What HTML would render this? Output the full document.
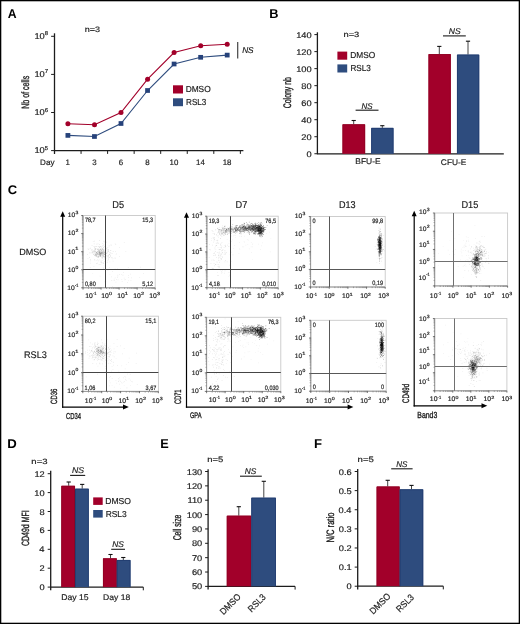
<!DOCTYPE html>
<html><head><meta charset="utf-8"><style>
html,body{margin:0;padding:0;background:#fff;}
body{width:520px;height:624px;overflow:hidden;}
svg{display:block;font-family:"Liberation Sans", sans-serif;will-change:transform;text-rendering:geometricPrecision;}
</style></head><body>
<svg width="520" height="624" viewBox="0 0 520 624">
<defs><filter id="bl" x="-5%" y="-5%" width="110%" height="110%"><feGaussianBlur stdDeviation="0.5"/></filter></defs>
<rect x="0" y="0" width="520" height="624" fill="#fff"/>
<text x="7.79" y="17.90" font-size="12.90" font-weight="bold" textLength="8.84" lengthAdjust="spacingAndGlyphs" fill="#000">A</text>
<text x="269.27" y="17.90" font-size="12.90" font-weight="bold" textLength="9.23" lengthAdjust="spacingAndGlyphs" fill="#000">B</text>
<text x="7.78" y="194.00" font-size="12.57" font-weight="bold" textLength="9.37" lengthAdjust="spacingAndGlyphs" fill="#000">C</text>
<text x="7.24" y="447.70" font-size="12.75" font-weight="bold" textLength="9.51" lengthAdjust="spacingAndGlyphs" fill="#000">D</text>
<text x="160.37" y="447.70" font-size="12.90" font-weight="bold" textLength="8.50" lengthAdjust="spacingAndGlyphs" fill="#000">E</text>
<text x="314.05" y="447.70" font-size="12.90" font-weight="bold" textLength="8.03" lengthAdjust="spacingAndGlyphs" fill="#000">F</text>
<line x1="54.50" y1="33.30" x2="54.50" y2="153.90" stroke="#1c1c1c" stroke-width="1.3"/>
<line x1="54.50" y1="150.60" x2="243.40" y2="150.60" stroke="#1c1c1c" stroke-width="1.4"/>
<line x1="51.10" y1="36.30" x2="54.50" y2="36.30" stroke="#1c1c1c" stroke-width="1"/>
<text x="34.40" y="38.90" font-size="8.43" textLength="10.40" lengthAdjust="spacingAndGlyphs" fill="#1c1c1c" stroke="#1c1c1c" stroke-width="0.18">10</text>
<text x="44.83" y="35.30" font-size="5.71" textLength="3.31" lengthAdjust="spacingAndGlyphs" fill="#1c1c1c" stroke="#1c1c1c" stroke-width="0.18">8</text>
<line x1="51.10" y1="74.40" x2="54.50" y2="74.40" stroke="#1c1c1c" stroke-width="1"/>
<text x="34.40" y="77.00" font-size="8.43" textLength="10.40" lengthAdjust="spacingAndGlyphs" fill="#1c1c1c" stroke="#1c1c1c" stroke-width="0.18">10</text>
<text x="44.79" y="73.40" font-size="5.80" textLength="3.42" lengthAdjust="spacingAndGlyphs" fill="#1c1c1c" stroke="#1c1c1c" stroke-width="0.18">7</text>
<line x1="51.10" y1="112.50" x2="54.50" y2="112.50" stroke="#1c1c1c" stroke-width="1"/>
<text x="34.40" y="115.10" font-size="8.43" textLength="10.40" lengthAdjust="spacingAndGlyphs" fill="#1c1c1c" stroke="#1c1c1c" stroke-width="0.18">10</text>
<text x="44.80" y="111.50" font-size="5.71" textLength="3.39" lengthAdjust="spacingAndGlyphs" fill="#1c1c1c" stroke="#1c1c1c" stroke-width="0.18">6</text>
<line x1="51.10" y1="150.60" x2="54.50" y2="150.60" stroke="#1c1c1c" stroke-width="1"/>
<text x="34.40" y="153.20" font-size="8.43" textLength="10.40" lengthAdjust="spacingAndGlyphs" fill="#1c1c1c" stroke="#1c1c1c" stroke-width="0.18">10</text>
<text x="44.86" y="149.60" font-size="5.80" textLength="3.28" lengthAdjust="spacingAndGlyphs" fill="#1c1c1c" stroke="#1c1c1c" stroke-width="0.18">5</text>
<line x1="54.50" y1="150.60" x2="54.50" y2="153.90" stroke="#1c1c1c" stroke-width="1"/>
<line x1="81.05" y1="150.60" x2="81.05" y2="153.90" stroke="#1c1c1c" stroke-width="1"/>
<line x1="107.60" y1="150.60" x2="107.60" y2="153.90" stroke="#1c1c1c" stroke-width="1"/>
<line x1="134.15" y1="150.60" x2="134.15" y2="153.90" stroke="#1c1c1c" stroke-width="1"/>
<line x1="160.70" y1="150.60" x2="160.70" y2="153.90" stroke="#1c1c1c" stroke-width="1"/>
<line x1="187.25" y1="150.60" x2="187.25" y2="153.90" stroke="#1c1c1c" stroke-width="1"/>
<line x1="213.80" y1="150.60" x2="213.80" y2="153.90" stroke="#1c1c1c" stroke-width="1"/>
<line x1="240.35" y1="150.60" x2="240.35" y2="153.90" stroke="#1c1c1c" stroke-width="1"/>
<text x="65.61" y="164.70" font-size="7.97" textLength="4.39" lengthAdjust="spacingAndGlyphs" fill="#1c1c1c" stroke="#1c1c1c" stroke-width="0.18">1</text>
<text x="92.28" y="164.70" font-size="7.86" textLength="4.39" lengthAdjust="spacingAndGlyphs" fill="#1c1c1c" stroke="#1c1c1c" stroke-width="0.18">3</text>
<text x="118.79" y="164.70" font-size="7.86" textLength="4.39" lengthAdjust="spacingAndGlyphs" fill="#1c1c1c" stroke="#1c1c1c" stroke-width="0.18">6</text>
<text x="145.34" y="164.70" font-size="7.86" textLength="4.39" lengthAdjust="spacingAndGlyphs" fill="#1c1c1c" stroke="#1c1c1c" stroke-width="0.18">8</text>
<text x="169.58" y="164.70" font-size="7.86" textLength="8.79" lengthAdjust="spacingAndGlyphs" fill="#1c1c1c" stroke="#1c1c1c" stroke-width="0.18">10</text>
<text x="196.09" y="164.70" font-size="7.97" textLength="8.79" lengthAdjust="spacingAndGlyphs" fill="#1c1c1c" stroke="#1c1c1c" stroke-width="0.18">14</text>
<text x="222.68" y="164.70" font-size="7.86" textLength="8.79" lengthAdjust="spacingAndGlyphs" fill="#1c1c1c" stroke="#1c1c1c" stroke-width="0.18">18</text>
<text x="40.05" y="164.70" font-size="7.97" textLength="14.37" lengthAdjust="spacingAndGlyphs" fill="#1c1c1c" stroke="#1c1c1c" stroke-width="0.18">Day</text>
<text x="84.71" y="32.00" font-size="7.86" textLength="15.30" lengthAdjust="spacingAndGlyphs" fill="#1c1c1c" stroke="#1c1c1c" stroke-width="0.18">n=3</text>
<text transform="translate(28.80,108.77) rotate(-90)" font-size="10.62" textLength="33.00" lengthAdjust="spacingAndGlyphs" fill="#1c1c1c" stroke="#1c1c1c" stroke-width="0.35">Nb of cells</text>
<polyline points="67.9,123.8 94.5,124.8 121.0,112.6 147.6,79.2 174.1,52.5 200.7,45.7 227.2,44.3" fill="none" stroke="#A2002A" stroke-width="1.1"/>
<polyline points="67.9,135.4 94.5,136.5 121.0,123.5 147.6,90.5 174.1,64.0 200.7,57.3 227.2,55.1" fill="none" stroke="#2E4C7E" stroke-width="1.1"/>
<circle cx="67.9" cy="123.8" r="2.5" fill="#A2002A"/>
<circle cx="94.5" cy="124.8" r="2.5" fill="#A2002A"/>
<circle cx="121.0" cy="112.6" r="2.5" fill="#A2002A"/>
<circle cx="147.6" cy="79.2" r="2.5" fill="#A2002A"/>
<circle cx="174.1" cy="52.5" r="2.5" fill="#A2002A"/>
<circle cx="200.7" cy="45.7" r="2.5" fill="#A2002A"/>
<circle cx="227.2" cy="44.3" r="2.5" fill="#A2002A"/>
<rect x="65.50" y="133.05" width="4.80" height="4.70" fill="#26427A"/>
<rect x="92.05" y="134.15" width="4.80" height="4.70" fill="#26427A"/>
<rect x="118.60" y="121.15" width="4.80" height="4.70" fill="#26427A"/>
<rect x="145.15" y="88.15" width="4.80" height="4.70" fill="#26427A"/>
<rect x="171.70" y="61.65" width="4.80" height="4.70" fill="#26427A"/>
<rect x="198.25" y="54.95" width="4.80" height="4.70" fill="#26427A"/>
<rect x="224.80" y="52.75" width="4.80" height="4.70" fill="#26427A"/>
<line x1="237.70" y1="41.90" x2="237.70" y2="58.60" stroke="#444" stroke-width="1.2"/>
<text x="242.15" y="52.90" font-size="8.43" font-style="italic" textLength="11.46" lengthAdjust="spacingAndGlyphs" fill="#1c1c1c" stroke="#1c1c1c" stroke-width="0.18">NS</text>
<rect x="173.00" y="85.30" width="10.00" height="8.20" fill="#A2002A"/>
<text x="185.63" y="92.10" font-size="8.71" textLength="25.09" lengthAdjust="spacingAndGlyphs" fill="#1c1c1c" stroke="#1c1c1c" stroke-width="0.18">DMSO</text>
<rect x="173.00" y="98.30" width="10.00" height="7.90" fill="#2E4C7E"/>
<text x="186.05" y="105.30" font-size="8.71" textLength="20.33" lengthAdjust="spacingAndGlyphs" fill="#1c1c1c" stroke="#1c1c1c" stroke-width="0.18">RSL3</text>
<line x1="317.40" y1="32.30" x2="317.40" y2="154.30" stroke="#1c1c1c" stroke-width="1.3"/>
<line x1="317.40" y1="153.80" x2="503.80" y2="153.80" stroke="#1c1c1c" stroke-width="1.3"/>
<line x1="314.40" y1="34.60" x2="317.40" y2="34.60" stroke="#1c1c1c" stroke-width="1"/>
<text x="296.22" y="37.60" font-size="8.29" textLength="15.48" lengthAdjust="spacingAndGlyphs" fill="#1c1c1c" stroke="#1c1c1c" stroke-width="0.18">140</text>
<line x1="314.40" y1="51.62" x2="317.40" y2="51.62" stroke="#1c1c1c" stroke-width="1"/>
<text x="296.22" y="54.62" font-size="8.29" textLength="15.48" lengthAdjust="spacingAndGlyphs" fill="#1c1c1c" stroke="#1c1c1c" stroke-width="0.18">120</text>
<line x1="314.40" y1="68.64" x2="317.40" y2="68.64" stroke="#1c1c1c" stroke-width="1"/>
<text x="296.22" y="71.64" font-size="8.29" textLength="15.48" lengthAdjust="spacingAndGlyphs" fill="#1c1c1c" stroke="#1c1c1c" stroke-width="0.18">100</text>
<line x1="314.40" y1="85.66" x2="317.40" y2="85.66" stroke="#1c1c1c" stroke-width="1"/>
<text x="301.37" y="88.66" font-size="8.29" textLength="10.32" lengthAdjust="spacingAndGlyphs" fill="#1c1c1c" stroke="#1c1c1c" stroke-width="0.18">80</text>
<line x1="314.40" y1="102.68" x2="317.40" y2="102.68" stroke="#1c1c1c" stroke-width="1"/>
<text x="301.37" y="105.68" font-size="8.29" textLength="10.32" lengthAdjust="spacingAndGlyphs" fill="#1c1c1c" stroke="#1c1c1c" stroke-width="0.18">60</text>
<line x1="314.40" y1="119.70" x2="317.40" y2="119.70" stroke="#1c1c1c" stroke-width="1"/>
<text x="301.37" y="122.70" font-size="8.29" textLength="10.32" lengthAdjust="spacingAndGlyphs" fill="#1c1c1c" stroke="#1c1c1c" stroke-width="0.18">40</text>
<line x1="314.40" y1="136.72" x2="317.40" y2="136.72" stroke="#1c1c1c" stroke-width="1"/>
<text x="301.37" y="139.72" font-size="8.29" textLength="10.32" lengthAdjust="spacingAndGlyphs" fill="#1c1c1c" stroke="#1c1c1c" stroke-width="0.18">20</text>
<line x1="314.40" y1="153.74" x2="317.40" y2="153.74" stroke="#1c1c1c" stroke-width="1"/>
<text x="306.52" y="156.74" font-size="8.29" textLength="5.16" lengthAdjust="spacingAndGlyphs" fill="#1c1c1c" stroke="#1c1c1c" stroke-width="0.18">0</text>
<text x="343.49" y="36.90" font-size="7.71" textLength="15.84" lengthAdjust="spacingAndGlyphs" fill="#1c1c1c" stroke="#1c1c1c" stroke-width="0.18">n=3</text>
<text transform="translate(290.70,108.25) rotate(-90)" font-size="10.90" textLength="31.14" lengthAdjust="spacingAndGlyphs" fill="#1c1c1c" stroke="#1c1c1c" stroke-width="0.35">Colony nb</text>
<line x1="353.70" y1="124.30" x2="353.70" y2="120.50" stroke="#444" stroke-width="1"/>
<line x1="351.60" y1="120.50" x2="355.80" y2="120.50" stroke="#111" stroke-width="1.1"/>
<rect x="342.50" y="124.30" width="22.60" height="29.50" fill="#A2002A"/>
<path d="M342.90 153.80V124.70H364.70V153.80" fill="none" stroke="#8E0022" stroke-width="0.8"/>
<line x1="382.30" y1="127.90" x2="382.30" y2="125.70" stroke="#444" stroke-width="1"/>
<line x1="380.20" y1="125.70" x2="384.40" y2="125.70" stroke="#111" stroke-width="1.1"/>
<rect x="371.20" y="127.90" width="22.30" height="25.90" fill="#2E4C7E"/>
<path d="M371.60 153.80V128.30H393.10V153.80" fill="none" stroke="#1F3A6E" stroke-width="0.8"/>
<line x1="439.30" y1="54.10" x2="439.30" y2="46.40" stroke="#444" stroke-width="1"/>
<line x1="437.20" y1="46.40" x2="441.40" y2="46.40" stroke="#111" stroke-width="1.1"/>
<rect x="428.50" y="54.10" width="22.30" height="99.70" fill="#A2002A"/>
<path d="M428.90 153.80V54.50H450.40V153.80" fill="none" stroke="#8E0022" stroke-width="0.8"/>
<line x1="468.00" y1="54.60" x2="468.00" y2="41.20" stroke="#444" stroke-width="1"/>
<line x1="465.90" y1="41.20" x2="470.10" y2="41.20" stroke="#111" stroke-width="1.1"/>
<rect x="457.00" y="54.60" width="22.20" height="99.20" fill="#2E4C7E"/>
<path d="M457.40 153.80V55.00H478.80V153.80" fill="none" stroke="#1F3A6E" stroke-width="0.8"/>
<line x1="355.60" y1="110.20" x2="378.50" y2="110.20" stroke="#1a1a1a" stroke-width="1.1"/>
<text x="361.46" y="108.50" font-size="8.29" font-style="italic" textLength="11.05" lengthAdjust="spacingAndGlyphs" fill="#1c1c1c" stroke="#1c1c1c" stroke-width="0.18">NS</text>
<line x1="443.00" y1="35.90" x2="465.80" y2="35.90" stroke="#1a1a1a" stroke-width="1.1"/>
<text x="448.74" y="33.70" font-size="8.29" font-style="italic" textLength="11.88" lengthAdjust="spacingAndGlyphs" fill="#1c1c1c" stroke="#1c1c1c" stroke-width="0.18">NS</text>
<text x="355.33" y="164.40" font-size="8.26" textLength="25.21" lengthAdjust="spacingAndGlyphs" fill="#1c1c1c" stroke="#1c1c1c" stroke-width="0.18">BFU-E</text>
<text x="440.88" y="164.70" font-size="8.14" textLength="25.45" lengthAdjust="spacingAndGlyphs" fill="#1c1c1c" stroke="#1c1c1c" stroke-width="0.18">CFU-E</text>
<rect x="337.40" y="51.60" width="9.80" height="8.10" fill="#A2002A"/>
<text x="350.23" y="58.40" font-size="8.71" textLength="24.98" lengthAdjust="spacingAndGlyphs" fill="#1c1c1c" stroke="#1c1c1c" stroke-width="0.18">DMSO</text>
<rect x="337.40" y="64.40" width="9.80" height="8.10" fill="#2E4C7E"/>
<text x="350.45" y="71.20" font-size="8.71" textLength="20.43" lengthAdjust="spacingAndGlyphs" fill="#1c1c1c" stroke="#1c1c1c" stroke-width="0.18">RSL3</text>
<text x="112.35" y="207.80" font-size="10.00" textLength="11.76" lengthAdjust="spacingAndGlyphs" fill="#1c1c1c" stroke="#1c1c1c" stroke-width="0.18">D5</text>
<text x="235.60" y="207.80" font-size="10.00" textLength="11.76" lengthAdjust="spacingAndGlyphs" fill="#1c1c1c" stroke="#1c1c1c" stroke-width="0.18">D7</text>
<text x="339.02" y="207.80" font-size="9.86" textLength="16.64" lengthAdjust="spacingAndGlyphs" fill="#1c1c1c" stroke="#1c1c1c" stroke-width="0.18">D13</text>
<text x="461.38" y="207.80" font-size="10.00" textLength="16.88" lengthAdjust="spacingAndGlyphs" fill="#1c1c1c" stroke="#1c1c1c" stroke-width="0.18">D15</text>
<text x="19.18" y="254.90" font-size="9.14" textLength="27.18" lengthAdjust="spacingAndGlyphs" fill="#1c1c1c" stroke="#1c1c1c" stroke-width="0.18">DMSO</text>
<text x="23.97" y="358.00" font-size="9.57" textLength="22.86" lengthAdjust="spacingAndGlyphs" fill="#1c1c1c" stroke="#1c1c1c" stroke-width="0.18">RSL3</text>
<rect x="83.0" y="215.5" width="72.2" height="72.3" fill="none" stroke="#c8c8c8" stroke-width="0.9"/>
<g filter="url(#bl)">
<path d="M99.0 253.3h0.7v0.7h-0.7zM99.1 251.4h0.7v0.7h-0.7zM97.3 251.6h0.7v0.7h-0.7zM102.6 253.1h0.7v0.7h-0.7zM102.4 252.7h0.7v0.7h-0.7zM100.7 252.5h0.7v0.7h-0.7zM95.4 254.1h0.7v0.7h-0.7zM101.0 253.2h0.7v0.7h-0.7zM95.3 248.1h0.7v0.7h-0.7zM97.4 251.0h0.7v0.7h-0.7zM100.5 252.0h0.7v0.7h-0.7zM101.1 250.6h0.7v0.7h-0.7zM100.5 253.0h0.7v0.7h-0.7zM98.0 256.1h0.7v0.7h-0.7zM101.1 254.9h0.7v0.7h-0.7zM98.1 250.4h0.7v0.7h-0.7zM98.8 251.9h0.7v0.7h-0.7zM101.3 252.7h0.7v0.7h-0.7zM98.5 249.9h0.7v0.7h-0.7zM98.3 254.9h0.7v0.7h-0.7z" fill="#000" fill-opacity="0.18"/>
<path d="M97.6 252.7h0.7v0.7h-0.7zM100.8 248.7h0.7v0.7h-0.7zM99.8 255.1h0.7v0.7h-0.7zM94.5 251.4h0.7v0.7h-0.7zM99.4 250.2h0.7v0.7h-0.7zM101.0 252.0h0.7v0.7h-0.7zM95.9 254.0h0.7v0.7h-0.7zM101.4 254.3h0.7v0.7h-0.7zM103.4 252.9h0.7v0.7h-0.7zM100.0 249.1h0.7v0.7h-0.7zM101.3 250.7h0.7v0.7h-0.7zM98.5 249.2h0.7v0.7h-0.7zM97.2 250.9h0.7v0.7h-0.7zM103.1 247.4h0.7v0.7h-0.7zM95.9 252.7h0.7v0.7h-0.7zM103.5 253.4h0.7v0.7h-0.7zM94.8 246.3h0.7v0.7h-0.7zM100.6 250.4h0.7v0.7h-0.7zM96.8 254.3h0.7v0.7h-0.7zM102.6 252.5h0.7v0.7h-0.7z" fill="#000" fill-opacity="0.18"/>
<path d="M100.3 253.1h0.7v0.7h-0.7zM103.8 253.5h0.7v0.7h-0.7zM101.0 253.4h0.7v0.7h-0.7zM95.6 255.0h0.7v0.7h-0.7zM102.2 253.3h0.7v0.7h-0.7zM94.6 250.6h0.7v0.7h-0.7zM101.9 247.9h0.7v0.7h-0.7zM99.2 254.4h0.7v0.7h-0.7zM96.3 255.8h0.7v0.7h-0.7zM101.1 251.8h0.7v0.7h-0.7zM100.5 253.6h0.7v0.7h-0.7zM100.0 254.7h0.7v0.7h-0.7zM98.0 251.1h0.7v0.7h-0.7zM102.4 252.2h0.7v0.7h-0.7zM97.4 254.3h0.7v0.7h-0.7zM103.5 251.1h0.7v0.7h-0.7zM96.1 251.8h0.7v0.7h-0.7zM99.3 251.4h0.7v0.7h-0.7zM103.4 249.7h0.7v0.7h-0.7zM103.0 249.2h0.7v0.7h-0.7z" fill="#000" fill-opacity="0.18"/>
<path d="M97.7 253.6h0.7v0.7h-0.7zM102.6 254.1h0.7v0.7h-0.7zM100.6 252.4h0.7v0.7h-0.7zM100.1 253.4h0.7v0.7h-0.7zM99.2 252.7h0.7v0.7h-0.7zM101.2 252.1h0.7v0.7h-0.7zM101.7 253.4h0.7v0.7h-0.7zM104.9 252.8h0.7v0.7h-0.7zM98.6 251.2h0.7v0.7h-0.7zM99.7 254.2h0.7v0.7h-0.7zM98.8 253.0h0.7v0.7h-0.7zM104.5 246.2h0.7v0.7h-0.7zM96.8 252.7h0.7v0.7h-0.7zM100.7 252.6h0.7v0.7h-0.7zM98.6 253.6h0.7v0.7h-0.7zM100.4 250.9h0.7v0.7h-0.7zM106.0 252.9h0.7v0.7h-0.7zM98.3 251.9h0.7v0.7h-0.7zM99.1 252.0h0.7v0.7h-0.7zM92.6 251.0h0.7v0.7h-0.7z" fill="#000" fill-opacity="0.18"/>
<path d="M102.3 249.4h0.7v0.7h-0.7zM99.5 254.3h0.7v0.7h-0.7zM101.9 255.5h0.7v0.7h-0.7zM95.3 251.3h0.7v0.7h-0.7zM98.8 253.5h0.7v0.7h-0.7zM102.5 245.9h0.7v0.7h-0.7zM102.5 248.8h0.7v0.7h-0.7zM101.5 248.7h0.7v0.7h-0.7zM100.2 254.8h0.7v0.7h-0.7zM99.3 252.5h0.7v0.7h-0.7zM101.8 252.4h0.7v0.7h-0.7zM99.5 255.6h0.7v0.7h-0.7zM102.4 251.4h0.7v0.7h-0.7zM106.8 249.5h0.7v0.7h-0.7zM102.1 251.5h0.7v0.7h-0.7zM100.0 253.7h0.7v0.7h-0.7zM100.3 253.6h0.7v0.7h-0.7zM95.7 248.6h0.7v0.7h-0.7zM101.3 249.9h0.7v0.7h-0.7zM97.0 248.7h0.7v0.7h-0.7z" fill="#000" fill-opacity="0.18"/>
<path d="M103.0 253.8h0.7v0.7h-0.7zM103.5 249.9h0.7v0.7h-0.7zM99.7 249.5h0.7v0.7h-0.7zM101.7 255.8h0.7v0.7h-0.7zM97.4 255.7h0.7v0.7h-0.7zM102.3 251.7h0.7v0.7h-0.7zM94.6 255.3h0.7v0.7h-0.7zM99.4 250.7h0.7v0.7h-0.7zM100.7 253.0h0.7v0.7h-0.7zM103.6 249.8h0.7v0.7h-0.7zM102.7 255.5h0.7v0.7h-0.7zM103.5 251.7h0.7v0.7h-0.7zM97.8 254.4h0.7v0.7h-0.7zM100.0 252.4h0.7v0.7h-0.7zM103.4 251.5h0.7v0.7h-0.7zM93.7 251.2h0.7v0.7h-0.7zM94.9 254.0h0.7v0.7h-0.7zM100.5 250.7h0.7v0.7h-0.7zM99.7 254.0h0.7v0.7h-0.7zM99.9 255.2h0.7v0.7h-0.7z" fill="#000" fill-opacity="0.18"/>
<path d="M99.5 254.5h0.7v0.7h-0.7zM103.6 255.8h0.7v0.7h-0.7zM98.0 254.1h0.7v0.7h-0.7zM94.8 249.6h0.7v0.7h-0.7zM94.6 254.6h0.7v0.7h-0.7zM96.5 252.1h0.7v0.7h-0.7zM99.2 252.0h0.7v0.7h-0.7zM98.2 252.6h0.7v0.7h-0.7zM104.4 252.2h0.7v0.7h-0.7zM101.1 254.4h0.7v0.7h-0.7z" fill="#000" fill-opacity="0.18"/>
<path d="M98.9 246.8h0.7v0.7h-0.7zM96.9 257.3h0.7v0.7h-0.7zM90.9 249.8h0.7v0.7h-0.7zM105.5 256.1h0.7v0.7h-0.7zM100.0 256.1h0.7v0.7h-0.7zM100.9 247.2h0.7v0.7h-0.7zM91.4 249.6h0.7v0.7h-0.7zM105.1 250.0h0.7v0.7h-0.7zM95.0 249.0h0.7v0.7h-0.7zM91.6 252.0h0.7v0.7h-0.7zM93.5 254.1h0.7v0.7h-0.7zM87.0 254.0h0.7v0.7h-0.7zM96.5 243.8h0.7v0.7h-0.7zM104.0 251.3h0.7v0.7h-0.7zM87.7 248.6h0.7v0.7h-0.7zM101.6 250.4h0.7v0.7h-0.7zM104.3 255.9h0.7v0.7h-0.7zM103.7 254.0h0.7v0.7h-0.7zM107.3 255.5h0.7v0.7h-0.7zM102.5 243.1h0.7v0.7h-0.7z" fill="#000" fill-opacity="0.13"/>
<path d="M104.9 258.4h0.7v0.7h-0.7zM98.4 250.4h0.7v0.7h-0.7zM110.7 244.6h0.7v0.7h-0.7zM102.6 263.4h0.7v0.7h-0.7zM94.9 255.6h0.7v0.7h-0.7zM110.4 252.0h0.7v0.7h-0.7zM103.1 256.6h0.7v0.7h-0.7zM95.0 252.1h0.7v0.7h-0.7zM101.6 256.2h0.7v0.7h-0.7zM99.8 251.6h0.7v0.7h-0.7zM94.4 250.9h0.7v0.7h-0.7zM104.9 253.0h0.7v0.7h-0.7zM95.3 248.7h0.7v0.7h-0.7zM114.7 257.6h0.7v0.7h-0.7zM103.5 240.8h0.7v0.7h-0.7zM103.4 254.7h0.7v0.7h-0.7zM109.3 254.4h0.7v0.7h-0.7zM99.6 254.9h0.7v0.7h-0.7zM89.3 257.1h0.7v0.7h-0.7zM101.8 249.3h0.7v0.7h-0.7z" fill="#000" fill-opacity="0.13"/>
<path d="M107.3 260.6h0.7v0.7h-0.7zM92.3 249.5h0.7v0.7h-0.7zM101.6 253.3h0.7v0.7h-0.7zM97.8 248.1h0.7v0.7h-0.7zM111.7 257.2h0.7v0.7h-0.7zM93.4 246.4h0.7v0.7h-0.7zM109.4 257.0h0.7v0.7h-0.7zM110.0 256.1h0.7v0.7h-0.7zM95.2 253.7h0.7v0.7h-0.7zM88.1 249.1h0.7v0.7h-0.7zM99.7 254.9h0.7v0.7h-0.7zM96.0 251.9h0.7v0.7h-0.7zM102.5 254.2h0.7v0.7h-0.7zM103.5 253.4h0.7v0.7h-0.7zM98.2 256.1h0.7v0.7h-0.7zM100.3 248.8h0.7v0.7h-0.7zM96.6 252.5h0.7v0.7h-0.7zM99.4 253.2h0.7v0.7h-0.7zM100.0 253.3h0.7v0.7h-0.7zM99.3 246.8h0.7v0.7h-0.7z" fill="#000" fill-opacity="0.13"/>
<path d="M102.3 257.2h0.7v0.7h-0.7zM102.4 251.6h0.7v0.7h-0.7zM102.5 248.2h0.7v0.7h-0.7zM89.6 252.8h0.7v0.7h-0.7zM94.9 255.8h0.7v0.7h-0.7zM94.0 240.7h0.7v0.7h-0.7zM94.3 259.6h0.7v0.7h-0.7zM97.9 246.3h0.7v0.7h-0.7zM95.8 254.8h0.7v0.7h-0.7zM102.7 253.3h0.7v0.7h-0.7zM108.2 255.7h0.7v0.7h-0.7zM99.9 255.2h0.7v0.7h-0.7zM109.1 256.9h0.7v0.7h-0.7zM105.6 247.6h0.7v0.7h-0.7zM99.2 255.8h0.7v0.7h-0.7zM98.4 257.3h0.7v0.7h-0.7zM103.3 256.6h0.7v0.7h-0.7zM98.8 264.0h0.7v0.7h-0.7zM106.8 251.5h0.7v0.7h-0.7zM100.5 264.2h0.7v0.7h-0.7z" fill="#000" fill-opacity="0.13"/>
<path d="M98.1 256.4h0.7v0.7h-0.7zM105.4 252.5h0.7v0.7h-0.7zM93.6 253.3h0.7v0.7h-0.7zM102.0 257.6h0.7v0.7h-0.7zM104.3 252.6h0.7v0.7h-0.7zM104.7 254.9h0.7v0.7h-0.7zM101.1 252.7h0.7v0.7h-0.7zM98.7 255.6h0.7v0.7h-0.7zM94.2 249.7h0.7v0.7h-0.7zM100.0 245.9h0.7v0.7h-0.7zM97.6 243.5h0.7v0.7h-0.7zM96.2 255.1h0.7v0.7h-0.7zM103.1 252.3h0.7v0.7h-0.7zM98.7 246.1h0.7v0.7h-0.7zM110.1 254.8h0.7v0.7h-0.7zM106.0 248.5h0.7v0.7h-0.7zM99.0 244.3h0.7v0.7h-0.7zM104.3 256.7h0.7v0.7h-0.7zM89.6 252.3h0.7v0.7h-0.7zM103.5 244.6h0.7v0.7h-0.7z" fill="#000" fill-opacity="0.13"/>
<path d="M90.0 247.7h0.7v0.7h-0.7zM96.5 246.2h0.7v0.7h-0.7zM100.2 253.6h0.7v0.7h-0.7zM103.5 255.7h0.7v0.7h-0.7zM108.3 257.7h0.7v0.7h-0.7zM92.8 250.2h0.7v0.7h-0.7zM94.2 247.7h0.7v0.7h-0.7zM99.6 252.5h0.7v0.7h-0.7zM102.7 245.4h0.7v0.7h-0.7zM93.2 252.4h0.7v0.7h-0.7zM98.9 251.1h0.7v0.7h-0.7zM99.7 249.1h0.7v0.7h-0.7zM103.9 254.1h0.7v0.7h-0.7zM99.5 249.5h0.7v0.7h-0.7zM99.0 240.3h0.7v0.7h-0.7zM94.6 252.7h0.7v0.7h-0.7zM91.7 253.4h0.7v0.7h-0.7zM100.8 246.3h0.7v0.7h-0.7zM98.6 251.1h0.7v0.7h-0.7zM102.5 255.3h0.7v0.7h-0.7z" fill="#000" fill-opacity="0.13"/>
<path d="M99.8 248.7h0.7v0.7h-0.7zM99.2 252.2h0.7v0.7h-0.7zM104.0 253.8h0.7v0.7h-0.7zM96.0 246.4h0.7v0.7h-0.7zM97.9 249.2h0.7v0.7h-0.7zM93.9 252.0h0.7v0.7h-0.7zM97.3 253.0h0.7v0.7h-0.7zM102.9 250.6h0.7v0.7h-0.7zM112.8 251.1h0.7v0.7h-0.7zM106.1 253.0h0.7v0.7h-0.7zM106.1 241.8h0.7v0.7h-0.7zM95.9 253.6h0.7v0.7h-0.7zM103.3 263.0h0.7v0.7h-0.7zM101.8 258.3h0.7v0.7h-0.7zM104.2 256.8h0.7v0.7h-0.7zM102.8 251.8h0.7v0.7h-0.7zM102.8 247.6h0.7v0.7h-0.7zM106.5 247.9h0.7v0.7h-0.7zM101.4 262.0h0.7v0.7h-0.7zM98.8 252.6h0.7v0.7h-0.7z" fill="#000" fill-opacity="0.13"/>
<path d="M106.4 252.6h0.7v0.7h-0.7zM95.6 253.7h0.7v0.7h-0.7zM103.2 255.7h0.7v0.7h-0.7zM95.8 260.4h0.7v0.7h-0.7zM109.2 252.6h0.7v0.7h-0.7zM101.5 250.6h0.7v0.7h-0.7zM107.8 249.3h0.7v0.7h-0.7zM103.7 250.3h0.7v0.7h-0.7zM96.2 255.7h0.7v0.7h-0.7zM107.3 252.5h0.7v0.7h-0.7zM96.3 256.2h0.7v0.7h-0.7zM99.7 253.9h0.7v0.7h-0.7zM108.4 257.6h0.7v0.7h-0.7zM97.1 262.8h0.7v0.7h-0.7zM100.0 256.0h0.7v0.7h-0.7zM96.4 252.3h0.7v0.7h-0.7zM90.4 260.5h0.7v0.7h-0.7zM107.5 247.0h0.7v0.7h-0.7zM91.7 245.2h0.7v0.7h-0.7zM106.5 250.4h0.7v0.7h-0.7z" fill="#000" fill-opacity="0.13"/>
<path d="M99.7 251.1h0.7v0.7h-0.7zM99.3 247.6h0.7v0.7h-0.7zM100.1 246.0h0.7v0.7h-0.7zM99.6 253.9h0.7v0.7h-0.7zM102.6 251.5h0.7v0.7h-0.7zM95.0 253.2h0.7v0.7h-0.7zM97.3 259.5h0.7v0.7h-0.7zM104.2 252.0h0.7v0.7h-0.7zM97.4 249.3h0.7v0.7h-0.7zM94.8 250.9h0.7v0.7h-0.7zM101.6 254.8h0.7v0.7h-0.7zM103.1 261.9h0.7v0.7h-0.7zM96.1 252.6h0.7v0.7h-0.7zM115.4 244.1h0.7v0.7h-0.7zM97.1 253.3h0.7v0.7h-0.7zM100.8 254.3h0.7v0.7h-0.7zM98.7 254.1h0.7v0.7h-0.7zM100.3 256.0h0.7v0.7h-0.7zM89.6 248.5h0.7v0.7h-0.7zM100.0 247.9h0.7v0.7h-0.7z" fill="#000" fill-opacity="0.13"/>
<path d="M94.3 255.3h0.7v0.7h-0.7zM96.4 255.4h0.7v0.7h-0.7zM104.1 253.9h0.7v0.7h-0.7zM102.8 252.0h0.7v0.7h-0.7zM92.2 252.4h0.7v0.7h-0.7zM102.5 250.1h0.7v0.7h-0.7zM99.5 255.9h0.7v0.7h-0.7zM95.2 255.4h0.7v0.7h-0.7zM110.2 250.0h0.7v0.7h-0.7zM100.8 251.8h0.7v0.7h-0.7zM108.5 253.9h0.7v0.7h-0.7zM104.9 249.4h0.7v0.7h-0.7zM99.9 252.5h0.7v0.7h-0.7zM90.2 259.0h0.7v0.7h-0.7zM104.9 244.6h0.7v0.7h-0.7zM104.1 251.9h0.7v0.7h-0.7zM102.5 254.1h0.7v0.7h-0.7zM91.8 251.5h0.7v0.7h-0.7zM108.2 249.9h0.7v0.7h-0.7zM94.4 246.4h0.7v0.7h-0.7z" fill="#000" fill-opacity="0.13"/>
<path d="M93.3 254.0h0.7v0.7h-0.7zM109.3 254.4h0.7v0.7h-0.7zM101.4 262.6h0.7v0.7h-0.7zM97.1 249.5h0.7v0.7h-0.7zM102.9 255.0h0.7v0.7h-0.7zM94.4 247.2h0.7v0.7h-0.7zM101.6 253.6h0.7v0.7h-0.7zM92.8 251.6h0.7v0.7h-0.7zM97.0 254.6h0.7v0.7h-0.7zM99.4 252.1h0.7v0.7h-0.7zM98.1 257.2h0.7v0.7h-0.7zM107.6 250.8h0.7v0.7h-0.7zM104.7 249.1h0.7v0.7h-0.7zM100.4 255.9h0.7v0.7h-0.7zM108.3 250.8h0.7v0.7h-0.7zM99.6 253.4h0.7v0.7h-0.7zM91.8 252.6h0.7v0.7h-0.7zM96.3 254.2h0.7v0.7h-0.7zM93.8 243.6h0.7v0.7h-0.7zM100.2 253.7h0.7v0.7h-0.7z" fill="#000" fill-opacity="0.13"/>
<path d="M97.0 256.5h0.7v0.7h-0.7zM98.5 249.8h0.7v0.7h-0.7zM102.6 245.4h0.7v0.7h-0.7zM96.3 252.4h0.7v0.7h-0.7zM104.7 251.8h0.7v0.7h-0.7zM101.7 249.6h0.7v0.7h-0.7zM101.7 260.0h0.7v0.7h-0.7zM96.2 263.1h0.7v0.7h-0.7zM96.5 252.6h0.7v0.7h-0.7zM101.0 257.1h0.7v0.7h-0.7z" fill="#000" fill-opacity="0.13"/>
<path d="M92.9 241.3h0.7v0.7h-0.7zM109.5 261.6h0.7v0.7h-0.7zM109.6 274.4h0.7v0.7h-0.7zM105.8 257.8h0.7v0.7h-0.7zM112.4 258.6h0.7v0.7h-0.7zM119.0 247.3h0.7v0.7h-0.7zM100.6 231.9h0.7v0.7h-0.7zM111.3 253.4h0.7v0.7h-0.7zM112.3 271.1h0.7v0.7h-0.7zM103.9 254.2h0.7v0.7h-0.7zM99.5 250.1h0.7v0.7h-0.7zM98.3 260.5h0.7v0.7h-0.7zM104.3 256.5h0.7v0.7h-0.7zM102.4 262.4h0.7v0.7h-0.7zM108.4 255.0h0.7v0.7h-0.7zM110.0 254.9h0.7v0.7h-0.7zM93.6 266.2h0.7v0.7h-0.7zM108.2 249.3h0.7v0.7h-0.7zM113.7 258.4h0.7v0.7h-0.7zM89.9 267.3h0.7v0.7h-0.7z" fill="#000" fill-opacity="0.1"/>
<path d="M107.0 262.2h0.7v0.7h-0.7zM105.8 255.0h0.7v0.7h-0.7zM90.1 262.8h0.7v0.7h-0.7zM104.3 254.0h0.7v0.7h-0.7zM107.2 256.5h0.7v0.7h-0.7zM110.1 253.4h0.7v0.7h-0.7zM103.7 241.0h0.7v0.7h-0.7zM100.2 260.7h0.7v0.7h-0.7zM116.0 253.5h0.7v0.7h-0.7zM102.9 267.1h0.7v0.7h-0.7zM101.1 261.1h0.7v0.7h-0.7zM119.1 256.3h0.7v0.7h-0.7zM115.0 251.0h0.7v0.7h-0.7zM105.9 255.5h0.7v0.7h-0.7zM105.0 263.9h0.7v0.7h-0.7zM125.5 251.3h0.7v0.7h-0.7zM98.8 259.5h0.7v0.7h-0.7zM94.5 259.5h0.7v0.7h-0.7zM109.1 254.1h0.7v0.7h-0.7zM108.8 245.2h0.7v0.7h-0.7z" fill="#000" fill-opacity="0.1"/>
<path d="M110.8 245.2h0.7v0.7h-0.7zM97.7 252.1h0.7v0.7h-0.7zM100.4 262.0h0.7v0.7h-0.7zM104.7 253.2h0.7v0.7h-0.7zM108.9 267.1h0.7v0.7h-0.7zM104.1 258.6h0.7v0.7h-0.7zM115.2 257.9h0.7v0.7h-0.7zM92.4 273.4h0.7v0.7h-0.7zM123.9 242.1h0.7v0.7h-0.7zM103.6 258.9h0.7v0.7h-0.7zM112.7 260.7h0.7v0.7h-0.7zM101.6 248.6h0.7v0.7h-0.7zM104.9 263.2h0.7v0.7h-0.7zM94.2 248.8h0.7v0.7h-0.7zM103.8 242.4h0.7v0.7h-0.7zM101.7 252.9h0.7v0.7h-0.7zM108.1 251.1h0.7v0.7h-0.7zM96.1 253.2h0.7v0.7h-0.7zM103.6 251.3h0.7v0.7h-0.7zM104.1 261.3h0.7v0.7h-0.7z" fill="#000" fill-opacity="0.1"/>
<path d="M114.7 267.9h0.7v0.7h-0.7zM96.9 253.1h0.7v0.7h-0.7zM97.5 255.8h0.7v0.7h-0.7zM108.7 246.5h0.7v0.7h-0.7zM108.2 255.8h0.7v0.7h-0.7zM87.6 258.0h0.7v0.7h-0.7zM114.8 242.9h0.7v0.7h-0.7zM111.3 257.5h0.7v0.7h-0.7zM108.3 259.1h0.7v0.7h-0.7zM115.7 254.4h0.7v0.7h-0.7zM111.9 253.1h0.7v0.7h-0.7zM110.6 250.3h0.7v0.7h-0.7zM103.0 268.1h0.7v0.7h-0.7zM108.0 254.9h0.7v0.7h-0.7zM93.7 250.5h0.7v0.7h-0.7zM105.7 262.6h0.7v0.7h-0.7zM107.8 259.7h0.7v0.7h-0.7zM103.6 265.5h0.7v0.7h-0.7zM100.5 252.2h0.7v0.7h-0.7z" fill="#000" fill-opacity="0.1"/>
<path d="M128.0 277.3h0.7v0.7h-0.7zM117.5 274.7h0.7v0.7h-0.7zM117.7 279.5h0.7v0.7h-0.7zM123.2 272.2h0.7v0.7h-0.7zM123.8 277.7h0.7v0.7h-0.7zM111.0 280.1h0.7v0.7h-0.7zM117.5 275.7h0.7v0.7h-0.7zM127.2 282.3h0.7v0.7h-0.7zM113.8 278.8h0.7v0.7h-0.7zM112.1 286.3h0.7v0.7h-0.7zM115.6 281.8h0.7v0.7h-0.7zM114.2 280.2h0.7v0.7h-0.7zM140.0 266.8h0.7v0.7h-0.7zM116.1 279.0h0.7v0.7h-0.7zM119.2 274.3h0.7v0.7h-0.7zM139.4 277.3h0.7v0.7h-0.7zM105.2 280.4h0.7v0.7h-0.7zM104.5 281.6h0.7v0.7h-0.7zM114.8 277.6h0.7v0.7h-0.7zM131.3 277.5h0.7v0.7h-0.7z" fill="#000" fill-opacity="0.1"/>
<path d="M107.5 270.2h0.7v0.7h-0.7zM130.6 280.0h0.7v0.7h-0.7zM112.7 280.4h0.7v0.7h-0.7zM124.5 279.6h0.7v0.7h-0.7zM99.7 275.8h0.7v0.7h-0.7zM128.1 279.9h0.7v0.7h-0.7zM127.9 267.2h0.7v0.7h-0.7zM121.5 279.0h0.7v0.7h-0.7zM143.0 273.2h0.7v0.7h-0.7zM117.0 277.1h0.7v0.7h-0.7zM128.0 275.2h0.7v0.7h-0.7zM130.3 273.8h0.7v0.7h-0.7zM122.4 274.9h0.7v0.7h-0.7zM121.4 274.2h0.7v0.7h-0.7zM105.6 281.4h0.7v0.7h-0.7zM122.7 274.8h0.7v0.7h-0.7zM121.8 281.0h0.7v0.7h-0.7zM111.2 276.6h0.7v0.7h-0.7zM124.9 279.1h0.7v0.7h-0.7zM117.0 268.6h0.7v0.7h-0.7z" fill="#000" fill-opacity="0.1"/>
</g>
<line x1="83.00" y1="215.50" x2="83.00" y2="287.80" stroke="#999" stroke-width="1.0"/>
<line x1="83.00" y1="287.80" x2="155.20" y2="287.80" stroke="#999" stroke-width="1.0"/>
<line x1="81.20" y1="287.80" x2="83.30" y2="287.80" stroke="#555" stroke-width="0.8"/>
<line x1="83.00" y1="287.50" x2="83.00" y2="289.60" stroke="#555" stroke-width="0.8"/>
<line x1="81.90" y1="282.36" x2="83.30" y2="282.36" stroke="#888" stroke-width="0.8"/>
<line x1="88.43" y1="287.50" x2="88.43" y2="288.90" stroke="#888" stroke-width="0.8"/>
<line x1="81.90" y1="279.18" x2="83.30" y2="279.18" stroke="#888" stroke-width="0.8"/>
<line x1="91.61" y1="287.50" x2="91.61" y2="288.90" stroke="#888" stroke-width="0.8"/>
<line x1="81.90" y1="276.92" x2="83.30" y2="276.92" stroke="#888" stroke-width="0.8"/>
<line x1="93.87" y1="287.50" x2="93.87" y2="288.90" stroke="#888" stroke-width="0.8"/>
<line x1="81.90" y1="275.17" x2="83.30" y2="275.17" stroke="#888" stroke-width="0.8"/>
<line x1="95.62" y1="287.50" x2="95.62" y2="288.90" stroke="#888" stroke-width="0.8"/>
<line x1="81.90" y1="273.73" x2="83.30" y2="273.73" stroke="#888" stroke-width="0.8"/>
<line x1="97.05" y1="287.50" x2="97.05" y2="288.90" stroke="#888" stroke-width="0.8"/>
<line x1="81.90" y1="272.52" x2="83.30" y2="272.52" stroke="#888" stroke-width="0.8"/>
<line x1="98.25" y1="287.50" x2="98.25" y2="288.90" stroke="#888" stroke-width="0.8"/>
<line x1="81.90" y1="271.48" x2="83.30" y2="271.48" stroke="#888" stroke-width="0.8"/>
<line x1="99.30" y1="287.50" x2="99.30" y2="288.90" stroke="#888" stroke-width="0.8"/>
<line x1="81.90" y1="270.55" x2="83.30" y2="270.55" stroke="#888" stroke-width="0.8"/>
<line x1="100.22" y1="287.50" x2="100.22" y2="288.90" stroke="#888" stroke-width="0.8"/>
<line x1="81.20" y1="269.73" x2="83.30" y2="269.73" stroke="#555" stroke-width="0.8"/>
<line x1="101.05" y1="287.50" x2="101.05" y2="289.60" stroke="#555" stroke-width="0.8"/>
<line x1="81.90" y1="264.28" x2="83.30" y2="264.28" stroke="#888" stroke-width="0.8"/>
<line x1="106.48" y1="287.50" x2="106.48" y2="288.90" stroke="#888" stroke-width="0.8"/>
<line x1="81.90" y1="261.10" x2="83.30" y2="261.10" stroke="#888" stroke-width="0.8"/>
<line x1="109.66" y1="287.50" x2="109.66" y2="288.90" stroke="#888" stroke-width="0.8"/>
<line x1="81.90" y1="258.84" x2="83.30" y2="258.84" stroke="#888" stroke-width="0.8"/>
<line x1="111.92" y1="287.50" x2="111.92" y2="288.90" stroke="#888" stroke-width="0.8"/>
<line x1="81.90" y1="257.09" x2="83.30" y2="257.09" stroke="#888" stroke-width="0.8"/>
<line x1="113.67" y1="287.50" x2="113.67" y2="288.90" stroke="#888" stroke-width="0.8"/>
<line x1="81.90" y1="255.66" x2="83.30" y2="255.66" stroke="#888" stroke-width="0.8"/>
<line x1="115.10" y1="287.50" x2="115.10" y2="288.90" stroke="#888" stroke-width="0.8"/>
<line x1="81.90" y1="254.45" x2="83.30" y2="254.45" stroke="#888" stroke-width="0.8"/>
<line x1="116.30" y1="287.50" x2="116.30" y2="288.90" stroke="#888" stroke-width="0.8"/>
<line x1="81.90" y1="253.40" x2="83.30" y2="253.40" stroke="#888" stroke-width="0.8"/>
<line x1="117.35" y1="287.50" x2="117.35" y2="288.90" stroke="#888" stroke-width="0.8"/>
<line x1="81.90" y1="252.48" x2="83.30" y2="252.48" stroke="#888" stroke-width="0.8"/>
<line x1="118.27" y1="287.50" x2="118.27" y2="288.90" stroke="#888" stroke-width="0.8"/>
<line x1="81.20" y1="251.65" x2="83.30" y2="251.65" stroke="#555" stroke-width="0.8"/>
<line x1="119.10" y1="287.50" x2="119.10" y2="289.60" stroke="#555" stroke-width="0.8"/>
<line x1="81.90" y1="246.21" x2="83.30" y2="246.21" stroke="#888" stroke-width="0.8"/>
<line x1="124.53" y1="287.50" x2="124.53" y2="288.90" stroke="#888" stroke-width="0.8"/>
<line x1="81.90" y1="243.03" x2="83.30" y2="243.03" stroke="#888" stroke-width="0.8"/>
<line x1="127.71" y1="287.50" x2="127.71" y2="288.90" stroke="#888" stroke-width="0.8"/>
<line x1="81.90" y1="240.77" x2="83.30" y2="240.77" stroke="#888" stroke-width="0.8"/>
<line x1="129.97" y1="287.50" x2="129.97" y2="288.90" stroke="#888" stroke-width="0.8"/>
<line x1="81.90" y1="239.02" x2="83.30" y2="239.02" stroke="#888" stroke-width="0.8"/>
<line x1="131.72" y1="287.50" x2="131.72" y2="288.90" stroke="#888" stroke-width="0.8"/>
<line x1="81.90" y1="237.58" x2="83.30" y2="237.58" stroke="#888" stroke-width="0.8"/>
<line x1="133.15" y1="287.50" x2="133.15" y2="288.90" stroke="#888" stroke-width="0.8"/>
<line x1="81.90" y1="236.37" x2="83.30" y2="236.37" stroke="#888" stroke-width="0.8"/>
<line x1="134.35" y1="287.50" x2="134.35" y2="288.90" stroke="#888" stroke-width="0.8"/>
<line x1="81.90" y1="235.33" x2="83.30" y2="235.33" stroke="#888" stroke-width="0.8"/>
<line x1="135.40" y1="287.50" x2="135.40" y2="288.90" stroke="#888" stroke-width="0.8"/>
<line x1="81.90" y1="234.40" x2="83.30" y2="234.40" stroke="#888" stroke-width="0.8"/>
<line x1="136.32" y1="287.50" x2="136.32" y2="288.90" stroke="#888" stroke-width="0.8"/>
<line x1="81.20" y1="233.57" x2="83.30" y2="233.57" stroke="#555" stroke-width="0.8"/>
<line x1="137.15" y1="287.50" x2="137.15" y2="289.60" stroke="#555" stroke-width="0.8"/>
<line x1="81.90" y1="228.13" x2="83.30" y2="228.13" stroke="#888" stroke-width="0.8"/>
<line x1="142.58" y1="287.50" x2="142.58" y2="288.90" stroke="#888" stroke-width="0.8"/>
<line x1="81.90" y1="224.95" x2="83.30" y2="224.95" stroke="#888" stroke-width="0.8"/>
<line x1="145.76" y1="287.50" x2="145.76" y2="288.90" stroke="#888" stroke-width="0.8"/>
<line x1="81.90" y1="222.69" x2="83.30" y2="222.69" stroke="#888" stroke-width="0.8"/>
<line x1="148.02" y1="287.50" x2="148.02" y2="288.90" stroke="#888" stroke-width="0.8"/>
<line x1="81.90" y1="220.94" x2="83.30" y2="220.94" stroke="#888" stroke-width="0.8"/>
<line x1="149.77" y1="287.50" x2="149.77" y2="288.90" stroke="#888" stroke-width="0.8"/>
<line x1="81.90" y1="219.51" x2="83.30" y2="219.51" stroke="#888" stroke-width="0.8"/>
<line x1="151.20" y1="287.50" x2="151.20" y2="288.90" stroke="#888" stroke-width="0.8"/>
<line x1="81.90" y1="218.30" x2="83.30" y2="218.30" stroke="#888" stroke-width="0.8"/>
<line x1="152.40" y1="287.50" x2="152.40" y2="288.90" stroke="#888" stroke-width="0.8"/>
<line x1="81.90" y1="217.25" x2="83.30" y2="217.25" stroke="#888" stroke-width="0.8"/>
<line x1="153.45" y1="287.50" x2="153.45" y2="288.90" stroke="#888" stroke-width="0.8"/>
<line x1="81.90" y1="216.33" x2="83.30" y2="216.33" stroke="#888" stroke-width="0.8"/>
<line x1="154.37" y1="287.50" x2="154.37" y2="288.90" stroke="#888" stroke-width="0.8"/>
<line x1="81.20" y1="215.50" x2="83.00" y2="215.50" stroke="#555" stroke-width="0.8"/>
<line x1="155.20" y1="287.80" x2="155.20" y2="289.60" stroke="#555" stroke-width="0.8"/>
<line x1="105.50" y1="215.50" x2="105.50" y2="287.80" stroke="#454545" stroke-width="1.0"/>
<line x1="83.00" y1="269.50" x2="155.20" y2="269.50" stroke="#454545" stroke-width="1.0"/>
<text x="67.89" y="217.40" font-size="6.57" textLength="7.49" lengthAdjust="spacingAndGlyphs" fill="#1c1c1c" stroke="#1c1c1c" stroke-width="0.18">10</text>
<text x="75.60" y="214.30" font-size="4.57" textLength="2.84" lengthAdjust="spacingAndGlyphs" fill="#1c1c1c" stroke="#1c1c1c" stroke-width="0.18">3</text>
<text x="67.89" y="235.47" font-size="6.57" textLength="7.49" lengthAdjust="spacingAndGlyphs" fill="#1c1c1c" stroke="#1c1c1c" stroke-width="0.18">10</text>
<text x="75.54" y="232.38" font-size="4.57" textLength="2.93" lengthAdjust="spacingAndGlyphs" fill="#1c1c1c" stroke="#1c1c1c" stroke-width="0.18">2</text>
<text x="67.89" y="253.55" font-size="6.57" textLength="7.49" lengthAdjust="spacingAndGlyphs" fill="#1c1c1c" stroke="#1c1c1c" stroke-width="0.18">10</text>
<text x="75.38" y="250.45" font-size="4.64" textLength="3.10" lengthAdjust="spacingAndGlyphs" fill="#1c1c1c" stroke="#1c1c1c" stroke-width="0.18">1</text>
<text x="67.89" y="271.62" font-size="6.57" textLength="7.49" lengthAdjust="spacingAndGlyphs" fill="#1c1c1c" stroke="#1c1c1c" stroke-width="0.18">10</text>
<text x="75.60" y="268.53" font-size="4.57" textLength="2.81" lengthAdjust="spacingAndGlyphs" fill="#1c1c1c" stroke="#1c1c1c" stroke-width="0.18">0</text>
<text x="67.29" y="289.70" font-size="6.57" textLength="7.49" lengthAdjust="spacingAndGlyphs" fill="#1c1c1c" stroke="#1c1c1c" stroke-width="0.18">10</text>
<text x="75.03" y="286.60" font-size="4.64" textLength="3.36" lengthAdjust="spacingAndGlyphs" fill="#1c1c1c" stroke="#1c1c1c" stroke-width="0.18">-1</text>
<text x="85.29" y="298.00" font-size="6.71" textLength="7.60" lengthAdjust="spacingAndGlyphs" fill="#1c1c1c" stroke="#1c1c1c" stroke-width="0.18">10</text>
<text x="93.02" y="295.10" font-size="4.49" textLength="3.50" lengthAdjust="spacingAndGlyphs" fill="#1c1c1c" stroke="#1c1c1c" stroke-width="0.18">-1</text>
<text x="101.29" y="298.00" font-size="6.71" textLength="7.60" lengthAdjust="spacingAndGlyphs" fill="#1c1c1c" stroke="#1c1c1c" stroke-width="0.18">10</text>
<text x="108.99" y="295.10" font-size="4.43" textLength="2.93" lengthAdjust="spacingAndGlyphs" fill="#1c1c1c" stroke="#1c1c1c" stroke-width="0.18">0</text>
<text x="117.29" y="298.00" font-size="6.71" textLength="7.60" lengthAdjust="spacingAndGlyphs" fill="#1c1c1c" stroke="#1c1c1c" stroke-width="0.18">10</text>
<text x="124.76" y="295.10" font-size="4.49" textLength="3.23" lengthAdjust="spacingAndGlyphs" fill="#1c1c1c" stroke="#1c1c1c" stroke-width="0.18">1</text>
<text x="133.29" y="298.00" font-size="6.71" textLength="7.60" lengthAdjust="spacingAndGlyphs" fill="#1c1c1c" stroke="#1c1c1c" stroke-width="0.18">10</text>
<text x="140.93" y="295.10" font-size="4.43" textLength="3.06" lengthAdjust="spacingAndGlyphs" fill="#1c1c1c" stroke="#1c1c1c" stroke-width="0.18">2</text>
<text x="149.29" y="298.00" font-size="6.71" textLength="7.60" lengthAdjust="spacingAndGlyphs" fill="#1c1c1c" stroke="#1c1c1c" stroke-width="0.18">10</text>
<text x="156.99" y="295.10" font-size="4.43" textLength="2.96" lengthAdjust="spacingAndGlyphs" fill="#1c1c1c" stroke="#1c1c1c" stroke-width="0.18">3</text>
<text x="84.92" y="221.80" font-size="6.29" textLength="10.77" lengthAdjust="spacingAndGlyphs" fill="#1c1c1c" stroke="#1c1c1c" stroke-width="0.18">78,7</text>
<text x="142.29" y="221.80" font-size="6.29" textLength="10.77" lengthAdjust="spacingAndGlyphs" fill="#1c1c1c" stroke="#1c1c1c" stroke-width="0.18">15,3</text>
<text x="84.98" y="285.90" font-size="6.29" textLength="10.77" lengthAdjust="spacingAndGlyphs" fill="#1c1c1c" stroke="#1c1c1c" stroke-width="0.18">0,80</text>
<text x="142.32" y="285.90" font-size="6.29" textLength="10.77" lengthAdjust="spacingAndGlyphs" fill="#1c1c1c" stroke="#1c1c1c" stroke-width="0.18">5,12</text>
<rect x="82.8" y="316.2" width="75.6" height="75.2" fill="none" stroke="#c8c8c8" stroke-width="0.9"/>
<g filter="url(#bl)">
<path d="M103.1 352.2h0.7v0.7h-0.7zM99.9 350.8h0.7v0.7h-0.7zM100.6 350.4h0.7v0.7h-0.7zM97.2 349.7h0.7v0.7h-0.7zM98.3 350.0h0.7v0.7h-0.7zM96.9 352.9h0.7v0.7h-0.7zM96.5 352.9h0.7v0.7h-0.7zM97.3 352.2h0.7v0.7h-0.7zM103.5 351.9h0.7v0.7h-0.7zM98.0 351.5h0.7v0.7h-0.7zM100.3 347.4h0.7v0.7h-0.7zM98.3 351.8h0.7v0.7h-0.7zM98.7 351.6h0.7v0.7h-0.7zM101.8 353.2h0.7v0.7h-0.7zM102.3 352.8h0.7v0.7h-0.7zM99.2 351.4h0.7v0.7h-0.7zM99.2 350.7h0.7v0.7h-0.7zM99.4 347.4h0.7v0.7h-0.7zM99.0 351.3h0.7v0.7h-0.7zM97.4 351.3h0.7v0.7h-0.7z" fill="#000" fill-opacity="0.18"/>
<path d="M101.2 351.0h0.7v0.7h-0.7zM105.3 345.4h0.7v0.7h-0.7zM99.4 347.2h0.7v0.7h-0.7zM102.4 357.5h0.7v0.7h-0.7zM93.4 351.7h0.7v0.7h-0.7zM101.2 350.7h0.7v0.7h-0.7zM101.3 346.2h0.7v0.7h-0.7zM102.1 352.3h0.7v0.7h-0.7zM100.0 350.0h0.7v0.7h-0.7zM101.6 350.3h0.7v0.7h-0.7zM100.5 350.2h0.7v0.7h-0.7zM94.1 351.3h0.7v0.7h-0.7zM100.4 353.1h0.7v0.7h-0.7zM97.6 351.3h0.7v0.7h-0.7zM101.5 351.7h0.7v0.7h-0.7zM103.1 356.0h0.7v0.7h-0.7zM97.5 347.0h0.7v0.7h-0.7zM102.1 354.9h0.7v0.7h-0.7zM102.3 353.3h0.7v0.7h-0.7zM98.3 349.8h0.7v0.7h-0.7z" fill="#000" fill-opacity="0.18"/>
<path d="M102.2 349.3h0.7v0.7h-0.7zM95.2 349.1h0.7v0.7h-0.7zM106.4 355.8h0.7v0.7h-0.7zM98.1 349.7h0.7v0.7h-0.7zM100.5 349.7h0.7v0.7h-0.7zM103.3 351.2h0.7v0.7h-0.7zM97.1 354.4h0.7v0.7h-0.7zM98.4 351.9h0.7v0.7h-0.7zM99.9 350.7h0.7v0.7h-0.7zM100.7 349.8h0.7v0.7h-0.7zM95.1 346.3h0.7v0.7h-0.7zM96.6 349.7h0.7v0.7h-0.7zM99.8 351.5h0.7v0.7h-0.7zM101.3 351.7h0.7v0.7h-0.7zM97.8 349.8h0.7v0.7h-0.7zM94.4 351.0h0.7v0.7h-0.7zM101.2 352.6h0.7v0.7h-0.7zM99.6 351.0h0.7v0.7h-0.7zM102.3 351.4h0.7v0.7h-0.7zM101.8 352.7h0.7v0.7h-0.7z" fill="#000" fill-opacity="0.18"/>
<path d="M100.5 354.4h0.7v0.7h-0.7zM98.4 350.6h0.7v0.7h-0.7zM97.8 349.6h0.7v0.7h-0.7zM103.9 355.4h0.7v0.7h-0.7zM100.0 352.7h0.7v0.7h-0.7zM103.0 353.3h0.7v0.7h-0.7zM103.0 348.5h0.7v0.7h-0.7zM98.2 352.4h0.7v0.7h-0.7zM103.6 351.6h0.7v0.7h-0.7zM97.7 350.6h0.7v0.7h-0.7zM98.2 349.4h0.7v0.7h-0.7zM103.8 350.0h0.7v0.7h-0.7zM100.0 356.4h0.7v0.7h-0.7zM103.0 352.2h0.7v0.7h-0.7zM98.3 352.3h0.7v0.7h-0.7zM104.1 352.8h0.7v0.7h-0.7zM103.2 351.6h0.7v0.7h-0.7zM101.2 350.9h0.7v0.7h-0.7zM101.0 354.4h0.7v0.7h-0.7zM96.2 351.3h0.7v0.7h-0.7z" fill="#000" fill-opacity="0.18"/>
<path d="M100.5 350.1h0.7v0.7h-0.7zM99.1 353.2h0.7v0.7h-0.7zM105.1 352.8h0.7v0.7h-0.7zM100.7 347.8h0.7v0.7h-0.7zM104.9 351.6h0.7v0.7h-0.7zM99.8 348.8h0.7v0.7h-0.7zM99.8 348.9h0.7v0.7h-0.7zM100.1 352.5h0.7v0.7h-0.7zM100.0 352.0h0.7v0.7h-0.7zM97.7 354.7h0.7v0.7h-0.7zM98.2 347.2h0.7v0.7h-0.7zM99.4 349.6h0.7v0.7h-0.7zM97.3 350.6h0.7v0.7h-0.7zM100.7 348.7h0.7v0.7h-0.7zM99.5 354.7h0.7v0.7h-0.7zM101.7 351.1h0.7v0.7h-0.7zM100.2 351.1h0.7v0.7h-0.7zM99.8 353.1h0.7v0.7h-0.7zM99.7 345.9h0.7v0.7h-0.7zM99.8 349.4h0.7v0.7h-0.7z" fill="#000" fill-opacity="0.18"/>
<path d="M101.6 350.0h0.7v0.7h-0.7zM100.3 356.4h0.7v0.7h-0.7zM97.2 348.8h0.7v0.7h-0.7zM96.2 345.9h0.7v0.7h-0.7zM95.0 352.2h0.7v0.7h-0.7zM98.2 347.1h0.7v0.7h-0.7zM96.0 352.8h0.7v0.7h-0.7zM97.9 350.6h0.7v0.7h-0.7zM100.8 354.5h0.7v0.7h-0.7zM104.9 353.8h0.7v0.7h-0.7zM100.3 351.8h0.7v0.7h-0.7zM104.6 354.7h0.7v0.7h-0.7zM99.1 352.5h0.7v0.7h-0.7zM100.6 351.5h0.7v0.7h-0.7zM98.6 348.3h0.7v0.7h-0.7zM98.5 347.8h0.7v0.7h-0.7zM103.1 352.6h0.7v0.7h-0.7zM96.8 354.6h0.7v0.7h-0.7zM102.2 347.0h0.7v0.7h-0.7zM104.7 353.3h0.7v0.7h-0.7z" fill="#000" fill-opacity="0.18"/>
<path d="M105.3 348.6h0.7v0.7h-0.7zM101.3 352.4h0.7v0.7h-0.7zM100.4 351.8h0.7v0.7h-0.7zM102.6 348.0h0.7v0.7h-0.7zM96.7 348.2h0.7v0.7h-0.7zM98.5 350.0h0.7v0.7h-0.7zM100.9 352.0h0.7v0.7h-0.7zM100.0 349.8h0.7v0.7h-0.7zM98.8 353.6h0.7v0.7h-0.7zM101.9 351.6h0.7v0.7h-0.7z" fill="#000" fill-opacity="0.18"/>
<path d="M98.2 359.0h0.7v0.7h-0.7zM96.7 354.9h0.7v0.7h-0.7zM106.3 350.8h0.7v0.7h-0.7zM104.5 347.0h0.7v0.7h-0.7zM105.6 352.9h0.7v0.7h-0.7zM91.3 355.0h0.7v0.7h-0.7zM95.1 357.8h0.7v0.7h-0.7zM96.3 351.3h0.7v0.7h-0.7zM101.6 350.5h0.7v0.7h-0.7zM101.4 349.5h0.7v0.7h-0.7zM103.7 352.0h0.7v0.7h-0.7zM101.2 339.6h0.7v0.7h-0.7zM106.4 352.1h0.7v0.7h-0.7zM90.2 352.4h0.7v0.7h-0.7zM102.6 356.8h0.7v0.7h-0.7zM94.0 359.0h0.7v0.7h-0.7zM99.1 362.8h0.7v0.7h-0.7zM99.2 355.1h0.7v0.7h-0.7zM98.0 347.0h0.7v0.7h-0.7zM106.0 356.1h0.7v0.7h-0.7z" fill="#000" fill-opacity="0.13"/>
<path d="M108.5 355.9h0.7v0.7h-0.7zM96.8 344.5h0.7v0.7h-0.7zM96.4 349.0h0.7v0.7h-0.7zM95.5 354.6h0.7v0.7h-0.7zM101.8 350.8h0.7v0.7h-0.7zM100.9 351.3h0.7v0.7h-0.7zM101.2 355.4h0.7v0.7h-0.7zM105.3 348.9h0.7v0.7h-0.7zM91.7 358.4h0.7v0.7h-0.7zM100.6 357.0h0.7v0.7h-0.7zM91.0 350.5h0.7v0.7h-0.7zM100.1 345.5h0.7v0.7h-0.7zM97.2 355.3h0.7v0.7h-0.7zM105.9 359.2h0.7v0.7h-0.7zM95.3 345.7h0.7v0.7h-0.7zM102.9 356.2h0.7v0.7h-0.7zM101.1 346.1h0.7v0.7h-0.7zM104.3 355.6h0.7v0.7h-0.7zM103.0 349.8h0.7v0.7h-0.7zM101.7 355.6h0.7v0.7h-0.7z" fill="#000" fill-opacity="0.13"/>
<path d="M96.9 343.7h0.7v0.7h-0.7zM101.8 354.2h0.7v0.7h-0.7zM100.1 356.0h0.7v0.7h-0.7zM96.8 351.6h0.7v0.7h-0.7zM98.3 354.6h0.7v0.7h-0.7zM108.8 350.9h0.7v0.7h-0.7zM111.3 358.9h0.7v0.7h-0.7zM104.3 354.6h0.7v0.7h-0.7zM109.7 351.2h0.7v0.7h-0.7zM99.4 347.2h0.7v0.7h-0.7zM102.6 358.1h0.7v0.7h-0.7zM102.9 353.9h0.7v0.7h-0.7zM98.9 352.8h0.7v0.7h-0.7zM92.2 356.7h0.7v0.7h-0.7zM97.7 347.0h0.7v0.7h-0.7zM95.9 348.3h0.7v0.7h-0.7zM104.7 356.8h0.7v0.7h-0.7zM92.5 356.2h0.7v0.7h-0.7zM104.9 349.4h0.7v0.7h-0.7zM91.8 348.6h0.7v0.7h-0.7z" fill="#000" fill-opacity="0.13"/>
<path d="M96.5 353.5h0.7v0.7h-0.7zM98.0 342.9h0.7v0.7h-0.7zM101.3 345.1h0.7v0.7h-0.7zM105.0 346.6h0.7v0.7h-0.7zM96.2 348.2h0.7v0.7h-0.7zM97.0 357.8h0.7v0.7h-0.7zM104.7 354.7h0.7v0.7h-0.7zM101.8 345.0h0.7v0.7h-0.7zM97.1 349.5h0.7v0.7h-0.7zM94.6 354.3h0.7v0.7h-0.7zM95.9 348.8h0.7v0.7h-0.7zM94.3 342.7h0.7v0.7h-0.7zM103.3 358.0h0.7v0.7h-0.7zM101.0 347.6h0.7v0.7h-0.7zM85.1 352.8h0.7v0.7h-0.7zM106.7 353.3h0.7v0.7h-0.7zM105.1 358.7h0.7v0.7h-0.7zM106.2 350.0h0.7v0.7h-0.7zM105.8 355.5h0.7v0.7h-0.7zM91.5 350.2h0.7v0.7h-0.7z" fill="#000" fill-opacity="0.13"/>
<path d="M92.2 351.5h0.7v0.7h-0.7zM103.2 347.2h0.7v0.7h-0.7zM88.7 357.8h0.7v0.7h-0.7zM102.1 358.6h0.7v0.7h-0.7zM92.7 356.8h0.7v0.7h-0.7zM111.4 361.0h0.7v0.7h-0.7zM98.8 353.2h0.7v0.7h-0.7zM99.2 356.5h0.7v0.7h-0.7zM105.7 352.4h0.7v0.7h-0.7zM92.5 355.3h0.7v0.7h-0.7zM97.4 354.8h0.7v0.7h-0.7zM101.4 359.3h0.7v0.7h-0.7zM106.3 350.0h0.7v0.7h-0.7zM101.9 359.9h0.7v0.7h-0.7zM97.0 354.0h0.7v0.7h-0.7zM106.5 357.7h0.7v0.7h-0.7zM102.9 346.1h0.7v0.7h-0.7zM93.1 353.1h0.7v0.7h-0.7zM102.1 363.5h0.7v0.7h-0.7zM95.3 357.1h0.7v0.7h-0.7z" fill="#000" fill-opacity="0.13"/>
<path d="M104.2 344.5h0.7v0.7h-0.7zM95.5 352.7h0.7v0.7h-0.7zM97.3 351.3h0.7v0.7h-0.7zM102.6 348.4h0.7v0.7h-0.7zM102.6 349.1h0.7v0.7h-0.7zM97.0 354.4h0.7v0.7h-0.7zM96.8 353.3h0.7v0.7h-0.7zM108.8 352.1h0.7v0.7h-0.7zM99.2 355.3h0.7v0.7h-0.7zM98.0 356.9h0.7v0.7h-0.7zM92.9 354.8h0.7v0.7h-0.7zM97.2 348.4h0.7v0.7h-0.7zM109.7 348.2h0.7v0.7h-0.7zM109.7 355.0h0.7v0.7h-0.7zM108.0 347.6h0.7v0.7h-0.7zM106.6 358.6h0.7v0.7h-0.7zM99.4 351.4h0.7v0.7h-0.7zM113.5 352.8h0.7v0.7h-0.7zM97.7 349.2h0.7v0.7h-0.7zM102.5 353.5h0.7v0.7h-0.7z" fill="#000" fill-opacity="0.13"/>
<path d="M101.0 359.7h0.7v0.7h-0.7zM98.2 354.1h0.7v0.7h-0.7zM108.0 347.5h0.7v0.7h-0.7zM105.7 360.2h0.7v0.7h-0.7zM92.5 347.1h0.7v0.7h-0.7zM94.3 343.7h0.7v0.7h-0.7zM102.5 343.6h0.7v0.7h-0.7zM102.7 358.5h0.7v0.7h-0.7zM91.1 350.6h0.7v0.7h-0.7zM89.5 355.5h0.7v0.7h-0.7zM95.9 350.8h0.7v0.7h-0.7zM100.3 354.5h0.7v0.7h-0.7zM98.1 352.1h0.7v0.7h-0.7zM97.0 352.5h0.7v0.7h-0.7zM93.6 352.3h0.7v0.7h-0.7zM89.4 349.8h0.7v0.7h-0.7zM110.5 352.4h0.7v0.7h-0.7zM93.1 353.2h0.7v0.7h-0.7zM94.7 344.6h0.7v0.7h-0.7zM95.9 355.3h0.7v0.7h-0.7z" fill="#000" fill-opacity="0.13"/>
<path d="M102.1 351.6h0.7v0.7h-0.7zM94.9 347.1h0.7v0.7h-0.7zM107.4 353.1h0.7v0.7h-0.7zM94.8 342.5h0.7v0.7h-0.7zM92.5 363.1h0.7v0.7h-0.7zM93.7 351.7h0.7v0.7h-0.7zM101.2 351.3h0.7v0.7h-0.7zM98.5 345.8h0.7v0.7h-0.7zM94.2 359.6h0.7v0.7h-0.7zM95.8 355.8h0.7v0.7h-0.7zM90.7 350.8h0.7v0.7h-0.7zM101.4 356.7h0.7v0.7h-0.7zM93.8 354.7h0.7v0.7h-0.7zM102.1 348.7h0.7v0.7h-0.7zM102.6 348.0h0.7v0.7h-0.7zM95.6 351.9h0.7v0.7h-0.7zM85.1 351.5h0.7v0.7h-0.7zM94.5 345.4h0.7v0.7h-0.7zM97.7 355.4h0.7v0.7h-0.7zM97.8 357.7h0.7v0.7h-0.7z" fill="#000" fill-opacity="0.13"/>
<path d="M93.6 346.1h0.7v0.7h-0.7zM108.5 353.8h0.7v0.7h-0.7zM105.2 348.3h0.7v0.7h-0.7zM104.4 353.2h0.7v0.7h-0.7zM103.6 352.1h0.7v0.7h-0.7zM106.6 349.1h0.7v0.7h-0.7zM94.7 345.4h0.7v0.7h-0.7zM106.4 348.7h0.7v0.7h-0.7zM94.3 347.8h0.7v0.7h-0.7zM97.6 346.3h0.7v0.7h-0.7zM98.4 349.2h0.7v0.7h-0.7zM97.0 347.7h0.7v0.7h-0.7zM100.2 349.9h0.7v0.7h-0.7zM100.6 353.1h0.7v0.7h-0.7zM101.9 342.1h0.7v0.7h-0.7zM97.1 348.4h0.7v0.7h-0.7zM104.3 344.9h0.7v0.7h-0.7zM96.1 350.7h0.7v0.7h-0.7zM98.2 356.5h0.7v0.7h-0.7zM97.6 356.3h0.7v0.7h-0.7z" fill="#000" fill-opacity="0.13"/>
<path d="M91.9 343.8h0.7v0.7h-0.7zM106.7 354.0h0.7v0.7h-0.7zM102.7 352.6h0.7v0.7h-0.7zM102.7 346.5h0.7v0.7h-0.7zM105.2 349.6h0.7v0.7h-0.7zM105.4 352.4h0.7v0.7h-0.7zM89.1 346.2h0.7v0.7h-0.7zM106.2 351.4h0.7v0.7h-0.7zM97.8 353.1h0.7v0.7h-0.7zM97.7 349.5h0.7v0.7h-0.7zM100.6 352.6h0.7v0.7h-0.7zM108.3 352.2h0.7v0.7h-0.7zM110.3 360.1h0.7v0.7h-0.7zM109.4 356.8h0.7v0.7h-0.7zM100.7 352.6h0.7v0.7h-0.7zM99.2 348.7h0.7v0.7h-0.7zM99.6 349.1h0.7v0.7h-0.7zM109.0 354.4h0.7v0.7h-0.7zM97.5 343.4h0.7v0.7h-0.7zM99.7 350.1h0.7v0.7h-0.7z" fill="#000" fill-opacity="0.13"/>
<path d="M94.0 346.9h0.7v0.7h-0.7zM87.6 354.6h0.7v0.7h-0.7zM99.6 363.6h0.7v0.7h-0.7zM99.8 351.3h0.7v0.7h-0.7zM107.9 352.6h0.7v0.7h-0.7zM100.9 350.3h0.7v0.7h-0.7zM96.7 358.7h0.7v0.7h-0.7zM105.5 359.7h0.7v0.7h-0.7zM98.1 352.1h0.7v0.7h-0.7zM95.2 356.4h0.7v0.7h-0.7zM92.3 354.5h0.7v0.7h-0.7zM106.0 358.4h0.7v0.7h-0.7zM94.8 356.9h0.7v0.7h-0.7zM96.1 348.6h0.7v0.7h-0.7zM92.7 357.2h0.7v0.7h-0.7zM109.1 349.3h0.7v0.7h-0.7zM95.8 350.5h0.7v0.7h-0.7zM113.8 356.5h0.7v0.7h-0.7zM97.0 343.9h0.7v0.7h-0.7zM96.3 357.3h0.7v0.7h-0.7z" fill="#000" fill-opacity="0.13"/>
<path d="M110.3 350.8h0.7v0.7h-0.7zM96.2 349.7h0.7v0.7h-0.7zM89.6 356.1h0.7v0.7h-0.7zM94.0 356.8h0.7v0.7h-0.7zM90.6 346.3h0.7v0.7h-0.7zM101.6 348.6h0.7v0.7h-0.7zM104.3 352.0h0.7v0.7h-0.7zM93.5 354.8h0.7v0.7h-0.7zM104.6 343.4h0.7v0.7h-0.7zM110.0 354.2h0.7v0.7h-0.7z" fill="#000" fill-opacity="0.13"/>
<path d="M113.6 343.1h0.7v0.7h-0.7zM98.8 355.2h0.7v0.7h-0.7zM116.8 346.3h0.7v0.7h-0.7zM97.2 341.8h0.7v0.7h-0.7zM103.6 360.8h0.7v0.7h-0.7zM89.1 353.3h0.7v0.7h-0.7zM111.1 370.7h0.7v0.7h-0.7zM112.6 355.6h0.7v0.7h-0.7zM94.2 350.5h0.7v0.7h-0.7zM99.4 359.2h0.7v0.7h-0.7zM105.5 371.3h0.7v0.7h-0.7zM108.9 349.4h0.7v0.7h-0.7zM121.4 365.6h0.7v0.7h-0.7zM107.0 352.2h0.7v0.7h-0.7zM87.3 349.8h0.7v0.7h-0.7zM115.1 351.6h0.7v0.7h-0.7zM92.8 359.6h0.7v0.7h-0.7zM108.4 362.9h0.7v0.7h-0.7zM112.6 369.3h0.7v0.7h-0.7zM97.6 365.8h0.7v0.7h-0.7z" fill="#000" fill-opacity="0.1"/>
<path d="M96.1 363.6h0.7v0.7h-0.7zM107.8 359.9h0.7v0.7h-0.7zM115.7 357.9h0.7v0.7h-0.7zM117.1 365.0h0.7v0.7h-0.7zM107.4 353.5h0.7v0.7h-0.7zM98.5 353.8h0.7v0.7h-0.7zM104.0 357.8h0.7v0.7h-0.7zM135.8 363.1h0.7v0.7h-0.7zM113.7 351.1h0.7v0.7h-0.7zM98.9 355.4h0.7v0.7h-0.7zM107.9 349.7h0.7v0.7h-0.7zM122.1 353.5h0.7v0.7h-0.7zM116.8 339.3h0.7v0.7h-0.7zM105.9 360.2h0.7v0.7h-0.7zM107.9 362.8h0.7v0.7h-0.7zM108.8 359.3h0.7v0.7h-0.7zM87.1 352.3h0.7v0.7h-0.7zM109.1 356.4h0.7v0.7h-0.7zM97.8 353.3h0.7v0.7h-0.7zM124.5 371.8h0.7v0.7h-0.7z" fill="#000" fill-opacity="0.1"/>
<path d="M105.4 368.3h0.7v0.7h-0.7zM90.1 342.5h0.7v0.7h-0.7zM101.2 351.0h0.7v0.7h-0.7zM100.4 359.5h0.7v0.7h-0.7zM136.2 352.7h0.7v0.7h-0.7zM106.5 360.2h0.7v0.7h-0.7zM105.7 365.4h0.7v0.7h-0.7zM123.8 348.1h0.7v0.7h-0.7zM107.6 355.9h0.7v0.7h-0.7zM109.6 345.7h0.7v0.7h-0.7zM88.4 339.5h0.7v0.7h-0.7zM111.3 359.5h0.7v0.7h-0.7zM106.7 339.1h0.7v0.7h-0.7zM102.3 352.0h0.7v0.7h-0.7zM91.9 350.7h0.7v0.7h-0.7zM113.0 362.4h0.7v0.7h-0.7zM105.8 362.1h0.7v0.7h-0.7zM100.0 358.6h0.7v0.7h-0.7zM106.4 362.4h0.7v0.7h-0.7zM105.3 356.9h0.7v0.7h-0.7z" fill="#000" fill-opacity="0.1"/>
<path d="M104.7 352.8h0.7v0.7h-0.7zM128.3 362.1h0.7v0.7h-0.7zM110.3 376.3h0.7v0.7h-0.7zM120.0 345.5h0.7v0.7h-0.7zM113.0 364.7h0.7v0.7h-0.7zM124.8 368.5h0.7v0.7h-0.7zM113.7 348.6h0.7v0.7h-0.7zM97.3 360.2h0.7v0.7h-0.7zM111.0 349.8h0.7v0.7h-0.7zM102.2 354.8h0.7v0.7h-0.7zM106.6 360.7h0.7v0.7h-0.7zM103.1 348.1h0.7v0.7h-0.7zM118.4 370.8h0.7v0.7h-0.7zM104.9 366.2h0.7v0.7h-0.7zM110.4 363.3h0.7v0.7h-0.7zM110.8 351.9h0.7v0.7h-0.7zM111.7 366.1h0.7v0.7h-0.7zM97.0 373.7h0.7v0.7h-0.7zM126.9 372.6h0.7v0.7h-0.7zM125.9 363.9h0.7v0.7h-0.7z" fill="#000" fill-opacity="0.1"/>
<path d="M102.6 353.2h0.7v0.7h-0.7zM97.9 358.9h0.7v0.7h-0.7zM105.7 363.4h0.7v0.7h-0.7zM85.8 376.5h0.7v0.7h-0.7zM128.8 357.8h0.7v0.7h-0.7zM112.8 361.8h0.7v0.7h-0.7zM108.7 356.3h0.7v0.7h-0.7zM104.8 351.4h0.7v0.7h-0.7zM107.8 357.8h0.7v0.7h-0.7z" fill="#000" fill-opacity="0.1"/>
<path d="M122.9 377.6h0.7v0.7h-0.7zM120.4 381.2h0.7v0.7h-0.7zM125.4 376.7h0.7v0.7h-0.7zM123.8 384.9h0.7v0.7h-0.7zM125.4 379.5h0.7v0.7h-0.7zM115.6 380.1h0.7v0.7h-0.7zM126.6 387.2h0.7v0.7h-0.7zM118.6 378.4h0.7v0.7h-0.7zM123.4 381.8h0.7v0.7h-0.7zM111.8 378.1h0.7v0.7h-0.7zM119.1 383.7h0.7v0.7h-0.7zM109.3 376.9h0.7v0.7h-0.7zM124.5 376.1h0.7v0.7h-0.7zM121.0 382.4h0.7v0.7h-0.7zM119.0 376.9h0.7v0.7h-0.7zM119.5 379.7h0.7v0.7h-0.7zM123.0 377.6h0.7v0.7h-0.7zM129.8 374.3h0.7v0.7h-0.7zM118.4 381.0h0.7v0.7h-0.7zM128.7 378.6h0.7v0.7h-0.7z" fill="#000" fill-opacity="0.1"/>
<path d="M124.9 378.7h0.7v0.7h-0.7zM126.6 387.9h0.7v0.7h-0.7zM116.4 382.8h0.7v0.7h-0.7zM111.7 384.9h0.7v0.7h-0.7zM130.9 381.1h0.7v0.7h-0.7zM109.8 382.6h0.7v0.7h-0.7zM130.3 385.4h0.7v0.7h-0.7zM127.3 373.7h0.7v0.7h-0.7zM113.9 386.7h0.7v0.7h-0.7zM109.0 385.5h0.7v0.7h-0.7zM136.9 384.0h0.7v0.7h-0.7zM130.1 379.7h0.7v0.7h-0.7zM109.0 380.6h0.7v0.7h-0.7zM118.2 380.8h0.7v0.7h-0.7zM126.3 380.4h0.7v0.7h-0.7zM121.7 382.7h0.7v0.7h-0.7zM120.0 388.4h0.7v0.7h-0.7zM124.0 381.3h0.7v0.7h-0.7zM118.1 378.5h0.7v0.7h-0.7zM132.1 381.6h0.7v0.7h-0.7z" fill="#000" fill-opacity="0.1"/>
</g>
<line x1="82.80" y1="316.20" x2="82.80" y2="391.40" stroke="#999" stroke-width="1.0"/>
<line x1="82.80" y1="391.40" x2="158.40" y2="391.40" stroke="#999" stroke-width="1.0"/>
<line x1="81.00" y1="391.40" x2="83.10" y2="391.40" stroke="#555" stroke-width="0.8"/>
<line x1="82.80" y1="391.10" x2="82.80" y2="393.20" stroke="#555" stroke-width="0.8"/>
<line x1="81.70" y1="385.74" x2="83.10" y2="385.74" stroke="#888" stroke-width="0.8"/>
<line x1="88.49" y1="391.10" x2="88.49" y2="392.50" stroke="#888" stroke-width="0.8"/>
<line x1="81.70" y1="382.43" x2="83.10" y2="382.43" stroke="#888" stroke-width="0.8"/>
<line x1="91.82" y1="391.10" x2="91.82" y2="392.50" stroke="#888" stroke-width="0.8"/>
<line x1="81.70" y1="380.08" x2="83.10" y2="380.08" stroke="#888" stroke-width="0.8"/>
<line x1="94.18" y1="391.10" x2="94.18" y2="392.50" stroke="#888" stroke-width="0.8"/>
<line x1="81.70" y1="378.26" x2="83.10" y2="378.26" stroke="#888" stroke-width="0.8"/>
<line x1="96.01" y1="391.10" x2="96.01" y2="392.50" stroke="#888" stroke-width="0.8"/>
<line x1="81.70" y1="376.77" x2="83.10" y2="376.77" stroke="#888" stroke-width="0.8"/>
<line x1="97.51" y1="391.10" x2="97.51" y2="392.50" stroke="#888" stroke-width="0.8"/>
<line x1="81.70" y1="375.51" x2="83.10" y2="375.51" stroke="#888" stroke-width="0.8"/>
<line x1="98.77" y1="391.10" x2="98.77" y2="392.50" stroke="#888" stroke-width="0.8"/>
<line x1="81.70" y1="374.42" x2="83.10" y2="374.42" stroke="#888" stroke-width="0.8"/>
<line x1="99.87" y1="391.10" x2="99.87" y2="392.50" stroke="#888" stroke-width="0.8"/>
<line x1="81.70" y1="373.46" x2="83.10" y2="373.46" stroke="#888" stroke-width="0.8"/>
<line x1="100.84" y1="391.10" x2="100.84" y2="392.50" stroke="#888" stroke-width="0.8"/>
<line x1="81.00" y1="372.60" x2="83.10" y2="372.60" stroke="#555" stroke-width="0.8"/>
<line x1="101.70" y1="391.10" x2="101.70" y2="393.20" stroke="#555" stroke-width="0.8"/>
<line x1="81.70" y1="366.94" x2="83.10" y2="366.94" stroke="#888" stroke-width="0.8"/>
<line x1="107.39" y1="391.10" x2="107.39" y2="392.50" stroke="#888" stroke-width="0.8"/>
<line x1="81.70" y1="363.63" x2="83.10" y2="363.63" stroke="#888" stroke-width="0.8"/>
<line x1="110.72" y1="391.10" x2="110.72" y2="392.50" stroke="#888" stroke-width="0.8"/>
<line x1="81.70" y1="361.28" x2="83.10" y2="361.28" stroke="#888" stroke-width="0.8"/>
<line x1="113.08" y1="391.10" x2="113.08" y2="392.50" stroke="#888" stroke-width="0.8"/>
<line x1="81.70" y1="359.46" x2="83.10" y2="359.46" stroke="#888" stroke-width="0.8"/>
<line x1="114.91" y1="391.10" x2="114.91" y2="392.50" stroke="#888" stroke-width="0.8"/>
<line x1="81.70" y1="357.97" x2="83.10" y2="357.97" stroke="#888" stroke-width="0.8"/>
<line x1="116.41" y1="391.10" x2="116.41" y2="392.50" stroke="#888" stroke-width="0.8"/>
<line x1="81.70" y1="356.71" x2="83.10" y2="356.71" stroke="#888" stroke-width="0.8"/>
<line x1="117.67" y1="391.10" x2="117.67" y2="392.50" stroke="#888" stroke-width="0.8"/>
<line x1="81.70" y1="355.62" x2="83.10" y2="355.62" stroke="#888" stroke-width="0.8"/>
<line x1="118.77" y1="391.10" x2="118.77" y2="392.50" stroke="#888" stroke-width="0.8"/>
<line x1="81.70" y1="354.66" x2="83.10" y2="354.66" stroke="#888" stroke-width="0.8"/>
<line x1="119.74" y1="391.10" x2="119.74" y2="392.50" stroke="#888" stroke-width="0.8"/>
<line x1="81.00" y1="353.80" x2="83.10" y2="353.80" stroke="#555" stroke-width="0.8"/>
<line x1="120.60" y1="391.10" x2="120.60" y2="393.20" stroke="#555" stroke-width="0.8"/>
<line x1="81.70" y1="348.14" x2="83.10" y2="348.14" stroke="#888" stroke-width="0.8"/>
<line x1="126.29" y1="391.10" x2="126.29" y2="392.50" stroke="#888" stroke-width="0.8"/>
<line x1="81.70" y1="344.83" x2="83.10" y2="344.83" stroke="#888" stroke-width="0.8"/>
<line x1="129.62" y1="391.10" x2="129.62" y2="392.50" stroke="#888" stroke-width="0.8"/>
<line x1="81.70" y1="342.48" x2="83.10" y2="342.48" stroke="#888" stroke-width="0.8"/>
<line x1="131.98" y1="391.10" x2="131.98" y2="392.50" stroke="#888" stroke-width="0.8"/>
<line x1="81.70" y1="340.66" x2="83.10" y2="340.66" stroke="#888" stroke-width="0.8"/>
<line x1="133.81" y1="391.10" x2="133.81" y2="392.50" stroke="#888" stroke-width="0.8"/>
<line x1="81.70" y1="339.17" x2="83.10" y2="339.17" stroke="#888" stroke-width="0.8"/>
<line x1="135.31" y1="391.10" x2="135.31" y2="392.50" stroke="#888" stroke-width="0.8"/>
<line x1="81.70" y1="337.91" x2="83.10" y2="337.91" stroke="#888" stroke-width="0.8"/>
<line x1="136.57" y1="391.10" x2="136.57" y2="392.50" stroke="#888" stroke-width="0.8"/>
<line x1="81.70" y1="336.82" x2="83.10" y2="336.82" stroke="#888" stroke-width="0.8"/>
<line x1="137.67" y1="391.10" x2="137.67" y2="392.50" stroke="#888" stroke-width="0.8"/>
<line x1="81.70" y1="335.86" x2="83.10" y2="335.86" stroke="#888" stroke-width="0.8"/>
<line x1="138.64" y1="391.10" x2="138.64" y2="392.50" stroke="#888" stroke-width="0.8"/>
<line x1="81.00" y1="335.00" x2="83.10" y2="335.00" stroke="#555" stroke-width="0.8"/>
<line x1="139.50" y1="391.10" x2="139.50" y2="393.20" stroke="#555" stroke-width="0.8"/>
<line x1="81.70" y1="329.34" x2="83.10" y2="329.34" stroke="#888" stroke-width="0.8"/>
<line x1="145.19" y1="391.10" x2="145.19" y2="392.50" stroke="#888" stroke-width="0.8"/>
<line x1="81.70" y1="326.03" x2="83.10" y2="326.03" stroke="#888" stroke-width="0.8"/>
<line x1="148.52" y1="391.10" x2="148.52" y2="392.50" stroke="#888" stroke-width="0.8"/>
<line x1="81.70" y1="323.68" x2="83.10" y2="323.68" stroke="#888" stroke-width="0.8"/>
<line x1="150.88" y1="391.10" x2="150.88" y2="392.50" stroke="#888" stroke-width="0.8"/>
<line x1="81.70" y1="321.86" x2="83.10" y2="321.86" stroke="#888" stroke-width="0.8"/>
<line x1="152.71" y1="391.10" x2="152.71" y2="392.50" stroke="#888" stroke-width="0.8"/>
<line x1="81.70" y1="320.37" x2="83.10" y2="320.37" stroke="#888" stroke-width="0.8"/>
<line x1="154.21" y1="391.10" x2="154.21" y2="392.50" stroke="#888" stroke-width="0.8"/>
<line x1="81.70" y1="319.11" x2="83.10" y2="319.11" stroke="#888" stroke-width="0.8"/>
<line x1="155.47" y1="391.10" x2="155.47" y2="392.50" stroke="#888" stroke-width="0.8"/>
<line x1="81.70" y1="318.02" x2="83.10" y2="318.02" stroke="#888" stroke-width="0.8"/>
<line x1="156.57" y1="391.10" x2="156.57" y2="392.50" stroke="#888" stroke-width="0.8"/>
<line x1="81.70" y1="317.06" x2="83.10" y2="317.06" stroke="#888" stroke-width="0.8"/>
<line x1="157.54" y1="391.10" x2="157.54" y2="392.50" stroke="#888" stroke-width="0.8"/>
<line x1="81.00" y1="316.20" x2="82.80" y2="316.20" stroke="#555" stroke-width="0.8"/>
<line x1="158.40" y1="391.40" x2="158.40" y2="393.20" stroke="#555" stroke-width="0.8"/>
<line x1="106.50" y1="316.20" x2="106.50" y2="391.40" stroke="#454545" stroke-width="1.0"/>
<line x1="82.80" y1="372.50" x2="158.40" y2="372.50" stroke="#454545" stroke-width="1.0"/>
<text x="67.89" y="318.10" font-size="6.57" textLength="7.49" lengthAdjust="spacingAndGlyphs" fill="#1c1c1c" stroke="#1c1c1c" stroke-width="0.18">10</text>
<text x="75.60" y="315.00" font-size="4.57" textLength="2.84" lengthAdjust="spacingAndGlyphs" fill="#1c1c1c" stroke="#1c1c1c" stroke-width="0.18">3</text>
<text x="67.89" y="336.90" font-size="6.57" textLength="7.49" lengthAdjust="spacingAndGlyphs" fill="#1c1c1c" stroke="#1c1c1c" stroke-width="0.18">10</text>
<text x="75.54" y="333.80" font-size="4.57" textLength="2.93" lengthAdjust="spacingAndGlyphs" fill="#1c1c1c" stroke="#1c1c1c" stroke-width="0.18">2</text>
<text x="67.89" y="355.70" font-size="6.57" textLength="7.49" lengthAdjust="spacingAndGlyphs" fill="#1c1c1c" stroke="#1c1c1c" stroke-width="0.18">10</text>
<text x="75.38" y="352.60" font-size="4.64" textLength="3.10" lengthAdjust="spacingAndGlyphs" fill="#1c1c1c" stroke="#1c1c1c" stroke-width="0.18">1</text>
<text x="67.89" y="374.50" font-size="6.57" textLength="7.49" lengthAdjust="spacingAndGlyphs" fill="#1c1c1c" stroke="#1c1c1c" stroke-width="0.18">10</text>
<text x="75.60" y="371.40" font-size="4.57" textLength="2.81" lengthAdjust="spacingAndGlyphs" fill="#1c1c1c" stroke="#1c1c1c" stroke-width="0.18">0</text>
<text x="67.29" y="393.30" font-size="6.57" textLength="7.49" lengthAdjust="spacingAndGlyphs" fill="#1c1c1c" stroke="#1c1c1c" stroke-width="0.18">10</text>
<text x="75.03" y="390.20" font-size="4.64" textLength="3.36" lengthAdjust="spacingAndGlyphs" fill="#1c1c1c" stroke="#1c1c1c" stroke-width="0.18">-1</text>
<text x="84.89" y="402.60" font-size="6.71" textLength="7.60" lengthAdjust="spacingAndGlyphs" fill="#1c1c1c" stroke="#1c1c1c" stroke-width="0.18">10</text>
<text x="92.62" y="399.70" font-size="4.49" textLength="3.50" lengthAdjust="spacingAndGlyphs" fill="#1c1c1c" stroke="#1c1c1c" stroke-width="0.18">-1</text>
<text x="101.69" y="402.60" font-size="6.71" textLength="7.60" lengthAdjust="spacingAndGlyphs" fill="#1c1c1c" stroke="#1c1c1c" stroke-width="0.18">10</text>
<text x="109.39" y="399.70" font-size="4.43" textLength="2.93" lengthAdjust="spacingAndGlyphs" fill="#1c1c1c" stroke="#1c1c1c" stroke-width="0.18">0</text>
<text x="118.49" y="402.60" font-size="6.71" textLength="7.60" lengthAdjust="spacingAndGlyphs" fill="#1c1c1c" stroke="#1c1c1c" stroke-width="0.18">10</text>
<text x="125.96" y="399.70" font-size="4.49" textLength="3.23" lengthAdjust="spacingAndGlyphs" fill="#1c1c1c" stroke="#1c1c1c" stroke-width="0.18">1</text>
<text x="135.29" y="402.60" font-size="6.71" textLength="7.60" lengthAdjust="spacingAndGlyphs" fill="#1c1c1c" stroke="#1c1c1c" stroke-width="0.18">10</text>
<text x="142.93" y="399.70" font-size="4.43" textLength="3.06" lengthAdjust="spacingAndGlyphs" fill="#1c1c1c" stroke="#1c1c1c" stroke-width="0.18">2</text>
<text x="152.09" y="402.60" font-size="6.71" textLength="7.60" lengthAdjust="spacingAndGlyphs" fill="#1c1c1c" stroke="#1c1c1c" stroke-width="0.18">10</text>
<text x="159.79" y="399.70" font-size="4.43" textLength="2.96" lengthAdjust="spacingAndGlyphs" fill="#1c1c1c" stroke="#1c1c1c" stroke-width="0.18">3</text>
<text x="84.75" y="322.50" font-size="6.29" textLength="10.77" lengthAdjust="spacingAndGlyphs" fill="#1c1c1c" stroke="#1c1c1c" stroke-width="0.18">80,2</text>
<text x="145.37" y="322.50" font-size="6.38" textLength="10.92" lengthAdjust="spacingAndGlyphs" fill="#1c1c1c" stroke="#1c1c1c" stroke-width="0.18">15,1</text>
<text x="84.59" y="389.50" font-size="6.29" textLength="10.77" lengthAdjust="spacingAndGlyphs" fill="#1c1c1c" stroke="#1c1c1c" stroke-width="0.18">1,06</text>
<text x="145.52" y="389.50" font-size="6.29" textLength="10.77" lengthAdjust="spacingAndGlyphs" fill="#1c1c1c" stroke="#1c1c1c" stroke-width="0.18">3,67</text>
<rect x="206.9" y="216.2" width="71.3" height="71.5" fill="none" stroke="#c8c8c8" stroke-width="0.9"/>
<g filter="url(#bl)">
<path d="M218.8 229.6h0.7v0.7h-0.7zM221.6 229.9h0.7v0.7h-0.7zM225.3 228.1h0.7v0.7h-0.7zM223.5 231.4h0.7v0.7h-0.7zM218.5 231.1h0.7v0.7h-0.7zM221.7 232.3h0.7v0.7h-0.7zM220.6 231.8h0.7v0.7h-0.7zM217.0 228.3h0.7v0.7h-0.7zM224.4 233.6h0.7v0.7h-0.7zM222.0 229.5h0.7v0.7h-0.7zM225.2 225.8h0.7v0.7h-0.7zM219.6 232.7h0.7v0.7h-0.7zM224.0 228.4h0.7v0.7h-0.7zM216.3 234.6h0.7v0.7h-0.7zM222.5 228.8h0.7v0.7h-0.7zM222.2 233.3h0.7v0.7h-0.7zM214.2 233.8h0.7v0.7h-0.7zM224.2 225.8h0.7v0.7h-0.7zM224.3 226.5h0.7v0.7h-0.7zM225.4 232.0h0.7v0.7h-0.7z" fill="#000" fill-opacity="0.2"/>
<path d="M228.8 229.5h0.7v0.7h-0.7zM222.0 233.6h0.7v0.7h-0.7zM220.1 229.2h0.7v0.7h-0.7zM220.9 230.8h0.7v0.7h-0.7zM218.8 232.2h0.7v0.7h-0.7zM223.6 231.2h0.7v0.7h-0.7zM227.1 230.2h0.7v0.7h-0.7zM225.9 229.6h0.7v0.7h-0.7zM224.3 226.2h0.7v0.7h-0.7zM222.6 230.6h0.7v0.7h-0.7zM220.5 229.5h0.7v0.7h-0.7zM221.0 229.2h0.7v0.7h-0.7zM215.4 229.5h0.7v0.7h-0.7zM220.4 229.7h0.7v0.7h-0.7zM218.8 230.7h0.7v0.7h-0.7zM224.4 230.4h0.7v0.7h-0.7zM220.5 234.4h0.7v0.7h-0.7zM224.9 233.3h0.7v0.7h-0.7zM225.5 230.2h0.7v0.7h-0.7zM221.6 233.8h0.7v0.7h-0.7z" fill="#000" fill-opacity="0.2"/>
<path d="M220.3 230.7h0.7v0.7h-0.7zM223.1 231.9h0.7v0.7h-0.7zM221.2 233.5h0.7v0.7h-0.7zM221.5 232.8h0.7v0.7h-0.7zM225.2 232.6h0.7v0.7h-0.7zM224.2 228.1h0.7v0.7h-0.7zM218.1 229.5h0.7v0.7h-0.7zM223.4 234.8h0.7v0.7h-0.7zM218.3 231.8h0.7v0.7h-0.7zM219.4 229.2h0.7v0.7h-0.7zM221.2 232.7h0.7v0.7h-0.7zM222.6 233.9h0.7v0.7h-0.7zM219.0 233.2h0.7v0.7h-0.7zM224.8 231.2h0.7v0.7h-0.7zM223.4 229.6h0.7v0.7h-0.7zM218.7 230.0h0.7v0.7h-0.7zM220.1 238.2h0.7v0.7h-0.7zM220.5 235.1h0.7v0.7h-0.7zM222.6 231.8h0.7v0.7h-0.7zM224.2 229.1h0.7v0.7h-0.7z" fill="#000" fill-opacity="0.2"/>
<path d="M224.7 231.9h0.7v0.7h-0.7zM217.5 232.5h0.7v0.7h-0.7zM223.7 232.1h0.7v0.7h-0.7zM226.8 230.0h0.7v0.7h-0.7zM223.5 232.9h0.7v0.7h-0.7zM219.3 234.0h0.7v0.7h-0.7zM217.6 227.7h0.7v0.7h-0.7zM223.6 228.3h0.7v0.7h-0.7zM221.7 226.9h0.7v0.7h-0.7zM222.2 228.2h0.7v0.7h-0.7z" fill="#000" fill-opacity="0.2"/>
<path d="M229.8 226.7h0.7v0.7h-0.7zM230.3 229.2h0.7v0.7h-0.7zM229.2 229.6h0.7v0.7h-0.7zM229.2 227.1h0.7v0.7h-0.7zM221.3 230.5h0.7v0.7h-0.7zM226.1 229.1h0.7v0.7h-0.7zM229.9 225.7h0.7v0.7h-0.7zM226.6 228.8h0.7v0.7h-0.7zM225.9 230.7h0.7v0.7h-0.7zM228.4 228.2h0.7v0.7h-0.7zM226.2 231.7h0.7v0.7h-0.7zM227.1 231.1h0.7v0.7h-0.7zM230.0 225.9h0.7v0.7h-0.7zM225.8 230.1h0.7v0.7h-0.7zM230.2 231.3h0.7v0.7h-0.7zM231.6 231.7h0.7v0.7h-0.7zM227.8 229.5h0.7v0.7h-0.7zM231.2 228.7h0.7v0.7h-0.7zM231.9 226.4h0.7v0.7h-0.7zM230.9 229.3h0.7v0.7h-0.7z" fill="#000" fill-opacity="0.28"/>
<path d="M223.3 232.3h0.7v0.7h-0.7zM229.9 229.8h0.7v0.7h-0.7zM225.7 229.2h0.7v0.7h-0.7zM233.4 227.8h0.7v0.7h-0.7zM218.5 229.0h0.7v0.7h-0.7zM225.4 229.9h0.7v0.7h-0.7zM227.7 228.1h0.7v0.7h-0.7zM226.7 232.1h0.7v0.7h-0.7zM225.0 234.1h0.7v0.7h-0.7zM227.2 227.8h0.7v0.7h-0.7zM231.5 230.7h0.7v0.7h-0.7zM226.0 231.6h0.7v0.7h-0.7zM223.3 228.4h0.7v0.7h-0.7zM232.3 229.0h0.7v0.7h-0.7zM225.2 231.2h0.7v0.7h-0.7zM231.7 229.5h0.7v0.7h-0.7zM223.5 229.6h0.7v0.7h-0.7zM230.4 231.2h0.7v0.7h-0.7zM234.5 228.8h0.7v0.7h-0.7zM227.6 229.8h0.7v0.7h-0.7z" fill="#000" fill-opacity="0.28"/>
<path d="M232.4 227.6h0.7v0.7h-0.7zM232.4 224.0h0.7v0.7h-0.7zM231.3 228.2h0.7v0.7h-0.7zM230.5 231.1h0.7v0.7h-0.7zM225.5 229.9h0.7v0.7h-0.7zM229.8 230.9h0.7v0.7h-0.7zM226.0 228.1h0.7v0.7h-0.7zM223.7 235.4h0.7v0.7h-0.7zM228.4 229.4h0.7v0.7h-0.7zM224.7 232.0h0.7v0.7h-0.7zM227.7 232.8h0.7v0.7h-0.7zM231.5 229.6h0.7v0.7h-0.7zM231.0 227.4h0.7v0.7h-0.7zM227.9 228.7h0.7v0.7h-0.7zM225.2 230.2h0.7v0.7h-0.7zM228.8 232.7h0.7v0.7h-0.7zM218.9 229.3h0.7v0.7h-0.7zM226.2 229.1h0.7v0.7h-0.7zM230.3 230.5h0.7v0.7h-0.7zM229.0 228.8h0.7v0.7h-0.7z" fill="#000" fill-opacity="0.28"/>
<path d="M230.5 230.4h0.7v0.7h-0.7zM223.4 229.8h0.7v0.7h-0.7zM224.7 227.8h0.7v0.7h-0.7zM229.4 229.9h0.7v0.7h-0.7zM229.2 228.0h0.7v0.7h-0.7zM228.2 228.0h0.7v0.7h-0.7zM230.3 231.1h0.7v0.7h-0.7zM234.5 231.9h0.7v0.7h-0.7zM226.5 229.1h0.7v0.7h-0.7zM226.2 230.7h0.7v0.7h-0.7zM235.0 230.7h0.7v0.7h-0.7zM222.2 227.9h0.7v0.7h-0.7zM225.2 231.2h0.7v0.7h-0.7zM229.1 230.4h0.7v0.7h-0.7zM234.2 227.7h0.7v0.7h-0.7zM226.8 233.9h0.7v0.7h-0.7zM229.9 228.2h0.7v0.7h-0.7zM222.7 227.3h0.7v0.7h-0.7zM221.7 230.6h0.7v0.7h-0.7zM229.3 231.8h0.7v0.7h-0.7z" fill="#000" fill-opacity="0.28"/>
<path d="M228.5 228.5h0.7v0.7h-0.7zM227.1 233.8h0.7v0.7h-0.7zM223.8 230.6h0.7v0.7h-0.7zM229.2 231.0h0.7v0.7h-0.7zM227.9 230.9h0.7v0.7h-0.7zM231.4 229.3h0.7v0.7h-0.7zM227.6 229.5h0.7v0.7h-0.7zM226.1 229.6h0.7v0.7h-0.7zM228.1 230.3h0.7v0.7h-0.7zM233.2 232.1h0.7v0.7h-0.7z" fill="#000" fill-opacity="0.28"/>
<path d="M235.6 230.1h0.7v0.7h-0.7zM238.2 230.2h0.7v0.7h-0.7zM237.1 229.3h0.7v0.7h-0.7zM235.2 227.4h0.7v0.7h-0.7zM240.3 231.1h0.7v0.7h-0.7zM239.4 229.5h0.7v0.7h-0.7zM237.8 227.8h0.7v0.7h-0.7zM230.9 230.7h0.7v0.7h-0.7zM237.6 227.6h0.7v0.7h-0.7zM233.9 231.6h0.7v0.7h-0.7zM231.0 232.9h0.7v0.7h-0.7zM239.6 233.3h0.7v0.7h-0.7zM234.5 229.0h0.7v0.7h-0.7zM235.3 229.3h0.7v0.7h-0.7zM236.1 227.4h0.7v0.7h-0.7zM240.6 226.9h0.7v0.7h-0.7zM235.3 230.1h0.7v0.7h-0.7zM235.0 228.1h0.7v0.7h-0.7zM238.2 228.0h0.7v0.7h-0.7zM232.6 229.0h0.7v0.7h-0.7z" fill="#000" fill-opacity="0.33"/>
<path d="M236.5 232.3h0.7v0.7h-0.7zM233.3 231.1h0.7v0.7h-0.7zM234.2 228.3h0.7v0.7h-0.7zM235.9 229.4h0.7v0.7h-0.7zM240.3 232.0h0.7v0.7h-0.7zM235.0 231.6h0.7v0.7h-0.7zM240.6 230.1h0.7v0.7h-0.7zM234.5 230.8h0.7v0.7h-0.7zM236.7 229.5h0.7v0.7h-0.7zM236.2 230.2h0.7v0.7h-0.7zM241.1 230.7h0.7v0.7h-0.7zM236.5 230.8h0.7v0.7h-0.7zM241.9 226.5h0.7v0.7h-0.7zM241.9 225.7h0.7v0.7h-0.7zM239.0 229.8h0.7v0.7h-0.7zM242.2 228.9h0.7v0.7h-0.7zM235.2 227.4h0.7v0.7h-0.7zM232.8 230.7h0.7v0.7h-0.7zM236.0 227.4h0.7v0.7h-0.7zM238.7 227.1h0.7v0.7h-0.7z" fill="#000" fill-opacity="0.33"/>
<path d="M235.4 228.0h0.7v0.7h-0.7zM243.0 231.2h0.7v0.7h-0.7zM236.2 225.7h0.7v0.7h-0.7zM238.0 228.9h0.7v0.7h-0.7zM238.3 229.8h0.7v0.7h-0.7zM236.0 230.7h0.7v0.7h-0.7zM240.0 229.0h0.7v0.7h-0.7zM235.5 228.0h0.7v0.7h-0.7zM239.2 226.4h0.7v0.7h-0.7zM236.3 227.4h0.7v0.7h-0.7zM232.2 230.4h0.7v0.7h-0.7zM236.9 228.9h0.7v0.7h-0.7zM239.8 225.6h0.7v0.7h-0.7zM236.8 229.4h0.7v0.7h-0.7zM239.7 226.4h0.7v0.7h-0.7zM239.5 229.0h0.7v0.7h-0.7zM241.9 230.7h0.7v0.7h-0.7zM239.3 232.9h0.7v0.7h-0.7zM236.9 228.0h0.7v0.7h-0.7zM235.6 227.0h0.7v0.7h-0.7z" fill="#000" fill-opacity="0.33"/>
<path d="M236.6 225.1h0.7v0.7h-0.7zM236.8 229.7h0.7v0.7h-0.7zM240.4 227.8h0.7v0.7h-0.7zM241.7 227.1h0.7v0.7h-0.7zM236.2 225.1h0.7v0.7h-0.7zM234.2 227.5h0.7v0.7h-0.7zM242.2 229.4h0.7v0.7h-0.7zM233.3 230.2h0.7v0.7h-0.7zM238.6 228.2h0.7v0.7h-0.7zM237.0 228.2h0.7v0.7h-0.7zM234.9 225.5h0.7v0.7h-0.7zM236.9 231.3h0.7v0.7h-0.7zM241.8 227.8h0.7v0.7h-0.7zM234.4 228.6h0.7v0.7h-0.7zM240.1 229.2h0.7v0.7h-0.7zM235.1 229.7h0.7v0.7h-0.7zM236.4 229.9h0.7v0.7h-0.7zM235.4 226.1h0.7v0.7h-0.7zM237.3 230.3h0.7v0.7h-0.7zM233.2 228.9h0.7v0.7h-0.7z" fill="#000" fill-opacity="0.33"/>
<path d="M239.9 227.8h0.7v0.7h-0.7zM235.1 232.9h0.7v0.7h-0.7zM240.0 230.5h0.7v0.7h-0.7zM234.1 232.3h0.7v0.7h-0.7zM231.3 228.3h0.7v0.7h-0.7zM239.7 231.2h0.7v0.7h-0.7zM233.7 227.8h0.7v0.7h-0.7zM237.3 225.0h0.7v0.7h-0.7zM239.3 229.7h0.7v0.7h-0.7zM235.6 230.0h0.7v0.7h-0.7zM239.7 229.2h0.7v0.7h-0.7zM239.0 231.6h0.7v0.7h-0.7zM235.4 229.3h0.7v0.7h-0.7zM235.4 231.0h0.7v0.7h-0.7zM235.7 229.8h0.7v0.7h-0.7zM237.5 228.9h0.7v0.7h-0.7zM242.8 228.1h0.7v0.7h-0.7zM241.9 230.0h0.7v0.7h-0.7zM241.4 228.1h0.7v0.7h-0.7zM240.3 230.0h0.7v0.7h-0.7z" fill="#000" fill-opacity="0.33"/>
<path d="M235.0 229.5h0.7v0.7h-0.7zM236.6 228.8h0.7v0.7h-0.7zM241.3 227.0h0.7v0.7h-0.7zM231.0 225.9h0.7v0.7h-0.7zM235.4 227.7h0.7v0.7h-0.7zM237.1 229.9h0.7v0.7h-0.7zM243.0 228.9h0.7v0.7h-0.7zM238.4 227.3h0.7v0.7h-0.7zM239.2 231.2h0.7v0.7h-0.7zM241.2 224.6h0.7v0.7h-0.7zM240.3 231.6h0.7v0.7h-0.7zM239.5 225.7h0.7v0.7h-0.7zM236.1 230.0h0.7v0.7h-0.7zM238.3 227.1h0.7v0.7h-0.7zM234.2 230.9h0.7v0.7h-0.7zM232.8 231.9h0.7v0.7h-0.7zM237.1 229.4h0.7v0.7h-0.7zM232.4 228.0h0.7v0.7h-0.7zM239.1 225.8h0.7v0.7h-0.7zM243.7 225.5h0.7v0.7h-0.7z" fill="#000" fill-opacity="0.33"/>
<path d="M232.9 229.2h0.7v0.7h-0.7zM238.7 230.1h0.7v0.7h-0.7zM235.7 228.5h0.7v0.7h-0.7zM236.1 227.8h0.7v0.7h-0.7zM228.5 231.4h0.7v0.7h-0.7zM237.9 229.0h0.7v0.7h-0.7zM234.9 229.5h0.7v0.7h-0.7zM236.9 228.7h0.7v0.7h-0.7zM240.4 225.2h0.7v0.7h-0.7zM237.7 226.7h0.7v0.7h-0.7z" fill="#000" fill-opacity="0.33"/>
<path d="M244.1 230.7h0.7v0.7h-0.7zM241.4 227.9h0.7v0.7h-0.7zM243.1 229.8h0.7v0.7h-0.7zM241.5 224.8h0.7v0.7h-0.7zM246.7 227.0h0.7v0.7h-0.7zM244.1 229.9h0.7v0.7h-0.7zM242.0 227.3h0.7v0.7h-0.7zM245.6 228.6h0.7v0.7h-0.7zM243.4 229.9h0.7v0.7h-0.7zM252.5 226.5h0.7v0.7h-0.7zM251.0 223.3h0.7v0.7h-0.7zM249.7 226.8h0.7v0.7h-0.7zM245.4 227.1h0.7v0.7h-0.7zM242.7 225.5h0.7v0.7h-0.7zM243.9 230.4h0.7v0.7h-0.7zM248.8 226.9h0.7v0.7h-0.7zM243.1 226.6h0.7v0.7h-0.7zM241.2 231.5h0.7v0.7h-0.7zM247.2 227.9h0.7v0.7h-0.7zM243.2 226.0h0.7v0.7h-0.7z" fill="#000" fill-opacity="0.38"/>
<path d="M249.5 229.0h0.7v0.7h-0.7zM241.9 229.9h0.7v0.7h-0.7zM241.4 229.3h0.7v0.7h-0.7zM241.7 227.2h0.7v0.7h-0.7zM246.7 228.5h0.7v0.7h-0.7zM248.3 226.0h0.7v0.7h-0.7zM250.5 230.0h0.7v0.7h-0.7zM245.0 228.7h0.7v0.7h-0.7zM242.4 227.7h0.7v0.7h-0.7zM240.6 228.3h0.7v0.7h-0.7zM245.8 230.3h0.7v0.7h-0.7zM248.3 229.1h0.7v0.7h-0.7zM243.8 227.5h0.7v0.7h-0.7zM243.9 228.3h0.7v0.7h-0.7zM238.6 229.7h0.7v0.7h-0.7zM239.7 227.2h0.7v0.7h-0.7zM245.0 226.8h0.7v0.7h-0.7zM250.6 227.2h0.7v0.7h-0.7zM250.4 229.7h0.7v0.7h-0.7zM243.4 228.7h0.7v0.7h-0.7z" fill="#000" fill-opacity="0.38"/>
<path d="M249.3 226.9h0.7v0.7h-0.7zM245.2 226.7h0.7v0.7h-0.7zM245.1 227.1h0.7v0.7h-0.7zM245.4 229.7h0.7v0.7h-0.7zM249.7 227.7h0.7v0.7h-0.7zM245.8 229.4h0.7v0.7h-0.7zM243.9 225.8h0.7v0.7h-0.7zM248.6 225.7h0.7v0.7h-0.7zM248.0 225.7h0.7v0.7h-0.7zM251.0 225.4h0.7v0.7h-0.7zM248.0 230.5h0.7v0.7h-0.7zM242.0 230.9h0.7v0.7h-0.7zM242.0 224.6h0.7v0.7h-0.7zM247.5 229.0h0.7v0.7h-0.7zM244.0 223.0h0.7v0.7h-0.7zM244.8 227.2h0.7v0.7h-0.7zM243.7 227.3h0.7v0.7h-0.7zM238.9 227.1h0.7v0.7h-0.7zM251.2 230.3h0.7v0.7h-0.7zM243.7 226.5h0.7v0.7h-0.7z" fill="#000" fill-opacity="0.38"/>
<path d="M246.5 229.7h0.7v0.7h-0.7zM247.3 225.4h0.7v0.7h-0.7zM245.6 228.0h0.7v0.7h-0.7zM250.0 229.8h0.7v0.7h-0.7zM246.9 230.0h0.7v0.7h-0.7zM243.9 230.8h0.7v0.7h-0.7zM243.6 228.7h0.7v0.7h-0.7zM248.0 225.8h0.7v0.7h-0.7zM242.4 224.6h0.7v0.7h-0.7zM245.5 227.7h0.7v0.7h-0.7zM244.0 228.8h0.7v0.7h-0.7zM237.9 228.3h0.7v0.7h-0.7zM245.3 227.3h0.7v0.7h-0.7zM247.9 231.0h0.7v0.7h-0.7zM243.4 226.1h0.7v0.7h-0.7zM243.0 228.1h0.7v0.7h-0.7zM246.8 226.0h0.7v0.7h-0.7zM248.2 225.6h0.7v0.7h-0.7zM247.8 228.4h0.7v0.7h-0.7zM246.8 231.8h0.7v0.7h-0.7z" fill="#000" fill-opacity="0.38"/>
<path d="M244.1 227.5h0.7v0.7h-0.7zM246.7 229.3h0.7v0.7h-0.7zM240.6 228.6h0.7v0.7h-0.7zM242.6 229.2h0.7v0.7h-0.7zM249.6 227.6h0.7v0.7h-0.7zM244.7 228.2h0.7v0.7h-0.7zM235.2 230.0h0.7v0.7h-0.7zM246.9 228.0h0.7v0.7h-0.7zM243.6 226.5h0.7v0.7h-0.7zM244.6 230.2h0.7v0.7h-0.7zM244.8 230.4h0.7v0.7h-0.7zM236.3 227.5h0.7v0.7h-0.7zM245.9 227.7h0.7v0.7h-0.7zM239.3 226.9h0.7v0.7h-0.7zM249.0 225.0h0.7v0.7h-0.7zM241.5 225.9h0.7v0.7h-0.7zM243.2 229.2h0.7v0.7h-0.7zM246.7 223.8h0.7v0.7h-0.7zM249.8 226.3h0.7v0.7h-0.7zM243.3 231.1h0.7v0.7h-0.7z" fill="#000" fill-opacity="0.38"/>
<path d="M244.6 225.4h0.7v0.7h-0.7zM242.8 226.6h0.7v0.7h-0.7zM241.6 227.4h0.7v0.7h-0.7zM248.0 228.3h0.7v0.7h-0.7zM240.7 233.5h0.7v0.7h-0.7zM241.7 228.3h0.7v0.7h-0.7zM245.2 229.3h0.7v0.7h-0.7zM244.0 228.8h0.7v0.7h-0.7zM252.1 227.5h0.7v0.7h-0.7zM241.4 228.7h0.7v0.7h-0.7zM242.3 227.3h0.7v0.7h-0.7zM245.7 228.4h0.7v0.7h-0.7zM244.2 229.5h0.7v0.7h-0.7zM244.2 225.3h0.7v0.7h-0.7zM247.9 226.9h0.7v0.7h-0.7zM249.0 226.3h0.7v0.7h-0.7zM247.0 228.3h0.7v0.7h-0.7zM235.8 225.6h0.7v0.7h-0.7zM241.4 230.8h0.7v0.7h-0.7zM238.8 230.0h0.7v0.7h-0.7z" fill="#000" fill-opacity="0.38"/>
<path d="M248.7 228.5h0.7v0.7h-0.7zM247.2 226.7h0.7v0.7h-0.7zM245.0 228.2h0.7v0.7h-0.7zM246.5 229.1h0.7v0.7h-0.7zM244.2 226.5h0.7v0.7h-0.7zM243.2 228.7h0.7v0.7h-0.7zM239.3 225.8h0.7v0.7h-0.7zM243.5 226.8h0.7v0.7h-0.7zM243.7 222.8h0.7v0.7h-0.7zM243.8 227.4h0.7v0.7h-0.7zM247.3 223.8h0.7v0.7h-0.7zM244.0 228.8h0.7v0.7h-0.7zM246.8 230.0h0.7v0.7h-0.7zM248.4 225.5h0.7v0.7h-0.7zM247.1 227.0h0.7v0.7h-0.7zM242.5 230.9h0.7v0.7h-0.7zM242.8 226.3h0.7v0.7h-0.7zM243.5 226.3h0.7v0.7h-0.7zM248.4 228.3h0.7v0.7h-0.7zM249.8 228.3h0.7v0.7h-0.7z" fill="#000" fill-opacity="0.38"/>
<path d="M243.1 230.0h0.7v0.7h-0.7zM242.7 227.1h0.7v0.7h-0.7zM244.4 227.9h0.7v0.7h-0.7zM248.9 226.4h0.7v0.7h-0.7zM246.2 227.7h0.7v0.7h-0.7zM240.6 226.0h0.7v0.7h-0.7zM244.3 228.6h0.7v0.7h-0.7zM246.1 228.6h0.7v0.7h-0.7zM245.1 226.9h0.7v0.7h-0.7zM246.3 225.8h0.7v0.7h-0.7zM240.4 227.5h0.7v0.7h-0.7zM240.1 227.1h0.7v0.7h-0.7zM242.4 226.9h0.7v0.7h-0.7zM244.7 226.3h0.7v0.7h-0.7zM243.3 224.6h0.7v0.7h-0.7zM245.4 226.1h0.7v0.7h-0.7zM246.0 222.3h0.7v0.7h-0.7zM242.3 228.5h0.7v0.7h-0.7zM236.7 227.7h0.7v0.7h-0.7zM245.3 228.0h0.7v0.7h-0.7z" fill="#000" fill-opacity="0.38"/>
<path d="M240.0 228.6h0.7v0.7h-0.7zM245.4 225.9h0.7v0.7h-0.7zM247.5 227.5h0.7v0.7h-0.7zM245.0 226.9h0.7v0.7h-0.7zM246.9 227.9h0.7v0.7h-0.7zM248.9 228.4h0.7v0.7h-0.7zM242.9 227.5h0.7v0.7h-0.7zM248.0 226.9h0.7v0.7h-0.7zM246.4 228.7h0.7v0.7h-0.7zM244.1 223.4h0.7v0.7h-0.7z" fill="#000" fill-opacity="0.38"/>
<path d="M252.4 228.1h0.7v0.7h-0.7zM252.4 226.0h0.7v0.7h-0.7zM255.5 227.3h0.7v0.7h-0.7zM250.2 226.1h0.7v0.7h-0.7zM253.0 225.3h0.7v0.7h-0.7zM249.1 231.9h0.7v0.7h-0.7zM255.8 229.8h0.7v0.7h-0.7zM256.0 228.9h0.7v0.7h-0.7zM247.1 230.1h0.7v0.7h-0.7zM255.6 228.6h0.7v0.7h-0.7zM246.3 230.2h0.7v0.7h-0.7zM256.0 226.6h0.7v0.7h-0.7zM252.4 229.3h0.7v0.7h-0.7zM251.8 229.9h0.7v0.7h-0.7zM252.2 229.1h0.7v0.7h-0.7zM252.2 224.4h0.7v0.7h-0.7zM249.1 234.3h0.7v0.7h-0.7zM252.8 230.4h0.7v0.7h-0.7zM255.3 231.3h0.7v0.7h-0.7zM253.6 226.3h0.7v0.7h-0.7z" fill="#000" fill-opacity="0.42"/>
<path d="M252.1 223.5h0.7v0.7h-0.7zM251.5 229.5h0.7v0.7h-0.7zM245.7 228.0h0.7v0.7h-0.7zM254.4 230.4h0.7v0.7h-0.7zM249.3 226.2h0.7v0.7h-0.7zM246.5 225.4h0.7v0.7h-0.7zM253.6 232.0h0.7v0.7h-0.7zM248.7 230.5h0.7v0.7h-0.7zM253.2 226.5h0.7v0.7h-0.7zM258.4 222.2h0.7v0.7h-0.7zM251.8 228.1h0.7v0.7h-0.7zM258.2 231.4h0.7v0.7h-0.7zM258.6 227.9h0.7v0.7h-0.7zM254.9 230.5h0.7v0.7h-0.7zM253.5 228.4h0.7v0.7h-0.7zM251.5 226.7h0.7v0.7h-0.7zM248.4 231.8h0.7v0.7h-0.7zM250.7 223.2h0.7v0.7h-0.7zM252.8 227.5h0.7v0.7h-0.7zM252.5 231.5h0.7v0.7h-0.7z" fill="#000" fill-opacity="0.42"/>
<path d="M251.7 227.0h0.7v0.7h-0.7zM249.8 227.6h0.7v0.7h-0.7zM250.7 228.0h0.7v0.7h-0.7zM261.1 228.4h0.7v0.7h-0.7zM249.5 231.7h0.7v0.7h-0.7zM254.5 229.3h0.7v0.7h-0.7zM254.1 229.4h0.7v0.7h-0.7zM254.0 230.6h0.7v0.7h-0.7zM254.9 230.5h0.7v0.7h-0.7zM250.5 227.6h0.7v0.7h-0.7zM249.9 229.6h0.7v0.7h-0.7zM254.4 226.6h0.7v0.7h-0.7zM253.7 233.2h0.7v0.7h-0.7zM255.6 225.2h0.7v0.7h-0.7zM251.7 229.0h0.7v0.7h-0.7zM251.9 228.4h0.7v0.7h-0.7zM255.4 228.3h0.7v0.7h-0.7zM248.8 229.1h0.7v0.7h-0.7zM251.7 227.8h0.7v0.7h-0.7zM250.3 224.6h0.7v0.7h-0.7z" fill="#000" fill-opacity="0.42"/>
<path d="M248.4 226.8h0.7v0.7h-0.7zM248.9 221.8h0.7v0.7h-0.7zM255.4 225.1h0.7v0.7h-0.7zM249.9 228.7h0.7v0.7h-0.7zM245.0 230.5h0.7v0.7h-0.7zM249.8 229.0h0.7v0.7h-0.7zM250.6 228.3h0.7v0.7h-0.7zM252.3 227.6h0.7v0.7h-0.7zM246.7 224.5h0.7v0.7h-0.7zM251.9 230.6h0.7v0.7h-0.7zM250.4 228.7h0.7v0.7h-0.7zM252.5 228.6h0.7v0.7h-0.7zM254.9 224.4h0.7v0.7h-0.7zM252.8 227.2h0.7v0.7h-0.7zM251.1 225.8h0.7v0.7h-0.7zM249.7 225.4h0.7v0.7h-0.7zM248.8 233.0h0.7v0.7h-0.7zM257.0 227.6h0.7v0.7h-0.7zM254.2 225.5h0.7v0.7h-0.7zM243.9 223.7h0.7v0.7h-0.7z" fill="#000" fill-opacity="0.42"/>
<path d="M252.4 230.7h0.7v0.7h-0.7zM251.9 225.5h0.7v0.7h-0.7zM251.3 225.5h0.7v0.7h-0.7zM247.9 227.1h0.7v0.7h-0.7zM250.8 225.9h0.7v0.7h-0.7zM249.4 225.6h0.7v0.7h-0.7zM252.7 230.6h0.7v0.7h-0.7zM251.4 232.4h0.7v0.7h-0.7zM247.3 228.2h0.7v0.7h-0.7zM248.6 227.3h0.7v0.7h-0.7zM252.3 228.8h0.7v0.7h-0.7zM255.3 226.4h0.7v0.7h-0.7zM248.4 227.2h0.7v0.7h-0.7zM252.9 226.1h0.7v0.7h-0.7zM254.6 231.2h0.7v0.7h-0.7zM247.8 228.4h0.7v0.7h-0.7zM255.0 223.5h0.7v0.7h-0.7zM252.6 227.1h0.7v0.7h-0.7zM247.8 230.4h0.7v0.7h-0.7zM252.6 226.6h0.7v0.7h-0.7z" fill="#000" fill-opacity="0.42"/>
<path d="M253.3 229.0h0.7v0.7h-0.7zM254.2 228.8h0.7v0.7h-0.7zM253.2 225.1h0.7v0.7h-0.7zM250.8 227.9h0.7v0.7h-0.7zM243.9 232.2h0.7v0.7h-0.7zM250.9 225.3h0.7v0.7h-0.7zM246.7 228.1h0.7v0.7h-0.7zM252.1 226.3h0.7v0.7h-0.7zM250.8 225.7h0.7v0.7h-0.7zM249.8 227.4h0.7v0.7h-0.7zM250.1 229.1h0.7v0.7h-0.7zM251.6 227.9h0.7v0.7h-0.7zM253.2 230.3h0.7v0.7h-0.7zM253.8 228.1h0.7v0.7h-0.7zM251.5 225.9h0.7v0.7h-0.7zM251.0 229.1h0.7v0.7h-0.7zM252.7 226.8h0.7v0.7h-0.7zM248.1 224.3h0.7v0.7h-0.7zM252.9 229.8h0.7v0.7h-0.7zM253.1 224.7h0.7v0.7h-0.7z" fill="#000" fill-opacity="0.42"/>
<path d="M251.4 228.1h0.7v0.7h-0.7zM249.3 228.3h0.7v0.7h-0.7zM251.4 225.8h0.7v0.7h-0.7zM248.4 229.3h0.7v0.7h-0.7zM253.0 225.7h0.7v0.7h-0.7zM249.0 229.5h0.7v0.7h-0.7zM253.7 226.9h0.7v0.7h-0.7zM256.7 227.0h0.7v0.7h-0.7zM248.9 229.9h0.7v0.7h-0.7zM251.4 228.3h0.7v0.7h-0.7zM252.1 225.5h0.7v0.7h-0.7zM248.5 227.2h0.7v0.7h-0.7zM256.1 225.4h0.7v0.7h-0.7zM256.0 228.1h0.7v0.7h-0.7zM248.8 228.2h0.7v0.7h-0.7zM253.7 225.7h0.7v0.7h-0.7zM245.8 228.4h0.7v0.7h-0.7zM248.8 228.5h0.7v0.7h-0.7zM246.4 227.3h0.7v0.7h-0.7zM249.6 224.4h0.7v0.7h-0.7z" fill="#000" fill-opacity="0.42"/>
<path d="M251.3 228.0h0.7v0.7h-0.7zM250.4 225.1h0.7v0.7h-0.7zM252.6 223.9h0.7v0.7h-0.7zM253.6 228.7h0.7v0.7h-0.7zM256.9 229.5h0.7v0.7h-0.7zM253.0 228.2h0.7v0.7h-0.7zM252.1 224.8h0.7v0.7h-0.7zM256.3 228.7h0.7v0.7h-0.7zM251.2 225.1h0.7v0.7h-0.7zM256.3 228.7h0.7v0.7h-0.7zM248.5 229.0h0.7v0.7h-0.7zM257.5 227.6h0.7v0.7h-0.7zM253.2 226.7h0.7v0.7h-0.7zM250.2 229.9h0.7v0.7h-0.7zM261.0 227.8h0.7v0.7h-0.7zM251.6 229.3h0.7v0.7h-0.7zM251.1 229.2h0.7v0.7h-0.7zM254.4 225.4h0.7v0.7h-0.7zM248.9 227.4h0.7v0.7h-0.7zM254.4 228.2h0.7v0.7h-0.7z" fill="#000" fill-opacity="0.42"/>
<path d="M255.6 224.7h0.7v0.7h-0.7zM253.4 226.3h0.7v0.7h-0.7zM252.3 228.3h0.7v0.7h-0.7zM249.2 227.1h0.7v0.7h-0.7zM248.6 228.2h0.7v0.7h-0.7zM249.5 226.5h0.7v0.7h-0.7zM252.6 226.2h0.7v0.7h-0.7zM255.3 226.2h0.7v0.7h-0.7zM254.5 228.2h0.7v0.7h-0.7zM249.0 227.1h0.7v0.7h-0.7zM249.6 226.8h0.7v0.7h-0.7zM251.2 231.5h0.7v0.7h-0.7zM250.8 230.9h0.7v0.7h-0.7zM253.3 224.8h0.7v0.7h-0.7zM245.3 229.0h0.7v0.7h-0.7zM246.2 229.1h0.7v0.7h-0.7zM255.0 228.4h0.7v0.7h-0.7zM251.4 227.1h0.7v0.7h-0.7zM252.8 227.0h0.7v0.7h-0.7zM250.4 226.8h0.7v0.7h-0.7z" fill="#000" fill-opacity="0.42"/>
<path d="M261.7 227.2h0.7v0.7h-0.7zM259.5 225.9h0.7v0.7h-0.7zM256.6 225.4h0.7v0.7h-0.7zM258.0 230.2h0.7v0.7h-0.7zM259.3 227.5h0.7v0.7h-0.7zM260.2 227.8h0.7v0.7h-0.7zM259.5 229.2h0.7v0.7h-0.7zM260.0 222.8h0.7v0.7h-0.7zM255.0 230.4h0.7v0.7h-0.7zM258.2 233.8h0.7v0.7h-0.7zM257.9 227.3h0.7v0.7h-0.7zM262.5 229.9h0.7v0.7h-0.7zM263.6 229.8h0.7v0.7h-0.7zM257.9 230.3h0.7v0.7h-0.7zM256.4 227.6h0.7v0.7h-0.7zM257.0 228.1h0.7v0.7h-0.7zM260.6 227.5h0.7v0.7h-0.7zM259.4 227.4h0.7v0.7h-0.7zM260.9 222.2h0.7v0.7h-0.7zM257.9 229.0h0.7v0.7h-0.7z" fill="#000" fill-opacity="0.5"/>
<path d="M255.6 231.0h0.7v0.7h-0.7zM259.1 231.6h0.7v0.7h-0.7zM261.1 230.1h0.7v0.7h-0.7zM258.1 226.1h0.7v0.7h-0.7zM257.9 227.5h0.7v0.7h-0.7zM259.2 227.5h0.7v0.7h-0.7zM266.8 224.9h0.7v0.7h-0.7zM261.7 227.5h0.7v0.7h-0.7zM257.8 230.7h0.7v0.7h-0.7zM258.5 225.8h0.7v0.7h-0.7zM259.6 228.1h0.7v0.7h-0.7zM252.9 229.1h0.7v0.7h-0.7zM255.6 226.9h0.7v0.7h-0.7zM259.8 229.3h0.7v0.7h-0.7zM257.7 233.6h0.7v0.7h-0.7zM259.6 227.2h0.7v0.7h-0.7zM259.1 228.3h0.7v0.7h-0.7zM252.5 224.9h0.7v0.7h-0.7zM254.7 233.4h0.7v0.7h-0.7zM258.0 228.0h0.7v0.7h-0.7z" fill="#000" fill-opacity="0.5"/>
<path d="M257.0 230.9h0.7v0.7h-0.7zM258.6 232.6h0.7v0.7h-0.7zM260.6 232.4h0.7v0.7h-0.7zM258.2 229.5h0.7v0.7h-0.7zM257.3 228.2h0.7v0.7h-0.7zM253.8 227.3h0.7v0.7h-0.7zM255.9 227.1h0.7v0.7h-0.7zM261.8 229.2h0.7v0.7h-0.7zM261.8 230.6h0.7v0.7h-0.7zM261.0 230.9h0.7v0.7h-0.7zM256.9 230.5h0.7v0.7h-0.7zM257.6 227.4h0.7v0.7h-0.7zM261.7 233.6h0.7v0.7h-0.7zM255.9 232.6h0.7v0.7h-0.7zM260.7 226.6h0.7v0.7h-0.7zM259.2 229.5h0.7v0.7h-0.7zM259.5 227.8h0.7v0.7h-0.7zM255.0 228.7h0.7v0.7h-0.7zM260.8 230.4h0.7v0.7h-0.7zM260.3 231.1h0.7v0.7h-0.7z" fill="#000" fill-opacity="0.5"/>
<path d="M255.8 228.5h0.7v0.7h-0.7zM259.4 230.9h0.7v0.7h-0.7zM258.9 229.8h0.7v0.7h-0.7zM258.9 233.5h0.7v0.7h-0.7zM252.6 228.5h0.7v0.7h-0.7zM265.2 229.1h0.7v0.7h-0.7zM253.6 228.9h0.7v0.7h-0.7zM254.6 227.0h0.7v0.7h-0.7zM259.1 232.6h0.7v0.7h-0.7zM259.7 230.1h0.7v0.7h-0.7zM261.2 229.1h0.7v0.7h-0.7zM256.2 228.4h0.7v0.7h-0.7zM259.4 228.0h0.7v0.7h-0.7zM256.7 227.8h0.7v0.7h-0.7zM254.5 226.2h0.7v0.7h-0.7zM258.3 227.8h0.7v0.7h-0.7zM258.6 231.8h0.7v0.7h-0.7zM259.3 228.5h0.7v0.7h-0.7zM255.3 226.1h0.7v0.7h-0.7zM259.5 226.6h0.7v0.7h-0.7z" fill="#000" fill-opacity="0.5"/>
<path d="M259.7 226.1h0.7v0.7h-0.7zM258.9 228.4h0.7v0.7h-0.7zM261.2 227.7h0.7v0.7h-0.7zM257.5 229.2h0.7v0.7h-0.7zM258.6 232.5h0.7v0.7h-0.7zM257.8 227.4h0.7v0.7h-0.7zM257.6 229.7h0.7v0.7h-0.7zM259.1 230.2h0.7v0.7h-0.7zM254.8 234.3h0.7v0.7h-0.7zM263.5 228.5h0.7v0.7h-0.7zM255.2 229.0h0.7v0.7h-0.7zM259.6 223.4h0.7v0.7h-0.7zM258.5 225.2h0.7v0.7h-0.7zM259.7 231.8h0.7v0.7h-0.7zM261.3 225.1h0.7v0.7h-0.7zM262.2 230.7h0.7v0.7h-0.7zM257.5 229.8h0.7v0.7h-0.7zM262.6 227.8h0.7v0.7h-0.7zM258.5 227.3h0.7v0.7h-0.7zM261.6 223.6h0.7v0.7h-0.7z" fill="#000" fill-opacity="0.5"/>
<path d="M262.3 226.4h0.7v0.7h-0.7zM261.0 224.8h0.7v0.7h-0.7zM256.0 227.2h0.7v0.7h-0.7zM260.7 224.9h0.7v0.7h-0.7zM260.1 227.1h0.7v0.7h-0.7zM261.8 227.9h0.7v0.7h-0.7zM259.8 228.2h0.7v0.7h-0.7zM263.3 227.8h0.7v0.7h-0.7zM258.4 233.2h0.7v0.7h-0.7zM258.7 230.2h0.7v0.7h-0.7zM256.5 229.1h0.7v0.7h-0.7zM252.4 228.8h0.7v0.7h-0.7zM256.8 225.1h0.7v0.7h-0.7zM254.7 231.2h0.7v0.7h-0.7zM259.6 225.1h0.7v0.7h-0.7zM263.4 227.0h0.7v0.7h-0.7zM257.5 229.2h0.7v0.7h-0.7zM255.4 224.9h0.7v0.7h-0.7zM256.5 231.3h0.7v0.7h-0.7zM261.1 225.0h0.7v0.7h-0.7z" fill="#000" fill-opacity="0.5"/>
<path d="M261.7 228.7h0.7v0.7h-0.7zM259.8 228.7h0.7v0.7h-0.7zM259.6 226.3h0.7v0.7h-0.7zM256.1 227.0h0.7v0.7h-0.7zM257.5 230.0h0.7v0.7h-0.7zM255.2 232.3h0.7v0.7h-0.7zM256.8 227.2h0.7v0.7h-0.7zM260.4 229.6h0.7v0.7h-0.7zM257.6 226.1h0.7v0.7h-0.7zM255.8 224.9h0.7v0.7h-0.7zM261.6 231.1h0.7v0.7h-0.7zM263.5 229.8h0.7v0.7h-0.7zM259.4 230.3h0.7v0.7h-0.7zM261.1 228.0h0.7v0.7h-0.7zM259.4 233.6h0.7v0.7h-0.7zM253.9 225.4h0.7v0.7h-0.7zM255.9 230.3h0.7v0.7h-0.7zM261.7 227.8h0.7v0.7h-0.7zM260.3 228.5h0.7v0.7h-0.7zM259.3 227.4h0.7v0.7h-0.7z" fill="#000" fill-opacity="0.5"/>
<path d="M258.4 228.6h0.7v0.7h-0.7zM261.5 233.8h0.7v0.7h-0.7zM253.6 229.8h0.7v0.7h-0.7zM258.5 230.8h0.7v0.7h-0.7zM261.4 230.4h0.7v0.7h-0.7zM260.7 226.4h0.7v0.7h-0.7zM253.9 232.5h0.7v0.7h-0.7zM261.8 226.4h0.7v0.7h-0.7zM262.0 230.1h0.7v0.7h-0.7zM251.9 230.7h0.7v0.7h-0.7zM255.8 231.3h0.7v0.7h-0.7zM256.7 226.9h0.7v0.7h-0.7zM254.3 228.1h0.7v0.7h-0.7zM261.2 227.0h0.7v0.7h-0.7zM253.5 233.6h0.7v0.7h-0.7zM263.5 230.2h0.7v0.7h-0.7zM257.1 225.8h0.7v0.7h-0.7zM254.1 229.9h0.7v0.7h-0.7zM262.0 226.1h0.7v0.7h-0.7zM258.5 228.0h0.7v0.7h-0.7z" fill="#000" fill-opacity="0.5"/>
<path d="M257.8 229.8h0.7v0.7h-0.7zM264.1 227.1h0.7v0.7h-0.7zM260.8 231.1h0.7v0.7h-0.7zM257.7 228.3h0.7v0.7h-0.7zM254.9 231.1h0.7v0.7h-0.7zM257.1 227.1h0.7v0.7h-0.7zM258.7 226.6h0.7v0.7h-0.7zM255.7 227.9h0.7v0.7h-0.7zM262.5 228.1h0.7v0.7h-0.7zM259.9 225.2h0.7v0.7h-0.7zM253.2 232.8h0.7v0.7h-0.7zM257.4 225.0h0.7v0.7h-0.7zM258.2 230.0h0.7v0.7h-0.7zM253.8 226.6h0.7v0.7h-0.7zM259.2 226.5h0.7v0.7h-0.7zM260.7 230.8h0.7v0.7h-0.7zM259.7 227.6h0.7v0.7h-0.7zM258.4 227.1h0.7v0.7h-0.7zM258.1 229.3h0.7v0.7h-0.7zM257.7 230.9h0.7v0.7h-0.7z" fill="#000" fill-opacity="0.5"/>
<path d="M265.5 227.3h0.7v0.7h-0.7zM259.4 230.5h0.7v0.7h-0.7zM260.2 228.0h0.7v0.7h-0.7zM257.2 230.9h0.7v0.7h-0.7zM260.2 229.8h0.7v0.7h-0.7zM256.3 230.1h0.7v0.7h-0.7zM260.6 228.2h0.7v0.7h-0.7zM260.2 233.6h0.7v0.7h-0.7zM253.4 230.0h0.7v0.7h-0.7zM255.3 225.4h0.7v0.7h-0.7zM257.9 229.9h0.7v0.7h-0.7zM258.6 225.9h0.7v0.7h-0.7zM254.6 227.3h0.7v0.7h-0.7zM258.5 226.7h0.7v0.7h-0.7zM254.4 232.7h0.7v0.7h-0.7zM256.2 228.2h0.7v0.7h-0.7zM257.0 227.2h0.7v0.7h-0.7zM258.6 227.9h0.7v0.7h-0.7zM260.2 225.8h0.7v0.7h-0.7zM254.5 233.1h0.7v0.7h-0.7z" fill="#000" fill-opacity="0.5"/>
<path d="M258.3 230.4h0.7v0.7h-0.7zM261.7 229.9h0.7v0.7h-0.7zM258.6 225.0h0.7v0.7h-0.7zM254.2 230.9h0.7v0.7h-0.7zM260.3 229.9h0.7v0.7h-0.7zM254.0 223.6h0.7v0.7h-0.7zM255.6 225.9h0.7v0.7h-0.7zM258.9 226.2h0.7v0.7h-0.7zM262.8 227.2h0.7v0.7h-0.7zM257.0 230.6h0.7v0.7h-0.7zM259.4 226.5h0.7v0.7h-0.7zM260.7 233.1h0.7v0.7h-0.7zM255.2 228.0h0.7v0.7h-0.7zM255.6 224.1h0.7v0.7h-0.7zM260.2 230.2h0.7v0.7h-0.7zM261.1 229.6h0.7v0.7h-0.7zM253.0 228.5h0.7v0.7h-0.7zM256.7 225.9h0.7v0.7h-0.7zM255.5 230.4h0.7v0.7h-0.7zM257.7 233.2h0.7v0.7h-0.7z" fill="#000" fill-opacity="0.5"/>
<path d="M259.8 224.2h0.7v0.7h-0.7zM260.9 231.5h0.7v0.7h-0.7zM258.6 225.8h0.7v0.7h-0.7zM263.3 225.5h0.7v0.7h-0.7zM258.3 224.2h0.7v0.7h-0.7zM255.1 224.6h0.7v0.7h-0.7zM261.5 231.4h0.7v0.7h-0.7zM257.4 225.4h0.7v0.7h-0.7zM258.3 229.5h0.7v0.7h-0.7zM254.3 225.9h0.7v0.7h-0.7zM258.2 230.2h0.7v0.7h-0.7zM258.7 229.7h0.7v0.7h-0.7zM255.1 222.8h0.7v0.7h-0.7zM259.4 226.5h0.7v0.7h-0.7zM258.2 227.7h0.7v0.7h-0.7zM259.8 226.8h0.7v0.7h-0.7zM262.4 228.7h0.7v0.7h-0.7zM259.9 230.1h0.7v0.7h-0.7zM261.3 229.5h0.7v0.7h-0.7zM253.7 227.1h0.7v0.7h-0.7z" fill="#000" fill-opacity="0.5"/>
<path d="M263.6 229.7h0.7v0.7h-0.7zM260.0 229.7h0.7v0.7h-0.7zM256.7 227.0h0.7v0.7h-0.7zM256.7 231.3h0.7v0.7h-0.7zM259.5 232.8h0.7v0.7h-0.7zM259.9 233.0h0.7v0.7h-0.7zM259.8 225.8h0.7v0.7h-0.7zM263.3 229.4h0.7v0.7h-0.7zM261.8 229.1h0.7v0.7h-0.7zM257.6 229.0h0.7v0.7h-0.7zM255.4 225.8h0.7v0.7h-0.7zM256.1 227.4h0.7v0.7h-0.7zM254.8 228.4h0.7v0.7h-0.7zM259.3 233.4h0.7v0.7h-0.7zM263.6 228.5h0.7v0.7h-0.7zM260.9 228.1h0.7v0.7h-0.7zM259.6 228.5h0.7v0.7h-0.7zM257.0 228.8h0.7v0.7h-0.7zM254.4 229.6h0.7v0.7h-0.7zM257.7 226.0h0.7v0.7h-0.7z" fill="#000" fill-opacity="0.5"/>
<path d="M257.5 229.9h0.7v0.7h-0.7zM256.6 229.7h0.7v0.7h-0.7zM260.1 232.3h0.7v0.7h-0.7zM255.5 228.3h0.7v0.7h-0.7zM259.9 232.1h0.7v0.7h-0.7zM259.2 230.4h0.7v0.7h-0.7zM254.5 227.2h0.7v0.7h-0.7zM263.1 227.9h0.7v0.7h-0.7zM264.5 226.9h0.7v0.7h-0.7zM257.7 224.8h0.7v0.7h-0.7zM260.3 229.2h0.7v0.7h-0.7zM264.1 229.0h0.7v0.7h-0.7zM257.8 225.3h0.7v0.7h-0.7zM258.3 230.8h0.7v0.7h-0.7zM260.5 231.5h0.7v0.7h-0.7zM260.9 228.5h0.7v0.7h-0.7zM260.2 229.0h0.7v0.7h-0.7zM254.8 232.7h0.7v0.7h-0.7zM259.5 226.1h0.7v0.7h-0.7zM259.6 229.3h0.7v0.7h-0.7z" fill="#000" fill-opacity="0.5"/>
<path d="M261.3 232.0h0.7v0.7h-0.7zM250.1 229.9h0.7v0.7h-0.7zM262.7 226.4h0.7v0.7h-0.7zM253.4 229.3h0.7v0.7h-0.7zM259.4 229.4h0.7v0.7h-0.7zM255.4 227.5h0.7v0.7h-0.7zM259.0 230.4h0.7v0.7h-0.7zM264.6 229.3h0.7v0.7h-0.7zM256.8 223.0h0.7v0.7h-0.7zM261.5 228.3h0.7v0.7h-0.7zM258.2 226.3h0.7v0.7h-0.7zM260.5 224.3h0.7v0.7h-0.7zM258.8 228.9h0.7v0.7h-0.7zM259.3 231.7h0.7v0.7h-0.7zM258.2 228.8h0.7v0.7h-0.7zM260.9 224.9h0.7v0.7h-0.7zM257.7 228.8h0.7v0.7h-0.7zM261.2 226.7h0.7v0.7h-0.7zM260.7 229.5h0.7v0.7h-0.7zM254.4 225.1h0.7v0.7h-0.7z" fill="#000" fill-opacity="0.5"/>
<path d="M254.5 228.9h0.7v0.7h-0.7zM259.1 230.3h0.7v0.7h-0.7zM260.8 227.3h0.7v0.7h-0.7zM261.5 230.6h0.7v0.7h-0.7zM259.8 229.7h0.7v0.7h-0.7zM254.9 229.5h0.7v0.7h-0.7zM255.6 225.8h0.7v0.7h-0.7zM257.5 228.9h0.7v0.7h-0.7zM258.4 227.8h0.7v0.7h-0.7zM255.7 229.0h0.7v0.7h-0.7zM256.4 225.2h0.7v0.7h-0.7zM258.8 232.1h0.7v0.7h-0.7zM257.4 226.1h0.7v0.7h-0.7zM262.4 232.7h0.7v0.7h-0.7zM257.7 228.1h0.7v0.7h-0.7zM259.1 235.6h0.7v0.7h-0.7zM258.9 231.0h0.7v0.7h-0.7zM259.7 224.3h0.7v0.7h-0.7zM255.4 225.7h0.7v0.7h-0.7zM259.7 228.9h0.7v0.7h-0.7z" fill="#000" fill-opacity="0.5"/>
<path d="M263.4 230.9h0.7v0.7h-0.7zM261.0 231.7h0.7v0.7h-0.7zM260.7 236.6h0.7v0.7h-0.7zM261.0 234.7h0.7v0.7h-0.7zM262.6 230.2h0.7v0.7h-0.7zM261.6 230.7h0.7v0.7h-0.7zM260.7 231.8h0.7v0.7h-0.7zM260.5 230.5h0.7v0.7h-0.7zM263.0 230.9h0.7v0.7h-0.7zM261.6 235.2h0.7v0.7h-0.7zM261.5 233.8h0.7v0.7h-0.7zM262.7 233.9h0.7v0.7h-0.7zM263.2 228.4h0.7v0.7h-0.7zM263.6 231.6h0.7v0.7h-0.7zM257.7 230.1h0.7v0.7h-0.7zM258.3 231.5h0.7v0.7h-0.7zM258.1 229.3h0.7v0.7h-0.7zM261.0 231.8h0.7v0.7h-0.7zM259.2 231.0h0.7v0.7h-0.7zM260.3 231.7h0.7v0.7h-0.7z" fill="#000" fill-opacity="0.45"/>
<path d="M260.5 231.0h0.7v0.7h-0.7zM261.9 228.0h0.7v0.7h-0.7zM259.7 231.8h0.7v0.7h-0.7zM259.9 230.3h0.7v0.7h-0.7zM259.8 232.0h0.7v0.7h-0.7zM262.5 231.1h0.7v0.7h-0.7zM260.1 232.3h0.7v0.7h-0.7zM260.1 227.2h0.7v0.7h-0.7zM260.9 230.7h0.7v0.7h-0.7zM259.6 232.9h0.7v0.7h-0.7zM260.6 230.3h0.7v0.7h-0.7zM257.0 227.7h0.7v0.7h-0.7zM260.5 231.2h0.7v0.7h-0.7zM261.2 232.0h0.7v0.7h-0.7zM259.7 228.7h0.7v0.7h-0.7zM258.7 231.2h0.7v0.7h-0.7zM258.7 233.2h0.7v0.7h-0.7zM258.4 227.6h0.7v0.7h-0.7zM260.2 227.6h0.7v0.7h-0.7zM263.1 229.3h0.7v0.7h-0.7z" fill="#000" fill-opacity="0.45"/>
<path d="M260.4 231.0h0.7v0.7h-0.7zM259.2 227.6h0.7v0.7h-0.7zM257.5 233.4h0.7v0.7h-0.7zM262.1 236.3h0.7v0.7h-0.7zM258.2 232.7h0.7v0.7h-0.7zM260.5 233.4h0.7v0.7h-0.7zM259.7 233.1h0.7v0.7h-0.7zM261.9 232.8h0.7v0.7h-0.7zM262.8 231.1h0.7v0.7h-0.7zM263.0 230.0h0.7v0.7h-0.7zM263.2 225.5h0.7v0.7h-0.7zM260.5 229.7h0.7v0.7h-0.7zM260.5 233.8h0.7v0.7h-0.7zM261.6 231.7h0.7v0.7h-0.7zM263.2 228.3h0.7v0.7h-0.7zM259.2 234.8h0.7v0.7h-0.7zM261.0 226.9h0.7v0.7h-0.7zM261.0 228.9h0.7v0.7h-0.7zM262.9 234.0h0.7v0.7h-0.7zM259.6 234.3h0.7v0.7h-0.7z" fill="#000" fill-opacity="0.45"/>
<path d="M259.2 233.5h0.7v0.7h-0.7zM261.4 231.2h0.7v0.7h-0.7zM258.2 230.9h0.7v0.7h-0.7zM256.8 230.3h0.7v0.7h-0.7zM257.5 234.2h0.7v0.7h-0.7zM259.0 226.1h0.7v0.7h-0.7zM261.4 232.3h0.7v0.7h-0.7zM259.7 236.2h0.7v0.7h-0.7zM261.7 231.6h0.7v0.7h-0.7zM259.5 225.0h0.7v0.7h-0.7zM261.3 233.6h0.7v0.7h-0.7zM259.6 228.4h0.7v0.7h-0.7zM260.4 227.8h0.7v0.7h-0.7zM260.5 233.2h0.7v0.7h-0.7zM262.9 232.1h0.7v0.7h-0.7zM260.8 233.1h0.7v0.7h-0.7zM262.7 230.8h0.7v0.7h-0.7zM258.5 229.8h0.7v0.7h-0.7zM258.5 229.5h0.7v0.7h-0.7zM260.3 232.3h0.7v0.7h-0.7z" fill="#000" fill-opacity="0.45"/>
<path d="M260.7 231.7h0.7v0.7h-0.7zM259.9 232.4h0.7v0.7h-0.7zM261.9 233.2h0.7v0.7h-0.7zM262.9 230.9h0.7v0.7h-0.7zM260.1 235.2h0.7v0.7h-0.7zM260.8 232.4h0.7v0.7h-0.7zM260.0 233.6h0.7v0.7h-0.7zM259.9 229.3h0.7v0.7h-0.7zM260.4 230.5h0.7v0.7h-0.7zM261.8 230.7h0.7v0.7h-0.7z" fill="#000" fill-opacity="0.45"/>
<path d="M218.7 249.2h0.7v0.7h-0.7zM220.0 243.8h0.7v0.7h-0.7zM224.6 233.5h0.7v0.7h-0.7zM215.7 242.8h0.7v0.7h-0.7zM221.9 252.5h0.7v0.7h-0.7zM220.9 247.7h0.7v0.7h-0.7zM213.7 237.4h0.7v0.7h-0.7zM216.0 245.0h0.7v0.7h-0.7zM219.7 256.6h0.7v0.7h-0.7zM223.9 250.6h0.7v0.7h-0.7zM213.5 238.2h0.7v0.7h-0.7zM218.4 256.7h0.7v0.7h-0.7zM229.7 254.4h0.7v0.7h-0.7zM228.5 276.4h0.7v0.7h-0.7zM211.7 267.7h0.7v0.7h-0.7zM224.8 269.5h0.7v0.7h-0.7zM217.9 264.4h0.7v0.7h-0.7zM215.1 251.1h0.7v0.7h-0.7zM218.1 275.2h0.7v0.7h-0.7zM216.7 264.4h0.7v0.7h-0.7z" fill="#000" fill-opacity="0.12"/>
<path d="M218.4 242.8h0.7v0.7h-0.7zM219.5 260.6h0.7v0.7h-0.7zM213.7 260.2h0.7v0.7h-0.7zM213.7 240.6h0.7v0.7h-0.7zM219.3 248.9h0.7v0.7h-0.7zM212.1 230.8h0.7v0.7h-0.7zM218.1 255.2h0.7v0.7h-0.7zM215.2 254.4h0.7v0.7h-0.7zM208.8 257.1h0.7v0.7h-0.7zM220.5 255.6h0.7v0.7h-0.7zM214.3 253.0h0.7v0.7h-0.7zM218.8 265.9h0.7v0.7h-0.7zM219.7 255.3h0.7v0.7h-0.7zM213.7 263.2h0.7v0.7h-0.7zM225.0 245.6h0.7v0.7h-0.7zM221.8 256.0h0.7v0.7h-0.7zM217.7 235.3h0.7v0.7h-0.7zM228.5 227.8h0.7v0.7h-0.7zM219.8 247.1h0.7v0.7h-0.7zM224.9 246.5h0.7v0.7h-0.7z" fill="#000" fill-opacity="0.12"/>
<path d="M218.2 259.9h0.7v0.7h-0.7zM220.7 245.2h0.7v0.7h-0.7zM222.1 257.1h0.7v0.7h-0.7zM223.9 245.4h0.7v0.7h-0.7zM217.7 246.9h0.7v0.7h-0.7zM213.0 255.3h0.7v0.7h-0.7zM220.5 270.4h0.7v0.7h-0.7zM216.1 257.0h0.7v0.7h-0.7zM224.8 250.5h0.7v0.7h-0.7zM218.4 253.7h0.7v0.7h-0.7zM213.9 239.2h0.7v0.7h-0.7zM224.7 254.2h0.7v0.7h-0.7zM217.6 235.9h0.7v0.7h-0.7zM218.7 267.2h0.7v0.7h-0.7zM211.1 240.4h0.7v0.7h-0.7zM224.6 270.5h0.7v0.7h-0.7zM227.3 244.8h0.7v0.7h-0.7zM221.6 242.3h0.7v0.7h-0.7zM221.1 247.3h0.7v0.7h-0.7zM219.2 269.4h0.7v0.7h-0.7z" fill="#000" fill-opacity="0.12"/>
<path d="M220.0 248.9h0.7v0.7h-0.7zM218.3 255.4h0.7v0.7h-0.7zM214.9 254.7h0.7v0.7h-0.7zM221.6 272.2h0.7v0.7h-0.7zM210.6 263.3h0.7v0.7h-0.7zM232.6 254.5h0.7v0.7h-0.7zM218.7 266.7h0.7v0.7h-0.7zM215.0 245.7h0.7v0.7h-0.7zM220.0 244.5h0.7v0.7h-0.7zM224.6 252.0h0.7v0.7h-0.7zM220.3 284.8h0.7v0.7h-0.7zM215.3 264.0h0.7v0.7h-0.7zM213.1 268.1h0.7v0.7h-0.7zM223.7 253.8h0.7v0.7h-0.7zM223.9 272.8h0.7v0.7h-0.7zM226.2 252.0h0.7v0.7h-0.7zM217.7 266.3h0.7v0.7h-0.7zM209.2 244.2h0.7v0.7h-0.7zM220.9 259.3h0.7v0.7h-0.7zM229.1 274.7h0.7v0.7h-0.7z" fill="#000" fill-opacity="0.12"/>
<path d="M219.9 257.7h0.7v0.7h-0.7zM210.2 249.6h0.7v0.7h-0.7zM219.6 249.1h0.7v0.7h-0.7zM218.4 259.8h0.7v0.7h-0.7zM212.3 244.7h0.7v0.7h-0.7zM207.4 266.7h0.7v0.7h-0.7zM211.7 230.1h0.7v0.7h-0.7zM222.6 249.2h0.7v0.7h-0.7zM223.7 247.3h0.7v0.7h-0.7zM230.6 261.2h0.7v0.7h-0.7zM218.9 253.5h0.7v0.7h-0.7zM216.8 262.4h0.7v0.7h-0.7zM229.9 246.6h0.7v0.7h-0.7zM211.5 259.7h0.7v0.7h-0.7zM224.3 232.8h0.7v0.7h-0.7zM213.9 239.2h0.7v0.7h-0.7zM221.3 258.5h0.7v0.7h-0.7zM213.6 237.5h0.7v0.7h-0.7zM222.0 225.6h0.7v0.7h-0.7zM221.8 250.0h0.7v0.7h-0.7z" fill="#000" fill-opacity="0.12"/>
<path d="M229.4 264.8h0.7v0.7h-0.7zM214.6 248.5h0.7v0.7h-0.7zM216.4 242.7h0.7v0.7h-0.7zM218.5 264.4h0.7v0.7h-0.7zM209.1 249.1h0.7v0.7h-0.7zM226.8 261.5h0.7v0.7h-0.7zM213.2 241.7h0.7v0.7h-0.7zM212.9 231.4h0.7v0.7h-0.7zM224.8 252.9h0.7v0.7h-0.7zM213.9 233.6h0.7v0.7h-0.7zM215.7 245.4h0.7v0.7h-0.7zM228.2 246.1h0.7v0.7h-0.7zM218.7 265.7h0.7v0.7h-0.7zM221.9 249.7h0.7v0.7h-0.7zM221.5 246.4h0.7v0.7h-0.7zM217.5 239.8h0.7v0.7h-0.7zM212.7 233.0h0.7v0.7h-0.7zM221.0 258.6h0.7v0.7h-0.7zM219.0 262.0h0.7v0.7h-0.7zM221.2 253.6h0.7v0.7h-0.7z" fill="#000" fill-opacity="0.12"/>
<path d="M212.8 259.6h0.7v0.7h-0.7zM225.0 260.1h0.7v0.7h-0.7zM225.4 246.0h0.7v0.7h-0.7zM212.2 268.0h0.7v0.7h-0.7zM214.6 255.1h0.7v0.7h-0.7zM216.9 252.3h0.7v0.7h-0.7zM216.4 245.1h0.7v0.7h-0.7zM207.5 276.3h0.7v0.7h-0.7zM219.2 227.4h0.7v0.7h-0.7zM212.7 237.6h0.7v0.7h-0.7zM213.6 219.5h0.7v0.7h-0.7zM221.4 272.9h0.7v0.7h-0.7zM216.6 261.5h0.7v0.7h-0.7zM221.5 236.1h0.7v0.7h-0.7zM225.2 230.5h0.7v0.7h-0.7zM214.6 247.4h0.7v0.7h-0.7zM225.4 253.5h0.7v0.7h-0.7zM217.3 241.8h0.7v0.7h-0.7zM218.5 252.5h0.7v0.7h-0.7zM222.3 269.8h0.7v0.7h-0.7z" fill="#000" fill-opacity="0.12"/>
<path d="M222.3 252.2h0.7v0.7h-0.7zM217.1 272.4h0.7v0.7h-0.7zM219.2 251.8h0.7v0.7h-0.7zM228.6 272.0h0.7v0.7h-0.7zM221.3 250.6h0.7v0.7h-0.7zM214.3 265.6h0.7v0.7h-0.7zM215.3 264.2h0.7v0.7h-0.7zM213.4 253.3h0.7v0.7h-0.7zM220.4 253.8h0.7v0.7h-0.7zM219.4 256.9h0.7v0.7h-0.7zM211.4 237.9h0.7v0.7h-0.7zM217.1 275.0h0.7v0.7h-0.7zM217.3 240.2h0.7v0.7h-0.7zM214.1 252.4h0.7v0.7h-0.7zM224.9 244.8h0.7v0.7h-0.7zM221.3 254.4h0.7v0.7h-0.7zM215.9 240.0h0.7v0.7h-0.7zM217.1 242.8h0.7v0.7h-0.7zM221.2 229.6h0.7v0.7h-0.7zM224.6 261.6h0.7v0.7h-0.7z" fill="#000" fill-opacity="0.12"/>
<path d="M221.4 271.0h0.7v0.7h-0.7zM221.5 230.3h0.7v0.7h-0.7zM218.3 257.7h0.7v0.7h-0.7zM214.0 237.6h0.7v0.7h-0.7zM220.5 258.5h0.7v0.7h-0.7zM215.5 248.9h0.7v0.7h-0.7z" fill="#000" fill-opacity="0.12"/>
<path d="M233.1 235.6h0.7v0.7h-0.7zM239.2 248.4h0.7v0.7h-0.7zM218.0 237.3h0.7v0.7h-0.7zM262.1 242.5h0.7v0.7h-0.7zM242.1 246.5h0.7v0.7h-0.7zM226.3 230.6h0.7v0.7h-0.7zM217.3 228.6h0.7v0.7h-0.7zM243.4 246.6h0.7v0.7h-0.7zM234.3 234.7h0.7v0.7h-0.7zM245.5 244.8h0.7v0.7h-0.7zM243.5 225.1h0.7v0.7h-0.7zM232.6 220.3h0.7v0.7h-0.7zM243.3 233.4h0.7v0.7h-0.7zM231.1 251.7h0.7v0.7h-0.7zM258.0 243.8h0.7v0.7h-0.7zM243.8 241.3h0.7v0.7h-0.7zM232.0 239.6h0.7v0.7h-0.7zM266.1 233.2h0.7v0.7h-0.7zM231.0 241.3h0.7v0.7h-0.7zM252.2 246.5h0.7v0.7h-0.7z" fill="#000" fill-opacity="0.08"/>
<path d="M226.8 239.0h0.7v0.7h-0.7zM236.4 230.4h0.7v0.7h-0.7zM241.1 236.3h0.7v0.7h-0.7zM252.5 243.4h0.7v0.7h-0.7zM229.4 240.6h0.7v0.7h-0.7zM235.1 235.1h0.7v0.7h-0.7zM233.4 248.3h0.7v0.7h-0.7zM234.4 226.7h0.7v0.7h-0.7zM229.5 246.3h0.7v0.7h-0.7zM269.3 231.8h0.7v0.7h-0.7zM235.2 237.4h0.7v0.7h-0.7zM220.8 243.1h0.7v0.7h-0.7zM239.3 242.2h0.7v0.7h-0.7zM270.5 237.9h0.7v0.7h-0.7zM250.8 246.5h0.7v0.7h-0.7zM231.3 235.4h0.7v0.7h-0.7zM261.2 245.6h0.7v0.7h-0.7zM242.0 231.5h0.7v0.7h-0.7zM252.0 244.1h0.7v0.7h-0.7zM269.9 251.5h0.7v0.7h-0.7z" fill="#000" fill-opacity="0.08"/>
<path d="M250.9 242.1h0.7v0.7h-0.7zM240.8 235.7h0.7v0.7h-0.7zM244.2 241.9h0.7v0.7h-0.7zM248.9 248.5h0.7v0.7h-0.7zM244.2 235.8h0.7v0.7h-0.7zM251.0 252.1h0.7v0.7h-0.7zM228.6 243.3h0.7v0.7h-0.7zM247.5 244.2h0.7v0.7h-0.7zM246.9 239.3h0.7v0.7h-0.7zM238.6 253.1h0.7v0.7h-0.7zM263.6 229.1h0.7v0.7h-0.7zM230.8 236.0h0.7v0.7h-0.7zM218.3 242.8h0.7v0.7h-0.7zM239.3 235.8h0.7v0.7h-0.7zM252.2 258.9h0.7v0.7h-0.7zM260.1 249.1h0.7v0.7h-0.7zM234.4 245.1h0.7v0.7h-0.7zM239.5 249.0h0.7v0.7h-0.7zM247.9 239.7h0.7v0.7h-0.7z" fill="#000" fill-opacity="0.08"/>
</g>
<line x1="206.90" y1="216.20" x2="206.90" y2="287.70" stroke="#999" stroke-width="1.0"/>
<line x1="206.90" y1="287.70" x2="278.20" y2="287.70" stroke="#999" stroke-width="1.0"/>
<line x1="205.10" y1="287.70" x2="207.20" y2="287.70" stroke="#555" stroke-width="0.8"/>
<line x1="206.90" y1="287.40" x2="206.90" y2="289.50" stroke="#555" stroke-width="0.8"/>
<line x1="205.80" y1="282.32" x2="207.20" y2="282.32" stroke="#888" stroke-width="0.8"/>
<line x1="212.27" y1="287.40" x2="212.27" y2="288.80" stroke="#888" stroke-width="0.8"/>
<line x1="205.80" y1="279.17" x2="207.20" y2="279.17" stroke="#888" stroke-width="0.8"/>
<line x1="215.40" y1="287.40" x2="215.40" y2="288.80" stroke="#888" stroke-width="0.8"/>
<line x1="205.80" y1="276.94" x2="207.20" y2="276.94" stroke="#888" stroke-width="0.8"/>
<line x1="217.63" y1="287.40" x2="217.63" y2="288.80" stroke="#888" stroke-width="0.8"/>
<line x1="205.80" y1="275.21" x2="207.20" y2="275.21" stroke="#888" stroke-width="0.8"/>
<line x1="219.36" y1="287.40" x2="219.36" y2="288.80" stroke="#888" stroke-width="0.8"/>
<line x1="205.80" y1="273.79" x2="207.20" y2="273.79" stroke="#888" stroke-width="0.8"/>
<line x1="220.77" y1="287.40" x2="220.77" y2="288.80" stroke="#888" stroke-width="0.8"/>
<line x1="205.80" y1="272.59" x2="207.20" y2="272.59" stroke="#888" stroke-width="0.8"/>
<line x1="221.96" y1="287.40" x2="221.96" y2="288.80" stroke="#888" stroke-width="0.8"/>
<line x1="205.80" y1="271.56" x2="207.20" y2="271.56" stroke="#888" stroke-width="0.8"/>
<line x1="223.00" y1="287.40" x2="223.00" y2="288.80" stroke="#888" stroke-width="0.8"/>
<line x1="205.80" y1="270.64" x2="207.20" y2="270.64" stroke="#888" stroke-width="0.8"/>
<line x1="223.91" y1="287.40" x2="223.91" y2="288.80" stroke="#888" stroke-width="0.8"/>
<line x1="205.10" y1="269.82" x2="207.20" y2="269.82" stroke="#555" stroke-width="0.8"/>
<line x1="224.72" y1="287.40" x2="224.72" y2="289.50" stroke="#555" stroke-width="0.8"/>
<line x1="205.80" y1="264.44" x2="207.20" y2="264.44" stroke="#888" stroke-width="0.8"/>
<line x1="230.09" y1="287.40" x2="230.09" y2="288.80" stroke="#888" stroke-width="0.8"/>
<line x1="205.80" y1="261.30" x2="207.20" y2="261.30" stroke="#888" stroke-width="0.8"/>
<line x1="233.23" y1="287.40" x2="233.23" y2="288.80" stroke="#888" stroke-width="0.8"/>
<line x1="205.80" y1="259.06" x2="207.20" y2="259.06" stroke="#888" stroke-width="0.8"/>
<line x1="235.46" y1="287.40" x2="235.46" y2="288.80" stroke="#888" stroke-width="0.8"/>
<line x1="205.80" y1="257.33" x2="207.20" y2="257.33" stroke="#888" stroke-width="0.8"/>
<line x1="237.18" y1="287.40" x2="237.18" y2="288.80" stroke="#888" stroke-width="0.8"/>
<line x1="205.80" y1="255.92" x2="207.20" y2="255.92" stroke="#888" stroke-width="0.8"/>
<line x1="238.60" y1="287.40" x2="238.60" y2="288.80" stroke="#888" stroke-width="0.8"/>
<line x1="205.80" y1="254.72" x2="207.20" y2="254.72" stroke="#888" stroke-width="0.8"/>
<line x1="239.79" y1="287.40" x2="239.79" y2="288.80" stroke="#888" stroke-width="0.8"/>
<line x1="205.80" y1="253.68" x2="207.20" y2="253.68" stroke="#888" stroke-width="0.8"/>
<line x1="240.82" y1="287.40" x2="240.82" y2="288.80" stroke="#888" stroke-width="0.8"/>
<line x1="205.80" y1="252.77" x2="207.20" y2="252.77" stroke="#888" stroke-width="0.8"/>
<line x1="241.73" y1="287.40" x2="241.73" y2="288.80" stroke="#888" stroke-width="0.8"/>
<line x1="205.10" y1="251.95" x2="207.20" y2="251.95" stroke="#555" stroke-width="0.8"/>
<line x1="242.55" y1="287.40" x2="242.55" y2="289.50" stroke="#555" stroke-width="0.8"/>
<line x1="205.80" y1="246.57" x2="207.20" y2="246.57" stroke="#888" stroke-width="0.8"/>
<line x1="247.92" y1="287.40" x2="247.92" y2="288.80" stroke="#888" stroke-width="0.8"/>
<line x1="205.80" y1="243.42" x2="207.20" y2="243.42" stroke="#888" stroke-width="0.8"/>
<line x1="251.05" y1="287.40" x2="251.05" y2="288.80" stroke="#888" stroke-width="0.8"/>
<line x1="205.80" y1="241.19" x2="207.20" y2="241.19" stroke="#888" stroke-width="0.8"/>
<line x1="253.28" y1="287.40" x2="253.28" y2="288.80" stroke="#888" stroke-width="0.8"/>
<line x1="205.80" y1="239.46" x2="207.20" y2="239.46" stroke="#888" stroke-width="0.8"/>
<line x1="255.01" y1="287.40" x2="255.01" y2="288.80" stroke="#888" stroke-width="0.8"/>
<line x1="205.80" y1="238.04" x2="207.20" y2="238.04" stroke="#888" stroke-width="0.8"/>
<line x1="256.42" y1="287.40" x2="256.42" y2="288.80" stroke="#888" stroke-width="0.8"/>
<line x1="205.80" y1="236.84" x2="207.20" y2="236.84" stroke="#888" stroke-width="0.8"/>
<line x1="257.61" y1="287.40" x2="257.61" y2="288.80" stroke="#888" stroke-width="0.8"/>
<line x1="205.80" y1="235.81" x2="207.20" y2="235.81" stroke="#888" stroke-width="0.8"/>
<line x1="258.65" y1="287.40" x2="258.65" y2="288.80" stroke="#888" stroke-width="0.8"/>
<line x1="205.80" y1="234.89" x2="207.20" y2="234.89" stroke="#888" stroke-width="0.8"/>
<line x1="259.56" y1="287.40" x2="259.56" y2="288.80" stroke="#888" stroke-width="0.8"/>
<line x1="205.10" y1="234.07" x2="207.20" y2="234.07" stroke="#555" stroke-width="0.8"/>
<line x1="260.38" y1="287.40" x2="260.38" y2="289.50" stroke="#555" stroke-width="0.8"/>
<line x1="205.80" y1="228.69" x2="207.20" y2="228.69" stroke="#888" stroke-width="0.8"/>
<line x1="265.74" y1="287.40" x2="265.74" y2="288.80" stroke="#888" stroke-width="0.8"/>
<line x1="205.80" y1="225.55" x2="207.20" y2="225.55" stroke="#888" stroke-width="0.8"/>
<line x1="268.88" y1="287.40" x2="268.88" y2="288.80" stroke="#888" stroke-width="0.8"/>
<line x1="205.80" y1="223.31" x2="207.20" y2="223.31" stroke="#888" stroke-width="0.8"/>
<line x1="271.11" y1="287.40" x2="271.11" y2="288.80" stroke="#888" stroke-width="0.8"/>
<line x1="205.80" y1="221.58" x2="207.20" y2="221.58" stroke="#888" stroke-width="0.8"/>
<line x1="272.83" y1="287.40" x2="272.83" y2="288.80" stroke="#888" stroke-width="0.8"/>
<line x1="205.80" y1="220.17" x2="207.20" y2="220.17" stroke="#888" stroke-width="0.8"/>
<line x1="274.25" y1="287.40" x2="274.25" y2="288.80" stroke="#888" stroke-width="0.8"/>
<line x1="205.80" y1="218.97" x2="207.20" y2="218.97" stroke="#888" stroke-width="0.8"/>
<line x1="275.44" y1="287.40" x2="275.44" y2="288.80" stroke="#888" stroke-width="0.8"/>
<line x1="205.80" y1="217.93" x2="207.20" y2="217.93" stroke="#888" stroke-width="0.8"/>
<line x1="276.47" y1="287.40" x2="276.47" y2="288.80" stroke="#888" stroke-width="0.8"/>
<line x1="205.80" y1="217.02" x2="207.20" y2="217.02" stroke="#888" stroke-width="0.8"/>
<line x1="277.38" y1="287.40" x2="277.38" y2="288.80" stroke="#888" stroke-width="0.8"/>
<line x1="205.10" y1="216.20" x2="206.90" y2="216.20" stroke="#555" stroke-width="0.8"/>
<line x1="278.20" y1="287.70" x2="278.20" y2="289.50" stroke="#555" stroke-width="0.8"/>
<line x1="230.50" y1="216.20" x2="230.50" y2="287.70" stroke="#454545" stroke-width="1.0"/>
<line x1="206.90" y1="269.50" x2="278.20" y2="269.50" stroke="#454545" stroke-width="1.0"/>
<text x="191.79" y="218.10" font-size="6.57" textLength="7.49" lengthAdjust="spacingAndGlyphs" fill="#1c1c1c" stroke="#1c1c1c" stroke-width="0.18">10</text>
<text x="199.50" y="215.00" font-size="4.57" textLength="2.84" lengthAdjust="spacingAndGlyphs" fill="#1c1c1c" stroke="#1c1c1c" stroke-width="0.18">3</text>
<text x="191.79" y="235.97" font-size="6.57" textLength="7.49" lengthAdjust="spacingAndGlyphs" fill="#1c1c1c" stroke="#1c1c1c" stroke-width="0.18">10</text>
<text x="199.44" y="232.88" font-size="4.57" textLength="2.93" lengthAdjust="spacingAndGlyphs" fill="#1c1c1c" stroke="#1c1c1c" stroke-width="0.18">2</text>
<text x="191.79" y="253.85" font-size="6.57" textLength="7.49" lengthAdjust="spacingAndGlyphs" fill="#1c1c1c" stroke="#1c1c1c" stroke-width="0.18">10</text>
<text x="199.28" y="250.75" font-size="4.64" textLength="3.10" lengthAdjust="spacingAndGlyphs" fill="#1c1c1c" stroke="#1c1c1c" stroke-width="0.18">1</text>
<text x="191.79" y="271.72" font-size="6.57" textLength="7.49" lengthAdjust="spacingAndGlyphs" fill="#1c1c1c" stroke="#1c1c1c" stroke-width="0.18">10</text>
<text x="199.50" y="268.62" font-size="4.57" textLength="2.81" lengthAdjust="spacingAndGlyphs" fill="#1c1c1c" stroke="#1c1c1c" stroke-width="0.18">0</text>
<text x="191.19" y="289.60" font-size="6.57" textLength="7.49" lengthAdjust="spacingAndGlyphs" fill="#1c1c1c" stroke="#1c1c1c" stroke-width="0.18">10</text>
<text x="198.93" y="286.50" font-size="4.64" textLength="3.36" lengthAdjust="spacingAndGlyphs" fill="#1c1c1c" stroke="#1c1c1c" stroke-width="0.18">-1</text>
<text x="208.79" y="298.00" font-size="6.71" textLength="7.60" lengthAdjust="spacingAndGlyphs" fill="#1c1c1c" stroke="#1c1c1c" stroke-width="0.18">10</text>
<text x="216.52" y="295.10" font-size="4.49" textLength="3.50" lengthAdjust="spacingAndGlyphs" fill="#1c1c1c" stroke="#1c1c1c" stroke-width="0.18">-1</text>
<text x="224.84" y="298.00" font-size="6.71" textLength="7.60" lengthAdjust="spacingAndGlyphs" fill="#1c1c1c" stroke="#1c1c1c" stroke-width="0.18">10</text>
<text x="232.54" y="295.10" font-size="4.43" textLength="2.93" lengthAdjust="spacingAndGlyphs" fill="#1c1c1c" stroke="#1c1c1c" stroke-width="0.18">0</text>
<text x="240.89" y="298.00" font-size="6.71" textLength="7.60" lengthAdjust="spacingAndGlyphs" fill="#1c1c1c" stroke="#1c1c1c" stroke-width="0.18">10</text>
<text x="248.36" y="295.10" font-size="4.49" textLength="3.23" lengthAdjust="spacingAndGlyphs" fill="#1c1c1c" stroke="#1c1c1c" stroke-width="0.18">1</text>
<text x="256.94" y="298.00" font-size="6.71" textLength="7.60" lengthAdjust="spacingAndGlyphs" fill="#1c1c1c" stroke="#1c1c1c" stroke-width="0.18">10</text>
<text x="264.58" y="295.10" font-size="4.43" textLength="3.06" lengthAdjust="spacingAndGlyphs" fill="#1c1c1c" stroke="#1c1c1c" stroke-width="0.18">2</text>
<text x="272.99" y="298.00" font-size="6.71" textLength="7.60" lengthAdjust="spacingAndGlyphs" fill="#1c1c1c" stroke="#1c1c1c" stroke-width="0.18">10</text>
<text x="280.69" y="295.10" font-size="4.43" textLength="2.96" lengthAdjust="spacingAndGlyphs" fill="#1c1c1c" stroke="#1c1c1c" stroke-width="0.18">3</text>
<text x="208.69" y="222.50" font-size="6.29" textLength="10.77" lengthAdjust="spacingAndGlyphs" fill="#1c1c1c" stroke="#1c1c1c" stroke-width="0.18">19,3</text>
<text x="265.26" y="222.50" font-size="6.29" textLength="10.77" lengthAdjust="spacingAndGlyphs" fill="#1c1c1c" stroke="#1c1c1c" stroke-width="0.18">76,5</text>
<text x="208.96" y="285.80" font-size="6.29" textLength="10.77" lengthAdjust="spacingAndGlyphs" fill="#1c1c1c" stroke="#1c1c1c" stroke-width="0.18">4,18</text>
<text x="262.19" y="285.80" font-size="6.29" textLength="13.84" lengthAdjust="spacingAndGlyphs" fill="#1c1c1c" stroke="#1c1c1c" stroke-width="0.18">0,010</text>
<rect x="206.6" y="317.3" width="74.2" height="74.1" fill="none" stroke="#c8c8c8" stroke-width="0.9"/>
<g filter="url(#bl)">
<path d="M224.6 332.1h0.7v0.7h-0.7zM225.3 337.5h0.7v0.7h-0.7zM221.9 335.2h0.7v0.7h-0.7zM218.1 336.1h0.7v0.7h-0.7zM225.6 331.3h0.7v0.7h-0.7zM228.1 334.1h0.7v0.7h-0.7zM218.0 330.5h0.7v0.7h-0.7zM225.5 333.1h0.7v0.7h-0.7zM226.2 330.0h0.7v0.7h-0.7zM222.7 336.2h0.7v0.7h-0.7zM221.0 335.5h0.7v0.7h-0.7zM222.0 334.6h0.7v0.7h-0.7zM223.9 339.2h0.7v0.7h-0.7zM219.4 335.7h0.7v0.7h-0.7zM226.8 331.1h0.7v0.7h-0.7zM223.2 339.4h0.7v0.7h-0.7zM226.1 326.6h0.7v0.7h-0.7zM222.3 329.6h0.7v0.7h-0.7zM223.9 332.0h0.7v0.7h-0.7zM221.4 331.8h0.7v0.7h-0.7z" fill="#000" fill-opacity="0.2"/>
<path d="M223.9 332.7h0.7v0.7h-0.7zM220.4 333.2h0.7v0.7h-0.7zM224.2 331.7h0.7v0.7h-0.7zM226.2 329.8h0.7v0.7h-0.7zM224.2 332.9h0.7v0.7h-0.7zM227.6 332.2h0.7v0.7h-0.7zM221.1 330.5h0.7v0.7h-0.7zM228.8 335.3h0.7v0.7h-0.7zM219.8 333.0h0.7v0.7h-0.7zM220.2 337.5h0.7v0.7h-0.7zM224.2 328.9h0.7v0.7h-0.7zM223.6 336.0h0.7v0.7h-0.7zM223.0 335.0h0.7v0.7h-0.7zM222.7 334.3h0.7v0.7h-0.7zM223.6 332.1h0.7v0.7h-0.7zM224.0 334.2h0.7v0.7h-0.7zM222.9 332.1h0.7v0.7h-0.7zM220.0 334.4h0.7v0.7h-0.7zM225.4 327.9h0.7v0.7h-0.7zM221.4 337.1h0.7v0.7h-0.7z" fill="#000" fill-opacity="0.2"/>
<path d="M225.7 332.1h0.7v0.7h-0.7zM226.9 331.4h0.7v0.7h-0.7zM220.7 338.5h0.7v0.7h-0.7zM221.7 333.3h0.7v0.7h-0.7zM218.2 331.3h0.7v0.7h-0.7zM219.6 333.5h0.7v0.7h-0.7zM217.6 336.4h0.7v0.7h-0.7zM222.0 332.3h0.7v0.7h-0.7zM221.2 335.6h0.7v0.7h-0.7zM227.5 332.8h0.7v0.7h-0.7zM227.7 337.7h0.7v0.7h-0.7zM226.9 334.5h0.7v0.7h-0.7zM218.7 335.4h0.7v0.7h-0.7zM221.8 334.3h0.7v0.7h-0.7zM217.5 333.1h0.7v0.7h-0.7zM223.7 331.5h0.7v0.7h-0.7zM223.9 337.9h0.7v0.7h-0.7zM223.7 332.1h0.7v0.7h-0.7zM230.0 328.6h0.7v0.7h-0.7zM220.3 334.8h0.7v0.7h-0.7z" fill="#000" fill-opacity="0.2"/>
<path d="M221.3 328.2h0.7v0.7h-0.7zM223.8 335.8h0.7v0.7h-0.7zM220.7 337.4h0.7v0.7h-0.7zM224.5 336.7h0.7v0.7h-0.7zM218.5 333.8h0.7v0.7h-0.7zM227.7 338.7h0.7v0.7h-0.7zM226.9 333.8h0.7v0.7h-0.7zM223.5 332.3h0.7v0.7h-0.7zM226.2 332.1h0.7v0.7h-0.7zM223.4 328.8h0.7v0.7h-0.7z" fill="#000" fill-opacity="0.2"/>
<path d="M226.9 335.6h0.7v0.7h-0.7zM231.2 332.2h0.7v0.7h-0.7zM224.6 332.3h0.7v0.7h-0.7zM236.8 328.4h0.7v0.7h-0.7zM224.0 332.1h0.7v0.7h-0.7zM229.4 331.5h0.7v0.7h-0.7zM227.1 329.5h0.7v0.7h-0.7zM227.5 333.4h0.7v0.7h-0.7zM231.0 333.4h0.7v0.7h-0.7zM228.0 333.2h0.7v0.7h-0.7zM229.7 332.1h0.7v0.7h-0.7zM233.7 331.6h0.7v0.7h-0.7zM229.7 328.7h0.7v0.7h-0.7zM231.3 333.3h0.7v0.7h-0.7zM229.1 331.8h0.7v0.7h-0.7zM225.6 329.7h0.7v0.7h-0.7zM232.4 334.2h0.7v0.7h-0.7zM229.8 328.6h0.7v0.7h-0.7zM229.6 328.8h0.7v0.7h-0.7zM230.5 335.6h0.7v0.7h-0.7z" fill="#000" fill-opacity="0.28"/>
<path d="M231.8 331.4h0.7v0.7h-0.7zM234.0 330.8h0.7v0.7h-0.7zM232.0 332.1h0.7v0.7h-0.7zM232.1 328.8h0.7v0.7h-0.7zM233.2 333.3h0.7v0.7h-0.7zM223.9 327.1h0.7v0.7h-0.7zM228.6 334.9h0.7v0.7h-0.7zM231.2 333.1h0.7v0.7h-0.7zM232.8 333.4h0.7v0.7h-0.7zM229.0 330.8h0.7v0.7h-0.7zM232.2 332.9h0.7v0.7h-0.7zM232.7 332.3h0.7v0.7h-0.7zM229.8 334.1h0.7v0.7h-0.7zM232.6 333.8h0.7v0.7h-0.7zM223.7 334.4h0.7v0.7h-0.7zM223.9 332.8h0.7v0.7h-0.7zM229.1 332.2h0.7v0.7h-0.7zM229.5 331.3h0.7v0.7h-0.7zM231.6 332.4h0.7v0.7h-0.7zM228.2 327.0h0.7v0.7h-0.7z" fill="#000" fill-opacity="0.28"/>
<path d="M228.8 333.1h0.7v0.7h-0.7zM228.6 332.9h0.7v0.7h-0.7zM229.8 330.0h0.7v0.7h-0.7zM234.7 334.8h0.7v0.7h-0.7zM230.7 331.7h0.7v0.7h-0.7zM233.6 328.9h0.7v0.7h-0.7zM228.6 334.3h0.7v0.7h-0.7zM233.6 330.6h0.7v0.7h-0.7zM228.8 332.7h0.7v0.7h-0.7zM226.8 331.2h0.7v0.7h-0.7zM229.9 327.0h0.7v0.7h-0.7zM232.9 333.2h0.7v0.7h-0.7zM233.9 328.7h0.7v0.7h-0.7zM227.1 330.5h0.7v0.7h-0.7zM227.5 336.2h0.7v0.7h-0.7zM228.1 331.4h0.7v0.7h-0.7zM231.7 332.6h0.7v0.7h-0.7zM235.1 329.3h0.7v0.7h-0.7zM233.6 331.9h0.7v0.7h-0.7zM227.6 332.4h0.7v0.7h-0.7z" fill="#000" fill-opacity="0.28"/>
<path d="M227.1 335.4h0.7v0.7h-0.7zM229.0 334.0h0.7v0.7h-0.7zM234.7 330.2h0.7v0.7h-0.7zM228.4 332.3h0.7v0.7h-0.7zM228.0 333.9h0.7v0.7h-0.7zM231.4 330.2h0.7v0.7h-0.7zM229.1 333.4h0.7v0.7h-0.7zM227.0 335.5h0.7v0.7h-0.7zM228.6 331.6h0.7v0.7h-0.7zM228.5 335.3h0.7v0.7h-0.7zM233.7 334.2h0.7v0.7h-0.7zM233.0 331.8h0.7v0.7h-0.7zM236.2 332.7h0.7v0.7h-0.7zM232.4 332.8h0.7v0.7h-0.7zM233.2 332.2h0.7v0.7h-0.7zM230.2 328.7h0.7v0.7h-0.7zM236.9 328.7h0.7v0.7h-0.7zM224.5 330.9h0.7v0.7h-0.7zM237.0 333.7h0.7v0.7h-0.7zM229.3 332.5h0.7v0.7h-0.7z" fill="#000" fill-opacity="0.28"/>
<path d="M230.6 327.9h0.7v0.7h-0.7zM230.1 332.5h0.7v0.7h-0.7zM234.3 329.1h0.7v0.7h-0.7zM224.0 329.3h0.7v0.7h-0.7zM232.0 331.9h0.7v0.7h-0.7zM231.5 332.1h0.7v0.7h-0.7zM229.7 329.2h0.7v0.7h-0.7zM232.4 332.5h0.7v0.7h-0.7zM232.9 334.1h0.7v0.7h-0.7zM226.9 327.5h0.7v0.7h-0.7z" fill="#000" fill-opacity="0.28"/>
<path d="M233.2 335.4h0.7v0.7h-0.7zM235.9 331.7h0.7v0.7h-0.7zM239.1 332.1h0.7v0.7h-0.7zM250.1 328.6h0.7v0.7h-0.7zM238.3 329.5h0.7v0.7h-0.7zM239.9 331.6h0.7v0.7h-0.7zM235.8 333.5h0.7v0.7h-0.7zM243.1 331.1h0.7v0.7h-0.7zM238.6 330.2h0.7v0.7h-0.7zM233.4 332.4h0.7v0.7h-0.7zM235.5 329.9h0.7v0.7h-0.7zM242.3 328.5h0.7v0.7h-0.7zM237.3 332.5h0.7v0.7h-0.7zM245.4 328.7h0.7v0.7h-0.7zM242.7 329.0h0.7v0.7h-0.7zM240.4 331.4h0.7v0.7h-0.7zM235.2 333.0h0.7v0.7h-0.7zM245.3 330.2h0.7v0.7h-0.7zM239.7 328.2h0.7v0.7h-0.7zM245.2 330.2h0.7v0.7h-0.7z" fill="#000" fill-opacity="0.33"/>
<path d="M234.7 332.5h0.7v0.7h-0.7zM233.8 329.7h0.7v0.7h-0.7zM231.8 334.0h0.7v0.7h-0.7zM246.6 328.7h0.7v0.7h-0.7zM236.6 329.6h0.7v0.7h-0.7zM237.1 331.9h0.7v0.7h-0.7zM243.9 328.1h0.7v0.7h-0.7zM240.2 326.9h0.7v0.7h-0.7zM244.3 330.0h0.7v0.7h-0.7zM236.8 333.9h0.7v0.7h-0.7zM238.9 333.4h0.7v0.7h-0.7zM243.0 333.6h0.7v0.7h-0.7zM236.2 331.0h0.7v0.7h-0.7zM240.3 330.1h0.7v0.7h-0.7zM244.2 328.7h0.7v0.7h-0.7zM242.7 333.0h0.7v0.7h-0.7zM232.0 329.3h0.7v0.7h-0.7zM235.8 329.8h0.7v0.7h-0.7zM240.3 330.1h0.7v0.7h-0.7zM239.2 329.7h0.7v0.7h-0.7z" fill="#000" fill-opacity="0.33"/>
<path d="M238.8 331.6h0.7v0.7h-0.7zM241.5 328.8h0.7v0.7h-0.7zM238.5 329.1h0.7v0.7h-0.7zM238.1 327.8h0.7v0.7h-0.7zM242.4 331.6h0.7v0.7h-0.7zM238.5 329.3h0.7v0.7h-0.7zM237.3 329.4h0.7v0.7h-0.7zM233.9 334.3h0.7v0.7h-0.7zM250.3 327.1h0.7v0.7h-0.7zM235.0 332.1h0.7v0.7h-0.7zM240.8 327.3h0.7v0.7h-0.7zM232.4 332.3h0.7v0.7h-0.7zM232.3 334.0h0.7v0.7h-0.7zM237.3 330.9h0.7v0.7h-0.7zM238.9 329.5h0.7v0.7h-0.7zM238.5 330.0h0.7v0.7h-0.7zM243.3 330.0h0.7v0.7h-0.7zM238.8 329.6h0.7v0.7h-0.7zM236.7 329.3h0.7v0.7h-0.7zM239.4 334.3h0.7v0.7h-0.7z" fill="#000" fill-opacity="0.33"/>
<path d="M242.9 330.7h0.7v0.7h-0.7zM245.0 332.1h0.7v0.7h-0.7zM239.7 330.2h0.7v0.7h-0.7zM235.2 331.4h0.7v0.7h-0.7zM237.6 327.5h0.7v0.7h-0.7zM234.9 334.8h0.7v0.7h-0.7zM239.8 331.5h0.7v0.7h-0.7zM239.6 329.6h0.7v0.7h-0.7zM240.8 332.6h0.7v0.7h-0.7zM238.0 331.7h0.7v0.7h-0.7zM242.5 329.3h0.7v0.7h-0.7zM239.5 329.1h0.7v0.7h-0.7zM241.0 329.7h0.7v0.7h-0.7zM242.9 328.7h0.7v0.7h-0.7zM244.8 329.5h0.7v0.7h-0.7zM235.9 329.1h0.7v0.7h-0.7zM241.2 328.7h0.7v0.7h-0.7zM245.5 332.6h0.7v0.7h-0.7zM240.6 327.6h0.7v0.7h-0.7zM238.8 329.2h0.7v0.7h-0.7z" fill="#000" fill-opacity="0.33"/>
<path d="M232.8 332.0h0.7v0.7h-0.7zM246.6 328.9h0.7v0.7h-0.7zM242.0 332.9h0.7v0.7h-0.7zM235.6 330.2h0.7v0.7h-0.7zM240.0 331.5h0.7v0.7h-0.7zM235.0 331.4h0.7v0.7h-0.7zM238.8 332.5h0.7v0.7h-0.7zM233.3 330.0h0.7v0.7h-0.7zM237.2 330.1h0.7v0.7h-0.7zM241.4 329.1h0.7v0.7h-0.7zM248.4 328.4h0.7v0.7h-0.7zM242.1 332.4h0.7v0.7h-0.7zM242.3 329.9h0.7v0.7h-0.7zM236.1 330.3h0.7v0.7h-0.7zM241.3 330.6h0.7v0.7h-0.7zM241.1 331.6h0.7v0.7h-0.7zM235.8 329.0h0.7v0.7h-0.7zM243.9 329.2h0.7v0.7h-0.7zM233.8 334.8h0.7v0.7h-0.7zM235.9 329.0h0.7v0.7h-0.7z" fill="#000" fill-opacity="0.33"/>
<path d="M242.2 328.1h0.7v0.7h-0.7zM236.1 333.0h0.7v0.7h-0.7zM236.6 335.8h0.7v0.7h-0.7zM239.8 335.9h0.7v0.7h-0.7zM239.5 330.7h0.7v0.7h-0.7zM236.7 330.4h0.7v0.7h-0.7zM237.2 330.7h0.7v0.7h-0.7zM241.5 327.8h0.7v0.7h-0.7zM235.4 326.7h0.7v0.7h-0.7zM244.2 330.0h0.7v0.7h-0.7zM238.9 330.5h0.7v0.7h-0.7zM242.6 330.9h0.7v0.7h-0.7zM241.9 330.0h0.7v0.7h-0.7zM238.6 330.5h0.7v0.7h-0.7zM232.7 333.3h0.7v0.7h-0.7zM233.3 329.1h0.7v0.7h-0.7zM241.3 330.5h0.7v0.7h-0.7zM242.1 333.8h0.7v0.7h-0.7zM245.7 332.8h0.7v0.7h-0.7zM238.6 334.8h0.7v0.7h-0.7z" fill="#000" fill-opacity="0.33"/>
<path d="M235.9 330.7h0.7v0.7h-0.7zM242.4 329.9h0.7v0.7h-0.7zM238.5 329.9h0.7v0.7h-0.7zM243.3 325.3h0.7v0.7h-0.7zM243.6 332.3h0.7v0.7h-0.7zM238.8 331.7h0.7v0.7h-0.7zM235.8 333.1h0.7v0.7h-0.7zM249.5 327.8h0.7v0.7h-0.7zM243.9 330.1h0.7v0.7h-0.7zM237.7 329.7h0.7v0.7h-0.7z" fill="#000" fill-opacity="0.33"/>
<path d="M246.1 326.9h0.7v0.7h-0.7zM242.5 333.6h0.7v0.7h-0.7zM247.0 330.8h0.7v0.7h-0.7zM248.2 330.6h0.7v0.7h-0.7zM241.5 327.9h0.7v0.7h-0.7zM249.4 331.6h0.7v0.7h-0.7zM242.9 328.6h0.7v0.7h-0.7zM243.4 331.3h0.7v0.7h-0.7zM248.2 329.6h0.7v0.7h-0.7zM244.8 330.5h0.7v0.7h-0.7zM247.0 328.0h0.7v0.7h-0.7zM248.1 328.1h0.7v0.7h-0.7zM250.4 330.7h0.7v0.7h-0.7zM244.7 331.1h0.7v0.7h-0.7zM247.1 328.0h0.7v0.7h-0.7zM243.6 326.2h0.7v0.7h-0.7zM243.1 330.6h0.7v0.7h-0.7zM251.1 327.9h0.7v0.7h-0.7zM247.6 330.3h0.7v0.7h-0.7zM249.8 330.4h0.7v0.7h-0.7z" fill="#000" fill-opacity="0.38"/>
<path d="M251.4 331.0h0.7v0.7h-0.7zM244.4 330.7h0.7v0.7h-0.7zM238.8 329.8h0.7v0.7h-0.7zM247.2 330.9h0.7v0.7h-0.7zM246.1 331.5h0.7v0.7h-0.7zM251.5 327.4h0.7v0.7h-0.7zM245.1 330.3h0.7v0.7h-0.7zM248.7 329.8h0.7v0.7h-0.7zM249.7 326.8h0.7v0.7h-0.7zM249.9 332.0h0.7v0.7h-0.7zM250.9 330.3h0.7v0.7h-0.7zM246.2 330.5h0.7v0.7h-0.7zM246.5 326.1h0.7v0.7h-0.7zM244.9 329.7h0.7v0.7h-0.7zM245.1 327.7h0.7v0.7h-0.7zM246.1 328.8h0.7v0.7h-0.7zM247.2 329.5h0.7v0.7h-0.7zM247.8 331.7h0.7v0.7h-0.7zM247.5 330.5h0.7v0.7h-0.7zM242.3 323.4h0.7v0.7h-0.7z" fill="#000" fill-opacity="0.38"/>
<path d="M245.7 331.2h0.7v0.7h-0.7zM245.7 328.3h0.7v0.7h-0.7zM242.8 331.9h0.7v0.7h-0.7zM245.2 330.3h0.7v0.7h-0.7zM251.0 330.5h0.7v0.7h-0.7zM254.8 328.8h0.7v0.7h-0.7zM250.4 330.9h0.7v0.7h-0.7zM244.7 329.9h0.7v0.7h-0.7zM244.9 327.5h0.7v0.7h-0.7zM247.9 327.8h0.7v0.7h-0.7zM252.8 327.6h0.7v0.7h-0.7zM245.1 329.9h0.7v0.7h-0.7zM245.2 329.8h0.7v0.7h-0.7zM244.7 326.6h0.7v0.7h-0.7zM238.4 327.4h0.7v0.7h-0.7zM252.4 330.2h0.7v0.7h-0.7zM247.5 328.5h0.7v0.7h-0.7zM246.5 330.3h0.7v0.7h-0.7zM242.0 328.2h0.7v0.7h-0.7zM244.1 332.6h0.7v0.7h-0.7z" fill="#000" fill-opacity="0.38"/>
<path d="M243.5 332.4h0.7v0.7h-0.7zM245.8 335.7h0.7v0.7h-0.7zM246.7 329.7h0.7v0.7h-0.7zM251.9 331.2h0.7v0.7h-0.7zM250.1 327.0h0.7v0.7h-0.7zM251.2 333.0h0.7v0.7h-0.7zM246.6 328.6h0.7v0.7h-0.7zM243.3 332.1h0.7v0.7h-0.7zM248.0 329.5h0.7v0.7h-0.7zM242.9 333.5h0.7v0.7h-0.7zM250.1 329.3h0.7v0.7h-0.7zM252.0 327.2h0.7v0.7h-0.7zM249.9 327.2h0.7v0.7h-0.7zM251.9 328.7h0.7v0.7h-0.7zM251.2 328.4h0.7v0.7h-0.7zM248.6 332.0h0.7v0.7h-0.7zM243.9 330.0h0.7v0.7h-0.7zM244.2 331.7h0.7v0.7h-0.7zM244.8 328.9h0.7v0.7h-0.7zM246.5 332.2h0.7v0.7h-0.7z" fill="#000" fill-opacity="0.38"/>
<path d="M243.4 329.8h0.7v0.7h-0.7zM245.8 328.5h0.7v0.7h-0.7zM244.2 329.4h0.7v0.7h-0.7zM247.4 326.2h0.7v0.7h-0.7zM247.6 326.9h0.7v0.7h-0.7zM247.4 334.6h0.7v0.7h-0.7zM243.6 329.7h0.7v0.7h-0.7zM246.3 331.8h0.7v0.7h-0.7zM245.1 325.8h0.7v0.7h-0.7zM241.4 330.4h0.7v0.7h-0.7zM248.0 331.9h0.7v0.7h-0.7zM245.2 331.2h0.7v0.7h-0.7zM243.5 332.7h0.7v0.7h-0.7zM246.6 328.1h0.7v0.7h-0.7zM247.9 333.4h0.7v0.7h-0.7zM243.9 327.1h0.7v0.7h-0.7zM243.3 327.3h0.7v0.7h-0.7zM246.9 330.4h0.7v0.7h-0.7zM246.5 330.1h0.7v0.7h-0.7zM251.1 328.7h0.7v0.7h-0.7z" fill="#000" fill-opacity="0.38"/>
<path d="M242.3 324.9h0.7v0.7h-0.7zM247.7 328.0h0.7v0.7h-0.7zM246.2 330.6h0.7v0.7h-0.7zM248.4 326.0h0.7v0.7h-0.7zM243.7 330.0h0.7v0.7h-0.7zM246.7 332.2h0.7v0.7h-0.7zM244.9 325.2h0.7v0.7h-0.7zM250.8 325.7h0.7v0.7h-0.7zM243.7 330.7h0.7v0.7h-0.7zM243.7 335.3h0.7v0.7h-0.7zM247.9 330.7h0.7v0.7h-0.7zM245.8 334.6h0.7v0.7h-0.7zM248.8 327.9h0.7v0.7h-0.7zM251.1 325.6h0.7v0.7h-0.7zM245.0 330.4h0.7v0.7h-0.7zM247.3 327.5h0.7v0.7h-0.7zM252.7 332.4h0.7v0.7h-0.7zM243.8 330.6h0.7v0.7h-0.7zM244.7 328.8h0.7v0.7h-0.7zM250.5 329.6h0.7v0.7h-0.7z" fill="#000" fill-opacity="0.38"/>
<path d="M246.6 329.9h0.7v0.7h-0.7zM243.1 332.6h0.7v0.7h-0.7zM244.6 332.7h0.7v0.7h-0.7zM245.3 328.7h0.7v0.7h-0.7zM252.2 329.7h0.7v0.7h-0.7zM244.7 328.6h0.7v0.7h-0.7zM249.4 333.6h0.7v0.7h-0.7zM249.1 328.6h0.7v0.7h-0.7zM243.0 328.4h0.7v0.7h-0.7zM246.6 330.2h0.7v0.7h-0.7zM244.9 332.6h0.7v0.7h-0.7zM243.5 328.3h0.7v0.7h-0.7zM248.8 330.5h0.7v0.7h-0.7zM245.8 331.8h0.7v0.7h-0.7zM242.3 333.5h0.7v0.7h-0.7zM254.9 333.4h0.7v0.7h-0.7zM247.7 333.9h0.7v0.7h-0.7zM247.4 332.5h0.7v0.7h-0.7zM246.3 330.1h0.7v0.7h-0.7zM248.6 325.6h0.7v0.7h-0.7z" fill="#000" fill-opacity="0.38"/>
<path d="M246.5 333.4h0.7v0.7h-0.7zM236.9 331.2h0.7v0.7h-0.7zM250.3 330.1h0.7v0.7h-0.7zM247.9 332.6h0.7v0.7h-0.7zM247.9 325.4h0.7v0.7h-0.7zM243.7 329.2h0.7v0.7h-0.7zM247.4 328.6h0.7v0.7h-0.7zM246.9 333.3h0.7v0.7h-0.7zM236.9 332.8h0.7v0.7h-0.7zM250.4 330.7h0.7v0.7h-0.7zM247.1 329.7h0.7v0.7h-0.7zM248.3 330.0h0.7v0.7h-0.7zM244.6 331.5h0.7v0.7h-0.7zM244.1 329.7h0.7v0.7h-0.7zM245.6 327.2h0.7v0.7h-0.7zM249.1 329.3h0.7v0.7h-0.7zM242.9 329.7h0.7v0.7h-0.7zM242.4 333.1h0.7v0.7h-0.7zM249.1 333.8h0.7v0.7h-0.7zM245.1 331.3h0.7v0.7h-0.7z" fill="#000" fill-opacity="0.38"/>
<path d="M243.5 328.0h0.7v0.7h-0.7zM246.8 330.5h0.7v0.7h-0.7zM250.2 328.8h0.7v0.7h-0.7zM251.0 331.4h0.7v0.7h-0.7zM243.9 329.4h0.7v0.7h-0.7zM244.1 333.6h0.7v0.7h-0.7zM245.2 331.7h0.7v0.7h-0.7zM250.1 328.8h0.7v0.7h-0.7zM245.4 330.5h0.7v0.7h-0.7zM244.1 327.0h0.7v0.7h-0.7z" fill="#000" fill-opacity="0.38"/>
<path d="M251.1 330.6h0.7v0.7h-0.7zM254.6 334.0h0.7v0.7h-0.7zM248.5 331.0h0.7v0.7h-0.7zM250.6 332.6h0.7v0.7h-0.7zM256.1 330.1h0.7v0.7h-0.7zM258.4 328.9h0.7v0.7h-0.7zM252.4 327.3h0.7v0.7h-0.7zM252.0 330.1h0.7v0.7h-0.7zM256.0 332.9h0.7v0.7h-0.7zM253.2 328.1h0.7v0.7h-0.7zM253.0 328.8h0.7v0.7h-0.7zM252.6 328.8h0.7v0.7h-0.7zM251.4 329.7h0.7v0.7h-0.7zM252.5 329.4h0.7v0.7h-0.7zM249.9 330.1h0.7v0.7h-0.7zM255.7 331.3h0.7v0.7h-0.7zM252.4 327.1h0.7v0.7h-0.7zM250.1 327.0h0.7v0.7h-0.7zM252.1 329.1h0.7v0.7h-0.7zM248.7 331.4h0.7v0.7h-0.7z" fill="#000" fill-opacity="0.42"/>
<path d="M249.4 328.2h0.7v0.7h-0.7zM251.9 331.8h0.7v0.7h-0.7zM259.5 329.0h0.7v0.7h-0.7zM253.2 328.9h0.7v0.7h-0.7zM253.4 329.4h0.7v0.7h-0.7zM261.3 327.2h0.7v0.7h-0.7zM253.7 327.9h0.7v0.7h-0.7zM255.1 328.6h0.7v0.7h-0.7zM255.7 327.2h0.7v0.7h-0.7zM260.3 330.3h0.7v0.7h-0.7zM248.7 331.5h0.7v0.7h-0.7zM252.6 327.1h0.7v0.7h-0.7zM255.3 328.6h0.7v0.7h-0.7zM256.2 328.5h0.7v0.7h-0.7zM256.7 330.2h0.7v0.7h-0.7zM255.1 330.2h0.7v0.7h-0.7zM252.9 328.9h0.7v0.7h-0.7zM255.3 331.5h0.7v0.7h-0.7zM252.8 335.1h0.7v0.7h-0.7zM259.0 327.1h0.7v0.7h-0.7z" fill="#000" fill-opacity="0.42"/>
<path d="M257.2 329.6h0.7v0.7h-0.7zM254.7 327.9h0.7v0.7h-0.7zM258.9 327.8h0.7v0.7h-0.7zM253.8 328.1h0.7v0.7h-0.7zM259.7 332.8h0.7v0.7h-0.7zM250.1 328.7h0.7v0.7h-0.7zM255.1 328.8h0.7v0.7h-0.7zM253.0 327.3h0.7v0.7h-0.7zM254.7 327.2h0.7v0.7h-0.7zM256.5 335.5h0.7v0.7h-0.7zM253.0 333.7h0.7v0.7h-0.7zM255.1 328.2h0.7v0.7h-0.7zM253.0 327.5h0.7v0.7h-0.7zM254.3 331.5h0.7v0.7h-0.7zM256.8 329.1h0.7v0.7h-0.7zM250.5 329.6h0.7v0.7h-0.7zM259.0 330.5h0.7v0.7h-0.7zM253.8 324.9h0.7v0.7h-0.7zM252.7 331.1h0.7v0.7h-0.7zM251.2 333.0h0.7v0.7h-0.7z" fill="#000" fill-opacity="0.42"/>
<path d="M252.3 327.7h0.7v0.7h-0.7zM252.3 329.6h0.7v0.7h-0.7zM257.0 328.5h0.7v0.7h-0.7zM248.7 329.6h0.7v0.7h-0.7zM255.5 333.4h0.7v0.7h-0.7zM250.7 333.3h0.7v0.7h-0.7zM256.0 330.9h0.7v0.7h-0.7zM251.7 327.7h0.7v0.7h-0.7zM251.2 332.0h0.7v0.7h-0.7zM254.6 332.3h0.7v0.7h-0.7zM259.4 329.9h0.7v0.7h-0.7zM253.9 334.3h0.7v0.7h-0.7zM250.1 328.8h0.7v0.7h-0.7zM252.9 328.9h0.7v0.7h-0.7zM254.4 327.8h0.7v0.7h-0.7zM257.4 326.6h0.7v0.7h-0.7zM251.6 325.8h0.7v0.7h-0.7zM249.9 331.2h0.7v0.7h-0.7zM255.9 329.3h0.7v0.7h-0.7zM256.5 331.3h0.7v0.7h-0.7z" fill="#000" fill-opacity="0.42"/>
<path d="M252.3 329.7h0.7v0.7h-0.7zM255.1 334.5h0.7v0.7h-0.7zM252.7 330.7h0.7v0.7h-0.7zM255.6 332.7h0.7v0.7h-0.7zM255.3 332.3h0.7v0.7h-0.7zM250.9 329.2h0.7v0.7h-0.7zM248.3 329.7h0.7v0.7h-0.7zM260.9 330.4h0.7v0.7h-0.7zM254.3 330.4h0.7v0.7h-0.7zM254.4 326.7h0.7v0.7h-0.7zM252.0 329.4h0.7v0.7h-0.7zM254.5 327.8h0.7v0.7h-0.7zM253.7 328.1h0.7v0.7h-0.7zM250.1 328.3h0.7v0.7h-0.7zM251.6 331.8h0.7v0.7h-0.7zM258.0 331.2h0.7v0.7h-0.7zM253.4 328.5h0.7v0.7h-0.7zM249.4 328.6h0.7v0.7h-0.7zM258.6 332.5h0.7v0.7h-0.7zM254.7 329.2h0.7v0.7h-0.7z" fill="#000" fill-opacity="0.42"/>
<path d="M254.0 330.8h0.7v0.7h-0.7zM254.0 330.8h0.7v0.7h-0.7zM251.7 329.9h0.7v0.7h-0.7zM253.0 332.3h0.7v0.7h-0.7zM250.3 332.9h0.7v0.7h-0.7zM253.7 328.6h0.7v0.7h-0.7zM254.1 330.1h0.7v0.7h-0.7zM253.3 330.8h0.7v0.7h-0.7zM252.3 325.8h0.7v0.7h-0.7zM256.1 329.8h0.7v0.7h-0.7zM258.9 330.7h0.7v0.7h-0.7zM248.1 332.7h0.7v0.7h-0.7zM252.0 331.1h0.7v0.7h-0.7zM260.5 332.4h0.7v0.7h-0.7zM250.8 329.6h0.7v0.7h-0.7zM249.3 331.4h0.7v0.7h-0.7zM255.7 327.4h0.7v0.7h-0.7zM255.3 332.0h0.7v0.7h-0.7zM256.4 328.2h0.7v0.7h-0.7zM252.0 327.2h0.7v0.7h-0.7z" fill="#000" fill-opacity="0.42"/>
<path d="M250.2 330.6h0.7v0.7h-0.7zM254.1 332.9h0.7v0.7h-0.7zM254.8 329.1h0.7v0.7h-0.7zM249.8 333.4h0.7v0.7h-0.7zM254.5 329.7h0.7v0.7h-0.7zM251.0 327.4h0.7v0.7h-0.7zM255.9 327.5h0.7v0.7h-0.7zM255.7 331.3h0.7v0.7h-0.7zM252.9 326.0h0.7v0.7h-0.7zM255.2 333.1h0.7v0.7h-0.7zM251.6 326.9h0.7v0.7h-0.7zM257.2 330.2h0.7v0.7h-0.7zM252.2 332.7h0.7v0.7h-0.7zM253.2 330.9h0.7v0.7h-0.7zM252.8 328.1h0.7v0.7h-0.7zM254.6 327.8h0.7v0.7h-0.7zM248.8 328.6h0.7v0.7h-0.7zM257.6 332.4h0.7v0.7h-0.7zM260.4 332.1h0.7v0.7h-0.7zM258.8 330.4h0.7v0.7h-0.7z" fill="#000" fill-opacity="0.42"/>
<path d="M252.7 330.9h0.7v0.7h-0.7zM251.2 331.5h0.7v0.7h-0.7zM252.7 330.4h0.7v0.7h-0.7zM251.5 329.5h0.7v0.7h-0.7zM256.9 329.3h0.7v0.7h-0.7zM252.0 330.5h0.7v0.7h-0.7zM256.6 329.4h0.7v0.7h-0.7zM250.6 326.2h0.7v0.7h-0.7zM250.1 332.3h0.7v0.7h-0.7zM253.7 330.9h0.7v0.7h-0.7zM257.2 330.5h0.7v0.7h-0.7zM255.4 328.6h0.7v0.7h-0.7zM249.3 331.3h0.7v0.7h-0.7zM253.7 331.2h0.7v0.7h-0.7zM250.9 329.5h0.7v0.7h-0.7zM259.9 327.9h0.7v0.7h-0.7zM254.3 332.9h0.7v0.7h-0.7zM253.3 330.1h0.7v0.7h-0.7zM247.7 331.6h0.7v0.7h-0.7zM252.7 332.8h0.7v0.7h-0.7z" fill="#000" fill-opacity="0.42"/>
<path d="M253.7 329.0h0.7v0.7h-0.7zM255.3 329.3h0.7v0.7h-0.7zM252.5 333.4h0.7v0.7h-0.7zM256.9 330.1h0.7v0.7h-0.7zM256.4 331.7h0.7v0.7h-0.7zM255.7 329.9h0.7v0.7h-0.7zM254.2 330.8h0.7v0.7h-0.7zM255.7 330.7h0.7v0.7h-0.7zM252.4 329.7h0.7v0.7h-0.7zM255.3 327.6h0.7v0.7h-0.7zM254.0 331.6h0.7v0.7h-0.7zM254.5 329.2h0.7v0.7h-0.7zM253.9 328.7h0.7v0.7h-0.7zM256.9 329.0h0.7v0.7h-0.7zM249.1 327.0h0.7v0.7h-0.7zM254.9 330.3h0.7v0.7h-0.7zM252.6 326.8h0.7v0.7h-0.7zM253.6 327.9h0.7v0.7h-0.7zM252.1 329.8h0.7v0.7h-0.7zM251.7 330.6h0.7v0.7h-0.7z" fill="#000" fill-opacity="0.42"/>
<path d="M257.8 329.9h0.7v0.7h-0.7zM259.2 334.7h0.7v0.7h-0.7zM264.1 333.4h0.7v0.7h-0.7zM257.8 331.0h0.7v0.7h-0.7zM262.3 333.0h0.7v0.7h-0.7zM255.3 330.9h0.7v0.7h-0.7zM257.8 332.9h0.7v0.7h-0.7zM261.5 329.7h0.7v0.7h-0.7zM265.7 330.3h0.7v0.7h-0.7zM266.5 330.6h0.7v0.7h-0.7zM259.6 335.8h0.7v0.7h-0.7zM258.4 329.9h0.7v0.7h-0.7zM263.8 330.9h0.7v0.7h-0.7zM261.1 327.9h0.7v0.7h-0.7zM264.7 333.5h0.7v0.7h-0.7zM260.8 332.8h0.7v0.7h-0.7zM258.4 329.9h0.7v0.7h-0.7zM255.5 332.0h0.7v0.7h-0.7zM263.2 333.2h0.7v0.7h-0.7zM262.3 332.8h0.7v0.7h-0.7z" fill="#000" fill-opacity="0.5"/>
<path d="M257.3 327.8h0.7v0.7h-0.7zM261.6 331.5h0.7v0.7h-0.7zM262.5 330.4h0.7v0.7h-0.7zM257.4 332.1h0.7v0.7h-0.7zM258.3 327.0h0.7v0.7h-0.7zM258.1 328.9h0.7v0.7h-0.7zM256.7 329.7h0.7v0.7h-0.7zM262.4 336.9h0.7v0.7h-0.7zM264.5 330.0h0.7v0.7h-0.7zM262.9 330.9h0.7v0.7h-0.7zM260.9 329.4h0.7v0.7h-0.7zM259.6 326.9h0.7v0.7h-0.7zM264.7 329.1h0.7v0.7h-0.7zM261.4 329.6h0.7v0.7h-0.7zM260.5 328.1h0.7v0.7h-0.7zM258.8 333.3h0.7v0.7h-0.7zM261.4 326.2h0.7v0.7h-0.7zM262.1 327.8h0.7v0.7h-0.7zM260.6 332.3h0.7v0.7h-0.7zM258.0 330.3h0.7v0.7h-0.7z" fill="#000" fill-opacity="0.5"/>
<path d="M259.1 332.0h0.7v0.7h-0.7zM262.3 334.4h0.7v0.7h-0.7zM260.7 336.0h0.7v0.7h-0.7zM257.2 335.4h0.7v0.7h-0.7zM259.1 332.9h0.7v0.7h-0.7zM259.5 331.2h0.7v0.7h-0.7zM257.3 332.0h0.7v0.7h-0.7zM265.4 331.4h0.7v0.7h-0.7zM259.7 331.1h0.7v0.7h-0.7zM261.8 330.5h0.7v0.7h-0.7zM259.8 331.6h0.7v0.7h-0.7zM263.4 333.4h0.7v0.7h-0.7zM256.9 329.5h0.7v0.7h-0.7zM259.9 333.1h0.7v0.7h-0.7zM262.5 330.5h0.7v0.7h-0.7zM265.6 330.6h0.7v0.7h-0.7zM263.7 334.6h0.7v0.7h-0.7zM264.2 331.5h0.7v0.7h-0.7zM261.4 327.3h0.7v0.7h-0.7zM254.9 329.5h0.7v0.7h-0.7z" fill="#000" fill-opacity="0.5"/>
<path d="M261.8 333.7h0.7v0.7h-0.7zM259.5 333.6h0.7v0.7h-0.7zM261.4 334.8h0.7v0.7h-0.7zM255.4 329.0h0.7v0.7h-0.7zM257.2 328.5h0.7v0.7h-0.7zM264.3 328.8h0.7v0.7h-0.7zM257.5 330.1h0.7v0.7h-0.7zM262.2 329.9h0.7v0.7h-0.7zM261.8 332.4h0.7v0.7h-0.7zM258.0 325.2h0.7v0.7h-0.7zM257.3 328.0h0.7v0.7h-0.7zM264.3 329.3h0.7v0.7h-0.7zM256.9 332.0h0.7v0.7h-0.7zM259.9 328.7h0.7v0.7h-0.7zM262.8 333.3h0.7v0.7h-0.7zM260.6 329.2h0.7v0.7h-0.7zM257.4 326.0h0.7v0.7h-0.7zM260.9 332.0h0.7v0.7h-0.7zM257.3 331.1h0.7v0.7h-0.7zM268.8 328.3h0.7v0.7h-0.7z" fill="#000" fill-opacity="0.5"/>
<path d="M255.1 332.5h0.7v0.7h-0.7zM258.6 329.8h0.7v0.7h-0.7zM261.5 330.7h0.7v0.7h-0.7zM262.5 332.3h0.7v0.7h-0.7zM263.0 331.3h0.7v0.7h-0.7zM253.9 334.4h0.7v0.7h-0.7zM255.1 333.6h0.7v0.7h-0.7zM260.5 327.6h0.7v0.7h-0.7zM260.0 333.2h0.7v0.7h-0.7zM257.0 331.1h0.7v0.7h-0.7zM257.8 328.6h0.7v0.7h-0.7zM258.1 334.2h0.7v0.7h-0.7zM261.7 331.0h0.7v0.7h-0.7zM259.6 331.3h0.7v0.7h-0.7zM260.6 331.5h0.7v0.7h-0.7zM255.1 333.3h0.7v0.7h-0.7zM257.4 324.6h0.7v0.7h-0.7zM261.7 328.1h0.7v0.7h-0.7zM259.4 330.8h0.7v0.7h-0.7zM258.2 332.4h0.7v0.7h-0.7z" fill="#000" fill-opacity="0.5"/>
<path d="M259.1 330.3h0.7v0.7h-0.7zM257.2 330.3h0.7v0.7h-0.7zM257.0 331.1h0.7v0.7h-0.7zM263.4 333.5h0.7v0.7h-0.7zM261.0 327.7h0.7v0.7h-0.7zM262.6 333.3h0.7v0.7h-0.7zM265.5 325.5h0.7v0.7h-0.7zM259.8 330.2h0.7v0.7h-0.7zM262.8 328.3h0.7v0.7h-0.7zM258.8 336.8h0.7v0.7h-0.7zM262.5 326.1h0.7v0.7h-0.7zM259.9 334.4h0.7v0.7h-0.7zM258.1 332.5h0.7v0.7h-0.7zM260.1 327.4h0.7v0.7h-0.7zM258.1 333.8h0.7v0.7h-0.7zM263.1 329.5h0.7v0.7h-0.7zM262.9 329.3h0.7v0.7h-0.7zM260.5 331.0h0.7v0.7h-0.7zM256.4 331.8h0.7v0.7h-0.7zM258.7 324.2h0.7v0.7h-0.7z" fill="#000" fill-opacity="0.5"/>
<path d="M257.5 328.9h0.7v0.7h-0.7zM257.5 328.6h0.7v0.7h-0.7zM257.9 324.9h0.7v0.7h-0.7zM262.3 331.2h0.7v0.7h-0.7zM260.5 330.4h0.7v0.7h-0.7zM260.0 330.4h0.7v0.7h-0.7zM256.8 327.3h0.7v0.7h-0.7zM260.0 333.5h0.7v0.7h-0.7zM260.4 335.0h0.7v0.7h-0.7zM256.0 330.4h0.7v0.7h-0.7zM258.1 334.1h0.7v0.7h-0.7zM264.5 329.7h0.7v0.7h-0.7zM261.8 330.4h0.7v0.7h-0.7zM257.0 330.7h0.7v0.7h-0.7zM256.9 334.9h0.7v0.7h-0.7zM261.4 334.0h0.7v0.7h-0.7zM260.8 325.0h0.7v0.7h-0.7zM262.0 331.2h0.7v0.7h-0.7zM253.2 331.3h0.7v0.7h-0.7zM262.6 335.3h0.7v0.7h-0.7z" fill="#000" fill-opacity="0.5"/>
<path d="M257.0 333.0h0.7v0.7h-0.7zM260.7 330.6h0.7v0.7h-0.7zM259.0 332.3h0.7v0.7h-0.7zM261.4 332.6h0.7v0.7h-0.7zM258.7 327.7h0.7v0.7h-0.7zM263.4 334.2h0.7v0.7h-0.7zM258.2 330.9h0.7v0.7h-0.7zM262.0 326.6h0.7v0.7h-0.7zM261.2 337.0h0.7v0.7h-0.7zM260.5 329.3h0.7v0.7h-0.7zM265.4 331.0h0.7v0.7h-0.7zM260.4 330.0h0.7v0.7h-0.7zM260.3 326.5h0.7v0.7h-0.7zM256.3 327.3h0.7v0.7h-0.7zM262.3 330.8h0.7v0.7h-0.7zM263.0 325.9h0.7v0.7h-0.7zM258.1 334.6h0.7v0.7h-0.7zM257.6 326.4h0.7v0.7h-0.7zM257.7 330.1h0.7v0.7h-0.7zM259.8 334.3h0.7v0.7h-0.7z" fill="#000" fill-opacity="0.5"/>
<path d="M263.5 334.9h0.7v0.7h-0.7zM261.4 329.8h0.7v0.7h-0.7zM258.4 327.3h0.7v0.7h-0.7zM263.3 334.1h0.7v0.7h-0.7zM260.0 328.8h0.7v0.7h-0.7zM261.7 332.2h0.7v0.7h-0.7zM260.2 328.1h0.7v0.7h-0.7zM260.5 329.6h0.7v0.7h-0.7zM261.8 332.5h0.7v0.7h-0.7zM261.0 329.9h0.7v0.7h-0.7zM264.0 332.9h0.7v0.7h-0.7zM263.3 333.1h0.7v0.7h-0.7zM261.6 332.0h0.7v0.7h-0.7zM256.9 326.5h0.7v0.7h-0.7zM257.2 332.5h0.7v0.7h-0.7zM262.3 331.5h0.7v0.7h-0.7zM260.0 335.6h0.7v0.7h-0.7zM258.7 326.6h0.7v0.7h-0.7zM255.5 330.2h0.7v0.7h-0.7zM261.7 332.8h0.7v0.7h-0.7z" fill="#000" fill-opacity="0.5"/>
<path d="M259.2 333.0h0.7v0.7h-0.7zM259.7 329.2h0.7v0.7h-0.7zM258.8 332.9h0.7v0.7h-0.7zM262.4 328.2h0.7v0.7h-0.7zM257.1 331.3h0.7v0.7h-0.7zM265.6 328.1h0.7v0.7h-0.7zM256.4 332.0h0.7v0.7h-0.7zM261.2 329.5h0.7v0.7h-0.7zM259.7 332.2h0.7v0.7h-0.7zM255.0 330.9h0.7v0.7h-0.7zM261.5 333.3h0.7v0.7h-0.7zM263.0 330.8h0.7v0.7h-0.7zM255.8 334.3h0.7v0.7h-0.7zM261.9 329.4h0.7v0.7h-0.7zM262.6 333.6h0.7v0.7h-0.7zM259.4 325.1h0.7v0.7h-0.7zM258.5 329.1h0.7v0.7h-0.7zM257.5 330.8h0.7v0.7h-0.7zM256.8 332.0h0.7v0.7h-0.7zM265.0 328.0h0.7v0.7h-0.7z" fill="#000" fill-opacity="0.5"/>
<path d="M262.7 329.7h0.7v0.7h-0.7zM261.3 330.7h0.7v0.7h-0.7zM263.3 329.2h0.7v0.7h-0.7zM261.8 329.1h0.7v0.7h-0.7zM260.4 331.0h0.7v0.7h-0.7zM262.8 327.1h0.7v0.7h-0.7zM256.1 334.5h0.7v0.7h-0.7zM260.9 335.2h0.7v0.7h-0.7zM257.0 331.5h0.7v0.7h-0.7zM261.5 335.4h0.7v0.7h-0.7zM259.7 329.9h0.7v0.7h-0.7zM261.8 330.7h0.7v0.7h-0.7zM257.7 332.9h0.7v0.7h-0.7zM254.6 328.5h0.7v0.7h-0.7zM263.5 329.8h0.7v0.7h-0.7zM258.9 331.9h0.7v0.7h-0.7zM262.9 332.3h0.7v0.7h-0.7zM257.2 329.6h0.7v0.7h-0.7zM262.7 330.7h0.7v0.7h-0.7zM258.1 333.2h0.7v0.7h-0.7z" fill="#000" fill-opacity="0.5"/>
<path d="M262.9 336.4h0.7v0.7h-0.7zM256.9 329.2h0.7v0.7h-0.7zM257.9 331.9h0.7v0.7h-0.7zM258.5 333.8h0.7v0.7h-0.7zM252.4 333.4h0.7v0.7h-0.7zM258.0 330.3h0.7v0.7h-0.7zM261.4 331.5h0.7v0.7h-0.7zM257.0 334.7h0.7v0.7h-0.7zM261.4 329.8h0.7v0.7h-0.7zM260.4 328.2h0.7v0.7h-0.7zM256.4 330.3h0.7v0.7h-0.7zM260.8 331.3h0.7v0.7h-0.7zM257.7 327.5h0.7v0.7h-0.7zM255.2 335.0h0.7v0.7h-0.7zM260.8 329.0h0.7v0.7h-0.7zM263.0 332.3h0.7v0.7h-0.7zM258.7 329.5h0.7v0.7h-0.7zM262.9 331.8h0.7v0.7h-0.7zM264.3 331.9h0.7v0.7h-0.7zM258.2 329.5h0.7v0.7h-0.7z" fill="#000" fill-opacity="0.5"/>
<path d="M257.9 331.6h0.7v0.7h-0.7zM260.5 332.5h0.7v0.7h-0.7zM261.0 328.4h0.7v0.7h-0.7zM259.2 328.7h0.7v0.7h-0.7zM261.1 327.7h0.7v0.7h-0.7zM258.2 328.9h0.7v0.7h-0.7zM258.1 330.4h0.7v0.7h-0.7zM263.9 330.4h0.7v0.7h-0.7zM255.9 330.2h0.7v0.7h-0.7zM261.8 332.4h0.7v0.7h-0.7zM260.5 336.0h0.7v0.7h-0.7zM262.8 331.2h0.7v0.7h-0.7zM263.1 327.7h0.7v0.7h-0.7zM259.3 328.8h0.7v0.7h-0.7zM260.3 335.0h0.7v0.7h-0.7zM258.4 335.0h0.7v0.7h-0.7zM257.0 334.6h0.7v0.7h-0.7zM255.2 328.9h0.7v0.7h-0.7zM262.5 330.8h0.7v0.7h-0.7zM260.2 331.0h0.7v0.7h-0.7z" fill="#000" fill-opacity="0.5"/>
<path d="M260.3 330.6h0.7v0.7h-0.7zM257.1 330.3h0.7v0.7h-0.7zM260.1 328.8h0.7v0.7h-0.7zM261.1 335.4h0.7v0.7h-0.7zM255.3 329.6h0.7v0.7h-0.7zM259.0 331.0h0.7v0.7h-0.7zM260.1 329.2h0.7v0.7h-0.7zM259.7 331.0h0.7v0.7h-0.7zM259.6 334.8h0.7v0.7h-0.7zM260.2 327.3h0.7v0.7h-0.7zM255.5 332.5h0.7v0.7h-0.7zM258.9 329.5h0.7v0.7h-0.7zM256.1 330.2h0.7v0.7h-0.7zM259.6 329.3h0.7v0.7h-0.7zM258.8 333.2h0.7v0.7h-0.7zM261.9 332.4h0.7v0.7h-0.7zM259.3 327.6h0.7v0.7h-0.7zM261.9 334.7h0.7v0.7h-0.7zM263.3 333.9h0.7v0.7h-0.7zM260.6 331.9h0.7v0.7h-0.7z" fill="#000" fill-opacity="0.5"/>
<path d="M259.8 334.1h0.7v0.7h-0.7zM259.1 336.4h0.7v0.7h-0.7zM261.9 330.2h0.7v0.7h-0.7zM259.8 327.0h0.7v0.7h-0.7zM257.8 330.3h0.7v0.7h-0.7zM266.5 329.0h0.7v0.7h-0.7zM262.3 331.2h0.7v0.7h-0.7zM259.0 332.6h0.7v0.7h-0.7zM254.4 333.4h0.7v0.7h-0.7zM265.1 331.7h0.7v0.7h-0.7zM259.6 331.4h0.7v0.7h-0.7zM261.6 329.8h0.7v0.7h-0.7zM260.1 332.3h0.7v0.7h-0.7zM258.9 332.0h0.7v0.7h-0.7zM260.7 332.8h0.7v0.7h-0.7zM257.1 329.7h0.7v0.7h-0.7zM258.6 334.0h0.7v0.7h-0.7zM260.5 326.9h0.7v0.7h-0.7zM256.3 335.8h0.7v0.7h-0.7zM260.7 327.8h0.7v0.7h-0.7z" fill="#000" fill-opacity="0.5"/>
<path d="M257.3 331.4h0.7v0.7h-0.7zM263.7 335.0h0.7v0.7h-0.7zM258.8 330.3h0.7v0.7h-0.7zM265.0 328.6h0.7v0.7h-0.7zM264.1 331.8h0.7v0.7h-0.7zM260.1 334.2h0.7v0.7h-0.7zM261.1 328.9h0.7v0.7h-0.7zM255.7 331.0h0.7v0.7h-0.7zM261.2 334.4h0.7v0.7h-0.7zM252.7 334.3h0.7v0.7h-0.7zM261.5 334.8h0.7v0.7h-0.7zM262.0 331.5h0.7v0.7h-0.7zM261.0 332.0h0.7v0.7h-0.7zM258.1 330.7h0.7v0.7h-0.7zM260.1 329.9h0.7v0.7h-0.7zM255.8 327.4h0.7v0.7h-0.7zM261.2 332.3h0.7v0.7h-0.7zM260.1 328.1h0.7v0.7h-0.7zM262.1 330.0h0.7v0.7h-0.7zM254.2 334.9h0.7v0.7h-0.7z" fill="#000" fill-opacity="0.5"/>
<path d="M259.2 339.3h0.7v0.7h-0.7zM262.3 333.6h0.7v0.7h-0.7zM257.8 333.0h0.7v0.7h-0.7zM263.8 337.4h0.7v0.7h-0.7zM261.9 330.9h0.7v0.7h-0.7zM260.9 333.9h0.7v0.7h-0.7zM262.2 334.2h0.7v0.7h-0.7zM262.0 331.1h0.7v0.7h-0.7zM260.5 337.5h0.7v0.7h-0.7zM259.2 336.5h0.7v0.7h-0.7zM265.1 335.9h0.7v0.7h-0.7zM259.3 337.1h0.7v0.7h-0.7zM258.6 335.2h0.7v0.7h-0.7zM260.9 337.1h0.7v0.7h-0.7zM263.3 334.9h0.7v0.7h-0.7zM264.3 336.6h0.7v0.7h-0.7zM260.8 332.4h0.7v0.7h-0.7zM265.3 333.6h0.7v0.7h-0.7zM262.1 334.3h0.7v0.7h-0.7zM260.8 331.1h0.7v0.7h-0.7z" fill="#000" fill-opacity="0.45"/>
<path d="M261.3 334.3h0.7v0.7h-0.7zM263.0 333.4h0.7v0.7h-0.7zM259.1 332.2h0.7v0.7h-0.7zM261.4 335.0h0.7v0.7h-0.7zM262.6 333.7h0.7v0.7h-0.7zM262.3 334.8h0.7v0.7h-0.7zM264.1 334.4h0.7v0.7h-0.7zM261.7 335.7h0.7v0.7h-0.7zM263.4 332.6h0.7v0.7h-0.7zM260.8 333.9h0.7v0.7h-0.7zM258.2 337.3h0.7v0.7h-0.7zM263.2 334.5h0.7v0.7h-0.7zM266.7 337.2h0.7v0.7h-0.7zM264.6 337.8h0.7v0.7h-0.7zM262.9 331.5h0.7v0.7h-0.7zM263.9 335.4h0.7v0.7h-0.7zM259.6 334.6h0.7v0.7h-0.7zM262.7 336.6h0.7v0.7h-0.7zM261.8 333.4h0.7v0.7h-0.7zM262.7 332.9h0.7v0.7h-0.7z" fill="#000" fill-opacity="0.45"/>
<path d="M261.4 336.1h0.7v0.7h-0.7zM259.3 335.3h0.7v0.7h-0.7zM258.5 332.5h0.7v0.7h-0.7zM259.6 334.3h0.7v0.7h-0.7zM262.6 334.4h0.7v0.7h-0.7zM262.9 334.7h0.7v0.7h-0.7zM261.2 335.5h0.7v0.7h-0.7zM261.1 334.8h0.7v0.7h-0.7zM263.1 333.3h0.7v0.7h-0.7zM263.3 332.2h0.7v0.7h-0.7zM261.2 330.8h0.7v0.7h-0.7zM260.7 337.9h0.7v0.7h-0.7zM262.1 337.2h0.7v0.7h-0.7zM259.2 332.4h0.7v0.7h-0.7zM262.2 336.3h0.7v0.7h-0.7zM262.8 330.9h0.7v0.7h-0.7zM262.3 334.3h0.7v0.7h-0.7zM261.7 335.5h0.7v0.7h-0.7zM261.1 330.9h0.7v0.7h-0.7zM259.8 331.4h0.7v0.7h-0.7z" fill="#000" fill-opacity="0.45"/>
<path d="M259.5 334.2h0.7v0.7h-0.7zM263.5 333.0h0.7v0.7h-0.7zM260.3 332.1h0.7v0.7h-0.7zM258.8 334.6h0.7v0.7h-0.7zM260.7 334.0h0.7v0.7h-0.7zM260.0 335.5h0.7v0.7h-0.7zM259.6 335.7h0.7v0.7h-0.7zM260.5 336.2h0.7v0.7h-0.7zM260.1 335.4h0.7v0.7h-0.7zM262.2 334.3h0.7v0.7h-0.7zM264.0 334.9h0.7v0.7h-0.7zM260.1 336.0h0.7v0.7h-0.7zM260.2 333.4h0.7v0.7h-0.7zM261.5 334.9h0.7v0.7h-0.7zM264.2 330.8h0.7v0.7h-0.7zM261.1 336.9h0.7v0.7h-0.7zM261.3 335.2h0.7v0.7h-0.7zM263.9 331.9h0.7v0.7h-0.7zM261.6 336.2h0.7v0.7h-0.7zM260.6 330.8h0.7v0.7h-0.7z" fill="#000" fill-opacity="0.45"/>
<path d="M259.9 334.9h0.7v0.7h-0.7zM261.8 338.4h0.7v0.7h-0.7zM263.6 331.2h0.7v0.7h-0.7zM263.1 336.4h0.7v0.7h-0.7zM264.0 334.2h0.7v0.7h-0.7zM260.6 334.8h0.7v0.7h-0.7zM263.9 335.8h0.7v0.7h-0.7zM264.1 336.2h0.7v0.7h-0.7zM260.6 332.3h0.7v0.7h-0.7zM264.4 331.3h0.7v0.7h-0.7z" fill="#000" fill-opacity="0.45"/>
<path d="M217.0 350.7h0.7v0.7h-0.7zM213.7 347.3h0.7v0.7h-0.7zM219.0 387.2h0.7v0.7h-0.7zM218.6 347.9h0.7v0.7h-0.7zM219.7 367.7h0.7v0.7h-0.7zM214.2 349.5h0.7v0.7h-0.7zM208.8 364.5h0.7v0.7h-0.7zM223.0 375.3h0.7v0.7h-0.7zM212.0 384.4h0.7v0.7h-0.7zM224.1 351.3h0.7v0.7h-0.7zM216.7 350.8h0.7v0.7h-0.7zM211.9 365.4h0.7v0.7h-0.7zM215.4 345.2h0.7v0.7h-0.7zM222.0 356.5h0.7v0.7h-0.7zM215.6 351.8h0.7v0.7h-0.7zM216.1 373.2h0.7v0.7h-0.7zM224.9 345.2h0.7v0.7h-0.7zM218.8 373.6h0.7v0.7h-0.7zM217.3 379.1h0.7v0.7h-0.7zM221.6 364.1h0.7v0.7h-0.7z" fill="#000" fill-opacity="0.12"/>
<path d="M221.0 362.9h0.7v0.7h-0.7zM221.8 362.1h0.7v0.7h-0.7zM216.0 367.2h0.7v0.7h-0.7zM219.4 340.8h0.7v0.7h-0.7zM213.0 357.2h0.7v0.7h-0.7zM221.0 325.1h0.7v0.7h-0.7zM210.0 351.6h0.7v0.7h-0.7zM215.5 362.6h0.7v0.7h-0.7zM227.2 376.9h0.7v0.7h-0.7zM213.1 371.7h0.7v0.7h-0.7zM211.9 359.2h0.7v0.7h-0.7zM220.0 363.4h0.7v0.7h-0.7zM214.3 373.1h0.7v0.7h-0.7zM218.6 354.7h0.7v0.7h-0.7zM217.4 340.5h0.7v0.7h-0.7zM223.2 359.6h0.7v0.7h-0.7zM221.7 380.3h0.7v0.7h-0.7zM213.9 351.1h0.7v0.7h-0.7zM219.0 366.6h0.7v0.7h-0.7zM218.0 367.7h0.7v0.7h-0.7z" fill="#000" fill-opacity="0.12"/>
<path d="M221.7 331.1h0.7v0.7h-0.7zM215.0 327.4h0.7v0.7h-0.7zM217.3 349.3h0.7v0.7h-0.7zM222.5 357.3h0.7v0.7h-0.7zM218.6 372.1h0.7v0.7h-0.7zM222.5 338.3h0.7v0.7h-0.7zM215.0 359.5h0.7v0.7h-0.7zM229.0 352.3h0.7v0.7h-0.7zM218.0 358.6h0.7v0.7h-0.7zM223.6 353.8h0.7v0.7h-0.7zM220.7 349.3h0.7v0.7h-0.7zM215.8 344.2h0.7v0.7h-0.7zM222.9 347.4h0.7v0.7h-0.7zM222.2 360.5h0.7v0.7h-0.7zM224.7 318.5h0.7v0.7h-0.7zM213.3 338.4h0.7v0.7h-0.7zM218.0 365.9h0.7v0.7h-0.7zM233.8 376.0h0.7v0.7h-0.7zM227.0 360.2h0.7v0.7h-0.7zM216.7 362.3h0.7v0.7h-0.7z" fill="#000" fill-opacity="0.12"/>
<path d="M219.1 363.4h0.7v0.7h-0.7zM213.0 340.1h0.7v0.7h-0.7zM215.2 354.4h0.7v0.7h-0.7zM221.0 350.2h0.7v0.7h-0.7zM221.0 364.3h0.7v0.7h-0.7zM212.2 353.6h0.7v0.7h-0.7zM209.9 347.5h0.7v0.7h-0.7zM224.3 345.3h0.7v0.7h-0.7zM229.9 361.9h0.7v0.7h-0.7zM224.2 356.4h0.7v0.7h-0.7zM224.1 369.9h0.7v0.7h-0.7zM219.6 347.8h0.7v0.7h-0.7zM215.8 381.3h0.7v0.7h-0.7zM217.9 348.8h0.7v0.7h-0.7zM214.9 332.1h0.7v0.7h-0.7zM216.1 359.4h0.7v0.7h-0.7zM216.2 344.7h0.7v0.7h-0.7zM221.4 361.3h0.7v0.7h-0.7zM216.4 359.2h0.7v0.7h-0.7zM213.3 366.7h0.7v0.7h-0.7z" fill="#000" fill-opacity="0.12"/>
<path d="M213.2 350.4h0.7v0.7h-0.7zM219.8 349.3h0.7v0.7h-0.7zM212.3 383.6h0.7v0.7h-0.7zM227.9 331.3h0.7v0.7h-0.7zM219.7 337.7h0.7v0.7h-0.7zM220.8 337.3h0.7v0.7h-0.7zM222.4 362.2h0.7v0.7h-0.7zM229.0 371.4h0.7v0.7h-0.7zM216.3 367.9h0.7v0.7h-0.7zM216.3 353.5h0.7v0.7h-0.7zM216.1 331.0h0.7v0.7h-0.7zM222.5 327.3h0.7v0.7h-0.7zM217.6 362.2h0.7v0.7h-0.7zM219.7 333.5h0.7v0.7h-0.7zM215.2 364.3h0.7v0.7h-0.7zM225.4 376.7h0.7v0.7h-0.7zM208.4 361.3h0.7v0.7h-0.7zM216.2 365.4h0.7v0.7h-0.7zM209.1 353.1h0.7v0.7h-0.7zM223.1 346.2h0.7v0.7h-0.7z" fill="#000" fill-opacity="0.12"/>
<path d="M216.9 341.7h0.7v0.7h-0.7zM225.5 336.9h0.7v0.7h-0.7zM213.6 350.5h0.7v0.7h-0.7zM217.1 383.8h0.7v0.7h-0.7zM220.6 343.7h0.7v0.7h-0.7zM222.4 359.7h0.7v0.7h-0.7zM220.7 354.1h0.7v0.7h-0.7zM221.7 339.0h0.7v0.7h-0.7zM212.0 349.2h0.7v0.7h-0.7zM212.5 364.6h0.7v0.7h-0.7zM230.4 371.9h0.7v0.7h-0.7zM221.6 359.6h0.7v0.7h-0.7zM215.0 337.3h0.7v0.7h-0.7zM222.2 334.8h0.7v0.7h-0.7zM220.8 353.1h0.7v0.7h-0.7zM223.4 355.7h0.7v0.7h-0.7zM219.6 347.1h0.7v0.7h-0.7zM208.9 350.3h0.7v0.7h-0.7zM223.1 369.3h0.7v0.7h-0.7zM227.1 341.4h0.7v0.7h-0.7z" fill="#000" fill-opacity="0.12"/>
<path d="M213.5 364.6h0.7v0.7h-0.7zM216.3 390.1h0.7v0.7h-0.7zM220.8 334.3h0.7v0.7h-0.7zM215.7 376.4h0.7v0.7h-0.7zM208.3 357.1h0.7v0.7h-0.7zM210.9 376.8h0.7v0.7h-0.7zM216.4 341.0h0.7v0.7h-0.7zM209.0 345.3h0.7v0.7h-0.7zM231.8 356.4h0.7v0.7h-0.7zM217.4 339.2h0.7v0.7h-0.7zM221.0 348.6h0.7v0.7h-0.7zM214.0 373.9h0.7v0.7h-0.7zM221.6 342.9h0.7v0.7h-0.7zM227.7 354.3h0.7v0.7h-0.7zM222.0 357.0h0.7v0.7h-0.7zM225.9 363.4h0.7v0.7h-0.7zM217.0 364.8h0.7v0.7h-0.7zM216.7 356.8h0.7v0.7h-0.7zM228.6 340.5h0.7v0.7h-0.7zM212.9 349.5h0.7v0.7h-0.7z" fill="#000" fill-opacity="0.12"/>
<path d="M216.1 372.8h0.7v0.7h-0.7zM209.7 386.3h0.7v0.7h-0.7zM228.3 348.9h0.7v0.7h-0.7zM220.1 350.1h0.7v0.7h-0.7zM222.9 364.0h0.7v0.7h-0.7zM223.4 365.4h0.7v0.7h-0.7zM230.3 352.7h0.7v0.7h-0.7zM223.1 352.5h0.7v0.7h-0.7zM219.2 358.0h0.7v0.7h-0.7zM218.7 359.7h0.7v0.7h-0.7zM214.0 352.9h0.7v0.7h-0.7zM215.5 339.1h0.7v0.7h-0.7zM214.9 348.2h0.7v0.7h-0.7zM218.1 333.7h0.7v0.7h-0.7zM217.5 339.6h0.7v0.7h-0.7zM214.2 357.6h0.7v0.7h-0.7zM225.5 358.9h0.7v0.7h-0.7zM216.1 349.0h0.7v0.7h-0.7zM226.9 332.8h0.7v0.7h-0.7zM225.7 334.5h0.7v0.7h-0.7z" fill="#000" fill-opacity="0.12"/>
<path d="M215.3 355.6h0.7v0.7h-0.7zM217.7 377.7h0.7v0.7h-0.7zM221.9 354.3h0.7v0.7h-0.7zM224.6 355.5h0.7v0.7h-0.7zM214.3 370.3h0.7v0.7h-0.7z" fill="#000" fill-opacity="0.12"/>
<path d="M262.5 354.0h0.7v0.7h-0.7zM225.9 358.9h0.7v0.7h-0.7zM236.3 350.0h0.7v0.7h-0.7zM258.3 362.6h0.7v0.7h-0.7zM219.9 336.0h0.7v0.7h-0.7zM258.2 347.9h0.7v0.7h-0.7zM237.7 321.2h0.7v0.7h-0.7zM248.0 342.5h0.7v0.7h-0.7zM207.7 339.6h0.7v0.7h-0.7zM241.9 345.8h0.7v0.7h-0.7zM252.3 341.9h0.7v0.7h-0.7zM229.7 341.2h0.7v0.7h-0.7zM213.2 335.3h0.7v0.7h-0.7zM269.1 338.6h0.7v0.7h-0.7zM240.9 358.8h0.7v0.7h-0.7zM256.4 345.0h0.7v0.7h-0.7zM252.1 341.9h0.7v0.7h-0.7zM229.6 351.8h0.7v0.7h-0.7zM243.8 356.5h0.7v0.7h-0.7zM238.4 341.1h0.7v0.7h-0.7z" fill="#000" fill-opacity="0.08"/>
<path d="M246.7 342.5h0.7v0.7h-0.7zM237.7 337.0h0.7v0.7h-0.7zM245.5 346.5h0.7v0.7h-0.7zM267.1 343.8h0.7v0.7h-0.7zM217.9 347.6h0.7v0.7h-0.7zM273.4 340.6h0.7v0.7h-0.7zM231.0 342.7h0.7v0.7h-0.7zM239.4 332.2h0.7v0.7h-0.7zM249.9 337.2h0.7v0.7h-0.7zM216.6 338.4h0.7v0.7h-0.7zM250.7 359.0h0.7v0.7h-0.7zM259.2 345.5h0.7v0.7h-0.7zM235.0 342.0h0.7v0.7h-0.7zM255.3 339.9h0.7v0.7h-0.7zM247.7 351.6h0.7v0.7h-0.7zM229.6 339.4h0.7v0.7h-0.7zM248.2 344.1h0.7v0.7h-0.7zM240.3 339.9h0.7v0.7h-0.7zM241.1 358.5h0.7v0.7h-0.7zM260.7 331.4h0.7v0.7h-0.7z" fill="#000" fill-opacity="0.08"/>
<path d="M242.7 344.7h0.7v0.7h-0.7zM242.5 333.2h0.7v0.7h-0.7zM240.2 345.2h0.7v0.7h-0.7zM232.6 346.5h0.7v0.7h-0.7zM208.5 332.2h0.7v0.7h-0.7zM243.4 347.1h0.7v0.7h-0.7zM239.7 340.4h0.7v0.7h-0.7zM244.5 352.5h0.7v0.7h-0.7zM254.3 343.4h0.7v0.7h-0.7zM235.6 352.3h0.7v0.7h-0.7zM249.4 350.9h0.7v0.7h-0.7zM238.2 337.3h0.7v0.7h-0.7zM244.6 339.1h0.7v0.7h-0.7zM257.8 350.7h0.7v0.7h-0.7zM212.0 349.2h0.7v0.7h-0.7zM260.3 352.1h0.7v0.7h-0.7zM235.5 337.3h0.7v0.7h-0.7zM255.3 351.9h0.7v0.7h-0.7z" fill="#000" fill-opacity="0.08"/>
</g>
<line x1="206.60" y1="317.30" x2="206.60" y2="391.40" stroke="#999" stroke-width="1.0"/>
<line x1="206.60" y1="391.40" x2="280.80" y2="391.40" stroke="#999" stroke-width="1.0"/>
<line x1="204.80" y1="391.40" x2="206.90" y2="391.40" stroke="#555" stroke-width="0.8"/>
<line x1="206.60" y1="391.10" x2="206.60" y2="393.20" stroke="#555" stroke-width="0.8"/>
<line x1="205.50" y1="385.82" x2="206.90" y2="385.82" stroke="#888" stroke-width="0.8"/>
<line x1="212.18" y1="391.10" x2="212.18" y2="392.50" stroke="#888" stroke-width="0.8"/>
<line x1="205.50" y1="382.56" x2="206.90" y2="382.56" stroke="#888" stroke-width="0.8"/>
<line x1="215.45" y1="391.10" x2="215.45" y2="392.50" stroke="#888" stroke-width="0.8"/>
<line x1="205.50" y1="380.25" x2="206.90" y2="380.25" stroke="#888" stroke-width="0.8"/>
<line x1="217.77" y1="391.10" x2="217.77" y2="392.50" stroke="#888" stroke-width="0.8"/>
<line x1="205.50" y1="378.45" x2="206.90" y2="378.45" stroke="#888" stroke-width="0.8"/>
<line x1="219.57" y1="391.10" x2="219.57" y2="392.50" stroke="#888" stroke-width="0.8"/>
<line x1="205.50" y1="376.98" x2="206.90" y2="376.98" stroke="#888" stroke-width="0.8"/>
<line x1="221.03" y1="391.10" x2="221.03" y2="392.50" stroke="#888" stroke-width="0.8"/>
<line x1="205.50" y1="375.74" x2="206.90" y2="375.74" stroke="#888" stroke-width="0.8"/>
<line x1="222.28" y1="391.10" x2="222.28" y2="392.50" stroke="#888" stroke-width="0.8"/>
<line x1="205.50" y1="374.67" x2="206.90" y2="374.67" stroke="#888" stroke-width="0.8"/>
<line x1="223.35" y1="391.10" x2="223.35" y2="392.50" stroke="#888" stroke-width="0.8"/>
<line x1="205.50" y1="373.72" x2="206.90" y2="373.72" stroke="#888" stroke-width="0.8"/>
<line x1="224.30" y1="391.10" x2="224.30" y2="392.50" stroke="#888" stroke-width="0.8"/>
<line x1="204.80" y1="372.88" x2="206.90" y2="372.88" stroke="#555" stroke-width="0.8"/>
<line x1="225.15" y1="391.10" x2="225.15" y2="393.20" stroke="#555" stroke-width="0.8"/>
<line x1="205.50" y1="367.30" x2="206.90" y2="367.30" stroke="#888" stroke-width="0.8"/>
<line x1="230.73" y1="391.10" x2="230.73" y2="392.50" stroke="#888" stroke-width="0.8"/>
<line x1="205.50" y1="364.04" x2="206.90" y2="364.04" stroke="#888" stroke-width="0.8"/>
<line x1="234.00" y1="391.10" x2="234.00" y2="392.50" stroke="#888" stroke-width="0.8"/>
<line x1="205.50" y1="361.72" x2="206.90" y2="361.72" stroke="#888" stroke-width="0.8"/>
<line x1="236.32" y1="391.10" x2="236.32" y2="392.50" stroke="#888" stroke-width="0.8"/>
<line x1="205.50" y1="359.93" x2="206.90" y2="359.93" stroke="#888" stroke-width="0.8"/>
<line x1="238.12" y1="391.10" x2="238.12" y2="392.50" stroke="#888" stroke-width="0.8"/>
<line x1="205.50" y1="358.46" x2="206.90" y2="358.46" stroke="#888" stroke-width="0.8"/>
<line x1="239.58" y1="391.10" x2="239.58" y2="392.50" stroke="#888" stroke-width="0.8"/>
<line x1="205.50" y1="357.22" x2="206.90" y2="357.22" stroke="#888" stroke-width="0.8"/>
<line x1="240.83" y1="391.10" x2="240.83" y2="392.50" stroke="#888" stroke-width="0.8"/>
<line x1="205.50" y1="356.15" x2="206.90" y2="356.15" stroke="#888" stroke-width="0.8"/>
<line x1="241.90" y1="391.10" x2="241.90" y2="392.50" stroke="#888" stroke-width="0.8"/>
<line x1="205.50" y1="355.20" x2="206.90" y2="355.20" stroke="#888" stroke-width="0.8"/>
<line x1="242.85" y1="391.10" x2="242.85" y2="392.50" stroke="#888" stroke-width="0.8"/>
<line x1="204.80" y1="354.35" x2="206.90" y2="354.35" stroke="#555" stroke-width="0.8"/>
<line x1="243.70" y1="391.10" x2="243.70" y2="393.20" stroke="#555" stroke-width="0.8"/>
<line x1="205.50" y1="348.77" x2="206.90" y2="348.77" stroke="#888" stroke-width="0.8"/>
<line x1="249.28" y1="391.10" x2="249.28" y2="392.50" stroke="#888" stroke-width="0.8"/>
<line x1="205.50" y1="345.51" x2="206.90" y2="345.51" stroke="#888" stroke-width="0.8"/>
<line x1="252.55" y1="391.10" x2="252.55" y2="392.50" stroke="#888" stroke-width="0.8"/>
<line x1="205.50" y1="343.20" x2="206.90" y2="343.20" stroke="#888" stroke-width="0.8"/>
<line x1="254.87" y1="391.10" x2="254.87" y2="392.50" stroke="#888" stroke-width="0.8"/>
<line x1="205.50" y1="341.40" x2="206.90" y2="341.40" stroke="#888" stroke-width="0.8"/>
<line x1="256.67" y1="391.10" x2="256.67" y2="392.50" stroke="#888" stroke-width="0.8"/>
<line x1="205.50" y1="339.93" x2="206.90" y2="339.93" stroke="#888" stroke-width="0.8"/>
<line x1="258.13" y1="391.10" x2="258.13" y2="392.50" stroke="#888" stroke-width="0.8"/>
<line x1="205.50" y1="338.69" x2="206.90" y2="338.69" stroke="#888" stroke-width="0.8"/>
<line x1="259.38" y1="391.10" x2="259.38" y2="392.50" stroke="#888" stroke-width="0.8"/>
<line x1="205.50" y1="337.62" x2="206.90" y2="337.62" stroke="#888" stroke-width="0.8"/>
<line x1="260.45" y1="391.10" x2="260.45" y2="392.50" stroke="#888" stroke-width="0.8"/>
<line x1="205.50" y1="336.67" x2="206.90" y2="336.67" stroke="#888" stroke-width="0.8"/>
<line x1="261.40" y1="391.10" x2="261.40" y2="392.50" stroke="#888" stroke-width="0.8"/>
<line x1="204.80" y1="335.82" x2="206.90" y2="335.82" stroke="#555" stroke-width="0.8"/>
<line x1="262.25" y1="391.10" x2="262.25" y2="393.20" stroke="#555" stroke-width="0.8"/>
<line x1="205.50" y1="330.25" x2="206.90" y2="330.25" stroke="#888" stroke-width="0.8"/>
<line x1="267.83" y1="391.10" x2="267.83" y2="392.50" stroke="#888" stroke-width="0.8"/>
<line x1="205.50" y1="326.99" x2="206.90" y2="326.99" stroke="#888" stroke-width="0.8"/>
<line x1="271.10" y1="391.10" x2="271.10" y2="392.50" stroke="#888" stroke-width="0.8"/>
<line x1="205.50" y1="324.67" x2="206.90" y2="324.67" stroke="#888" stroke-width="0.8"/>
<line x1="273.42" y1="391.10" x2="273.42" y2="392.50" stroke="#888" stroke-width="0.8"/>
<line x1="205.50" y1="322.88" x2="206.90" y2="322.88" stroke="#888" stroke-width="0.8"/>
<line x1="275.22" y1="391.10" x2="275.22" y2="392.50" stroke="#888" stroke-width="0.8"/>
<line x1="205.50" y1="321.41" x2="206.90" y2="321.41" stroke="#888" stroke-width="0.8"/>
<line x1="276.68" y1="391.10" x2="276.68" y2="392.50" stroke="#888" stroke-width="0.8"/>
<line x1="205.50" y1="320.17" x2="206.90" y2="320.17" stroke="#888" stroke-width="0.8"/>
<line x1="277.93" y1="391.10" x2="277.93" y2="392.50" stroke="#888" stroke-width="0.8"/>
<line x1="205.50" y1="319.10" x2="206.90" y2="319.10" stroke="#888" stroke-width="0.8"/>
<line x1="279.00" y1="391.10" x2="279.00" y2="392.50" stroke="#888" stroke-width="0.8"/>
<line x1="205.50" y1="318.15" x2="206.90" y2="318.15" stroke="#888" stroke-width="0.8"/>
<line x1="279.95" y1="391.10" x2="279.95" y2="392.50" stroke="#888" stroke-width="0.8"/>
<line x1="204.80" y1="317.30" x2="206.60" y2="317.30" stroke="#555" stroke-width="0.8"/>
<line x1="280.80" y1="391.40" x2="280.80" y2="393.20" stroke="#555" stroke-width="0.8"/>
<line x1="231.50" y1="317.30" x2="231.50" y2="391.40" stroke="#454545" stroke-width="1.0"/>
<line x1="206.60" y1="372.50" x2="280.80" y2="372.50" stroke="#454545" stroke-width="1.0"/>
<text x="191.79" y="319.20" font-size="6.57" textLength="7.49" lengthAdjust="spacingAndGlyphs" fill="#1c1c1c" stroke="#1c1c1c" stroke-width="0.18">10</text>
<text x="199.50" y="316.10" font-size="4.57" textLength="2.84" lengthAdjust="spacingAndGlyphs" fill="#1c1c1c" stroke="#1c1c1c" stroke-width="0.18">3</text>
<text x="191.79" y="337.72" font-size="6.57" textLength="7.49" lengthAdjust="spacingAndGlyphs" fill="#1c1c1c" stroke="#1c1c1c" stroke-width="0.18">10</text>
<text x="199.44" y="334.62" font-size="4.57" textLength="2.93" lengthAdjust="spacingAndGlyphs" fill="#1c1c1c" stroke="#1c1c1c" stroke-width="0.18">2</text>
<text x="191.79" y="356.25" font-size="6.57" textLength="7.49" lengthAdjust="spacingAndGlyphs" fill="#1c1c1c" stroke="#1c1c1c" stroke-width="0.18">10</text>
<text x="199.28" y="353.15" font-size="4.64" textLength="3.10" lengthAdjust="spacingAndGlyphs" fill="#1c1c1c" stroke="#1c1c1c" stroke-width="0.18">1</text>
<text x="191.79" y="374.77" font-size="6.57" textLength="7.49" lengthAdjust="spacingAndGlyphs" fill="#1c1c1c" stroke="#1c1c1c" stroke-width="0.18">10</text>
<text x="199.50" y="371.68" font-size="4.57" textLength="2.81" lengthAdjust="spacingAndGlyphs" fill="#1c1c1c" stroke="#1c1c1c" stroke-width="0.18">0</text>
<text x="191.19" y="393.30" font-size="6.57" textLength="7.49" lengthAdjust="spacingAndGlyphs" fill="#1c1c1c" stroke="#1c1c1c" stroke-width="0.18">10</text>
<text x="198.93" y="390.20" font-size="4.64" textLength="3.36" lengthAdjust="spacingAndGlyphs" fill="#1c1c1c" stroke="#1c1c1c" stroke-width="0.18">-1</text>
<text x="208.79" y="401.60" font-size="6.71" textLength="7.60" lengthAdjust="spacingAndGlyphs" fill="#1c1c1c" stroke="#1c1c1c" stroke-width="0.18">10</text>
<text x="216.52" y="398.70" font-size="4.49" textLength="3.50" lengthAdjust="spacingAndGlyphs" fill="#1c1c1c" stroke="#1c1c1c" stroke-width="0.18">-1</text>
<text x="225.09" y="401.60" font-size="6.71" textLength="7.60" lengthAdjust="spacingAndGlyphs" fill="#1c1c1c" stroke="#1c1c1c" stroke-width="0.18">10</text>
<text x="232.79" y="398.70" font-size="4.43" textLength="2.93" lengthAdjust="spacingAndGlyphs" fill="#1c1c1c" stroke="#1c1c1c" stroke-width="0.18">0</text>
<text x="241.39" y="401.60" font-size="6.71" textLength="7.60" lengthAdjust="spacingAndGlyphs" fill="#1c1c1c" stroke="#1c1c1c" stroke-width="0.18">10</text>
<text x="248.86" y="398.70" font-size="4.49" textLength="3.23" lengthAdjust="spacingAndGlyphs" fill="#1c1c1c" stroke="#1c1c1c" stroke-width="0.18">1</text>
<text x="257.69" y="401.60" font-size="6.71" textLength="7.60" lengthAdjust="spacingAndGlyphs" fill="#1c1c1c" stroke="#1c1c1c" stroke-width="0.18">10</text>
<text x="265.33" y="398.70" font-size="4.43" textLength="3.06" lengthAdjust="spacingAndGlyphs" fill="#1c1c1c" stroke="#1c1c1c" stroke-width="0.18">2</text>
<text x="273.99" y="401.60" font-size="6.71" textLength="7.60" lengthAdjust="spacingAndGlyphs" fill="#1c1c1c" stroke="#1c1c1c" stroke-width="0.18">10</text>
<text x="281.69" y="398.70" font-size="4.43" textLength="2.96" lengthAdjust="spacingAndGlyphs" fill="#1c1c1c" stroke="#1c1c1c" stroke-width="0.18">3</text>
<text x="208.39" y="323.60" font-size="6.29" textLength="10.77" lengthAdjust="spacingAndGlyphs" fill="#1c1c1c" stroke="#1c1c1c" stroke-width="0.18">19,1</text>
<text x="267.89" y="323.60" font-size="6.29" textLength="10.77" lengthAdjust="spacingAndGlyphs" fill="#1c1c1c" stroke="#1c1c1c" stroke-width="0.18">76,3</text>
<text x="208.66" y="389.50" font-size="6.29" textLength="10.77" lengthAdjust="spacingAndGlyphs" fill="#1c1c1c" stroke="#1c1c1c" stroke-width="0.18">4,22</text>
<text x="264.79" y="389.50" font-size="6.29" textLength="13.84" lengthAdjust="spacingAndGlyphs" fill="#1c1c1c" stroke="#1c1c1c" stroke-width="0.18">0,030</text>
<rect x="310.6" y="216.5" width="74.6" height="70.5" fill="none" stroke="#c8c8c8" stroke-width="0.9"/>
<g filter="url(#bl)">
<path d="M379.5 240.2h0.7v0.7h-0.7zM378.3 245.7h0.7v0.7h-0.7zM378.9 242.0h0.7v0.7h-0.7zM379.8 248.8h0.7v0.7h-0.7zM377.9 242.1h0.7v0.7h-0.7zM380.5 244.5h0.7v0.7h-0.7zM379.2 247.2h0.7v0.7h-0.7zM378.6 239.9h0.7v0.7h-0.7zM379.5 250.8h0.7v0.7h-0.7zM380.3 244.7h0.7v0.7h-0.7zM380.3 243.1h0.7v0.7h-0.7zM378.6 238.1h0.7v0.7h-0.7zM379.7 248.2h0.7v0.7h-0.7zM379.8 244.6h0.7v0.7h-0.7zM379.2 249.0h0.7v0.7h-0.7zM379.5 239.1h0.7v0.7h-0.7zM380.6 242.2h0.7v0.7h-0.7zM379.8 244.7h0.7v0.7h-0.7zM380.3 245.7h0.7v0.7h-0.7zM380.5 245.5h0.7v0.7h-0.7z" fill="#000" fill-opacity="0.42"/>
<path d="M379.1 242.7h0.7v0.7h-0.7zM380.0 241.5h0.7v0.7h-0.7zM380.2 243.8h0.7v0.7h-0.7zM378.8 241.3h0.7v0.7h-0.7zM379.4 251.6h0.7v0.7h-0.7zM380.1 244.8h0.7v0.7h-0.7zM378.8 252.2h0.7v0.7h-0.7zM379.3 244.7h0.7v0.7h-0.7zM379.2 249.9h0.7v0.7h-0.7zM379.6 242.9h0.7v0.7h-0.7zM379.6 240.8h0.7v0.7h-0.7zM378.7 244.1h0.7v0.7h-0.7zM377.2 249.3h0.7v0.7h-0.7zM381.1 240.3h0.7v0.7h-0.7zM379.4 238.5h0.7v0.7h-0.7zM379.6 245.5h0.7v0.7h-0.7zM380.1 239.5h0.7v0.7h-0.7zM379.0 242.2h0.7v0.7h-0.7zM379.3 253.7h0.7v0.7h-0.7zM379.3 244.5h0.7v0.7h-0.7z" fill="#000" fill-opacity="0.42"/>
<path d="M379.1 247.8h0.7v0.7h-0.7zM381.5 249.3h0.7v0.7h-0.7zM380.7 240.5h0.7v0.7h-0.7zM380.3 244.8h0.7v0.7h-0.7zM380.5 248.9h0.7v0.7h-0.7zM380.0 238.1h0.7v0.7h-0.7zM379.6 242.7h0.7v0.7h-0.7zM379.9 244.8h0.7v0.7h-0.7zM380.3 238.4h0.7v0.7h-0.7zM378.9 244.4h0.7v0.7h-0.7zM379.8 243.1h0.7v0.7h-0.7zM379.5 244.9h0.7v0.7h-0.7zM380.3 244.3h0.7v0.7h-0.7zM379.7 237.6h0.7v0.7h-0.7zM377.4 239.0h0.7v0.7h-0.7zM379.8 235.7h0.7v0.7h-0.7zM379.8 244.3h0.7v0.7h-0.7zM379.5 241.8h0.7v0.7h-0.7zM379.2 248.0h0.7v0.7h-0.7zM379.8 244.6h0.7v0.7h-0.7z" fill="#000" fill-opacity="0.42"/>
<path d="M379.1 245.5h0.7v0.7h-0.7zM380.4 244.6h0.7v0.7h-0.7zM379.2 240.1h0.7v0.7h-0.7zM379.6 241.1h0.7v0.7h-0.7zM378.4 248.1h0.7v0.7h-0.7zM379.0 236.7h0.7v0.7h-0.7zM378.9 251.9h0.7v0.7h-0.7zM379.4 239.5h0.7v0.7h-0.7zM378.6 247.5h0.7v0.7h-0.7zM379.8 245.5h0.7v0.7h-0.7zM379.3 246.6h0.7v0.7h-0.7zM380.7 246.6h0.7v0.7h-0.7zM379.4 239.2h0.7v0.7h-0.7zM379.9 250.9h0.7v0.7h-0.7zM380.0 239.8h0.7v0.7h-0.7zM379.6 249.8h0.7v0.7h-0.7zM379.0 246.6h0.7v0.7h-0.7zM380.5 251.1h0.7v0.7h-0.7zM378.2 237.8h0.7v0.7h-0.7zM379.8 247.5h0.7v0.7h-0.7z" fill="#000" fill-opacity="0.42"/>
<path d="M379.2 244.6h0.7v0.7h-0.7zM379.2 249.4h0.7v0.7h-0.7zM377.8 245.7h0.7v0.7h-0.7zM378.5 242.0h0.7v0.7h-0.7zM378.3 241.1h0.7v0.7h-0.7zM379.5 244.8h0.7v0.7h-0.7zM380.9 243.8h0.7v0.7h-0.7zM379.8 246.1h0.7v0.7h-0.7zM379.7 250.5h0.7v0.7h-0.7zM379.6 245.3h0.7v0.7h-0.7zM379.4 244.7h0.7v0.7h-0.7zM379.5 248.6h0.7v0.7h-0.7zM379.5 245.0h0.7v0.7h-0.7zM379.5 247.7h0.7v0.7h-0.7zM379.1 248.4h0.7v0.7h-0.7zM379.0 247.4h0.7v0.7h-0.7zM381.0 245.6h0.7v0.7h-0.7zM379.4 240.1h0.7v0.7h-0.7zM380.1 244.8h0.7v0.7h-0.7zM380.2 242.1h0.7v0.7h-0.7z" fill="#000" fill-opacity="0.42"/>
<path d="M379.9 251.8h0.7v0.7h-0.7zM379.8 243.4h0.7v0.7h-0.7zM378.5 244.7h0.7v0.7h-0.7zM380.0 247.1h0.7v0.7h-0.7zM378.6 240.7h0.7v0.7h-0.7zM378.7 240.7h0.7v0.7h-0.7zM379.3 245.7h0.7v0.7h-0.7zM381.0 245.5h0.7v0.7h-0.7zM380.6 238.2h0.7v0.7h-0.7zM380.7 247.8h0.7v0.7h-0.7zM379.8 248.0h0.7v0.7h-0.7zM380.0 252.2h0.7v0.7h-0.7zM380.1 237.8h0.7v0.7h-0.7zM378.1 251.1h0.7v0.7h-0.7zM379.4 249.9h0.7v0.7h-0.7zM379.2 242.1h0.7v0.7h-0.7zM379.2 245.9h0.7v0.7h-0.7zM379.6 242.3h0.7v0.7h-0.7zM379.9 247.1h0.7v0.7h-0.7zM378.8 240.3h0.7v0.7h-0.7z" fill="#000" fill-opacity="0.42"/>
<path d="M378.0 243.5h0.7v0.7h-0.7zM379.5 242.0h0.7v0.7h-0.7zM379.0 244.2h0.7v0.7h-0.7zM379.5 247.0h0.7v0.7h-0.7zM380.2 246.4h0.7v0.7h-0.7zM380.4 240.9h0.7v0.7h-0.7zM380.0 246.2h0.7v0.7h-0.7zM378.7 242.0h0.7v0.7h-0.7zM379.9 245.0h0.7v0.7h-0.7zM378.5 242.5h0.7v0.7h-0.7zM380.7 248.0h0.7v0.7h-0.7zM379.6 250.0h0.7v0.7h-0.7zM378.8 244.0h0.7v0.7h-0.7zM380.3 243.4h0.7v0.7h-0.7zM378.6 247.0h0.7v0.7h-0.7zM380.8 234.7h0.7v0.7h-0.7zM379.6 239.8h0.7v0.7h-0.7zM379.3 239.1h0.7v0.7h-0.7zM381.6 242.0h0.7v0.7h-0.7zM379.5 241.9h0.7v0.7h-0.7z" fill="#000" fill-opacity="0.42"/>
<path d="M378.7 242.9h0.7v0.7h-0.7zM379.7 251.6h0.7v0.7h-0.7zM379.7 250.9h0.7v0.7h-0.7zM378.7 245.0h0.7v0.7h-0.7zM379.2 238.5h0.7v0.7h-0.7zM382.4 243.7h0.7v0.7h-0.7zM379.7 241.7h0.7v0.7h-0.7zM379.0 240.6h0.7v0.7h-0.7zM380.3 243.1h0.7v0.7h-0.7zM379.4 245.4h0.7v0.7h-0.7zM378.5 245.6h0.7v0.7h-0.7zM379.4 246.5h0.7v0.7h-0.7zM379.2 244.9h0.7v0.7h-0.7zM379.9 248.5h0.7v0.7h-0.7zM379.0 248.5h0.7v0.7h-0.7zM378.7 244.0h0.7v0.7h-0.7zM379.6 245.3h0.7v0.7h-0.7zM377.5 240.8h0.7v0.7h-0.7zM379.4 248.4h0.7v0.7h-0.7zM378.9 250.7h0.7v0.7h-0.7z" fill="#000" fill-opacity="0.42"/>
<path d="M378.1 245.0h0.7v0.7h-0.7zM379.9 244.8h0.7v0.7h-0.7zM379.7 248.4h0.7v0.7h-0.7zM378.9 247.0h0.7v0.7h-0.7zM380.3 243.8h0.7v0.7h-0.7zM377.7 240.0h0.7v0.7h-0.7zM378.8 240.5h0.7v0.7h-0.7zM379.8 241.5h0.7v0.7h-0.7zM381.5 247.0h0.7v0.7h-0.7zM378.5 243.6h0.7v0.7h-0.7zM380.7 247.4h0.7v0.7h-0.7zM378.7 248.8h0.7v0.7h-0.7zM379.1 253.5h0.7v0.7h-0.7zM379.1 247.1h0.7v0.7h-0.7zM379.9 242.9h0.7v0.7h-0.7zM379.4 249.3h0.7v0.7h-0.7zM379.9 244.5h0.7v0.7h-0.7zM379.9 251.6h0.7v0.7h-0.7zM380.2 246.6h0.7v0.7h-0.7zM379.8 238.5h0.7v0.7h-0.7z" fill="#000" fill-opacity="0.42"/>
<path d="M379.6 242.8h0.7v0.7h-0.7zM380.1 242.3h0.7v0.7h-0.7zM379.9 240.5h0.7v0.7h-0.7zM380.2 241.8h0.7v0.7h-0.7zM379.5 247.0h0.7v0.7h-0.7zM379.2 244.7h0.7v0.7h-0.7zM380.3 251.7h0.7v0.7h-0.7zM378.1 241.1h0.7v0.7h-0.7zM380.0 248.4h0.7v0.7h-0.7zM379.1 245.1h0.7v0.7h-0.7zM379.3 253.7h0.7v0.7h-0.7zM379.3 240.0h0.7v0.7h-0.7zM378.3 239.7h0.7v0.7h-0.7zM380.5 243.2h0.7v0.7h-0.7zM381.0 247.2h0.7v0.7h-0.7zM379.8 247.2h0.7v0.7h-0.7zM380.1 248.3h0.7v0.7h-0.7zM378.7 242.5h0.7v0.7h-0.7zM379.1 245.1h0.7v0.7h-0.7zM379.3 239.8h0.7v0.7h-0.7z" fill="#000" fill-opacity="0.42"/>
<path d="M379.0 251.8h0.7v0.7h-0.7zM381.2 241.3h0.7v0.7h-0.7zM379.8 244.6h0.7v0.7h-0.7zM378.8 247.5h0.7v0.7h-0.7zM379.4 251.3h0.7v0.7h-0.7zM379.9 243.5h0.7v0.7h-0.7zM377.4 244.3h0.7v0.7h-0.7zM380.2 241.9h0.7v0.7h-0.7zM380.2 247.4h0.7v0.7h-0.7zM378.1 243.9h0.7v0.7h-0.7zM379.8 247.7h0.7v0.7h-0.7zM379.6 244.6h0.7v0.7h-0.7zM379.2 243.6h0.7v0.7h-0.7zM379.5 240.5h0.7v0.7h-0.7zM380.0 243.4h0.7v0.7h-0.7zM379.9 242.7h0.7v0.7h-0.7zM379.8 245.2h0.7v0.7h-0.7zM380.2 246.5h0.7v0.7h-0.7zM380.2 244.0h0.7v0.7h-0.7zM379.5 243.7h0.7v0.7h-0.7z" fill="#000" fill-opacity="0.42"/>
<path d="M378.5 244.2h0.7v0.7h-0.7zM380.4 247.7h0.7v0.7h-0.7zM378.8 245.9h0.7v0.7h-0.7zM380.1 239.3h0.7v0.7h-0.7zM379.8 246.0h0.7v0.7h-0.7zM380.1 245.7h0.7v0.7h-0.7zM378.1 236.7h0.7v0.7h-0.7zM381.1 243.1h0.7v0.7h-0.7zM380.5 249.7h0.7v0.7h-0.7zM379.6 240.2h0.7v0.7h-0.7zM380.6 244.6h0.7v0.7h-0.7zM379.9 246.6h0.7v0.7h-0.7zM380.3 248.7h0.7v0.7h-0.7zM378.4 239.1h0.7v0.7h-0.7zM379.6 244.7h0.7v0.7h-0.7zM380.1 244.2h0.7v0.7h-0.7zM379.4 252.7h0.7v0.7h-0.7zM380.6 249.3h0.7v0.7h-0.7zM380.3 241.6h0.7v0.7h-0.7zM379.4 244.4h0.7v0.7h-0.7z" fill="#000" fill-opacity="0.42"/>
<path d="M378.6 241.3h0.7v0.7h-0.7zM379.6 239.9h0.7v0.7h-0.7zM379.9 246.6h0.7v0.7h-0.7zM379.3 243.4h0.7v0.7h-0.7zM380.0 246.6h0.7v0.7h-0.7zM379.8 239.9h0.7v0.7h-0.7zM378.2 252.8h0.7v0.7h-0.7zM379.0 243.3h0.7v0.7h-0.7zM378.1 241.6h0.7v0.7h-0.7zM378.9 247.8h0.7v0.7h-0.7zM377.4 239.2h0.7v0.7h-0.7zM379.2 242.8h0.7v0.7h-0.7zM378.9 243.0h0.7v0.7h-0.7zM378.3 245.8h0.7v0.7h-0.7zM380.4 245.3h0.7v0.7h-0.7zM379.1 249.7h0.7v0.7h-0.7zM379.9 240.6h0.7v0.7h-0.7zM379.0 242.3h0.7v0.7h-0.7zM379.5 249.5h0.7v0.7h-0.7zM378.9 244.1h0.7v0.7h-0.7z" fill="#000" fill-opacity="0.42"/>
<path d="M379.6 240.0h0.7v0.7h-0.7zM379.1 247.1h0.7v0.7h-0.7zM380.4 237.3h0.7v0.7h-0.7zM380.1 243.6h0.7v0.7h-0.7zM380.5 247.1h0.7v0.7h-0.7zM381.1 245.9h0.7v0.7h-0.7zM379.2 241.4h0.7v0.7h-0.7zM378.4 246.9h0.7v0.7h-0.7zM379.9 247.9h0.7v0.7h-0.7zM379.8 238.8h0.7v0.7h-0.7zM379.2 243.7h0.7v0.7h-0.7zM379.6 247.7h0.7v0.7h-0.7zM380.6 245.8h0.7v0.7h-0.7zM377.9 240.7h0.7v0.7h-0.7zM377.8 241.7h0.7v0.7h-0.7zM378.6 245.6h0.7v0.7h-0.7zM379.3 249.1h0.7v0.7h-0.7zM380.4 242.9h0.7v0.7h-0.7zM380.2 244.8h0.7v0.7h-0.7zM379.9 250.0h0.7v0.7h-0.7z" fill="#000" fill-opacity="0.42"/>
<path d="M378.6 244.4h0.7v0.7h-0.7zM380.7 241.7h0.7v0.7h-0.7zM379.7 245.2h0.7v0.7h-0.7zM379.2 239.6h0.7v0.7h-0.7zM379.0 240.8h0.7v0.7h-0.7zM380.4 245.7h0.7v0.7h-0.7zM380.1 240.0h0.7v0.7h-0.7zM379.9 245.3h0.7v0.7h-0.7zM380.3 241.9h0.7v0.7h-0.7zM380.1 250.1h0.7v0.7h-0.7zM380.9 241.1h0.7v0.7h-0.7zM378.6 239.0h0.7v0.7h-0.7zM380.3 247.0h0.7v0.7h-0.7zM379.8 241.3h0.7v0.7h-0.7zM380.5 251.0h0.7v0.7h-0.7zM379.5 244.2h0.7v0.7h-0.7zM380.4 246.7h0.7v0.7h-0.7zM380.6 243.1h0.7v0.7h-0.7zM379.8 243.4h0.7v0.7h-0.7zM379.1 243.5h0.7v0.7h-0.7z" fill="#000" fill-opacity="0.42"/>
<path d="M379.2 247.2h0.7v0.7h-0.7zM379.2 244.5h0.7v0.7h-0.7zM378.6 236.2h0.7v0.7h-0.7zM381.1 237.7h0.7v0.7h-0.7zM381.5 250.0h0.7v0.7h-0.7zM377.0 239.9h0.7v0.7h-0.7zM379.0 244.1h0.7v0.7h-0.7zM379.3 240.2h0.7v0.7h-0.7zM380.9 243.2h0.7v0.7h-0.7zM380.5 239.6h0.7v0.7h-0.7zM378.8 252.5h0.7v0.7h-0.7zM379.2 237.0h0.7v0.7h-0.7zM379.3 250.7h0.7v0.7h-0.7zM379.3 239.4h0.7v0.7h-0.7zM380.2 250.3h0.7v0.7h-0.7zM379.3 242.0h0.7v0.7h-0.7zM379.1 261.2h0.7v0.7h-0.7zM379.3 255.1h0.7v0.7h-0.7zM379.3 246.6h0.7v0.7h-0.7zM377.3 245.1h0.7v0.7h-0.7z" fill="#000" fill-opacity="0.3"/>
<path d="M379.6 242.0h0.7v0.7h-0.7zM379.1 235.3h0.7v0.7h-0.7zM377.9 245.1h0.7v0.7h-0.7zM378.8 243.4h0.7v0.7h-0.7zM379.3 240.8h0.7v0.7h-0.7zM378.7 255.8h0.7v0.7h-0.7zM378.3 240.8h0.7v0.7h-0.7zM379.2 236.7h0.7v0.7h-0.7zM378.5 249.5h0.7v0.7h-0.7zM380.5 244.8h0.7v0.7h-0.7zM383.0 249.3h0.7v0.7h-0.7zM380.8 238.8h0.7v0.7h-0.7zM380.7 254.7h0.7v0.7h-0.7zM379.1 255.5h0.7v0.7h-0.7zM378.6 236.8h0.7v0.7h-0.7zM379.5 238.9h0.7v0.7h-0.7zM380.2 237.0h0.7v0.7h-0.7zM379.6 231.6h0.7v0.7h-0.7zM379.5 250.7h0.7v0.7h-0.7zM379.2 246.0h0.7v0.7h-0.7z" fill="#000" fill-opacity="0.3"/>
<path d="M380.7 237.0h0.7v0.7h-0.7zM378.1 244.5h0.7v0.7h-0.7zM379.8 242.3h0.7v0.7h-0.7zM378.4 251.7h0.7v0.7h-0.7zM378.2 242.4h0.7v0.7h-0.7zM379.5 248.6h0.7v0.7h-0.7zM379.0 238.8h0.7v0.7h-0.7zM381.7 238.6h0.7v0.7h-0.7zM380.4 243.0h0.7v0.7h-0.7zM379.0 243.7h0.7v0.7h-0.7zM379.2 246.0h0.7v0.7h-0.7zM376.7 243.8h0.7v0.7h-0.7zM379.6 237.8h0.7v0.7h-0.7zM379.1 258.8h0.7v0.7h-0.7zM381.5 248.1h0.7v0.7h-0.7zM379.8 242.1h0.7v0.7h-0.7zM381.0 241.2h0.7v0.7h-0.7zM378.6 248.4h0.7v0.7h-0.7zM378.5 239.0h0.7v0.7h-0.7zM381.1 233.8h0.7v0.7h-0.7z" fill="#000" fill-opacity="0.3"/>
<path d="M379.4 244.8h0.7v0.7h-0.7zM379.8 234.8h0.7v0.7h-0.7zM379.3 241.9h0.7v0.7h-0.7zM381.6 250.4h0.7v0.7h-0.7zM378.7 249.6h0.7v0.7h-0.7zM380.2 243.3h0.7v0.7h-0.7zM379.2 242.3h0.7v0.7h-0.7zM377.8 240.0h0.7v0.7h-0.7zM380.5 253.2h0.7v0.7h-0.7zM381.5 241.6h0.7v0.7h-0.7zM380.2 228.7h0.7v0.7h-0.7zM379.2 236.0h0.7v0.7h-0.7zM380.4 233.5h0.7v0.7h-0.7zM378.4 237.0h0.7v0.7h-0.7zM379.9 249.3h0.7v0.7h-0.7zM378.5 255.4h0.7v0.7h-0.7zM379.7 238.7h0.7v0.7h-0.7zM379.9 243.9h0.7v0.7h-0.7zM380.4 246.2h0.7v0.7h-0.7zM381.9 251.4h0.7v0.7h-0.7z" fill="#000" fill-opacity="0.3"/>
<path d="M378.8 249.0h0.7v0.7h-0.7zM380.3 237.7h0.7v0.7h-0.7zM378.7 238.9h0.7v0.7h-0.7zM376.8 248.0h0.7v0.7h-0.7zM379.3 251.8h0.7v0.7h-0.7zM378.9 244.5h0.7v0.7h-0.7zM380.3 250.1h0.7v0.7h-0.7zM379.9 237.4h0.7v0.7h-0.7zM381.9 249.5h0.7v0.7h-0.7zM381.0 254.3h0.7v0.7h-0.7zM381.0 246.6h0.7v0.7h-0.7zM380.0 248.0h0.7v0.7h-0.7zM377.9 249.2h0.7v0.7h-0.7zM378.4 246.7h0.7v0.7h-0.7zM378.4 248.5h0.7v0.7h-0.7zM379.0 259.8h0.7v0.7h-0.7zM379.7 247.2h0.7v0.7h-0.7zM378.5 242.2h0.7v0.7h-0.7zM379.4 242.2h0.7v0.7h-0.7zM379.0 238.5h0.7v0.7h-0.7z" fill="#000" fill-opacity="0.3"/>
<path d="M380.3 241.6h0.7v0.7h-0.7zM378.6 246.3h0.7v0.7h-0.7zM378.6 242.9h0.7v0.7h-0.7zM379.0 238.1h0.7v0.7h-0.7zM379.3 238.8h0.7v0.7h-0.7zM378.1 246.2h0.7v0.7h-0.7zM379.2 234.7h0.7v0.7h-0.7zM379.1 245.2h0.7v0.7h-0.7zM380.0 246.4h0.7v0.7h-0.7zM379.8 247.8h0.7v0.7h-0.7zM379.0 238.9h0.7v0.7h-0.7zM380.2 241.4h0.7v0.7h-0.7zM379.5 248.1h0.7v0.7h-0.7zM380.5 251.8h0.7v0.7h-0.7zM378.8 241.7h0.7v0.7h-0.7zM380.1 234.9h0.7v0.7h-0.7zM378.1 247.9h0.7v0.7h-0.7zM378.8 238.2h0.7v0.7h-0.7zM380.4 247.4h0.7v0.7h-0.7zM380.5 241.9h0.7v0.7h-0.7z" fill="#000" fill-opacity="0.3"/>
<path d="M379.2 241.9h0.7v0.7h-0.7zM379.8 231.2h0.7v0.7h-0.7zM378.8 248.5h0.7v0.7h-0.7zM378.7 243.6h0.7v0.7h-0.7zM379.6 247.3h0.7v0.7h-0.7zM379.0 236.8h0.7v0.7h-0.7zM382.2 239.5h0.7v0.7h-0.7zM381.4 232.9h0.7v0.7h-0.7zM379.6 242.8h0.7v0.7h-0.7zM381.6 256.9h0.7v0.7h-0.7zM380.6 237.6h0.7v0.7h-0.7zM378.6 239.2h0.7v0.7h-0.7zM379.0 245.7h0.7v0.7h-0.7zM378.7 242.4h0.7v0.7h-0.7zM381.1 253.1h0.7v0.7h-0.7zM377.5 238.0h0.7v0.7h-0.7zM379.1 252.2h0.7v0.7h-0.7zM379.2 256.1h0.7v0.7h-0.7zM379.9 253.1h0.7v0.7h-0.7zM378.6 242.0h0.7v0.7h-0.7z" fill="#000" fill-opacity="0.3"/>
<path d="M380.6 247.6h0.7v0.7h-0.7zM377.5 242.3h0.7v0.7h-0.7zM379.7 248.0h0.7v0.7h-0.7zM378.8 255.0h0.7v0.7h-0.7zM379.7 253.2h0.7v0.7h-0.7zM379.9 244.5h0.7v0.7h-0.7zM379.2 236.6h0.7v0.7h-0.7zM380.4 248.8h0.7v0.7h-0.7zM380.5 241.6h0.7v0.7h-0.7zM378.4 241.6h0.7v0.7h-0.7zM379.2 243.9h0.7v0.7h-0.7zM380.6 238.3h0.7v0.7h-0.7zM379.0 248.4h0.7v0.7h-0.7zM380.5 258.0h0.7v0.7h-0.7zM380.1 238.7h0.7v0.7h-0.7zM378.4 239.0h0.7v0.7h-0.7zM379.6 245.6h0.7v0.7h-0.7zM379.4 240.1h0.7v0.7h-0.7zM379.3 243.5h0.7v0.7h-0.7zM380.2 244.5h0.7v0.7h-0.7z" fill="#000" fill-opacity="0.3"/>
<path d="M378.6 236.6h0.7v0.7h-0.7zM381.1 243.5h0.7v0.7h-0.7zM379.3 243.9h0.7v0.7h-0.7zM380.7 242.0h0.7v0.7h-0.7zM379.7 242.5h0.7v0.7h-0.7zM380.1 237.6h0.7v0.7h-0.7zM379.7 250.5h0.7v0.7h-0.7zM380.8 247.9h0.7v0.7h-0.7zM379.8 253.9h0.7v0.7h-0.7zM380.3 252.8h0.7v0.7h-0.7zM378.2 237.1h0.7v0.7h-0.7zM380.4 242.3h0.7v0.7h-0.7zM379.0 238.0h0.7v0.7h-0.7zM381.1 236.5h0.7v0.7h-0.7zM379.6 235.2h0.7v0.7h-0.7zM379.3 258.2h0.7v0.7h-0.7zM382.1 240.9h0.7v0.7h-0.7zM378.4 254.3h0.7v0.7h-0.7zM378.6 232.8h0.7v0.7h-0.7zM379.9 237.2h0.7v0.7h-0.7z" fill="#000" fill-opacity="0.3"/>
<path d="M377.9 251.1h0.7v0.7h-0.7zM378.7 237.3h0.7v0.7h-0.7zM379.7 242.8h0.7v0.7h-0.7zM380.7 244.6h0.7v0.7h-0.7zM381.2 251.2h0.7v0.7h-0.7zM381.4 251.1h0.7v0.7h-0.7zM379.6 247.4h0.7v0.7h-0.7zM379.5 234.2h0.7v0.7h-0.7zM378.2 248.7h0.7v0.7h-0.7zM377.0 238.8h0.7v0.7h-0.7zM378.1 243.6h0.7v0.7h-0.7zM378.4 245.6h0.7v0.7h-0.7zM379.3 241.1h0.7v0.7h-0.7zM378.6 230.0h0.7v0.7h-0.7zM379.6 235.9h0.7v0.7h-0.7zM379.2 246.3h0.7v0.7h-0.7zM380.6 248.4h0.7v0.7h-0.7zM381.1 235.1h0.7v0.7h-0.7zM380.2 253.9h0.7v0.7h-0.7zM379.9 237.0h0.7v0.7h-0.7z" fill="#000" fill-opacity="0.3"/>
<path d="M379.9 240.8h0.7v0.7h-0.7zM378.8 250.7h0.7v0.7h-0.7zM379.3 237.0h0.7v0.7h-0.7zM378.8 256.4h0.7v0.7h-0.7zM378.6 248.3h0.7v0.7h-0.7zM379.7 251.4h0.7v0.7h-0.7zM379.2 238.1h0.7v0.7h-0.7zM378.8 237.5h0.7v0.7h-0.7zM382.3 245.2h0.7v0.7h-0.7zM379.2 251.9h0.7v0.7h-0.7zM380.2 242.9h0.7v0.7h-0.7zM380.2 245.7h0.7v0.7h-0.7zM380.7 254.4h0.7v0.7h-0.7zM379.2 243.8h0.7v0.7h-0.7zM379.3 251.7h0.7v0.7h-0.7zM379.9 248.9h0.7v0.7h-0.7zM380.5 240.0h0.7v0.7h-0.7zM379.7 252.7h0.7v0.7h-0.7zM380.5 249.1h0.7v0.7h-0.7zM379.2 241.8h0.7v0.7h-0.7z" fill="#000" fill-opacity="0.3"/>
<path d="M378.0 242.5h0.7v0.7h-0.7zM379.4 231.9h0.7v0.7h-0.7zM381.6 238.0h0.7v0.7h-0.7zM380.0 250.6h0.7v0.7h-0.7zM378.6 228.4h0.7v0.7h-0.7zM381.2 248.8h0.7v0.7h-0.7zM379.1 255.4h0.7v0.7h-0.7zM381.1 236.3h0.7v0.7h-0.7zM379.4 228.8h0.7v0.7h-0.7zM379.1 258.0h0.7v0.7h-0.7zM378.1 252.6h0.7v0.7h-0.7zM376.9 242.3h0.7v0.7h-0.7zM381.2 260.8h0.7v0.7h-0.7zM380.3 252.0h0.7v0.7h-0.7zM382.6 222.6h0.7v0.7h-0.7zM376.5 262.4h0.7v0.7h-0.7zM383.9 250.5h0.7v0.7h-0.7zM379.6 247.4h0.7v0.7h-0.7zM379.6 239.4h0.7v0.7h-0.7zM379.5 243.9h0.7v0.7h-0.7z" fill="#000" fill-opacity="0.15"/>
<path d="M380.7 251.3h0.7v0.7h-0.7zM381.3 250.4h0.7v0.7h-0.7zM377.8 257.8h0.7v0.7h-0.7zM374.8 246.1h0.7v0.7h-0.7zM380.1 240.2h0.7v0.7h-0.7zM382.8 235.0h0.7v0.7h-0.7zM377.5 240.4h0.7v0.7h-0.7zM380.3 252.3h0.7v0.7h-0.7zM379.7 251.2h0.7v0.7h-0.7zM378.3 239.5h0.7v0.7h-0.7zM379.8 232.7h0.7v0.7h-0.7zM379.9 241.4h0.7v0.7h-0.7zM380.7 235.7h0.7v0.7h-0.7zM378.6 239.8h0.7v0.7h-0.7zM378.9 235.9h0.7v0.7h-0.7zM379.1 232.6h0.7v0.7h-0.7zM380.5 251.2h0.7v0.7h-0.7zM379.5 243.3h0.7v0.7h-0.7zM378.0 236.2h0.7v0.7h-0.7zM379.1 236.7h0.7v0.7h-0.7z" fill="#000" fill-opacity="0.15"/>
<path d="M377.5 246.6h0.7v0.7h-0.7zM379.5 241.3h0.7v0.7h-0.7zM378.1 244.5h0.7v0.7h-0.7zM378.3 241.1h0.7v0.7h-0.7zM379.9 251.6h0.7v0.7h-0.7zM380.9 239.5h0.7v0.7h-0.7zM381.6 234.4h0.7v0.7h-0.7zM379.2 257.0h0.7v0.7h-0.7zM383.7 246.2h0.7v0.7h-0.7zM378.9 241.6h0.7v0.7h-0.7zM377.4 243.7h0.7v0.7h-0.7zM378.8 238.1h0.7v0.7h-0.7zM381.6 237.9h0.7v0.7h-0.7zM382.5 252.7h0.7v0.7h-0.7zM380.6 239.6h0.7v0.7h-0.7zM378.6 226.7h0.7v0.7h-0.7zM380.0 242.5h0.7v0.7h-0.7zM380.2 238.9h0.7v0.7h-0.7zM380.4 231.3h0.7v0.7h-0.7zM375.7 249.4h0.7v0.7h-0.7z" fill="#000" fill-opacity="0.15"/>
<path d="M381.8 241.8h0.7v0.7h-0.7zM379.2 230.9h0.7v0.7h-0.7zM377.8 251.6h0.7v0.7h-0.7zM378.2 244.7h0.7v0.7h-0.7zM379.3 263.3h0.7v0.7h-0.7zM381.1 232.9h0.7v0.7h-0.7zM378.7 234.5h0.7v0.7h-0.7zM377.1 238.8h0.7v0.7h-0.7zM381.4 245.5h0.7v0.7h-0.7z" fill="#000" fill-opacity="0.15"/>
</g>
<line x1="310.60" y1="216.50" x2="310.60" y2="287.00" stroke="#999" stroke-width="1.0"/>
<line x1="310.60" y1="287.00" x2="385.20" y2="287.00" stroke="#999" stroke-width="1.0"/>
<line x1="308.80" y1="287.00" x2="310.90" y2="287.00" stroke="#555" stroke-width="0.8"/>
<line x1="310.60" y1="286.70" x2="310.60" y2="288.80" stroke="#555" stroke-width="0.8"/>
<line x1="309.50" y1="281.69" x2="310.90" y2="281.69" stroke="#888" stroke-width="0.8"/>
<line x1="316.21" y1="286.70" x2="316.21" y2="288.10" stroke="#888" stroke-width="0.8"/>
<line x1="309.50" y1="278.59" x2="310.90" y2="278.59" stroke="#888" stroke-width="0.8"/>
<line x1="319.50" y1="286.70" x2="319.50" y2="288.10" stroke="#888" stroke-width="0.8"/>
<line x1="309.50" y1="276.39" x2="310.90" y2="276.39" stroke="#888" stroke-width="0.8"/>
<line x1="321.83" y1="286.70" x2="321.83" y2="288.10" stroke="#888" stroke-width="0.8"/>
<line x1="309.50" y1="274.68" x2="310.90" y2="274.68" stroke="#888" stroke-width="0.8"/>
<line x1="323.64" y1="286.70" x2="323.64" y2="288.10" stroke="#888" stroke-width="0.8"/>
<line x1="309.50" y1="273.29" x2="310.90" y2="273.29" stroke="#888" stroke-width="0.8"/>
<line x1="325.11" y1="286.70" x2="325.11" y2="288.10" stroke="#888" stroke-width="0.8"/>
<line x1="309.50" y1="272.11" x2="310.90" y2="272.11" stroke="#888" stroke-width="0.8"/>
<line x1="326.36" y1="286.70" x2="326.36" y2="288.10" stroke="#888" stroke-width="0.8"/>
<line x1="309.50" y1="271.08" x2="310.90" y2="271.08" stroke="#888" stroke-width="0.8"/>
<line x1="327.44" y1="286.70" x2="327.44" y2="288.10" stroke="#888" stroke-width="0.8"/>
<line x1="309.50" y1="270.18" x2="310.90" y2="270.18" stroke="#888" stroke-width="0.8"/>
<line x1="328.40" y1="286.70" x2="328.40" y2="288.10" stroke="#888" stroke-width="0.8"/>
<line x1="308.80" y1="269.38" x2="310.90" y2="269.38" stroke="#555" stroke-width="0.8"/>
<line x1="329.25" y1="286.70" x2="329.25" y2="288.80" stroke="#555" stroke-width="0.8"/>
<line x1="309.50" y1="264.07" x2="310.90" y2="264.07" stroke="#888" stroke-width="0.8"/>
<line x1="334.86" y1="286.70" x2="334.86" y2="288.10" stroke="#888" stroke-width="0.8"/>
<line x1="309.50" y1="260.97" x2="310.90" y2="260.97" stroke="#888" stroke-width="0.8"/>
<line x1="338.15" y1="286.70" x2="338.15" y2="288.10" stroke="#888" stroke-width="0.8"/>
<line x1="309.50" y1="258.76" x2="310.90" y2="258.76" stroke="#888" stroke-width="0.8"/>
<line x1="340.48" y1="286.70" x2="340.48" y2="288.10" stroke="#888" stroke-width="0.8"/>
<line x1="309.50" y1="257.06" x2="310.90" y2="257.06" stroke="#888" stroke-width="0.8"/>
<line x1="342.29" y1="286.70" x2="342.29" y2="288.10" stroke="#888" stroke-width="0.8"/>
<line x1="309.50" y1="255.66" x2="310.90" y2="255.66" stroke="#888" stroke-width="0.8"/>
<line x1="343.76" y1="286.70" x2="343.76" y2="288.10" stroke="#888" stroke-width="0.8"/>
<line x1="309.50" y1="254.48" x2="310.90" y2="254.48" stroke="#888" stroke-width="0.8"/>
<line x1="345.01" y1="286.70" x2="345.01" y2="288.10" stroke="#888" stroke-width="0.8"/>
<line x1="309.50" y1="253.46" x2="310.90" y2="253.46" stroke="#888" stroke-width="0.8"/>
<line x1="346.09" y1="286.70" x2="346.09" y2="288.10" stroke="#888" stroke-width="0.8"/>
<line x1="309.50" y1="252.56" x2="310.90" y2="252.56" stroke="#888" stroke-width="0.8"/>
<line x1="347.05" y1="286.70" x2="347.05" y2="288.10" stroke="#888" stroke-width="0.8"/>
<line x1="308.80" y1="251.75" x2="310.90" y2="251.75" stroke="#555" stroke-width="0.8"/>
<line x1="347.90" y1="286.70" x2="347.90" y2="288.80" stroke="#555" stroke-width="0.8"/>
<line x1="309.50" y1="246.44" x2="310.90" y2="246.44" stroke="#888" stroke-width="0.8"/>
<line x1="353.51" y1="286.70" x2="353.51" y2="288.10" stroke="#888" stroke-width="0.8"/>
<line x1="309.50" y1="243.34" x2="310.90" y2="243.34" stroke="#888" stroke-width="0.8"/>
<line x1="356.80" y1="286.70" x2="356.80" y2="288.10" stroke="#888" stroke-width="0.8"/>
<line x1="309.50" y1="241.14" x2="310.90" y2="241.14" stroke="#888" stroke-width="0.8"/>
<line x1="359.13" y1="286.70" x2="359.13" y2="288.10" stroke="#888" stroke-width="0.8"/>
<line x1="309.50" y1="239.43" x2="310.90" y2="239.43" stroke="#888" stroke-width="0.8"/>
<line x1="360.94" y1="286.70" x2="360.94" y2="288.10" stroke="#888" stroke-width="0.8"/>
<line x1="309.50" y1="238.04" x2="310.90" y2="238.04" stroke="#888" stroke-width="0.8"/>
<line x1="362.41" y1="286.70" x2="362.41" y2="288.10" stroke="#888" stroke-width="0.8"/>
<line x1="309.50" y1="236.86" x2="310.90" y2="236.86" stroke="#888" stroke-width="0.8"/>
<line x1="363.66" y1="286.70" x2="363.66" y2="288.10" stroke="#888" stroke-width="0.8"/>
<line x1="309.50" y1="235.83" x2="310.90" y2="235.83" stroke="#888" stroke-width="0.8"/>
<line x1="364.74" y1="286.70" x2="364.74" y2="288.10" stroke="#888" stroke-width="0.8"/>
<line x1="309.50" y1="234.93" x2="310.90" y2="234.93" stroke="#888" stroke-width="0.8"/>
<line x1="365.70" y1="286.70" x2="365.70" y2="288.10" stroke="#888" stroke-width="0.8"/>
<line x1="308.80" y1="234.12" x2="310.90" y2="234.12" stroke="#555" stroke-width="0.8"/>
<line x1="366.55" y1="286.70" x2="366.55" y2="288.80" stroke="#555" stroke-width="0.8"/>
<line x1="309.50" y1="228.82" x2="310.90" y2="228.82" stroke="#888" stroke-width="0.8"/>
<line x1="372.16" y1="286.70" x2="372.16" y2="288.10" stroke="#888" stroke-width="0.8"/>
<line x1="309.50" y1="225.72" x2="310.90" y2="225.72" stroke="#888" stroke-width="0.8"/>
<line x1="375.45" y1="286.70" x2="375.45" y2="288.10" stroke="#888" stroke-width="0.8"/>
<line x1="309.50" y1="223.51" x2="310.90" y2="223.51" stroke="#888" stroke-width="0.8"/>
<line x1="377.78" y1="286.70" x2="377.78" y2="288.10" stroke="#888" stroke-width="0.8"/>
<line x1="309.50" y1="221.81" x2="310.90" y2="221.81" stroke="#888" stroke-width="0.8"/>
<line x1="379.59" y1="286.70" x2="379.59" y2="288.10" stroke="#888" stroke-width="0.8"/>
<line x1="309.50" y1="220.41" x2="310.90" y2="220.41" stroke="#888" stroke-width="0.8"/>
<line x1="381.06" y1="286.70" x2="381.06" y2="288.10" stroke="#888" stroke-width="0.8"/>
<line x1="309.50" y1="219.23" x2="310.90" y2="219.23" stroke="#888" stroke-width="0.8"/>
<line x1="382.31" y1="286.70" x2="382.31" y2="288.10" stroke="#888" stroke-width="0.8"/>
<line x1="309.50" y1="218.21" x2="310.90" y2="218.21" stroke="#888" stroke-width="0.8"/>
<line x1="383.39" y1="286.70" x2="383.39" y2="288.10" stroke="#888" stroke-width="0.8"/>
<line x1="309.50" y1="217.31" x2="310.90" y2="217.31" stroke="#888" stroke-width="0.8"/>
<line x1="384.35" y1="286.70" x2="384.35" y2="288.10" stroke="#888" stroke-width="0.8"/>
<line x1="308.80" y1="216.50" x2="310.60" y2="216.50" stroke="#555" stroke-width="0.8"/>
<line x1="385.20" y1="287.00" x2="385.20" y2="288.80" stroke="#555" stroke-width="0.8"/>
<line x1="329.50" y1="216.50" x2="329.50" y2="287.00" stroke="#585858" stroke-width="1.0"/>
<line x1="310.60" y1="269.50" x2="385.20" y2="269.50" stroke="#585858" stroke-width="1.0"/>
<text x="294.79" y="218.40" font-size="6.57" textLength="7.49" lengthAdjust="spacingAndGlyphs" fill="#1c1c1c" stroke="#1c1c1c" stroke-width="0.18">10</text>
<text x="302.50" y="215.30" font-size="4.57" textLength="2.84" lengthAdjust="spacingAndGlyphs" fill="#1c1c1c" stroke="#1c1c1c" stroke-width="0.18">3</text>
<text x="294.79" y="236.03" font-size="6.57" textLength="7.49" lengthAdjust="spacingAndGlyphs" fill="#1c1c1c" stroke="#1c1c1c" stroke-width="0.18">10</text>
<text x="302.44" y="232.93" font-size="4.57" textLength="2.93" lengthAdjust="spacingAndGlyphs" fill="#1c1c1c" stroke="#1c1c1c" stroke-width="0.18">2</text>
<text x="294.79" y="253.65" font-size="6.57" textLength="7.49" lengthAdjust="spacingAndGlyphs" fill="#1c1c1c" stroke="#1c1c1c" stroke-width="0.18">10</text>
<text x="302.28" y="250.55" font-size="4.64" textLength="3.10" lengthAdjust="spacingAndGlyphs" fill="#1c1c1c" stroke="#1c1c1c" stroke-width="0.18">1</text>
<text x="294.79" y="271.27" font-size="6.57" textLength="7.49" lengthAdjust="spacingAndGlyphs" fill="#1c1c1c" stroke="#1c1c1c" stroke-width="0.18">10</text>
<text x="302.50" y="268.18" font-size="4.57" textLength="2.81" lengthAdjust="spacingAndGlyphs" fill="#1c1c1c" stroke="#1c1c1c" stroke-width="0.18">0</text>
<text x="294.19" y="288.90" font-size="6.57" textLength="7.49" lengthAdjust="spacingAndGlyphs" fill="#1c1c1c" stroke="#1c1c1c" stroke-width="0.18">10</text>
<text x="301.93" y="285.80" font-size="4.64" textLength="3.36" lengthAdjust="spacingAndGlyphs" fill="#1c1c1c" stroke="#1c1c1c" stroke-width="0.18">-1</text>
<text x="305.79" y="298.40" font-size="6.71" textLength="7.60" lengthAdjust="spacingAndGlyphs" fill="#1c1c1c" stroke="#1c1c1c" stroke-width="0.18">10</text>
<text x="313.52" y="295.50" font-size="4.49" textLength="3.50" lengthAdjust="spacingAndGlyphs" fill="#1c1c1c" stroke="#1c1c1c" stroke-width="0.18">-1</text>
<text x="323.91" y="298.40" font-size="6.71" textLength="7.60" lengthAdjust="spacingAndGlyphs" fill="#1c1c1c" stroke="#1c1c1c" stroke-width="0.18">10</text>
<text x="331.61" y="295.50" font-size="4.43" textLength="2.93" lengthAdjust="spacingAndGlyphs" fill="#1c1c1c" stroke="#1c1c1c" stroke-width="0.18">0</text>
<text x="342.04" y="298.40" font-size="6.71" textLength="7.60" lengthAdjust="spacingAndGlyphs" fill="#1c1c1c" stroke="#1c1c1c" stroke-width="0.18">10</text>
<text x="349.51" y="295.50" font-size="4.49" textLength="3.23" lengthAdjust="spacingAndGlyphs" fill="#1c1c1c" stroke="#1c1c1c" stroke-width="0.18">1</text>
<text x="360.16" y="298.40" font-size="6.71" textLength="7.60" lengthAdjust="spacingAndGlyphs" fill="#1c1c1c" stroke="#1c1c1c" stroke-width="0.18">10</text>
<text x="367.80" y="295.50" font-size="4.43" textLength="3.06" lengthAdjust="spacingAndGlyphs" fill="#1c1c1c" stroke="#1c1c1c" stroke-width="0.18">2</text>
<text x="378.29" y="298.40" font-size="6.71" textLength="7.60" lengthAdjust="spacingAndGlyphs" fill="#1c1c1c" stroke="#1c1c1c" stroke-width="0.18">10</text>
<text x="385.99" y="295.50" font-size="4.43" textLength="2.96" lengthAdjust="spacingAndGlyphs" fill="#1c1c1c" stroke="#1c1c1c" stroke-width="0.18">3</text>
<text x="312.58" y="222.80" font-size="6.29" textLength="3.08" lengthAdjust="spacingAndGlyphs" fill="#1c1c1c" stroke="#1c1c1c" stroke-width="0.18">0</text>
<text x="372.26" y="222.80" font-size="6.29" textLength="10.77" lengthAdjust="spacingAndGlyphs" fill="#1c1c1c" stroke="#1c1c1c" stroke-width="0.18">99,8</text>
<text x="312.58" y="285.10" font-size="6.29" textLength="3.08" lengthAdjust="spacingAndGlyphs" fill="#1c1c1c" stroke="#1c1c1c" stroke-width="0.18">0</text>
<text x="372.29" y="285.10" font-size="6.29" textLength="10.77" lengthAdjust="spacingAndGlyphs" fill="#1c1c1c" stroke="#1c1c1c" stroke-width="0.18">0,19</text>
<rect x="310.8" y="320.3" width="75.4" height="70.9" fill="none" stroke="#c8c8c8" stroke-width="0.9"/>
<g filter="url(#bl)">
<path d="M381.9 344.5h0.7v0.7h-0.7zM381.1 345.3h0.7v0.7h-0.7zM381.4 352.5h0.7v0.7h-0.7zM382.8 346.5h0.7v0.7h-0.7zM381.9 337.3h0.7v0.7h-0.7zM381.3 354.3h0.7v0.7h-0.7zM380.8 348.2h0.7v0.7h-0.7zM382.4 343.5h0.7v0.7h-0.7zM381.2 343.2h0.7v0.7h-0.7zM382.0 345.1h0.7v0.7h-0.7zM382.6 349.6h0.7v0.7h-0.7zM381.4 355.1h0.7v0.7h-0.7zM381.2 342.6h0.7v0.7h-0.7zM381.2 341.6h0.7v0.7h-0.7zM381.1 344.7h0.7v0.7h-0.7zM382.1 338.9h0.7v0.7h-0.7zM380.3 342.0h0.7v0.7h-0.7zM381.2 346.8h0.7v0.7h-0.7zM380.8 350.8h0.7v0.7h-0.7zM381.0 344.2h0.7v0.7h-0.7z" fill="#000" fill-opacity="0.42"/>
<path d="M381.5 349.5h0.7v0.7h-0.7zM381.6 345.1h0.7v0.7h-0.7zM381.0 345.7h0.7v0.7h-0.7zM381.7 343.7h0.7v0.7h-0.7zM381.4 337.9h0.7v0.7h-0.7zM381.0 349.6h0.7v0.7h-0.7zM382.5 344.7h0.7v0.7h-0.7zM379.7 352.1h0.7v0.7h-0.7zM381.3 355.0h0.7v0.7h-0.7zM381.1 348.9h0.7v0.7h-0.7zM380.9 350.3h0.7v0.7h-0.7zM382.3 340.9h0.7v0.7h-0.7zM382.4 356.1h0.7v0.7h-0.7zM381.2 340.3h0.7v0.7h-0.7zM381.6 343.5h0.7v0.7h-0.7zM380.3 340.9h0.7v0.7h-0.7zM381.6 339.1h0.7v0.7h-0.7zM382.2 346.7h0.7v0.7h-0.7zM381.3 350.4h0.7v0.7h-0.7zM380.7 347.7h0.7v0.7h-0.7z" fill="#000" fill-opacity="0.42"/>
<path d="M380.4 343.7h0.7v0.7h-0.7zM381.9 342.9h0.7v0.7h-0.7zM381.3 347.5h0.7v0.7h-0.7zM382.6 350.1h0.7v0.7h-0.7zM381.8 344.0h0.7v0.7h-0.7zM380.3 351.7h0.7v0.7h-0.7zM382.9 336.6h0.7v0.7h-0.7zM382.1 344.8h0.7v0.7h-0.7zM382.0 346.2h0.7v0.7h-0.7zM381.3 345.0h0.7v0.7h-0.7zM381.4 349.5h0.7v0.7h-0.7zM381.2 342.9h0.7v0.7h-0.7zM381.9 347.5h0.7v0.7h-0.7zM381.7 346.1h0.7v0.7h-0.7zM382.5 349.3h0.7v0.7h-0.7zM381.6 344.2h0.7v0.7h-0.7zM381.9 337.7h0.7v0.7h-0.7zM381.0 342.3h0.7v0.7h-0.7zM381.5 343.5h0.7v0.7h-0.7zM383.3 347.9h0.7v0.7h-0.7z" fill="#000" fill-opacity="0.42"/>
<path d="M381.7 353.7h0.7v0.7h-0.7zM381.4 343.8h0.7v0.7h-0.7zM382.4 348.2h0.7v0.7h-0.7zM382.1 349.7h0.7v0.7h-0.7zM381.1 342.4h0.7v0.7h-0.7zM380.9 345.4h0.7v0.7h-0.7zM382.2 340.9h0.7v0.7h-0.7zM381.0 339.8h0.7v0.7h-0.7zM382.9 348.1h0.7v0.7h-0.7zM381.6 340.3h0.7v0.7h-0.7zM380.6 342.5h0.7v0.7h-0.7zM381.4 340.1h0.7v0.7h-0.7zM381.2 349.7h0.7v0.7h-0.7zM381.4 345.4h0.7v0.7h-0.7zM379.8 343.9h0.7v0.7h-0.7zM381.3 342.3h0.7v0.7h-0.7zM380.3 344.7h0.7v0.7h-0.7zM380.6 342.9h0.7v0.7h-0.7zM380.2 344.6h0.7v0.7h-0.7zM382.1 341.7h0.7v0.7h-0.7z" fill="#000" fill-opacity="0.42"/>
<path d="M381.7 339.1h0.7v0.7h-0.7zM381.9 347.1h0.7v0.7h-0.7zM381.1 348.4h0.7v0.7h-0.7zM380.7 345.2h0.7v0.7h-0.7zM382.7 344.9h0.7v0.7h-0.7zM380.5 349.5h0.7v0.7h-0.7zM381.8 343.9h0.7v0.7h-0.7zM380.0 337.7h0.7v0.7h-0.7zM380.2 350.8h0.7v0.7h-0.7zM381.6 341.7h0.7v0.7h-0.7zM382.3 350.7h0.7v0.7h-0.7zM380.8 346.9h0.7v0.7h-0.7zM380.1 346.5h0.7v0.7h-0.7zM382.8 339.5h0.7v0.7h-0.7zM381.5 342.5h0.7v0.7h-0.7zM381.3 345.3h0.7v0.7h-0.7zM381.6 348.5h0.7v0.7h-0.7zM381.8 349.1h0.7v0.7h-0.7zM382.2 349.3h0.7v0.7h-0.7zM380.9 346.6h0.7v0.7h-0.7z" fill="#000" fill-opacity="0.42"/>
<path d="M381.1 341.7h0.7v0.7h-0.7zM382.9 346.1h0.7v0.7h-0.7zM381.4 336.8h0.7v0.7h-0.7zM381.2 348.0h0.7v0.7h-0.7zM381.3 342.9h0.7v0.7h-0.7zM382.5 343.8h0.7v0.7h-0.7zM381.2 344.6h0.7v0.7h-0.7zM381.2 349.1h0.7v0.7h-0.7zM381.8 344.7h0.7v0.7h-0.7zM381.1 344.1h0.7v0.7h-0.7zM382.7 343.8h0.7v0.7h-0.7zM381.9 338.9h0.7v0.7h-0.7zM381.7 347.7h0.7v0.7h-0.7zM382.4 346.2h0.7v0.7h-0.7zM381.9 346.3h0.7v0.7h-0.7zM382.2 353.0h0.7v0.7h-0.7zM381.6 341.8h0.7v0.7h-0.7zM381.9 344.6h0.7v0.7h-0.7zM381.9 348.0h0.7v0.7h-0.7zM381.5 343.3h0.7v0.7h-0.7z" fill="#000" fill-opacity="0.42"/>
<path d="M381.6 340.1h0.7v0.7h-0.7zM381.6 341.5h0.7v0.7h-0.7zM381.8 345.5h0.7v0.7h-0.7zM381.2 340.3h0.7v0.7h-0.7zM381.4 342.3h0.7v0.7h-0.7zM381.3 347.7h0.7v0.7h-0.7zM382.1 340.0h0.7v0.7h-0.7zM382.1 350.3h0.7v0.7h-0.7zM382.3 346.1h0.7v0.7h-0.7zM381.3 351.8h0.7v0.7h-0.7zM381.2 339.0h0.7v0.7h-0.7zM381.5 346.1h0.7v0.7h-0.7zM380.6 340.3h0.7v0.7h-0.7zM382.9 345.4h0.7v0.7h-0.7zM382.0 342.7h0.7v0.7h-0.7zM380.2 344.3h0.7v0.7h-0.7zM382.4 342.4h0.7v0.7h-0.7zM380.0 344.3h0.7v0.7h-0.7zM381.2 345.1h0.7v0.7h-0.7zM380.6 343.8h0.7v0.7h-0.7z" fill="#000" fill-opacity="0.42"/>
<path d="M381.0 348.4h0.7v0.7h-0.7zM381.5 348.4h0.7v0.7h-0.7zM381.4 336.7h0.7v0.7h-0.7zM379.9 347.1h0.7v0.7h-0.7zM382.1 348.4h0.7v0.7h-0.7zM381.4 338.0h0.7v0.7h-0.7zM381.0 346.6h0.7v0.7h-0.7zM382.5 343.7h0.7v0.7h-0.7zM381.0 342.0h0.7v0.7h-0.7zM382.2 348.4h0.7v0.7h-0.7zM380.0 349.7h0.7v0.7h-0.7zM380.7 339.3h0.7v0.7h-0.7zM380.2 342.2h0.7v0.7h-0.7zM383.2 355.0h0.7v0.7h-0.7zM380.5 342.4h0.7v0.7h-0.7zM381.5 346.6h0.7v0.7h-0.7zM381.0 338.8h0.7v0.7h-0.7zM381.1 342.3h0.7v0.7h-0.7zM380.0 345.6h0.7v0.7h-0.7zM380.3 338.2h0.7v0.7h-0.7z" fill="#000" fill-opacity="0.42"/>
<path d="M382.6 348.7h0.7v0.7h-0.7zM382.5 345.5h0.7v0.7h-0.7zM381.1 344.7h0.7v0.7h-0.7zM380.4 347.9h0.7v0.7h-0.7zM381.6 343.8h0.7v0.7h-0.7zM380.0 344.6h0.7v0.7h-0.7zM382.7 350.7h0.7v0.7h-0.7zM382.1 343.6h0.7v0.7h-0.7zM381.5 347.2h0.7v0.7h-0.7zM381.6 349.1h0.7v0.7h-0.7zM380.9 335.9h0.7v0.7h-0.7zM379.6 341.4h0.7v0.7h-0.7zM380.4 347.6h0.7v0.7h-0.7zM382.2 345.0h0.7v0.7h-0.7zM381.8 345.3h0.7v0.7h-0.7zM381.5 343.2h0.7v0.7h-0.7zM381.1 349.7h0.7v0.7h-0.7zM381.2 344.8h0.7v0.7h-0.7zM382.3 348.8h0.7v0.7h-0.7zM381.1 346.0h0.7v0.7h-0.7z" fill="#000" fill-opacity="0.42"/>
<path d="M380.6 345.5h0.7v0.7h-0.7zM381.7 345.0h0.7v0.7h-0.7zM381.5 346.4h0.7v0.7h-0.7zM379.5 341.8h0.7v0.7h-0.7zM381.5 343.1h0.7v0.7h-0.7zM380.7 344.1h0.7v0.7h-0.7zM382.6 344.1h0.7v0.7h-0.7zM380.9 343.1h0.7v0.7h-0.7zM380.5 346.9h0.7v0.7h-0.7zM380.7 348.6h0.7v0.7h-0.7zM382.1 347.2h0.7v0.7h-0.7zM382.2 344.7h0.7v0.7h-0.7zM380.1 344.7h0.7v0.7h-0.7zM381.9 339.0h0.7v0.7h-0.7zM380.5 349.3h0.7v0.7h-0.7zM381.7 350.3h0.7v0.7h-0.7zM381.9 345.3h0.7v0.7h-0.7zM381.7 348.3h0.7v0.7h-0.7zM381.4 344.2h0.7v0.7h-0.7zM381.7 343.8h0.7v0.7h-0.7z" fill="#000" fill-opacity="0.42"/>
<path d="M383.3 342.0h0.7v0.7h-0.7zM380.2 339.9h0.7v0.7h-0.7zM382.2 343.4h0.7v0.7h-0.7zM381.5 344.2h0.7v0.7h-0.7zM381.6 339.3h0.7v0.7h-0.7zM381.5 342.8h0.7v0.7h-0.7zM382.2 347.4h0.7v0.7h-0.7zM380.4 341.2h0.7v0.7h-0.7zM381.8 349.7h0.7v0.7h-0.7zM382.0 344.4h0.7v0.7h-0.7zM382.3 335.8h0.7v0.7h-0.7zM381.0 341.2h0.7v0.7h-0.7zM380.6 347.2h0.7v0.7h-0.7zM381.6 346.1h0.7v0.7h-0.7zM381.3 347.4h0.7v0.7h-0.7zM382.0 342.8h0.7v0.7h-0.7zM382.1 341.4h0.7v0.7h-0.7zM382.8 339.9h0.7v0.7h-0.7zM381.2 340.8h0.7v0.7h-0.7zM381.4 350.2h0.7v0.7h-0.7z" fill="#000" fill-opacity="0.42"/>
<path d="M380.8 352.0h0.7v0.7h-0.7zM382.5 346.5h0.7v0.7h-0.7zM381.0 348.5h0.7v0.7h-0.7zM379.2 342.0h0.7v0.7h-0.7zM382.2 344.8h0.7v0.7h-0.7zM383.3 342.4h0.7v0.7h-0.7zM380.4 344.2h0.7v0.7h-0.7zM381.9 351.7h0.7v0.7h-0.7zM380.1 345.6h0.7v0.7h-0.7zM382.4 342.4h0.7v0.7h-0.7zM381.1 340.3h0.7v0.7h-0.7zM382.0 348.3h0.7v0.7h-0.7zM381.9 346.0h0.7v0.7h-0.7zM382.2 344.5h0.7v0.7h-0.7zM382.0 348.2h0.7v0.7h-0.7zM382.4 347.0h0.7v0.7h-0.7zM381.5 347.8h0.7v0.7h-0.7zM380.2 338.1h0.7v0.7h-0.7zM382.7 345.5h0.7v0.7h-0.7zM380.6 342.7h0.7v0.7h-0.7z" fill="#000" fill-opacity="0.42"/>
<path d="M381.3 345.3h0.7v0.7h-0.7zM380.8 348.9h0.7v0.7h-0.7zM380.1 356.0h0.7v0.7h-0.7zM380.6 351.5h0.7v0.7h-0.7zM381.9 338.4h0.7v0.7h-0.7zM380.5 345.2h0.7v0.7h-0.7zM381.6 343.3h0.7v0.7h-0.7zM381.4 345.6h0.7v0.7h-0.7zM380.5 345.2h0.7v0.7h-0.7zM383.2 342.5h0.7v0.7h-0.7zM380.6 347.6h0.7v0.7h-0.7zM382.5 349.1h0.7v0.7h-0.7zM380.9 344.7h0.7v0.7h-0.7zM381.6 344.2h0.7v0.7h-0.7zM381.7 349.3h0.7v0.7h-0.7zM381.8 345.0h0.7v0.7h-0.7zM381.3 352.0h0.7v0.7h-0.7zM380.5 352.9h0.7v0.7h-0.7zM382.0 345.3h0.7v0.7h-0.7zM380.8 352.2h0.7v0.7h-0.7z" fill="#000" fill-opacity="0.42"/>
<path d="M382.4 348.6h0.7v0.7h-0.7zM383.0 337.9h0.7v0.7h-0.7zM381.5 343.8h0.7v0.7h-0.7zM380.8 345.3h0.7v0.7h-0.7zM381.8 347.1h0.7v0.7h-0.7zM381.3 339.8h0.7v0.7h-0.7zM381.8 347.4h0.7v0.7h-0.7zM383.1 348.7h0.7v0.7h-0.7zM381.4 340.5h0.7v0.7h-0.7zM383.5 342.3h0.7v0.7h-0.7zM381.6 348.0h0.7v0.7h-0.7zM381.8 350.2h0.7v0.7h-0.7zM380.6 342.3h0.7v0.7h-0.7zM381.5 340.1h0.7v0.7h-0.7zM380.9 350.5h0.7v0.7h-0.7zM381.6 344.6h0.7v0.7h-0.7zM381.0 345.2h0.7v0.7h-0.7zM381.4 340.7h0.7v0.7h-0.7zM382.0 340.0h0.7v0.7h-0.7zM382.4 343.7h0.7v0.7h-0.7z" fill="#000" fill-opacity="0.42"/>
<path d="M379.6 338.9h0.7v0.7h-0.7zM381.6 341.6h0.7v0.7h-0.7zM382.8 350.5h0.7v0.7h-0.7zM383.1 348.5h0.7v0.7h-0.7zM382.5 342.6h0.7v0.7h-0.7zM382.4 343.3h0.7v0.7h-0.7zM381.4 339.6h0.7v0.7h-0.7zM381.5 346.6h0.7v0.7h-0.7zM381.4 340.6h0.7v0.7h-0.7zM382.1 348.6h0.7v0.7h-0.7zM381.3 348.1h0.7v0.7h-0.7zM382.2 341.1h0.7v0.7h-0.7zM381.4 337.6h0.7v0.7h-0.7zM380.6 346.7h0.7v0.7h-0.7zM380.7 346.6h0.7v0.7h-0.7zM381.7 336.8h0.7v0.7h-0.7zM381.0 351.0h0.7v0.7h-0.7zM381.4 345.5h0.7v0.7h-0.7zM380.9 338.6h0.7v0.7h-0.7zM380.1 356.4h0.7v0.7h-0.7z" fill="#000" fill-opacity="0.42"/>
<path d="M381.3 338.4h0.7v0.7h-0.7zM381.6 331.5h0.7v0.7h-0.7zM383.0 355.1h0.7v0.7h-0.7zM380.7 346.1h0.7v0.7h-0.7zM380.5 349.5h0.7v0.7h-0.7zM380.6 343.1h0.7v0.7h-0.7zM382.9 347.4h0.7v0.7h-0.7zM381.2 334.2h0.7v0.7h-0.7zM379.8 351.8h0.7v0.7h-0.7zM382.1 344.4h0.7v0.7h-0.7zM382.9 344.9h0.7v0.7h-0.7zM380.7 343.3h0.7v0.7h-0.7zM381.4 343.9h0.7v0.7h-0.7zM384.2 347.8h0.7v0.7h-0.7zM381.8 342.4h0.7v0.7h-0.7zM380.8 337.6h0.7v0.7h-0.7zM379.5 341.0h0.7v0.7h-0.7zM379.8 332.0h0.7v0.7h-0.7zM380.5 330.9h0.7v0.7h-0.7zM383.0 352.1h0.7v0.7h-0.7z" fill="#000" fill-opacity="0.3"/>
<path d="M380.5 357.3h0.7v0.7h-0.7zM382.2 327.6h0.7v0.7h-0.7zM381.5 337.5h0.7v0.7h-0.7zM379.6 342.3h0.7v0.7h-0.7zM382.8 346.9h0.7v0.7h-0.7zM379.9 339.7h0.7v0.7h-0.7zM380.7 351.4h0.7v0.7h-0.7zM381.4 337.7h0.7v0.7h-0.7zM380.5 331.2h0.7v0.7h-0.7zM380.6 349.8h0.7v0.7h-0.7zM379.4 345.3h0.7v0.7h-0.7zM381.4 349.3h0.7v0.7h-0.7zM380.3 349.9h0.7v0.7h-0.7zM383.2 358.9h0.7v0.7h-0.7zM379.7 343.8h0.7v0.7h-0.7zM381.3 344.8h0.7v0.7h-0.7zM380.4 349.6h0.7v0.7h-0.7zM384.1 353.8h0.7v0.7h-0.7zM380.5 340.3h0.7v0.7h-0.7zM382.3 344.9h0.7v0.7h-0.7z" fill="#000" fill-opacity="0.3"/>
<path d="M380.7 352.0h0.7v0.7h-0.7zM382.1 350.7h0.7v0.7h-0.7zM381.3 352.3h0.7v0.7h-0.7zM381.0 336.7h0.7v0.7h-0.7zM381.5 334.9h0.7v0.7h-0.7zM382.9 348.8h0.7v0.7h-0.7zM379.7 345.1h0.7v0.7h-0.7zM382.4 341.7h0.7v0.7h-0.7zM382.0 340.2h0.7v0.7h-0.7zM381.4 343.4h0.7v0.7h-0.7zM382.0 337.7h0.7v0.7h-0.7zM380.3 346.1h0.7v0.7h-0.7zM380.9 347.4h0.7v0.7h-0.7zM381.0 335.5h0.7v0.7h-0.7zM382.3 345.7h0.7v0.7h-0.7zM382.3 341.8h0.7v0.7h-0.7zM381.1 352.2h0.7v0.7h-0.7zM379.6 355.3h0.7v0.7h-0.7zM382.1 343.6h0.7v0.7h-0.7zM381.6 347.9h0.7v0.7h-0.7z" fill="#000" fill-opacity="0.3"/>
<path d="M380.7 345.8h0.7v0.7h-0.7zM380.5 332.0h0.7v0.7h-0.7zM381.7 344.6h0.7v0.7h-0.7zM382.2 347.6h0.7v0.7h-0.7zM382.3 349.2h0.7v0.7h-0.7zM380.3 351.9h0.7v0.7h-0.7zM384.5 340.3h0.7v0.7h-0.7zM380.1 348.5h0.7v0.7h-0.7zM382.5 350.6h0.7v0.7h-0.7zM383.2 335.0h0.7v0.7h-0.7zM381.9 347.0h0.7v0.7h-0.7zM382.9 338.2h0.7v0.7h-0.7zM381.5 341.6h0.7v0.7h-0.7zM381.3 343.1h0.7v0.7h-0.7zM381.3 332.5h0.7v0.7h-0.7zM381.5 344.4h0.7v0.7h-0.7zM381.1 320.9h0.7v0.7h-0.7zM380.7 339.7h0.7v0.7h-0.7zM380.5 354.4h0.7v0.7h-0.7zM382.5 342.8h0.7v0.7h-0.7z" fill="#000" fill-opacity="0.3"/>
<path d="M382.2 365.5h0.7v0.7h-0.7zM380.4 347.1h0.7v0.7h-0.7zM380.8 353.7h0.7v0.7h-0.7zM382.7 343.2h0.7v0.7h-0.7zM382.2 338.8h0.7v0.7h-0.7zM379.8 349.5h0.7v0.7h-0.7zM383.3 342.0h0.7v0.7h-0.7zM380.9 332.3h0.7v0.7h-0.7zM383.9 336.2h0.7v0.7h-0.7zM380.4 342.7h0.7v0.7h-0.7zM382.8 344.4h0.7v0.7h-0.7zM381.5 344.1h0.7v0.7h-0.7zM382.4 343.8h0.7v0.7h-0.7zM381.7 343.5h0.7v0.7h-0.7zM380.3 352.8h0.7v0.7h-0.7zM380.7 335.4h0.7v0.7h-0.7zM381.0 344.2h0.7v0.7h-0.7zM382.4 334.4h0.7v0.7h-0.7zM380.1 345.2h0.7v0.7h-0.7zM381.9 336.8h0.7v0.7h-0.7z" fill="#000" fill-opacity="0.3"/>
<path d="M380.2 345.1h0.7v0.7h-0.7zM381.3 333.4h0.7v0.7h-0.7zM380.5 353.7h0.7v0.7h-0.7zM380.3 350.9h0.7v0.7h-0.7zM379.8 353.7h0.7v0.7h-0.7zM383.3 339.9h0.7v0.7h-0.7zM380.7 348.1h0.7v0.7h-0.7zM380.1 347.6h0.7v0.7h-0.7zM382.9 345.7h0.7v0.7h-0.7zM381.9 343.0h0.7v0.7h-0.7zM382.6 338.7h0.7v0.7h-0.7zM383.3 343.8h0.7v0.7h-0.7zM381.1 333.3h0.7v0.7h-0.7zM381.0 345.5h0.7v0.7h-0.7zM382.9 333.5h0.7v0.7h-0.7zM381.4 339.5h0.7v0.7h-0.7zM380.2 344.0h0.7v0.7h-0.7zM380.7 349.7h0.7v0.7h-0.7zM378.5 348.8h0.7v0.7h-0.7zM379.4 331.3h0.7v0.7h-0.7z" fill="#000" fill-opacity="0.3"/>
<path d="M382.1 341.8h0.7v0.7h-0.7zM381.6 337.7h0.7v0.7h-0.7zM380.3 339.2h0.7v0.7h-0.7zM381.4 338.5h0.7v0.7h-0.7zM381.0 338.4h0.7v0.7h-0.7zM381.8 336.6h0.7v0.7h-0.7zM379.2 326.9h0.7v0.7h-0.7zM381.5 344.6h0.7v0.7h-0.7zM382.6 339.2h0.7v0.7h-0.7zM380.2 334.3h0.7v0.7h-0.7zM382.3 339.9h0.7v0.7h-0.7zM382.6 343.5h0.7v0.7h-0.7zM381.2 331.9h0.7v0.7h-0.7zM380.8 349.2h0.7v0.7h-0.7zM380.8 348.4h0.7v0.7h-0.7zM379.7 350.6h0.7v0.7h-0.7zM384.6 351.3h0.7v0.7h-0.7zM381.9 335.9h0.7v0.7h-0.7zM380.9 339.7h0.7v0.7h-0.7zM381.7 330.8h0.7v0.7h-0.7z" fill="#000" fill-opacity="0.3"/>
<path d="M380.5 349.2h0.7v0.7h-0.7zM381.7 348.8h0.7v0.7h-0.7zM382.4 336.5h0.7v0.7h-0.7zM380.0 347.0h0.7v0.7h-0.7zM381.5 344.5h0.7v0.7h-0.7zM380.6 350.6h0.7v0.7h-0.7zM382.0 351.4h0.7v0.7h-0.7zM381.1 348.5h0.7v0.7h-0.7zM381.4 337.9h0.7v0.7h-0.7zM381.4 333.2h0.7v0.7h-0.7zM381.3 345.2h0.7v0.7h-0.7zM382.3 337.1h0.7v0.7h-0.7zM380.0 339.2h0.7v0.7h-0.7zM379.2 339.7h0.7v0.7h-0.7zM384.4 344.9h0.7v0.7h-0.7zM380.7 339.6h0.7v0.7h-0.7zM383.5 336.4h0.7v0.7h-0.7zM381.4 343.5h0.7v0.7h-0.7zM380.7 339.3h0.7v0.7h-0.7zM379.6 338.5h0.7v0.7h-0.7z" fill="#000" fill-opacity="0.3"/>
<path d="M382.9 353.2h0.7v0.7h-0.7zM381.2 348.6h0.7v0.7h-0.7zM382.0 344.7h0.7v0.7h-0.7zM381.3 351.9h0.7v0.7h-0.7zM382.1 342.5h0.7v0.7h-0.7zM381.2 350.1h0.7v0.7h-0.7zM380.8 339.3h0.7v0.7h-0.7zM381.2 340.8h0.7v0.7h-0.7zM382.9 346.3h0.7v0.7h-0.7zM381.4 340.6h0.7v0.7h-0.7zM383.1 346.9h0.7v0.7h-0.7zM383.8 349.9h0.7v0.7h-0.7zM381.3 340.4h0.7v0.7h-0.7zM381.2 345.2h0.7v0.7h-0.7zM382.4 347.2h0.7v0.7h-0.7zM383.2 334.1h0.7v0.7h-0.7zM381.5 334.7h0.7v0.7h-0.7zM380.4 340.1h0.7v0.7h-0.7zM380.8 337.7h0.7v0.7h-0.7zM379.8 351.4h0.7v0.7h-0.7z" fill="#000" fill-opacity="0.3"/>
<path d="M381.1 350.3h0.7v0.7h-0.7zM380.3 328.9h0.7v0.7h-0.7zM380.8 349.7h0.7v0.7h-0.7zM380.9 346.6h0.7v0.7h-0.7zM380.3 353.1h0.7v0.7h-0.7zM382.0 350.8h0.7v0.7h-0.7zM381.2 352.3h0.7v0.7h-0.7zM381.6 340.8h0.7v0.7h-0.7zM380.8 344.4h0.7v0.7h-0.7zM380.5 336.2h0.7v0.7h-0.7zM381.6 348.6h0.7v0.7h-0.7zM381.2 349.5h0.7v0.7h-0.7zM383.2 335.7h0.7v0.7h-0.7zM381.8 337.7h0.7v0.7h-0.7zM380.8 345.2h0.7v0.7h-0.7zM378.9 347.9h0.7v0.7h-0.7zM382.4 347.5h0.7v0.7h-0.7zM382.2 355.8h0.7v0.7h-0.7zM381.1 351.1h0.7v0.7h-0.7zM383.1 347.2h0.7v0.7h-0.7z" fill="#000" fill-opacity="0.3"/>
<path d="M379.5 343.0h0.7v0.7h-0.7zM381.2 333.4h0.7v0.7h-0.7zM381.4 348.9h0.7v0.7h-0.7zM381.2 342.8h0.7v0.7h-0.7zM383.1 340.0h0.7v0.7h-0.7zM380.5 344.3h0.7v0.7h-0.7zM382.7 347.9h0.7v0.7h-0.7zM381.6 340.8h0.7v0.7h-0.7zM382.9 349.8h0.7v0.7h-0.7zM379.6 346.2h0.7v0.7h-0.7zM378.8 353.7h0.7v0.7h-0.7zM382.2 339.9h0.7v0.7h-0.7zM380.1 342.0h0.7v0.7h-0.7zM379.6 347.7h0.7v0.7h-0.7zM380.9 332.5h0.7v0.7h-0.7zM381.5 351.7h0.7v0.7h-0.7zM380.1 341.7h0.7v0.7h-0.7zM383.5 345.2h0.7v0.7h-0.7zM380.9 345.2h0.7v0.7h-0.7zM382.4 337.4h0.7v0.7h-0.7z" fill="#000" fill-opacity="0.3"/>
<path d="M381.3 330.4h0.7v0.7h-0.7zM378.6 331.3h0.7v0.7h-0.7zM383.0 348.9h0.7v0.7h-0.7zM382.8 357.6h0.7v0.7h-0.7zM381.6 348.2h0.7v0.7h-0.7zM382.2 350.4h0.7v0.7h-0.7zM379.6 343.4h0.7v0.7h-0.7zM381.2 346.3h0.7v0.7h-0.7zM380.1 344.7h0.7v0.7h-0.7zM382.0 347.8h0.7v0.7h-0.7zM382.6 353.8h0.7v0.7h-0.7zM382.5 355.2h0.7v0.7h-0.7zM383.0 359.3h0.7v0.7h-0.7zM382.6 340.1h0.7v0.7h-0.7zM383.8 352.9h0.7v0.7h-0.7zM381.6 335.1h0.7v0.7h-0.7zM382.3 342.6h0.7v0.7h-0.7zM380.8 325.6h0.7v0.7h-0.7zM384.3 334.9h0.7v0.7h-0.7zM379.5 350.4h0.7v0.7h-0.7z" fill="#000" fill-opacity="0.15"/>
<path d="M382.5 338.4h0.7v0.7h-0.7zM381.5 348.4h0.7v0.7h-0.7zM381.8 351.0h0.7v0.7h-0.7zM382.9 342.5h0.7v0.7h-0.7zM378.6 366.6h0.7v0.7h-0.7zM380.8 336.6h0.7v0.7h-0.7zM382.9 351.6h0.7v0.7h-0.7zM380.4 368.4h0.7v0.7h-0.7zM377.3 358.2h0.7v0.7h-0.7zM381.4 348.9h0.7v0.7h-0.7zM382.1 343.8h0.7v0.7h-0.7zM382.1 333.6h0.7v0.7h-0.7zM380.8 363.6h0.7v0.7h-0.7zM376.8 357.7h0.7v0.7h-0.7zM377.5 337.9h0.7v0.7h-0.7zM383.1 342.1h0.7v0.7h-0.7zM380.5 331.7h0.7v0.7h-0.7zM381.3 344.3h0.7v0.7h-0.7zM380.3 331.1h0.7v0.7h-0.7zM381.8 350.0h0.7v0.7h-0.7z" fill="#000" fill-opacity="0.15"/>
<path d="M383.6 350.9h0.7v0.7h-0.7zM384.2 357.4h0.7v0.7h-0.7zM376.4 361.9h0.7v0.7h-0.7zM381.3 336.0h0.7v0.7h-0.7zM382.3 355.1h0.7v0.7h-0.7zM378.7 334.2h0.7v0.7h-0.7zM382.7 340.7h0.7v0.7h-0.7zM384.1 348.1h0.7v0.7h-0.7zM380.5 333.3h0.7v0.7h-0.7zM382.6 329.6h0.7v0.7h-0.7zM379.1 333.5h0.7v0.7h-0.7zM384.6 362.2h0.7v0.7h-0.7zM381.1 342.3h0.7v0.7h-0.7zM382.8 357.9h0.7v0.7h-0.7zM380.0 367.0h0.7v0.7h-0.7zM381.1 356.8h0.7v0.7h-0.7zM377.2 345.5h0.7v0.7h-0.7zM380.2 364.9h0.7v0.7h-0.7zM381.1 333.8h0.7v0.7h-0.7zM385.0 339.5h0.7v0.7h-0.7z" fill="#000" fill-opacity="0.15"/>
<path d="M381.5 334.1h0.7v0.7h-0.7zM382.7 347.8h0.7v0.7h-0.7zM381.0 342.2h0.7v0.7h-0.7zM380.5 339.1h0.7v0.7h-0.7zM379.0 357.5h0.7v0.7h-0.7zM383.1 332.7h0.7v0.7h-0.7zM379.4 349.9h0.7v0.7h-0.7zM380.9 343.6h0.7v0.7h-0.7z" fill="#000" fill-opacity="0.15"/>
</g>
<line x1="310.80" y1="320.30" x2="310.80" y2="391.20" stroke="#999" stroke-width="1.0"/>
<line x1="310.80" y1="391.20" x2="386.20" y2="391.20" stroke="#999" stroke-width="1.0"/>
<line x1="309.00" y1="391.20" x2="311.10" y2="391.20" stroke="#555" stroke-width="0.8"/>
<line x1="310.80" y1="390.90" x2="310.80" y2="393.00" stroke="#555" stroke-width="0.8"/>
<line x1="309.70" y1="385.86" x2="311.10" y2="385.86" stroke="#888" stroke-width="0.8"/>
<line x1="316.47" y1="390.90" x2="316.47" y2="392.30" stroke="#888" stroke-width="0.8"/>
<line x1="309.70" y1="382.74" x2="311.10" y2="382.74" stroke="#888" stroke-width="0.8"/>
<line x1="319.79" y1="390.90" x2="319.79" y2="392.30" stroke="#888" stroke-width="0.8"/>
<line x1="309.70" y1="380.53" x2="311.10" y2="380.53" stroke="#888" stroke-width="0.8"/>
<line x1="322.15" y1="390.90" x2="322.15" y2="392.30" stroke="#888" stroke-width="0.8"/>
<line x1="309.70" y1="378.81" x2="311.10" y2="378.81" stroke="#888" stroke-width="0.8"/>
<line x1="323.98" y1="390.90" x2="323.98" y2="392.30" stroke="#888" stroke-width="0.8"/>
<line x1="309.70" y1="377.41" x2="311.10" y2="377.41" stroke="#888" stroke-width="0.8"/>
<line x1="325.47" y1="390.90" x2="325.47" y2="392.30" stroke="#888" stroke-width="0.8"/>
<line x1="309.70" y1="376.22" x2="311.10" y2="376.22" stroke="#888" stroke-width="0.8"/>
<line x1="326.73" y1="390.90" x2="326.73" y2="392.30" stroke="#888" stroke-width="0.8"/>
<line x1="309.70" y1="375.19" x2="311.10" y2="375.19" stroke="#888" stroke-width="0.8"/>
<line x1="327.82" y1="390.90" x2="327.82" y2="392.30" stroke="#888" stroke-width="0.8"/>
<line x1="309.70" y1="374.29" x2="311.10" y2="374.29" stroke="#888" stroke-width="0.8"/>
<line x1="328.79" y1="390.90" x2="328.79" y2="392.30" stroke="#888" stroke-width="0.8"/>
<line x1="309.00" y1="373.48" x2="311.10" y2="373.48" stroke="#555" stroke-width="0.8"/>
<line x1="329.65" y1="390.90" x2="329.65" y2="393.00" stroke="#555" stroke-width="0.8"/>
<line x1="309.70" y1="368.14" x2="311.10" y2="368.14" stroke="#888" stroke-width="0.8"/>
<line x1="335.32" y1="390.90" x2="335.32" y2="392.30" stroke="#888" stroke-width="0.8"/>
<line x1="309.70" y1="365.02" x2="311.10" y2="365.02" stroke="#888" stroke-width="0.8"/>
<line x1="338.64" y1="390.90" x2="338.64" y2="392.30" stroke="#888" stroke-width="0.8"/>
<line x1="309.70" y1="362.80" x2="311.10" y2="362.80" stroke="#888" stroke-width="0.8"/>
<line x1="341.00" y1="390.90" x2="341.00" y2="392.30" stroke="#888" stroke-width="0.8"/>
<line x1="309.70" y1="361.09" x2="311.10" y2="361.09" stroke="#888" stroke-width="0.8"/>
<line x1="342.83" y1="390.90" x2="342.83" y2="392.30" stroke="#888" stroke-width="0.8"/>
<line x1="309.70" y1="359.68" x2="311.10" y2="359.68" stroke="#888" stroke-width="0.8"/>
<line x1="344.32" y1="390.90" x2="344.32" y2="392.30" stroke="#888" stroke-width="0.8"/>
<line x1="309.70" y1="358.50" x2="311.10" y2="358.50" stroke="#888" stroke-width="0.8"/>
<line x1="345.58" y1="390.90" x2="345.58" y2="392.30" stroke="#888" stroke-width="0.8"/>
<line x1="309.70" y1="357.47" x2="311.10" y2="357.47" stroke="#888" stroke-width="0.8"/>
<line x1="346.67" y1="390.90" x2="346.67" y2="392.30" stroke="#888" stroke-width="0.8"/>
<line x1="309.70" y1="356.56" x2="311.10" y2="356.56" stroke="#888" stroke-width="0.8"/>
<line x1="347.64" y1="390.90" x2="347.64" y2="392.30" stroke="#888" stroke-width="0.8"/>
<line x1="309.00" y1="355.75" x2="311.10" y2="355.75" stroke="#555" stroke-width="0.8"/>
<line x1="348.50" y1="390.90" x2="348.50" y2="393.00" stroke="#555" stroke-width="0.8"/>
<line x1="309.70" y1="350.41" x2="311.10" y2="350.41" stroke="#888" stroke-width="0.8"/>
<line x1="354.17" y1="390.90" x2="354.17" y2="392.30" stroke="#888" stroke-width="0.8"/>
<line x1="309.70" y1="347.29" x2="311.10" y2="347.29" stroke="#888" stroke-width="0.8"/>
<line x1="357.49" y1="390.90" x2="357.49" y2="392.30" stroke="#888" stroke-width="0.8"/>
<line x1="309.70" y1="345.08" x2="311.10" y2="345.08" stroke="#888" stroke-width="0.8"/>
<line x1="359.85" y1="390.90" x2="359.85" y2="392.30" stroke="#888" stroke-width="0.8"/>
<line x1="309.70" y1="343.36" x2="311.10" y2="343.36" stroke="#888" stroke-width="0.8"/>
<line x1="361.68" y1="390.90" x2="361.68" y2="392.30" stroke="#888" stroke-width="0.8"/>
<line x1="309.70" y1="341.96" x2="311.10" y2="341.96" stroke="#888" stroke-width="0.8"/>
<line x1="363.17" y1="390.90" x2="363.17" y2="392.30" stroke="#888" stroke-width="0.8"/>
<line x1="309.70" y1="340.77" x2="311.10" y2="340.77" stroke="#888" stroke-width="0.8"/>
<line x1="364.43" y1="390.90" x2="364.43" y2="392.30" stroke="#888" stroke-width="0.8"/>
<line x1="309.70" y1="339.74" x2="311.10" y2="339.74" stroke="#888" stroke-width="0.8"/>
<line x1="365.52" y1="390.90" x2="365.52" y2="392.30" stroke="#888" stroke-width="0.8"/>
<line x1="309.70" y1="338.84" x2="311.10" y2="338.84" stroke="#888" stroke-width="0.8"/>
<line x1="366.49" y1="390.90" x2="366.49" y2="392.30" stroke="#888" stroke-width="0.8"/>
<line x1="309.00" y1="338.02" x2="311.10" y2="338.02" stroke="#555" stroke-width="0.8"/>
<line x1="367.35" y1="390.90" x2="367.35" y2="393.00" stroke="#555" stroke-width="0.8"/>
<line x1="309.70" y1="332.69" x2="311.10" y2="332.69" stroke="#888" stroke-width="0.8"/>
<line x1="373.02" y1="390.90" x2="373.02" y2="392.30" stroke="#888" stroke-width="0.8"/>
<line x1="309.70" y1="329.57" x2="311.10" y2="329.57" stroke="#888" stroke-width="0.8"/>
<line x1="376.34" y1="390.90" x2="376.34" y2="392.30" stroke="#888" stroke-width="0.8"/>
<line x1="309.70" y1="327.35" x2="311.10" y2="327.35" stroke="#888" stroke-width="0.8"/>
<line x1="378.70" y1="390.90" x2="378.70" y2="392.30" stroke="#888" stroke-width="0.8"/>
<line x1="309.70" y1="325.64" x2="311.10" y2="325.64" stroke="#888" stroke-width="0.8"/>
<line x1="380.53" y1="390.90" x2="380.53" y2="392.30" stroke="#888" stroke-width="0.8"/>
<line x1="309.70" y1="324.23" x2="311.10" y2="324.23" stroke="#888" stroke-width="0.8"/>
<line x1="382.02" y1="390.90" x2="382.02" y2="392.30" stroke="#888" stroke-width="0.8"/>
<line x1="309.70" y1="323.05" x2="311.10" y2="323.05" stroke="#888" stroke-width="0.8"/>
<line x1="383.28" y1="390.90" x2="383.28" y2="392.30" stroke="#888" stroke-width="0.8"/>
<line x1="309.70" y1="322.02" x2="311.10" y2="322.02" stroke="#888" stroke-width="0.8"/>
<line x1="384.37" y1="390.90" x2="384.37" y2="392.30" stroke="#888" stroke-width="0.8"/>
<line x1="309.70" y1="321.11" x2="311.10" y2="321.11" stroke="#888" stroke-width="0.8"/>
<line x1="385.34" y1="390.90" x2="385.34" y2="392.30" stroke="#888" stroke-width="0.8"/>
<line x1="309.00" y1="320.30" x2="310.80" y2="320.30" stroke="#555" stroke-width="0.8"/>
<line x1="386.20" y1="391.20" x2="386.20" y2="393.00" stroke="#555" stroke-width="0.8"/>
<line x1="329.50" y1="320.30" x2="329.50" y2="391.20" stroke="#585858" stroke-width="1.0"/>
<line x1="310.80" y1="373.50" x2="386.20" y2="373.50" stroke="#585858" stroke-width="1.0"/>
<text x="294.79" y="322.20" font-size="6.57" textLength="7.49" lengthAdjust="spacingAndGlyphs" fill="#1c1c1c" stroke="#1c1c1c" stroke-width="0.18">10</text>
<text x="302.50" y="319.10" font-size="4.57" textLength="2.84" lengthAdjust="spacingAndGlyphs" fill="#1c1c1c" stroke="#1c1c1c" stroke-width="0.18">3</text>
<text x="294.79" y="339.92" font-size="6.57" textLength="7.49" lengthAdjust="spacingAndGlyphs" fill="#1c1c1c" stroke="#1c1c1c" stroke-width="0.18">10</text>
<text x="302.44" y="336.82" font-size="4.57" textLength="2.93" lengthAdjust="spacingAndGlyphs" fill="#1c1c1c" stroke="#1c1c1c" stroke-width="0.18">2</text>
<text x="294.79" y="357.65" font-size="6.57" textLength="7.49" lengthAdjust="spacingAndGlyphs" fill="#1c1c1c" stroke="#1c1c1c" stroke-width="0.18">10</text>
<text x="302.28" y="354.55" font-size="4.64" textLength="3.10" lengthAdjust="spacingAndGlyphs" fill="#1c1c1c" stroke="#1c1c1c" stroke-width="0.18">1</text>
<text x="294.79" y="375.38" font-size="6.57" textLength="7.49" lengthAdjust="spacingAndGlyphs" fill="#1c1c1c" stroke="#1c1c1c" stroke-width="0.18">10</text>
<text x="302.50" y="372.28" font-size="4.57" textLength="2.81" lengthAdjust="spacingAndGlyphs" fill="#1c1c1c" stroke="#1c1c1c" stroke-width="0.18">0</text>
<text x="294.19" y="393.10" font-size="6.57" textLength="7.49" lengthAdjust="spacingAndGlyphs" fill="#1c1c1c" stroke="#1c1c1c" stroke-width="0.18">10</text>
<text x="301.93" y="390.00" font-size="4.64" textLength="3.36" lengthAdjust="spacingAndGlyphs" fill="#1c1c1c" stroke="#1c1c1c" stroke-width="0.18">-1</text>
<text x="305.79" y="402.60" font-size="6.71" textLength="7.60" lengthAdjust="spacingAndGlyphs" fill="#1c1c1c" stroke="#1c1c1c" stroke-width="0.18">10</text>
<text x="313.52" y="399.70" font-size="4.49" textLength="3.50" lengthAdjust="spacingAndGlyphs" fill="#1c1c1c" stroke="#1c1c1c" stroke-width="0.18">-1</text>
<text x="323.96" y="402.60" font-size="6.71" textLength="7.60" lengthAdjust="spacingAndGlyphs" fill="#1c1c1c" stroke="#1c1c1c" stroke-width="0.18">10</text>
<text x="331.66" y="399.70" font-size="4.43" textLength="2.93" lengthAdjust="spacingAndGlyphs" fill="#1c1c1c" stroke="#1c1c1c" stroke-width="0.18">0</text>
<text x="342.14" y="402.60" font-size="6.71" textLength="7.60" lengthAdjust="spacingAndGlyphs" fill="#1c1c1c" stroke="#1c1c1c" stroke-width="0.18">10</text>
<text x="349.61" y="399.70" font-size="4.49" textLength="3.23" lengthAdjust="spacingAndGlyphs" fill="#1c1c1c" stroke="#1c1c1c" stroke-width="0.18">1</text>
<text x="360.31" y="402.60" font-size="6.71" textLength="7.60" lengthAdjust="spacingAndGlyphs" fill="#1c1c1c" stroke="#1c1c1c" stroke-width="0.18">10</text>
<text x="367.95" y="399.70" font-size="4.43" textLength="3.06" lengthAdjust="spacingAndGlyphs" fill="#1c1c1c" stroke="#1c1c1c" stroke-width="0.18">2</text>
<text x="378.49" y="402.60" font-size="6.71" textLength="7.60" lengthAdjust="spacingAndGlyphs" fill="#1c1c1c" stroke="#1c1c1c" stroke-width="0.18">10</text>
<text x="386.19" y="399.70" font-size="4.43" textLength="2.96" lengthAdjust="spacingAndGlyphs" fill="#1c1c1c" stroke="#1c1c1c" stroke-width="0.18">3</text>
<text x="312.78" y="326.60" font-size="6.29" textLength="3.08" lengthAdjust="spacingAndGlyphs" fill="#1c1c1c" stroke="#1c1c1c" stroke-width="0.18">0</text>
<text x="374.81" y="326.60" font-size="6.29" textLength="9.23" lengthAdjust="spacingAndGlyphs" fill="#1c1c1c" stroke="#1c1c1c" stroke-width="0.18">100</text>
<text x="312.78" y="389.30" font-size="6.29" textLength="3.08" lengthAdjust="spacingAndGlyphs" fill="#1c1c1c" stroke="#1c1c1c" stroke-width="0.18">0</text>
<text x="380.95" y="389.30" font-size="6.29" textLength="3.08" lengthAdjust="spacingAndGlyphs" fill="#1c1c1c" stroke="#1c1c1c" stroke-width="0.18">0</text>
<rect x="434.7" y="213.0" width="72.9" height="72.9" fill="none" stroke="#c8c8c8" stroke-width="0.9"/>
<g filter="url(#bl)">
<path d="M476.5 260.0h0.7v0.7h-0.7zM478.1 263.5h0.7v0.7h-0.7zM477.1 265.2h0.7v0.7h-0.7zM475.6 258.8h0.7v0.7h-0.7zM481.7 254.7h0.7v0.7h-0.7zM473.0 253.4h0.7v0.7h-0.7zM476.7 257.3h0.7v0.7h-0.7zM478.0 254.2h0.7v0.7h-0.7zM475.7 259.3h0.7v0.7h-0.7zM473.9 263.9h0.7v0.7h-0.7zM475.2 261.9h0.7v0.7h-0.7zM475.0 260.9h0.7v0.7h-0.7zM475.1 260.7h0.7v0.7h-0.7zM475.8 258.4h0.7v0.7h-0.7zM476.8 259.9h0.7v0.7h-0.7zM474.1 257.3h0.7v0.7h-0.7zM476.8 264.5h0.7v0.7h-0.7zM473.5 259.2h0.7v0.7h-0.7zM476.9 263.6h0.7v0.7h-0.7zM477.4 256.9h0.7v0.7h-0.7z" fill="#000" fill-opacity="0.38"/>
<path d="M476.1 263.2h0.7v0.7h-0.7zM476.5 259.8h0.7v0.7h-0.7zM473.7 261.0h0.7v0.7h-0.7zM475.9 260.6h0.7v0.7h-0.7zM478.9 264.1h0.7v0.7h-0.7zM474.5 261.2h0.7v0.7h-0.7zM475.4 260.8h0.7v0.7h-0.7zM479.1 263.3h0.7v0.7h-0.7zM476.1 258.5h0.7v0.7h-0.7zM475.7 261.6h0.7v0.7h-0.7zM475.0 263.8h0.7v0.7h-0.7zM476.0 256.9h0.7v0.7h-0.7zM479.9 251.8h0.7v0.7h-0.7zM475.5 260.1h0.7v0.7h-0.7zM477.9 263.9h0.7v0.7h-0.7zM478.8 265.2h0.7v0.7h-0.7zM476.6 260.8h0.7v0.7h-0.7zM477.9 260.4h0.7v0.7h-0.7zM473.6 259.1h0.7v0.7h-0.7zM477.3 262.3h0.7v0.7h-0.7z" fill="#000" fill-opacity="0.38"/>
<path d="M473.9 264.1h0.7v0.7h-0.7zM476.6 256.0h0.7v0.7h-0.7zM476.9 263.5h0.7v0.7h-0.7zM477.0 259.6h0.7v0.7h-0.7zM474.5 263.9h0.7v0.7h-0.7zM476.4 260.5h0.7v0.7h-0.7zM475.2 257.4h0.7v0.7h-0.7zM472.4 259.5h0.7v0.7h-0.7zM478.1 262.8h0.7v0.7h-0.7zM474.7 265.1h0.7v0.7h-0.7zM475.6 257.5h0.7v0.7h-0.7zM477.9 264.7h0.7v0.7h-0.7zM475.3 256.8h0.7v0.7h-0.7zM475.9 253.2h0.7v0.7h-0.7zM476.1 265.1h0.7v0.7h-0.7zM476.5 258.3h0.7v0.7h-0.7zM477.4 259.0h0.7v0.7h-0.7zM478.4 259.4h0.7v0.7h-0.7zM479.9 259.4h0.7v0.7h-0.7zM476.4 257.7h0.7v0.7h-0.7z" fill="#000" fill-opacity="0.38"/>
<path d="M473.6 261.5h0.7v0.7h-0.7zM476.7 257.6h0.7v0.7h-0.7zM477.1 259.3h0.7v0.7h-0.7zM474.9 260.3h0.7v0.7h-0.7zM476.8 262.7h0.7v0.7h-0.7zM478.4 261.6h0.7v0.7h-0.7zM474.6 258.4h0.7v0.7h-0.7zM476.7 256.9h0.7v0.7h-0.7zM475.7 259.3h0.7v0.7h-0.7zM475.8 261.0h0.7v0.7h-0.7zM478.0 265.4h0.7v0.7h-0.7zM477.7 263.5h0.7v0.7h-0.7zM474.0 263.6h0.7v0.7h-0.7zM478.5 256.4h0.7v0.7h-0.7zM480.8 258.8h0.7v0.7h-0.7zM471.5 265.8h0.7v0.7h-0.7zM476.1 258.1h0.7v0.7h-0.7zM474.9 263.7h0.7v0.7h-0.7zM476.5 259.4h0.7v0.7h-0.7zM478.2 257.7h0.7v0.7h-0.7z" fill="#000" fill-opacity="0.38"/>
<path d="M474.4 258.8h0.7v0.7h-0.7zM474.6 262.6h0.7v0.7h-0.7zM475.6 257.3h0.7v0.7h-0.7zM475.1 254.5h0.7v0.7h-0.7zM476.3 260.8h0.7v0.7h-0.7zM477.2 259.8h0.7v0.7h-0.7zM476.8 257.7h0.7v0.7h-0.7zM476.0 261.0h0.7v0.7h-0.7zM473.7 262.3h0.7v0.7h-0.7zM476.3 260.7h0.7v0.7h-0.7zM475.1 266.5h0.7v0.7h-0.7zM476.0 258.2h0.7v0.7h-0.7zM474.4 262.3h0.7v0.7h-0.7zM475.6 258.1h0.7v0.7h-0.7zM474.6 263.3h0.7v0.7h-0.7zM476.2 263.7h0.7v0.7h-0.7zM476.0 256.9h0.7v0.7h-0.7zM477.7 261.5h0.7v0.7h-0.7zM474.8 259.6h0.7v0.7h-0.7zM474.1 263.0h0.7v0.7h-0.7z" fill="#000" fill-opacity="0.38"/>
<path d="M475.2 261.9h0.7v0.7h-0.7zM476.5 259.7h0.7v0.7h-0.7zM476.7 259.8h0.7v0.7h-0.7zM473.8 259.2h0.7v0.7h-0.7zM473.8 262.8h0.7v0.7h-0.7zM477.2 258.7h0.7v0.7h-0.7zM477.2 261.2h0.7v0.7h-0.7zM477.9 257.7h0.7v0.7h-0.7zM476.0 257.5h0.7v0.7h-0.7zM474.7 264.6h0.7v0.7h-0.7zM472.2 257.8h0.7v0.7h-0.7zM476.9 262.8h0.7v0.7h-0.7zM474.5 254.4h0.7v0.7h-0.7zM472.7 261.6h0.7v0.7h-0.7zM478.1 263.2h0.7v0.7h-0.7zM474.6 264.6h0.7v0.7h-0.7zM475.6 262.3h0.7v0.7h-0.7zM475.6 265.3h0.7v0.7h-0.7zM475.0 254.1h0.7v0.7h-0.7zM475.4 261.1h0.7v0.7h-0.7z" fill="#000" fill-opacity="0.38"/>
<path d="M476.5 258.3h0.7v0.7h-0.7zM475.6 257.1h0.7v0.7h-0.7zM475.6 260.8h0.7v0.7h-0.7zM476.5 265.4h0.7v0.7h-0.7zM472.2 262.1h0.7v0.7h-0.7zM476.8 257.0h0.7v0.7h-0.7zM476.1 260.5h0.7v0.7h-0.7zM474.1 262.7h0.7v0.7h-0.7zM479.6 262.5h0.7v0.7h-0.7zM477.5 263.7h0.7v0.7h-0.7zM475.8 263.4h0.7v0.7h-0.7zM474.5 261.0h0.7v0.7h-0.7zM477.3 264.4h0.7v0.7h-0.7zM475.5 259.6h0.7v0.7h-0.7zM476.9 260.3h0.7v0.7h-0.7zM476.3 262.9h0.7v0.7h-0.7zM474.5 263.1h0.7v0.7h-0.7zM476.7 259.7h0.7v0.7h-0.7zM473.6 258.6h0.7v0.7h-0.7zM475.9 263.3h0.7v0.7h-0.7z" fill="#000" fill-opacity="0.38"/>
<path d="M472.3 262.6h0.7v0.7h-0.7zM476.4 257.1h0.7v0.7h-0.7zM477.6 261.7h0.7v0.7h-0.7zM476.8 257.6h0.7v0.7h-0.7zM473.9 263.2h0.7v0.7h-0.7zM478.7 261.6h0.7v0.7h-0.7zM475.6 259.2h0.7v0.7h-0.7zM472.8 263.4h0.7v0.7h-0.7zM475.8 264.2h0.7v0.7h-0.7zM474.6 263.6h0.7v0.7h-0.7zM474.6 262.2h0.7v0.7h-0.7zM478.6 258.4h0.7v0.7h-0.7zM477.7 260.5h0.7v0.7h-0.7zM474.2 261.1h0.7v0.7h-0.7zM477.2 258.4h0.7v0.7h-0.7zM475.5 258.8h0.7v0.7h-0.7zM474.5 259.9h0.7v0.7h-0.7zM477.6 259.0h0.7v0.7h-0.7zM478.4 259.4h0.7v0.7h-0.7zM474.7 263.7h0.7v0.7h-0.7z" fill="#000" fill-opacity="0.38"/>
<path d="M478.7 258.6h0.7v0.7h-0.7zM477.1 257.0h0.7v0.7h-0.7zM475.2 259.4h0.7v0.7h-0.7zM477.3 256.8h0.7v0.7h-0.7zM475.0 258.4h0.7v0.7h-0.7zM476.2 256.8h0.7v0.7h-0.7zM473.5 268.9h0.7v0.7h-0.7zM476.4 256.0h0.7v0.7h-0.7zM477.6 256.6h0.7v0.7h-0.7zM472.5 265.5h0.7v0.7h-0.7zM478.4 258.0h0.7v0.7h-0.7zM473.9 261.9h0.7v0.7h-0.7zM479.8 262.3h0.7v0.7h-0.7zM477.2 257.0h0.7v0.7h-0.7zM472.6 261.6h0.7v0.7h-0.7zM477.9 260.9h0.7v0.7h-0.7zM476.0 264.6h0.7v0.7h-0.7zM474.4 263.8h0.7v0.7h-0.7zM477.6 258.6h0.7v0.7h-0.7zM476.2 260.8h0.7v0.7h-0.7z" fill="#000" fill-opacity="0.38"/>
<path d="M477.1 257.6h0.7v0.7h-0.7zM475.6 260.8h0.7v0.7h-0.7zM476.1 260.6h0.7v0.7h-0.7zM476.5 259.9h0.7v0.7h-0.7zM475.1 263.6h0.7v0.7h-0.7zM474.8 259.6h0.7v0.7h-0.7zM474.3 257.1h0.7v0.7h-0.7zM476.8 260.4h0.7v0.7h-0.7zM475.7 261.8h0.7v0.7h-0.7zM475.7 262.5h0.7v0.7h-0.7zM479.4 261.5h0.7v0.7h-0.7zM475.5 265.4h0.7v0.7h-0.7zM477.3 255.6h0.7v0.7h-0.7zM478.5 261.1h0.7v0.7h-0.7zM477.6 257.1h0.7v0.7h-0.7zM474.4 258.6h0.7v0.7h-0.7zM477.0 257.2h0.7v0.7h-0.7zM474.7 263.3h0.7v0.7h-0.7zM474.8 260.8h0.7v0.7h-0.7zM474.3 255.5h0.7v0.7h-0.7z" fill="#000" fill-opacity="0.38"/>
<path d="M475.8 260.1h0.7v0.7h-0.7zM473.3 263.4h0.7v0.7h-0.7zM477.5 263.1h0.7v0.7h-0.7zM475.0 257.1h0.7v0.7h-0.7zM475.8 261.0h0.7v0.7h-0.7zM475.7 258.8h0.7v0.7h-0.7zM474.1 258.3h0.7v0.7h-0.7zM475.8 259.1h0.7v0.7h-0.7zM479.1 259.7h0.7v0.7h-0.7zM476.8 259.1h0.7v0.7h-0.7zM475.7 257.6h0.7v0.7h-0.7zM475.1 256.1h0.7v0.7h-0.7zM472.1 264.4h0.7v0.7h-0.7zM474.0 261.8h0.7v0.7h-0.7zM475.8 258.8h0.7v0.7h-0.7zM477.4 258.9h0.7v0.7h-0.7zM476.8 259.4h0.7v0.7h-0.7zM477.8 263.3h0.7v0.7h-0.7zM476.1 263.7h0.7v0.7h-0.7zM476.9 265.1h0.7v0.7h-0.7z" fill="#000" fill-opacity="0.38"/>
<path d="M475.8 255.9h0.7v0.7h-0.7zM476.4 261.2h0.7v0.7h-0.7zM475.3 259.9h0.7v0.7h-0.7zM475.5 256.8h0.7v0.7h-0.7zM479.2 258.2h0.7v0.7h-0.7zM474.0 255.8h0.7v0.7h-0.7zM474.4 260.4h0.7v0.7h-0.7zM478.7 262.3h0.7v0.7h-0.7zM474.6 256.8h0.7v0.7h-0.7zM473.9 260.3h0.7v0.7h-0.7zM477.6 259.1h0.7v0.7h-0.7zM479.0 266.2h0.7v0.7h-0.7zM476.3 254.1h0.7v0.7h-0.7zM478.0 260.2h0.7v0.7h-0.7zM477.2 263.4h0.7v0.7h-0.7zM474.1 260.7h0.7v0.7h-0.7zM476.3 258.3h0.7v0.7h-0.7zM477.3 260.1h0.7v0.7h-0.7zM475.2 266.0h0.7v0.7h-0.7zM476.3 265.3h0.7v0.7h-0.7z" fill="#000" fill-opacity="0.38"/>
<path d="M475.7 263.5h0.7v0.7h-0.7zM474.6 260.9h0.7v0.7h-0.7zM478.0 254.1h0.7v0.7h-0.7zM477.0 259.7h0.7v0.7h-0.7zM478.0 261.0h0.7v0.7h-0.7zM475.9 256.7h0.7v0.7h-0.7zM481.5 258.3h0.7v0.7h-0.7zM475.4 258.4h0.7v0.7h-0.7zM475.4 261.1h0.7v0.7h-0.7zM473.5 263.6h0.7v0.7h-0.7zM475.5 262.3h0.7v0.7h-0.7zM472.1 259.0h0.7v0.7h-0.7zM475.4 259.4h0.7v0.7h-0.7zM474.8 261.4h0.7v0.7h-0.7zM476.8 257.6h0.7v0.7h-0.7zM472.3 262.6h0.7v0.7h-0.7zM475.4 263.6h0.7v0.7h-0.7zM477.6 260.2h0.7v0.7h-0.7zM473.3 259.4h0.7v0.7h-0.7zM474.6 264.1h0.7v0.7h-0.7z" fill="#000" fill-opacity="0.38"/>
<path d="M472.8 263.2h0.7v0.7h-0.7zM473.1 258.8h0.7v0.7h-0.7zM473.4 258.4h0.7v0.7h-0.7zM475.2 261.6h0.7v0.7h-0.7zM474.9 262.5h0.7v0.7h-0.7zM479.2 261.0h0.7v0.7h-0.7zM473.9 260.0h0.7v0.7h-0.7zM475.8 259.4h0.7v0.7h-0.7zM478.1 263.9h0.7v0.7h-0.7zM479.7 262.0h0.7v0.7h-0.7zM471.0 260.1h0.7v0.7h-0.7zM477.2 258.1h0.7v0.7h-0.7zM474.9 263.2h0.7v0.7h-0.7zM476.3 257.2h0.7v0.7h-0.7zM474.9 251.4h0.7v0.7h-0.7zM476.0 256.9h0.7v0.7h-0.7zM475.9 257.0h0.7v0.7h-0.7zM474.3 259.0h0.7v0.7h-0.7zM481.2 257.0h0.7v0.7h-0.7zM473.8 258.9h0.7v0.7h-0.7z" fill="#000" fill-opacity="0.38"/>
<path d="M478.0 262.8h0.7v0.7h-0.7zM477.3 259.5h0.7v0.7h-0.7zM476.2 258.2h0.7v0.7h-0.7zM475.7 258.1h0.7v0.7h-0.7zM473.3 257.6h0.7v0.7h-0.7zM479.6 261.7h0.7v0.7h-0.7zM474.6 260.2h0.7v0.7h-0.7zM475.1 264.1h0.7v0.7h-0.7zM475.9 258.6h0.7v0.7h-0.7zM477.2 261.4h0.7v0.7h-0.7zM474.7 258.2h0.7v0.7h-0.7zM476.2 255.7h0.7v0.7h-0.7zM474.3 263.5h0.7v0.7h-0.7zM477.6 263.8h0.7v0.7h-0.7zM475.2 258.7h0.7v0.7h-0.7zM475.5 259.1h0.7v0.7h-0.7zM478.4 259.8h0.7v0.7h-0.7zM478.5 258.4h0.7v0.7h-0.7zM476.7 265.3h0.7v0.7h-0.7zM474.6 258.6h0.7v0.7h-0.7z" fill="#000" fill-opacity="0.38"/>
<path d="M479.4 247.3h0.7v0.7h-0.7zM479.0 250.6h0.7v0.7h-0.7zM484.8 253.4h0.7v0.7h-0.7zM472.8 254.2h0.7v0.7h-0.7zM481.3 253.7h0.7v0.7h-0.7zM478.8 255.5h0.7v0.7h-0.7zM477.6 252.6h0.7v0.7h-0.7zM477.4 258.4h0.7v0.7h-0.7zM482.1 254.7h0.7v0.7h-0.7zM474.8 254.7h0.7v0.7h-0.7zM477.5 256.7h0.7v0.7h-0.7zM478.9 253.6h0.7v0.7h-0.7zM481.4 251.2h0.7v0.7h-0.7zM474.7 259.8h0.7v0.7h-0.7zM475.8 255.2h0.7v0.7h-0.7zM479.6 256.2h0.7v0.7h-0.7zM483.8 249.8h0.7v0.7h-0.7zM483.7 247.2h0.7v0.7h-0.7zM478.7 254.1h0.7v0.7h-0.7zM480.2 257.4h0.7v0.7h-0.7z" fill="#000" fill-opacity="0.22"/>
<path d="M477.1 251.3h0.7v0.7h-0.7zM479.4 250.6h0.7v0.7h-0.7zM477.8 250.1h0.7v0.7h-0.7zM480.1 258.4h0.7v0.7h-0.7zM478.8 259.0h0.7v0.7h-0.7zM480.5 249.6h0.7v0.7h-0.7zM477.2 253.1h0.7v0.7h-0.7zM480.0 257.8h0.7v0.7h-0.7zM475.7 255.3h0.7v0.7h-0.7zM477.0 254.4h0.7v0.7h-0.7zM479.4 258.5h0.7v0.7h-0.7zM477.4 253.3h0.7v0.7h-0.7zM480.5 252.0h0.7v0.7h-0.7zM478.5 255.0h0.7v0.7h-0.7zM475.8 249.5h0.7v0.7h-0.7zM483.9 256.4h0.7v0.7h-0.7zM479.8 246.6h0.7v0.7h-0.7zM476.1 253.8h0.7v0.7h-0.7zM480.1 255.0h0.7v0.7h-0.7zM481.1 251.5h0.7v0.7h-0.7z" fill="#000" fill-opacity="0.22"/>
<path d="M484.1 250.7h0.7v0.7h-0.7zM480.5 252.6h0.7v0.7h-0.7zM473.8 254.4h0.7v0.7h-0.7zM477.5 255.0h0.7v0.7h-0.7zM481.8 254.6h0.7v0.7h-0.7zM477.7 251.7h0.7v0.7h-0.7zM477.1 257.6h0.7v0.7h-0.7zM479.1 258.8h0.7v0.7h-0.7zM481.7 251.2h0.7v0.7h-0.7zM480.0 256.9h0.7v0.7h-0.7zM478.1 254.4h0.7v0.7h-0.7zM479.7 248.6h0.7v0.7h-0.7zM477.9 255.4h0.7v0.7h-0.7zM480.7 245.4h0.7v0.7h-0.7zM475.8 255.8h0.7v0.7h-0.7zM478.2 256.8h0.7v0.7h-0.7zM477.7 251.0h0.7v0.7h-0.7zM477.5 249.6h0.7v0.7h-0.7zM480.0 253.9h0.7v0.7h-0.7zM477.5 253.5h0.7v0.7h-0.7z" fill="#000" fill-opacity="0.22"/>
<path d="M476.3 250.6h0.7v0.7h-0.7zM477.2 246.8h0.7v0.7h-0.7zM477.0 248.3h0.7v0.7h-0.7zM481.1 258.8h0.7v0.7h-0.7zM482.6 252.2h0.7v0.7h-0.7zM481.8 249.9h0.7v0.7h-0.7zM477.4 253.3h0.7v0.7h-0.7zM474.9 252.2h0.7v0.7h-0.7zM482.9 246.8h0.7v0.7h-0.7zM473.5 250.0h0.7v0.7h-0.7zM478.5 253.3h0.7v0.7h-0.7zM475.6 253.8h0.7v0.7h-0.7zM480.1 250.7h0.7v0.7h-0.7zM482.6 255.2h0.7v0.7h-0.7zM478.5 259.6h0.7v0.7h-0.7zM478.1 251.8h0.7v0.7h-0.7zM475.1 250.7h0.7v0.7h-0.7zM477.1 261.5h0.7v0.7h-0.7zM480.1 254.1h0.7v0.7h-0.7zM477.0 249.1h0.7v0.7h-0.7z" fill="#000" fill-opacity="0.22"/>
<path d="M476.2 246.9h0.7v0.7h-0.7zM478.9 254.0h0.7v0.7h-0.7zM477.0 251.5h0.7v0.7h-0.7zM476.3 254.3h0.7v0.7h-0.7zM481.1 251.7h0.7v0.7h-0.7zM479.3 248.6h0.7v0.7h-0.7zM475.3 259.7h0.7v0.7h-0.7zM477.9 255.8h0.7v0.7h-0.7zM478.6 258.3h0.7v0.7h-0.7zM479.3 249.8h0.7v0.7h-0.7zM480.3 256.9h0.7v0.7h-0.7zM476.1 256.0h0.7v0.7h-0.7zM479.0 252.8h0.7v0.7h-0.7zM482.7 256.3h0.7v0.7h-0.7zM480.1 252.2h0.7v0.7h-0.7zM478.2 256.6h0.7v0.7h-0.7zM480.9 250.9h0.7v0.7h-0.7zM480.2 253.0h0.7v0.7h-0.7zM479.9 252.6h0.7v0.7h-0.7zM475.7 245.9h0.7v0.7h-0.7z" fill="#000" fill-opacity="0.22"/>
<path d="M480.7 245.5h0.7v0.7h-0.7zM473.0 258.3h0.7v0.7h-0.7zM481.2 252.1h0.7v0.7h-0.7zM482.4 246.0h0.7v0.7h-0.7zM478.4 256.4h0.7v0.7h-0.7zM481.0 248.9h0.7v0.7h-0.7zM481.9 252.1h0.7v0.7h-0.7zM477.4 253.1h0.7v0.7h-0.7zM475.8 259.3h0.7v0.7h-0.7zM476.1 259.8h0.7v0.7h-0.7zM481.5 249.3h0.7v0.7h-0.7zM478.9 253.2h0.7v0.7h-0.7zM480.9 258.4h0.7v0.7h-0.7zM485.8 253.0h0.7v0.7h-0.7zM475.2 260.2h0.7v0.7h-0.7zM476.4 253.4h0.7v0.7h-0.7zM484.0 251.1h0.7v0.7h-0.7zM479.0 250.3h0.7v0.7h-0.7zM479.7 254.7h0.7v0.7h-0.7zM478.1 255.1h0.7v0.7h-0.7z" fill="#000" fill-opacity="0.22"/>
<path d="M477.5 251.1h0.7v0.7h-0.7zM477.7 260.0h0.7v0.7h-0.7zM478.8 253.1h0.7v0.7h-0.7zM482.0 254.4h0.7v0.7h-0.7zM481.8 254.9h0.7v0.7h-0.7zM481.5 254.6h0.7v0.7h-0.7zM477.8 249.4h0.7v0.7h-0.7zM477.7 259.5h0.7v0.7h-0.7zM483.8 253.6h0.7v0.7h-0.7zM486.3 251.5h0.7v0.7h-0.7zM475.8 255.3h0.7v0.7h-0.7zM474.2 254.6h0.7v0.7h-0.7zM479.1 255.4h0.7v0.7h-0.7zM475.6 253.2h0.7v0.7h-0.7zM481.3 253.6h0.7v0.7h-0.7zM481.4 254.0h0.7v0.7h-0.7zM480.2 252.3h0.7v0.7h-0.7zM475.9 251.3h0.7v0.7h-0.7zM481.1 250.9h0.7v0.7h-0.7zM476.1 246.2h0.7v0.7h-0.7z" fill="#000" fill-opacity="0.22"/>
<path d="M482.4 253.4h0.7v0.7h-0.7zM475.7 256.4h0.7v0.7h-0.7zM480.3 247.9h0.7v0.7h-0.7zM479.0 249.7h0.7v0.7h-0.7zM479.6 249.8h0.7v0.7h-0.7zM478.6 254.5h0.7v0.7h-0.7zM477.8 251.8h0.7v0.7h-0.7zM477.6 255.6h0.7v0.7h-0.7zM476.3 254.8h0.7v0.7h-0.7zM482.2 253.4h0.7v0.7h-0.7z" fill="#000" fill-opacity="0.22"/>
<path d="M474.4 266.8h0.7v0.7h-0.7zM473.0 265.8h0.7v0.7h-0.7zM474.0 267.3h0.7v0.7h-0.7zM475.4 270.1h0.7v0.7h-0.7zM476.2 269.7h0.7v0.7h-0.7zM475.9 269.1h0.7v0.7h-0.7zM474.1 270.6h0.7v0.7h-0.7zM478.1 272.4h0.7v0.7h-0.7zM473.7 269.7h0.7v0.7h-0.7zM473.3 271.0h0.7v0.7h-0.7zM475.6 266.2h0.7v0.7h-0.7zM474.7 267.1h0.7v0.7h-0.7zM476.0 264.2h0.7v0.7h-0.7zM476.1 269.0h0.7v0.7h-0.7zM476.9 267.8h0.7v0.7h-0.7zM476.0 277.2h0.7v0.7h-0.7zM477.7 269.3h0.7v0.7h-0.7zM473.7 270.5h0.7v0.7h-0.7zM476.9 257.4h0.7v0.7h-0.7zM475.7 269.5h0.7v0.7h-0.7z" fill="#000" fill-opacity="0.22"/>
<path d="M476.0 268.4h0.7v0.7h-0.7zM475.7 273.5h0.7v0.7h-0.7zM476.6 266.9h0.7v0.7h-0.7zM475.6 276.3h0.7v0.7h-0.7zM474.5 265.9h0.7v0.7h-0.7zM476.5 268.6h0.7v0.7h-0.7zM476.5 273.4h0.7v0.7h-0.7zM477.9 269.7h0.7v0.7h-0.7zM476.0 267.8h0.7v0.7h-0.7zM475.6 272.0h0.7v0.7h-0.7zM473.9 263.8h0.7v0.7h-0.7zM475.2 264.2h0.7v0.7h-0.7zM474.7 272.8h0.7v0.7h-0.7zM472.2 270.3h0.7v0.7h-0.7zM473.8 267.0h0.7v0.7h-0.7zM475.0 264.0h0.7v0.7h-0.7zM473.5 268.3h0.7v0.7h-0.7zM471.0 259.5h0.7v0.7h-0.7zM475.3 272.4h0.7v0.7h-0.7zM479.1 266.8h0.7v0.7h-0.7z" fill="#000" fill-opacity="0.22"/>
<path d="M474.6 266.9h0.7v0.7h-0.7zM476.8 271.7h0.7v0.7h-0.7zM474.4 269.9h0.7v0.7h-0.7zM475.9 272.6h0.7v0.7h-0.7zM475.3 267.2h0.7v0.7h-0.7zM474.6 262.7h0.7v0.7h-0.7zM476.4 270.8h0.7v0.7h-0.7zM477.9 269.1h0.7v0.7h-0.7zM475.2 264.3h0.7v0.7h-0.7zM474.0 265.1h0.7v0.7h-0.7zM476.5 268.4h0.7v0.7h-0.7zM472.1 267.6h0.7v0.7h-0.7zM475.5 263.8h0.7v0.7h-0.7zM475.9 270.1h0.7v0.7h-0.7zM474.2 262.6h0.7v0.7h-0.7zM475.4 269.1h0.7v0.7h-0.7zM475.5 274.2h0.7v0.7h-0.7zM476.2 264.0h0.7v0.7h-0.7zM477.3 265.4h0.7v0.7h-0.7zM477.1 268.4h0.7v0.7h-0.7z" fill="#000" fill-opacity="0.22"/>
<path d="M478.0 264.0h0.7v0.7h-0.7zM477.2 269.7h0.7v0.7h-0.7zM474.5 270.8h0.7v0.7h-0.7zM479.8 269.4h0.7v0.7h-0.7zM474.7 267.4h0.7v0.7h-0.7zM478.2 269.0h0.7v0.7h-0.7zM478.5 265.4h0.7v0.7h-0.7zM478.2 261.7h0.7v0.7h-0.7zM475.7 266.8h0.7v0.7h-0.7zM475.2 272.9h0.7v0.7h-0.7zM475.0 269.4h0.7v0.7h-0.7zM479.1 271.3h0.7v0.7h-0.7zM475.3 265.1h0.7v0.7h-0.7zM472.6 269.5h0.7v0.7h-0.7zM477.5 272.4h0.7v0.7h-0.7zM476.4 276.6h0.7v0.7h-0.7zM477.3 258.8h0.7v0.7h-0.7zM474.5 271.2h0.7v0.7h-0.7zM475.3 271.4h0.7v0.7h-0.7zM480.3 265.0h0.7v0.7h-0.7z" fill="#000" fill-opacity="0.22"/>
<path d="M479.7 267.7h0.7v0.7h-0.7zM473.5 268.4h0.7v0.7h-0.7zM477.5 265.7h0.7v0.7h-0.7zM478.7 264.5h0.7v0.7h-0.7zM475.7 271.7h0.7v0.7h-0.7zM475.6 265.8h0.7v0.7h-0.7zM476.0 270.6h0.7v0.7h-0.7zM478.9 273.4h0.7v0.7h-0.7zM479.1 267.9h0.7v0.7h-0.7zM473.2 267.8h0.7v0.7h-0.7zM475.3 264.0h0.7v0.7h-0.7zM475.1 267.7h0.7v0.7h-0.7zM476.1 271.7h0.7v0.7h-0.7zM474.4 272.6h0.7v0.7h-0.7zM476.1 270.9h0.7v0.7h-0.7zM478.1 263.0h0.7v0.7h-0.7zM478.7 265.1h0.7v0.7h-0.7zM476.7 272.4h0.7v0.7h-0.7zM477.6 261.7h0.7v0.7h-0.7zM476.3 272.5h0.7v0.7h-0.7z" fill="#000" fill-opacity="0.22"/>
<path d="M476.4 257.3h0.7v0.7h-0.7zM477.3 272.8h0.7v0.7h-0.7zM474.3 249.5h0.7v0.7h-0.7zM471.5 253.2h0.7v0.7h-0.7zM475.8 261.1h0.7v0.7h-0.7zM476.6 242.5h0.7v0.7h-0.7zM469.1 264.1h0.7v0.7h-0.7zM480.6 245.8h0.7v0.7h-0.7zM481.6 236.1h0.7v0.7h-0.7zM488.6 263.3h0.7v0.7h-0.7zM468.7 262.6h0.7v0.7h-0.7zM476.8 253.9h0.7v0.7h-0.7zM475.2 256.0h0.7v0.7h-0.7zM476.5 249.9h0.7v0.7h-0.7zM474.2 263.0h0.7v0.7h-0.7zM479.6 246.0h0.7v0.7h-0.7zM474.5 272.1h0.7v0.7h-0.7zM480.6 272.9h0.7v0.7h-0.7zM470.2 248.6h0.7v0.7h-0.7zM466.2 240.5h0.7v0.7h-0.7z" fill="#000" fill-opacity="0.12"/>
<path d="M475.1 248.5h0.7v0.7h-0.7zM471.6 251.7h0.7v0.7h-0.7zM476.1 265.5h0.7v0.7h-0.7zM479.8 242.2h0.7v0.7h-0.7zM484.4 255.0h0.7v0.7h-0.7zM472.0 257.7h0.7v0.7h-0.7zM475.0 245.5h0.7v0.7h-0.7zM484.8 252.8h0.7v0.7h-0.7zM474.0 262.9h0.7v0.7h-0.7zM485.4 262.4h0.7v0.7h-0.7zM472.5 262.0h0.7v0.7h-0.7zM482.5 261.4h0.7v0.7h-0.7zM480.2 253.7h0.7v0.7h-0.7zM476.6 242.8h0.7v0.7h-0.7zM473.4 247.8h0.7v0.7h-0.7zM477.0 271.5h0.7v0.7h-0.7zM465.7 246.1h0.7v0.7h-0.7zM472.3 257.2h0.7v0.7h-0.7zM482.8 251.0h0.7v0.7h-0.7zM473.1 268.9h0.7v0.7h-0.7z" fill="#000" fill-opacity="0.12"/>
<path d="M478.9 262.8h0.7v0.7h-0.7zM481.2 251.3h0.7v0.7h-0.7zM478.1 252.1h0.7v0.7h-0.7zM473.4 259.2h0.7v0.7h-0.7zM479.2 246.5h0.7v0.7h-0.7zM473.1 263.5h0.7v0.7h-0.7zM477.8 264.0h0.7v0.7h-0.7zM475.4 250.8h0.7v0.7h-0.7zM480.9 263.4h0.7v0.7h-0.7zM462.8 265.8h0.7v0.7h-0.7zM473.2 264.0h0.7v0.7h-0.7zM484.9 255.5h0.7v0.7h-0.7zM472.1 260.3h0.7v0.7h-0.7zM477.4 263.1h0.7v0.7h-0.7zM470.0 260.2h0.7v0.7h-0.7zM481.5 264.3h0.7v0.7h-0.7zM480.1 268.8h0.7v0.7h-0.7zM472.9 269.0h0.7v0.7h-0.7zM478.0 249.0h0.7v0.7h-0.7zM475.5 260.5h0.7v0.7h-0.7z" fill="#000" fill-opacity="0.12"/>
<path d="M478.7 270.2h0.7v0.7h-0.7zM478.0 253.4h0.7v0.7h-0.7zM488.0 255.0h0.7v0.7h-0.7zM472.9 266.4h0.7v0.7h-0.7zM474.9 250.9h0.7v0.7h-0.7zM471.7 268.7h0.7v0.7h-0.7zM471.7 258.9h0.7v0.7h-0.7zM474.7 256.3h0.7v0.7h-0.7zM472.9 259.4h0.7v0.7h-0.7zM480.0 267.5h0.7v0.7h-0.7zM475.2 247.5h0.7v0.7h-0.7zM469.6 258.1h0.7v0.7h-0.7zM464.5 270.0h0.7v0.7h-0.7zM477.1 259.1h0.7v0.7h-0.7zM470.0 252.2h0.7v0.7h-0.7zM473.3 264.1h0.7v0.7h-0.7zM474.9 263.6h0.7v0.7h-0.7zM479.6 240.7h0.7v0.7h-0.7zM475.8 269.4h0.7v0.7h-0.7zM474.4 259.2h0.7v0.7h-0.7z" fill="#000" fill-opacity="0.12"/>
<path d="M476.4 247.0h0.7v0.7h-0.7zM487.9 256.8h0.7v0.7h-0.7zM480.2 254.0h0.7v0.7h-0.7zM484.0 268.4h0.7v0.7h-0.7zM482.9 266.6h0.7v0.7h-0.7zM480.5 270.6h0.7v0.7h-0.7zM479.0 259.3h0.7v0.7h-0.7zM481.1 250.0h0.7v0.7h-0.7zM464.3 265.4h0.7v0.7h-0.7zM477.8 251.7h0.7v0.7h-0.7zM475.7 249.5h0.7v0.7h-0.7zM472.8 259.8h0.7v0.7h-0.7zM477.6 265.6h0.7v0.7h-0.7zM476.5 263.8h0.7v0.7h-0.7zM480.4 251.7h0.7v0.7h-0.7zM468.5 251.9h0.7v0.7h-0.7zM475.7 253.3h0.7v0.7h-0.7zM488.1 251.9h0.7v0.7h-0.7zM479.4 251.2h0.7v0.7h-0.7zM480.5 246.7h0.7v0.7h-0.7z" fill="#000" fill-opacity="0.12"/>
<path d="M481.8 259.7h0.7v0.7h-0.7zM475.0 247.3h0.7v0.7h-0.7zM485.4 252.9h0.7v0.7h-0.7zM484.2 236.4h0.7v0.7h-0.7zM471.0 274.4h0.7v0.7h-0.7zM486.0 258.2h0.7v0.7h-0.7zM482.0 263.6h0.7v0.7h-0.7zM475.2 259.3h0.7v0.7h-0.7zM471.2 246.0h0.7v0.7h-0.7zM477.6 264.7h0.7v0.7h-0.7zM477.8 247.1h0.7v0.7h-0.7zM481.3 258.9h0.7v0.7h-0.7zM480.8 255.5h0.7v0.7h-0.7zM475.7 267.6h0.7v0.7h-0.7zM483.9 247.3h0.7v0.7h-0.7zM471.4 266.8h0.7v0.7h-0.7zM478.8 258.6h0.7v0.7h-0.7zM472.1 267.2h0.7v0.7h-0.7zM477.9 260.1h0.7v0.7h-0.7zM478.9 253.4h0.7v0.7h-0.7z" fill="#000" fill-opacity="0.12"/>
<path d="M479.0 259.3h0.7v0.7h-0.7zM480.6 261.5h0.7v0.7h-0.7zM470.6 251.7h0.7v0.7h-0.7zM475.7 268.6h0.7v0.7h-0.7zM473.7 268.3h0.7v0.7h-0.7zM482.4 266.0h0.7v0.7h-0.7zM488.3 258.0h0.7v0.7h-0.7zM478.6 269.1h0.7v0.7h-0.7zM479.0 267.0h0.7v0.7h-0.7zM476.3 270.8h0.7v0.7h-0.7zM478.8 240.9h0.7v0.7h-0.7zM482.4 256.4h0.7v0.7h-0.7zM472.6 255.4h0.7v0.7h-0.7zM475.6 268.4h0.7v0.7h-0.7zM478.7 257.5h0.7v0.7h-0.7zM476.9 250.1h0.7v0.7h-0.7zM473.8 253.9h0.7v0.7h-0.7zM475.9 247.7h0.7v0.7h-0.7zM475.0 267.1h0.7v0.7h-0.7zM479.3 258.1h0.7v0.7h-0.7z" fill="#000" fill-opacity="0.12"/>
<path d="M478.7 256.0h0.7v0.7h-0.7zM471.0 266.0h0.7v0.7h-0.7zM488.3 262.7h0.7v0.7h-0.7zM480.4 280.2h0.7v0.7h-0.7zM470.9 262.8h0.7v0.7h-0.7zM475.3 255.6h0.7v0.7h-0.7zM468.7 257.4h0.7v0.7h-0.7zM479.0 243.8h0.7v0.7h-0.7zM475.9 253.7h0.7v0.7h-0.7zM472.0 263.8h0.7v0.7h-0.7zM485.2 261.9h0.7v0.7h-0.7zM482.2 264.9h0.7v0.7h-0.7zM476.7 263.3h0.7v0.7h-0.7zM483.7 254.3h0.7v0.7h-0.7zM476.3 245.8h0.7v0.7h-0.7zM467.7 250.8h0.7v0.7h-0.7zM481.5 261.4h0.7v0.7h-0.7zM478.3 269.9h0.7v0.7h-0.7zM468.1 270.5h0.7v0.7h-0.7zM477.4 265.1h0.7v0.7h-0.7z" fill="#000" fill-opacity="0.12"/>
<path d="M483.9 250.9h0.7v0.7h-0.7zM472.6 261.7h0.7v0.7h-0.7zM476.7 252.9h0.7v0.7h-0.7zM476.4 251.6h0.7v0.7h-0.7zM477.7 254.7h0.7v0.7h-0.7zM485.5 248.8h0.7v0.7h-0.7zM479.9 258.8h0.7v0.7h-0.7zM484.9 249.5h0.7v0.7h-0.7zM474.7 273.6h0.7v0.7h-0.7zM473.7 254.7h0.7v0.7h-0.7z" fill="#000" fill-opacity="0.12"/>
<path d="M463.1 240.4h0.7v0.7h-0.7zM479.3 265.2h0.7v0.7h-0.7zM465.5 242.7h0.7v0.7h-0.7zM453.4 256.7h0.7v0.7h-0.7zM461.7 255.6h0.7v0.7h-0.7zM442.8 245.9h0.7v0.7h-0.7zM473.3 254.3h0.7v0.7h-0.7zM438.2 253.1h0.7v0.7h-0.7zM468.3 249.9h0.7v0.7h-0.7zM463.6 245.8h0.7v0.7h-0.7zM468.4 255.2h0.7v0.7h-0.7zM435.2 250.0h0.7v0.7h-0.7zM476.3 248.0h0.7v0.7h-0.7zM479.3 240.9h0.7v0.7h-0.7zM486.2 259.7h0.7v0.7h-0.7zM462.9 277.4h0.7v0.7h-0.7zM481.5 265.8h0.7v0.7h-0.7zM455.0 249.0h0.7v0.7h-0.7zM471.7 260.6h0.7v0.7h-0.7zM467.8 237.3h0.7v0.7h-0.7z" fill="#000" fill-opacity="0.08"/>
<path d="M479.3 248.5h0.7v0.7h-0.7zM471.4 247.0h0.7v0.7h-0.7zM465.9 236.5h0.7v0.7h-0.7zM473.7 243.9h0.7v0.7h-0.7zM449.2 254.2h0.7v0.7h-0.7zM466.7 259.6h0.7v0.7h-0.7zM475.2 238.1h0.7v0.7h-0.7zM465.2 250.1h0.7v0.7h-0.7zM467.9 239.7h0.7v0.7h-0.7zM467.8 259.8h0.7v0.7h-0.7zM479.5 264.6h0.7v0.7h-0.7zM474.6 225.1h0.7v0.7h-0.7zM464.3 244.7h0.7v0.7h-0.7zM437.9 265.4h0.7v0.7h-0.7zM476.2 250.1h0.7v0.7h-0.7zM470.6 254.9h0.7v0.7h-0.7zM464.8 263.7h0.7v0.7h-0.7zM485.3 258.2h0.7v0.7h-0.7zM461.4 252.6h0.7v0.7h-0.7zM476.8 257.2h0.7v0.7h-0.7z" fill="#000" fill-opacity="0.08"/>
<path d="M460.1 259.6h0.7v0.7h-0.7zM474.3 255.9h0.7v0.7h-0.7zM462.8 249.9h0.7v0.7h-0.7zM447.8 249.8h0.7v0.7h-0.7zM462.6 247.2h0.7v0.7h-0.7zM464.2 246.9h0.7v0.7h-0.7zM467.9 251.1h0.7v0.7h-0.7zM460.9 248.8h0.7v0.7h-0.7zM466.1 255.0h0.7v0.7h-0.7zM471.4 246.6h0.7v0.7h-0.7zM458.7 233.9h0.7v0.7h-0.7zM454.4 254.1h0.7v0.7h-0.7zM457.8 266.0h0.7v0.7h-0.7zM465.4 246.3h0.7v0.7h-0.7zM465.4 244.7h0.7v0.7h-0.7zM460.7 250.8h0.7v0.7h-0.7zM452.5 251.4h0.7v0.7h-0.7zM466.1 241.2h0.7v0.7h-0.7zM477.3 253.7h0.7v0.7h-0.7zM477.9 243.5h0.7v0.7h-0.7z" fill="#000" fill-opacity="0.08"/>
<path d="M454.5 238.4h0.7v0.7h-0.7zM451.2 231.4h0.7v0.7h-0.7zM482.7 245.4h0.7v0.7h-0.7zM468.9 244.8h0.7v0.7h-0.7zM465.6 265.7h0.7v0.7h-0.7zM449.6 240.4h0.7v0.7h-0.7zM468.4 241.1h0.7v0.7h-0.7zM473.9 262.9h0.7v0.7h-0.7zM476.0 257.5h0.7v0.7h-0.7zM465.4 260.0h0.7v0.7h-0.7z" fill="#000" fill-opacity="0.08"/>
</g>
<line x1="434.70" y1="213.00" x2="434.70" y2="285.90" stroke="#999" stroke-width="1.0"/>
<line x1="434.70" y1="285.90" x2="507.60" y2="285.90" stroke="#999" stroke-width="1.0"/>
<line x1="432.90" y1="285.90" x2="435.00" y2="285.90" stroke="#555" stroke-width="0.8"/>
<line x1="434.70" y1="285.60" x2="434.70" y2="287.70" stroke="#555" stroke-width="0.8"/>
<line x1="433.60" y1="280.41" x2="435.00" y2="280.41" stroke="#888" stroke-width="0.8"/>
<line x1="440.19" y1="285.60" x2="440.19" y2="287.00" stroke="#888" stroke-width="0.8"/>
<line x1="433.60" y1="277.20" x2="435.00" y2="277.20" stroke="#888" stroke-width="0.8"/>
<line x1="443.40" y1="285.60" x2="443.40" y2="287.00" stroke="#888" stroke-width="0.8"/>
<line x1="433.60" y1="274.93" x2="435.00" y2="274.93" stroke="#888" stroke-width="0.8"/>
<line x1="445.67" y1="285.60" x2="445.67" y2="287.00" stroke="#888" stroke-width="0.8"/>
<line x1="433.60" y1="273.16" x2="435.00" y2="273.16" stroke="#888" stroke-width="0.8"/>
<line x1="447.44" y1="285.60" x2="447.44" y2="287.00" stroke="#888" stroke-width="0.8"/>
<line x1="433.60" y1="271.72" x2="435.00" y2="271.72" stroke="#888" stroke-width="0.8"/>
<line x1="448.88" y1="285.60" x2="448.88" y2="287.00" stroke="#888" stroke-width="0.8"/>
<line x1="433.60" y1="270.50" x2="435.00" y2="270.50" stroke="#888" stroke-width="0.8"/>
<line x1="450.10" y1="285.60" x2="450.10" y2="287.00" stroke="#888" stroke-width="0.8"/>
<line x1="433.60" y1="269.44" x2="435.00" y2="269.44" stroke="#888" stroke-width="0.8"/>
<line x1="451.16" y1="285.60" x2="451.16" y2="287.00" stroke="#888" stroke-width="0.8"/>
<line x1="433.60" y1="268.51" x2="435.00" y2="268.51" stroke="#888" stroke-width="0.8"/>
<line x1="452.09" y1="285.60" x2="452.09" y2="287.00" stroke="#888" stroke-width="0.8"/>
<line x1="432.90" y1="267.67" x2="435.00" y2="267.67" stroke="#555" stroke-width="0.8"/>
<line x1="452.93" y1="285.60" x2="452.93" y2="287.70" stroke="#555" stroke-width="0.8"/>
<line x1="433.60" y1="262.19" x2="435.00" y2="262.19" stroke="#888" stroke-width="0.8"/>
<line x1="458.41" y1="285.60" x2="458.41" y2="287.00" stroke="#888" stroke-width="0.8"/>
<line x1="433.60" y1="258.98" x2="435.00" y2="258.98" stroke="#888" stroke-width="0.8"/>
<line x1="461.62" y1="285.60" x2="461.62" y2="287.00" stroke="#888" stroke-width="0.8"/>
<line x1="433.60" y1="256.70" x2="435.00" y2="256.70" stroke="#888" stroke-width="0.8"/>
<line x1="463.90" y1="285.60" x2="463.90" y2="287.00" stroke="#888" stroke-width="0.8"/>
<line x1="433.60" y1="254.94" x2="435.00" y2="254.94" stroke="#888" stroke-width="0.8"/>
<line x1="465.66" y1="285.60" x2="465.66" y2="287.00" stroke="#888" stroke-width="0.8"/>
<line x1="433.60" y1="253.49" x2="435.00" y2="253.49" stroke="#888" stroke-width="0.8"/>
<line x1="467.11" y1="285.60" x2="467.11" y2="287.00" stroke="#888" stroke-width="0.8"/>
<line x1="433.60" y1="252.27" x2="435.00" y2="252.27" stroke="#888" stroke-width="0.8"/>
<line x1="468.33" y1="285.60" x2="468.33" y2="287.00" stroke="#888" stroke-width="0.8"/>
<line x1="433.60" y1="251.22" x2="435.00" y2="251.22" stroke="#888" stroke-width="0.8"/>
<line x1="469.38" y1="285.60" x2="469.38" y2="287.00" stroke="#888" stroke-width="0.8"/>
<line x1="433.60" y1="250.28" x2="435.00" y2="250.28" stroke="#888" stroke-width="0.8"/>
<line x1="470.32" y1="285.60" x2="470.32" y2="287.00" stroke="#888" stroke-width="0.8"/>
<line x1="432.90" y1="249.45" x2="435.00" y2="249.45" stroke="#555" stroke-width="0.8"/>
<line x1="471.15" y1="285.60" x2="471.15" y2="287.70" stroke="#555" stroke-width="0.8"/>
<line x1="433.60" y1="243.96" x2="435.00" y2="243.96" stroke="#888" stroke-width="0.8"/>
<line x1="476.64" y1="285.60" x2="476.64" y2="287.00" stroke="#888" stroke-width="0.8"/>
<line x1="433.60" y1="240.75" x2="435.00" y2="240.75" stroke="#888" stroke-width="0.8"/>
<line x1="479.85" y1="285.60" x2="479.85" y2="287.00" stroke="#888" stroke-width="0.8"/>
<line x1="433.60" y1="238.48" x2="435.00" y2="238.48" stroke="#888" stroke-width="0.8"/>
<line x1="482.12" y1="285.60" x2="482.12" y2="287.00" stroke="#888" stroke-width="0.8"/>
<line x1="433.60" y1="236.71" x2="435.00" y2="236.71" stroke="#888" stroke-width="0.8"/>
<line x1="483.89" y1="285.60" x2="483.89" y2="287.00" stroke="#888" stroke-width="0.8"/>
<line x1="433.60" y1="235.27" x2="435.00" y2="235.27" stroke="#888" stroke-width="0.8"/>
<line x1="485.33" y1="285.60" x2="485.33" y2="287.00" stroke="#888" stroke-width="0.8"/>
<line x1="433.60" y1="234.05" x2="435.00" y2="234.05" stroke="#888" stroke-width="0.8"/>
<line x1="486.55" y1="285.60" x2="486.55" y2="287.00" stroke="#888" stroke-width="0.8"/>
<line x1="433.60" y1="232.99" x2="435.00" y2="232.99" stroke="#888" stroke-width="0.8"/>
<line x1="487.61" y1="285.60" x2="487.61" y2="287.00" stroke="#888" stroke-width="0.8"/>
<line x1="433.60" y1="232.06" x2="435.00" y2="232.06" stroke="#888" stroke-width="0.8"/>
<line x1="488.54" y1="285.60" x2="488.54" y2="287.00" stroke="#888" stroke-width="0.8"/>
<line x1="432.90" y1="231.22" x2="435.00" y2="231.22" stroke="#555" stroke-width="0.8"/>
<line x1="489.38" y1="285.60" x2="489.38" y2="287.70" stroke="#555" stroke-width="0.8"/>
<line x1="433.60" y1="225.74" x2="435.00" y2="225.74" stroke="#888" stroke-width="0.8"/>
<line x1="494.86" y1="285.60" x2="494.86" y2="287.00" stroke="#888" stroke-width="0.8"/>
<line x1="433.60" y1="222.53" x2="435.00" y2="222.53" stroke="#888" stroke-width="0.8"/>
<line x1="498.07" y1="285.60" x2="498.07" y2="287.00" stroke="#888" stroke-width="0.8"/>
<line x1="433.60" y1="220.25" x2="435.00" y2="220.25" stroke="#888" stroke-width="0.8"/>
<line x1="500.35" y1="285.60" x2="500.35" y2="287.00" stroke="#888" stroke-width="0.8"/>
<line x1="433.60" y1="218.49" x2="435.00" y2="218.49" stroke="#888" stroke-width="0.8"/>
<line x1="502.11" y1="285.60" x2="502.11" y2="287.00" stroke="#888" stroke-width="0.8"/>
<line x1="433.60" y1="217.04" x2="435.00" y2="217.04" stroke="#888" stroke-width="0.8"/>
<line x1="503.56" y1="285.60" x2="503.56" y2="287.00" stroke="#888" stroke-width="0.8"/>
<line x1="433.60" y1="215.82" x2="435.00" y2="215.82" stroke="#888" stroke-width="0.8"/>
<line x1="504.78" y1="285.60" x2="504.78" y2="287.00" stroke="#888" stroke-width="0.8"/>
<line x1="433.60" y1="214.77" x2="435.00" y2="214.77" stroke="#888" stroke-width="0.8"/>
<line x1="505.83" y1="285.60" x2="505.83" y2="287.00" stroke="#888" stroke-width="0.8"/>
<line x1="433.60" y1="213.83" x2="435.00" y2="213.83" stroke="#888" stroke-width="0.8"/>
<line x1="506.77" y1="285.60" x2="506.77" y2="287.00" stroke="#888" stroke-width="0.8"/>
<line x1="432.90" y1="213.00" x2="434.70" y2="213.00" stroke="#555" stroke-width="0.8"/>
<line x1="507.60" y1="285.90" x2="507.60" y2="287.70" stroke="#555" stroke-width="0.8"/>
<line x1="453.50" y1="213.00" x2="453.50" y2="285.90" stroke="#707070" stroke-width="1.0"/>
<line x1="434.70" y1="261.50" x2="507.60" y2="261.50" stroke="#707070" stroke-width="1.0"/>
<text x="419.09" y="214.20" font-size="6.57" textLength="7.49" lengthAdjust="spacingAndGlyphs" fill="#1c1c1c" stroke="#1c1c1c" stroke-width="0.18">10</text>
<text x="426.80" y="211.10" font-size="4.57" textLength="2.84" lengthAdjust="spacingAndGlyphs" fill="#1c1c1c" stroke="#1c1c1c" stroke-width="0.18">3</text>
<text x="419.09" y="231.10" font-size="6.57" textLength="7.49" lengthAdjust="spacingAndGlyphs" fill="#1c1c1c" stroke="#1c1c1c" stroke-width="0.18">10</text>
<text x="426.74" y="228.00" font-size="4.57" textLength="2.93" lengthAdjust="spacingAndGlyphs" fill="#1c1c1c" stroke="#1c1c1c" stroke-width="0.18">2</text>
<text x="419.09" y="247.20" font-size="6.57" textLength="7.49" lengthAdjust="spacingAndGlyphs" fill="#1c1c1c" stroke="#1c1c1c" stroke-width="0.18">10</text>
<text x="426.58" y="244.10" font-size="4.64" textLength="3.10" lengthAdjust="spacingAndGlyphs" fill="#1c1c1c" stroke="#1c1c1c" stroke-width="0.18">1</text>
<text x="419.09" y="263.90" font-size="6.57" textLength="7.49" lengthAdjust="spacingAndGlyphs" fill="#1c1c1c" stroke="#1c1c1c" stroke-width="0.18">10</text>
<text x="426.80" y="260.80" font-size="4.57" textLength="2.81" lengthAdjust="spacingAndGlyphs" fill="#1c1c1c" stroke="#1c1c1c" stroke-width="0.18">0</text>
<text x="418.49" y="279.50" font-size="6.57" textLength="7.49" lengthAdjust="spacingAndGlyphs" fill="#1c1c1c" stroke="#1c1c1c" stroke-width="0.18">10</text>
<text x="426.23" y="276.40" font-size="4.64" textLength="3.36" lengthAdjust="spacingAndGlyphs" fill="#1c1c1c" stroke="#1c1c1c" stroke-width="0.18">-1</text>
<text x="429.89" y="297.60" font-size="6.71" textLength="7.60" lengthAdjust="spacingAndGlyphs" fill="#1c1c1c" stroke="#1c1c1c" stroke-width="0.18">10</text>
<text x="437.62" y="294.70" font-size="4.49" textLength="3.50" lengthAdjust="spacingAndGlyphs" fill="#1c1c1c" stroke="#1c1c1c" stroke-width="0.18">-1</text>
<text x="447.79" y="297.60" font-size="6.71" textLength="7.60" lengthAdjust="spacingAndGlyphs" fill="#1c1c1c" stroke="#1c1c1c" stroke-width="0.18">10</text>
<text x="455.49" y="294.70" font-size="4.43" textLength="2.93" lengthAdjust="spacingAndGlyphs" fill="#1c1c1c" stroke="#1c1c1c" stroke-width="0.18">0</text>
<text x="465.69" y="297.60" font-size="6.71" textLength="7.60" lengthAdjust="spacingAndGlyphs" fill="#1c1c1c" stroke="#1c1c1c" stroke-width="0.18">10</text>
<text x="473.16" y="294.70" font-size="4.49" textLength="3.23" lengthAdjust="spacingAndGlyphs" fill="#1c1c1c" stroke="#1c1c1c" stroke-width="0.18">1</text>
<text x="483.59" y="297.60" font-size="6.71" textLength="7.60" lengthAdjust="spacingAndGlyphs" fill="#1c1c1c" stroke="#1c1c1c" stroke-width="0.18">10</text>
<text x="491.23" y="294.70" font-size="4.43" textLength="3.06" lengthAdjust="spacingAndGlyphs" fill="#1c1c1c" stroke="#1c1c1c" stroke-width="0.18">2</text>
<text x="501.49" y="297.60" font-size="6.71" textLength="7.60" lengthAdjust="spacingAndGlyphs" fill="#1c1c1c" stroke="#1c1c1c" stroke-width="0.18">10</text>
<text x="509.19" y="294.70" font-size="4.43" textLength="2.96" lengthAdjust="spacingAndGlyphs" fill="#1c1c1c" stroke="#1c1c1c" stroke-width="0.18">3</text>
<rect x="434.7" y="318.5" width="72.2" height="72.3" fill="none" stroke="#c8c8c8" stroke-width="0.9"/>
<g filter="url(#bl)">
<path d="M471.2 362.7h0.7v0.7h-0.7zM472.3 365.3h0.7v0.7h-0.7zM475.3 363.3h0.7v0.7h-0.7zM475.1 363.9h0.7v0.7h-0.7zM470.3 361.3h0.7v0.7h-0.7zM472.7 362.0h0.7v0.7h-0.7zM473.2 366.2h0.7v0.7h-0.7zM472.0 360.7h0.7v0.7h-0.7zM471.8 367.3h0.7v0.7h-0.7zM469.2 367.9h0.7v0.7h-0.7zM472.8 364.5h0.7v0.7h-0.7zM473.2 367.8h0.7v0.7h-0.7zM472.8 363.9h0.7v0.7h-0.7zM474.4 364.1h0.7v0.7h-0.7zM473.5 368.7h0.7v0.7h-0.7zM475.4 370.4h0.7v0.7h-0.7zM474.9 366.4h0.7v0.7h-0.7zM472.4 366.5h0.7v0.7h-0.7zM473.9 374.3h0.7v0.7h-0.7zM474.1 363.7h0.7v0.7h-0.7z" fill="#000" fill-opacity="0.38"/>
<path d="M475.9 361.6h0.7v0.7h-0.7zM474.8 362.5h0.7v0.7h-0.7zM470.6 364.6h0.7v0.7h-0.7zM472.2 362.3h0.7v0.7h-0.7zM474.0 365.7h0.7v0.7h-0.7zM475.5 363.2h0.7v0.7h-0.7zM469.2 367.9h0.7v0.7h-0.7zM472.3 368.7h0.7v0.7h-0.7zM468.1 362.6h0.7v0.7h-0.7zM473.0 371.4h0.7v0.7h-0.7zM470.3 360.7h0.7v0.7h-0.7zM471.9 369.9h0.7v0.7h-0.7zM476.0 362.3h0.7v0.7h-0.7zM471.6 360.9h0.7v0.7h-0.7zM471.1 363.4h0.7v0.7h-0.7zM473.7 369.2h0.7v0.7h-0.7zM477.6 365.0h0.7v0.7h-0.7zM474.4 366.6h0.7v0.7h-0.7zM473.1 371.4h0.7v0.7h-0.7zM474.2 370.3h0.7v0.7h-0.7z" fill="#000" fill-opacity="0.38"/>
<path d="M473.4 368.4h0.7v0.7h-0.7zM473.8 365.8h0.7v0.7h-0.7zM471.4 364.9h0.7v0.7h-0.7zM472.8 365.0h0.7v0.7h-0.7zM472.1 364.1h0.7v0.7h-0.7zM474.5 365.3h0.7v0.7h-0.7zM472.6 365.4h0.7v0.7h-0.7zM475.4 364.5h0.7v0.7h-0.7zM475.6 363.6h0.7v0.7h-0.7zM475.9 367.7h0.7v0.7h-0.7zM471.8 367.3h0.7v0.7h-0.7zM475.1 363.4h0.7v0.7h-0.7zM472.3 366.9h0.7v0.7h-0.7zM472.4 365.2h0.7v0.7h-0.7zM472.8 366.9h0.7v0.7h-0.7zM474.4 370.1h0.7v0.7h-0.7zM472.2 374.1h0.7v0.7h-0.7zM472.1 370.9h0.7v0.7h-0.7zM472.5 362.0h0.7v0.7h-0.7zM471.9 365.1h0.7v0.7h-0.7z" fill="#000" fill-opacity="0.38"/>
<path d="M474.9 360.4h0.7v0.7h-0.7zM471.5 365.6h0.7v0.7h-0.7zM474.1 367.1h0.7v0.7h-0.7zM474.5 365.6h0.7v0.7h-0.7zM472.3 369.4h0.7v0.7h-0.7zM476.2 367.1h0.7v0.7h-0.7zM473.1 363.6h0.7v0.7h-0.7zM477.0 367.1h0.7v0.7h-0.7zM474.0 361.6h0.7v0.7h-0.7zM474.0 372.7h0.7v0.7h-0.7zM472.5 365.4h0.7v0.7h-0.7zM475.9 365.5h0.7v0.7h-0.7zM474.5 371.4h0.7v0.7h-0.7zM470.5 363.7h0.7v0.7h-0.7zM474.2 366.3h0.7v0.7h-0.7zM472.9 365.6h0.7v0.7h-0.7zM473.1 367.0h0.7v0.7h-0.7zM471.9 365.2h0.7v0.7h-0.7zM473.3 363.0h0.7v0.7h-0.7zM473.7 359.9h0.7v0.7h-0.7z" fill="#000" fill-opacity="0.38"/>
<path d="M474.1 365.7h0.7v0.7h-0.7zM470.5 369.7h0.7v0.7h-0.7zM470.5 371.7h0.7v0.7h-0.7zM471.4 369.4h0.7v0.7h-0.7zM472.7 370.5h0.7v0.7h-0.7zM472.4 368.9h0.7v0.7h-0.7zM472.2 360.8h0.7v0.7h-0.7zM473.6 367.3h0.7v0.7h-0.7zM473.6 370.6h0.7v0.7h-0.7zM471.3 362.0h0.7v0.7h-0.7zM473.3 364.1h0.7v0.7h-0.7zM472.6 366.0h0.7v0.7h-0.7zM471.2 369.0h0.7v0.7h-0.7zM472.6 371.0h0.7v0.7h-0.7zM473.3 368.9h0.7v0.7h-0.7zM472.2 364.2h0.7v0.7h-0.7zM471.8 363.6h0.7v0.7h-0.7zM473.7 366.4h0.7v0.7h-0.7zM470.7 361.7h0.7v0.7h-0.7zM471.1 361.0h0.7v0.7h-0.7z" fill="#000" fill-opacity="0.38"/>
<path d="M471.0 361.8h0.7v0.7h-0.7zM474.2 362.8h0.7v0.7h-0.7zM471.6 365.7h0.7v0.7h-0.7zM472.9 367.2h0.7v0.7h-0.7zM474.3 367.8h0.7v0.7h-0.7zM472.1 369.5h0.7v0.7h-0.7zM473.5 364.0h0.7v0.7h-0.7zM475.8 362.7h0.7v0.7h-0.7zM473.8 369.5h0.7v0.7h-0.7zM473.0 367.0h0.7v0.7h-0.7zM473.1 367.9h0.7v0.7h-0.7zM473.3 366.0h0.7v0.7h-0.7zM474.2 360.8h0.7v0.7h-0.7zM473.3 365.2h0.7v0.7h-0.7zM476.7 366.8h0.7v0.7h-0.7zM471.5 367.8h0.7v0.7h-0.7zM472.0 362.7h0.7v0.7h-0.7zM472.3 367.4h0.7v0.7h-0.7zM475.2 368.9h0.7v0.7h-0.7zM473.3 365.6h0.7v0.7h-0.7z" fill="#000" fill-opacity="0.38"/>
<path d="M473.2 369.4h0.7v0.7h-0.7zM472.6 369.2h0.7v0.7h-0.7zM471.2 366.0h0.7v0.7h-0.7zM474.3 368.0h0.7v0.7h-0.7zM473.2 364.6h0.7v0.7h-0.7zM469.3 364.8h0.7v0.7h-0.7zM471.1 364.9h0.7v0.7h-0.7zM475.9 363.9h0.7v0.7h-0.7zM474.5 366.0h0.7v0.7h-0.7zM470.6 366.3h0.7v0.7h-0.7zM474.3 362.7h0.7v0.7h-0.7zM470.5 365.0h0.7v0.7h-0.7zM474.2 364.3h0.7v0.7h-0.7zM473.6 367.3h0.7v0.7h-0.7zM472.8 367.3h0.7v0.7h-0.7zM475.3 365.5h0.7v0.7h-0.7zM473.5 363.1h0.7v0.7h-0.7zM471.4 365.7h0.7v0.7h-0.7zM474.4 364.1h0.7v0.7h-0.7zM470.1 368.6h0.7v0.7h-0.7z" fill="#000" fill-opacity="0.38"/>
<path d="M477.5 358.9h0.7v0.7h-0.7zM470.7 366.3h0.7v0.7h-0.7zM473.8 363.4h0.7v0.7h-0.7zM473.5 369.1h0.7v0.7h-0.7zM472.3 368.0h0.7v0.7h-0.7zM473.1 363.4h0.7v0.7h-0.7zM471.6 364.3h0.7v0.7h-0.7zM475.4 369.2h0.7v0.7h-0.7zM473.3 361.7h0.7v0.7h-0.7zM471.8 364.9h0.7v0.7h-0.7zM469.0 366.0h0.7v0.7h-0.7zM473.4 362.3h0.7v0.7h-0.7zM472.0 364.7h0.7v0.7h-0.7zM476.4 367.8h0.7v0.7h-0.7zM474.3 366.2h0.7v0.7h-0.7zM470.3 368.6h0.7v0.7h-0.7zM471.5 360.7h0.7v0.7h-0.7zM474.2 365.0h0.7v0.7h-0.7zM472.8 367.4h0.7v0.7h-0.7zM472.4 367.1h0.7v0.7h-0.7z" fill="#000" fill-opacity="0.38"/>
<path d="M475.3 365.1h0.7v0.7h-0.7zM472.1 366.1h0.7v0.7h-0.7zM474.1 364.9h0.7v0.7h-0.7zM473.0 364.1h0.7v0.7h-0.7zM472.7 367.5h0.7v0.7h-0.7zM471.2 365.5h0.7v0.7h-0.7zM469.9 364.1h0.7v0.7h-0.7zM473.0 367.5h0.7v0.7h-0.7zM470.8 365.7h0.7v0.7h-0.7zM471.0 366.9h0.7v0.7h-0.7zM473.3 367.2h0.7v0.7h-0.7zM472.4 362.1h0.7v0.7h-0.7zM471.7 362.3h0.7v0.7h-0.7zM471.5 365.8h0.7v0.7h-0.7zM474.9 364.2h0.7v0.7h-0.7zM471.3 366.6h0.7v0.7h-0.7zM468.8 371.5h0.7v0.7h-0.7zM469.8 368.8h0.7v0.7h-0.7zM474.7 368.7h0.7v0.7h-0.7zM472.6 368.0h0.7v0.7h-0.7z" fill="#000" fill-opacity="0.38"/>
<path d="M472.1 368.7h0.7v0.7h-0.7zM471.5 363.8h0.7v0.7h-0.7zM473.5 364.8h0.7v0.7h-0.7zM474.1 363.6h0.7v0.7h-0.7zM473.3 363.3h0.7v0.7h-0.7zM472.6 371.9h0.7v0.7h-0.7zM470.7 362.6h0.7v0.7h-0.7zM469.7 365.4h0.7v0.7h-0.7zM476.0 364.8h0.7v0.7h-0.7zM474.6 365.5h0.7v0.7h-0.7zM471.6 371.5h0.7v0.7h-0.7zM474.9 360.9h0.7v0.7h-0.7zM470.9 367.1h0.7v0.7h-0.7zM474.1 365.4h0.7v0.7h-0.7zM473.4 367.5h0.7v0.7h-0.7zM472.1 368.8h0.7v0.7h-0.7zM471.2 368.1h0.7v0.7h-0.7zM474.6 366.6h0.7v0.7h-0.7zM472.1 366.0h0.7v0.7h-0.7zM468.5 366.7h0.7v0.7h-0.7z" fill="#000" fill-opacity="0.38"/>
<path d="M470.0 360.4h0.7v0.7h-0.7zM474.3 363.5h0.7v0.7h-0.7zM473.5 366.1h0.7v0.7h-0.7zM469.4 363.5h0.7v0.7h-0.7zM472.3 367.3h0.7v0.7h-0.7zM472.9 362.5h0.7v0.7h-0.7zM471.8 366.3h0.7v0.7h-0.7zM470.3 364.8h0.7v0.7h-0.7zM471.7 360.1h0.7v0.7h-0.7zM476.2 368.4h0.7v0.7h-0.7zM471.9 368.6h0.7v0.7h-0.7zM470.8 370.2h0.7v0.7h-0.7zM472.1 366.4h0.7v0.7h-0.7zM471.7 366.3h0.7v0.7h-0.7zM473.4 366.1h0.7v0.7h-0.7zM471.2 368.1h0.7v0.7h-0.7zM473.9 366.0h0.7v0.7h-0.7zM474.8 364.0h0.7v0.7h-0.7zM475.3 365.6h0.7v0.7h-0.7zM475.7 364.8h0.7v0.7h-0.7z" fill="#000" fill-opacity="0.38"/>
<path d="M472.3 366.6h0.7v0.7h-0.7zM474.9 370.0h0.7v0.7h-0.7zM471.9 364.0h0.7v0.7h-0.7zM474.3 369.4h0.7v0.7h-0.7zM474.2 365.1h0.7v0.7h-0.7zM475.3 365.9h0.7v0.7h-0.7zM473.1 367.7h0.7v0.7h-0.7zM471.7 359.8h0.7v0.7h-0.7zM473.2 368.0h0.7v0.7h-0.7zM473.7 367.5h0.7v0.7h-0.7zM473.1 368.9h0.7v0.7h-0.7zM473.0 370.1h0.7v0.7h-0.7zM472.9 368.2h0.7v0.7h-0.7zM471.7 366.8h0.7v0.7h-0.7zM473.6 366.4h0.7v0.7h-0.7zM475.8 366.1h0.7v0.7h-0.7zM475.0 367.0h0.7v0.7h-0.7zM474.9 363.5h0.7v0.7h-0.7zM472.1 368.7h0.7v0.7h-0.7zM471.2 367.1h0.7v0.7h-0.7z" fill="#000" fill-opacity="0.38"/>
<path d="M473.9 366.5h0.7v0.7h-0.7zM473.6 367.5h0.7v0.7h-0.7zM472.3 367.1h0.7v0.7h-0.7zM471.8 364.8h0.7v0.7h-0.7zM469.7 365.7h0.7v0.7h-0.7zM469.5 366.1h0.7v0.7h-0.7zM473.2 363.0h0.7v0.7h-0.7zM472.9 366.8h0.7v0.7h-0.7zM472.1 363.5h0.7v0.7h-0.7zM472.6 367.1h0.7v0.7h-0.7zM474.6 371.3h0.7v0.7h-0.7zM469.0 366.9h0.7v0.7h-0.7zM473.6 364.2h0.7v0.7h-0.7zM473.4 371.8h0.7v0.7h-0.7zM473.0 369.8h0.7v0.7h-0.7zM474.9 364.8h0.7v0.7h-0.7zM468.3 369.2h0.7v0.7h-0.7zM475.8 361.1h0.7v0.7h-0.7zM472.4 364.1h0.7v0.7h-0.7zM473.2 366.2h0.7v0.7h-0.7z" fill="#000" fill-opacity="0.38"/>
<path d="M475.0 364.4h0.7v0.7h-0.7zM476.5 361.3h0.7v0.7h-0.7zM473.2 373.4h0.7v0.7h-0.7zM472.6 367.7h0.7v0.7h-0.7zM471.9 375.1h0.7v0.7h-0.7zM474.5 365.0h0.7v0.7h-0.7zM469.1 366.6h0.7v0.7h-0.7zM474.2 360.4h0.7v0.7h-0.7zM471.9 367.5h0.7v0.7h-0.7zM468.2 365.5h0.7v0.7h-0.7zM469.7 362.3h0.7v0.7h-0.7zM473.6 369.1h0.7v0.7h-0.7zM475.1 364.2h0.7v0.7h-0.7zM473.8 361.1h0.7v0.7h-0.7zM469.9 367.5h0.7v0.7h-0.7zM472.0 363.2h0.7v0.7h-0.7zM469.2 365.4h0.7v0.7h-0.7zM477.1 360.4h0.7v0.7h-0.7zM470.8 369.1h0.7v0.7h-0.7zM469.1 364.3h0.7v0.7h-0.7z" fill="#000" fill-opacity="0.38"/>
<path d="M472.9 369.1h0.7v0.7h-0.7zM472.7 371.0h0.7v0.7h-0.7zM472.7 365.7h0.7v0.7h-0.7zM473.7 367.0h0.7v0.7h-0.7zM469.9 363.4h0.7v0.7h-0.7zM472.3 366.9h0.7v0.7h-0.7zM470.4 364.0h0.7v0.7h-0.7zM471.4 366.9h0.7v0.7h-0.7zM472.0 367.7h0.7v0.7h-0.7zM473.6 363.5h0.7v0.7h-0.7zM472.2 362.6h0.7v0.7h-0.7zM473.0 368.2h0.7v0.7h-0.7zM470.9 361.1h0.7v0.7h-0.7zM473.8 365.2h0.7v0.7h-0.7zM472.7 367.3h0.7v0.7h-0.7zM473.5 368.6h0.7v0.7h-0.7zM471.9 359.9h0.7v0.7h-0.7zM471.9 365.2h0.7v0.7h-0.7zM472.0 367.1h0.7v0.7h-0.7zM472.3 369.6h0.7v0.7h-0.7z" fill="#000" fill-opacity="0.38"/>
<path d="M471.6 366.0h0.7v0.7h-0.7zM472.1 371.9h0.7v0.7h-0.7zM470.9 363.2h0.7v0.7h-0.7zM472.1 368.1h0.7v0.7h-0.7zM472.8 365.5h0.7v0.7h-0.7zM470.0 360.2h0.7v0.7h-0.7zM472.4 365.3h0.7v0.7h-0.7zM476.2 367.0h0.7v0.7h-0.7zM473.6 368.7h0.7v0.7h-0.7zM471.1 362.6h0.7v0.7h-0.7zM472.1 370.1h0.7v0.7h-0.7zM474.7 364.4h0.7v0.7h-0.7zM470.4 368.6h0.7v0.7h-0.7zM474.9 362.9h0.7v0.7h-0.7zM475.9 363.8h0.7v0.7h-0.7zM474.3 365.4h0.7v0.7h-0.7zM472.2 364.3h0.7v0.7h-0.7zM474.2 367.7h0.7v0.7h-0.7zM474.4 365.2h0.7v0.7h-0.7zM471.1 372.0h0.7v0.7h-0.7z" fill="#000" fill-opacity="0.38"/>
<path d="M482.1 359.5h0.7v0.7h-0.7zM472.8 362.3h0.7v0.7h-0.7zM477.8 358.8h0.7v0.7h-0.7zM479.3 360.4h0.7v0.7h-0.7zM475.4 365.1h0.7v0.7h-0.7zM471.9 358.8h0.7v0.7h-0.7zM474.9 357.8h0.7v0.7h-0.7zM476.7 359.2h0.7v0.7h-0.7zM470.5 358.5h0.7v0.7h-0.7zM484.0 359.3h0.7v0.7h-0.7zM479.1 361.4h0.7v0.7h-0.7zM478.9 357.1h0.7v0.7h-0.7zM478.8 360.0h0.7v0.7h-0.7zM480.2 362.6h0.7v0.7h-0.7zM479.1 348.3h0.7v0.7h-0.7zM480.8 361.5h0.7v0.7h-0.7zM478.7 356.7h0.7v0.7h-0.7zM482.4 365.2h0.7v0.7h-0.7zM478.2 357.4h0.7v0.7h-0.7zM477.4 363.5h0.7v0.7h-0.7z" fill="#000" fill-opacity="0.2"/>
<path d="M477.7 362.1h0.7v0.7h-0.7zM477.8 359.9h0.7v0.7h-0.7zM474.1 357.7h0.7v0.7h-0.7zM477.7 358.3h0.7v0.7h-0.7zM476.5 359.3h0.7v0.7h-0.7zM476.2 357.3h0.7v0.7h-0.7zM471.4 364.8h0.7v0.7h-0.7zM476.6 353.7h0.7v0.7h-0.7zM476.6 356.6h0.7v0.7h-0.7zM477.6 349.5h0.7v0.7h-0.7zM480.5 363.4h0.7v0.7h-0.7zM475.9 360.0h0.7v0.7h-0.7zM476.6 352.1h0.7v0.7h-0.7zM477.7 360.7h0.7v0.7h-0.7zM475.7 357.8h0.7v0.7h-0.7zM469.7 355.2h0.7v0.7h-0.7zM480.0 360.1h0.7v0.7h-0.7zM477.3 360.6h0.7v0.7h-0.7zM473.6 352.3h0.7v0.7h-0.7zM473.9 358.1h0.7v0.7h-0.7z" fill="#000" fill-opacity="0.2"/>
<path d="M478.1 351.7h0.7v0.7h-0.7zM480.0 358.7h0.7v0.7h-0.7zM477.7 366.0h0.7v0.7h-0.7zM474.7 352.8h0.7v0.7h-0.7zM478.6 364.1h0.7v0.7h-0.7zM478.1 360.1h0.7v0.7h-0.7zM478.5 361.3h0.7v0.7h-0.7zM473.3 359.7h0.7v0.7h-0.7zM480.6 358.1h0.7v0.7h-0.7zM475.7 356.0h0.7v0.7h-0.7zM475.3 359.7h0.7v0.7h-0.7zM479.5 359.3h0.7v0.7h-0.7zM478.8 352.4h0.7v0.7h-0.7zM477.6 354.8h0.7v0.7h-0.7zM475.6 359.1h0.7v0.7h-0.7zM473.7 370.1h0.7v0.7h-0.7zM475.9 355.9h0.7v0.7h-0.7zM474.8 356.6h0.7v0.7h-0.7zM475.6 361.5h0.7v0.7h-0.7zM471.3 359.6h0.7v0.7h-0.7z" fill="#000" fill-opacity="0.2"/>
<path d="M479.8 357.4h0.7v0.7h-0.7zM475.5 358.5h0.7v0.7h-0.7zM479.1 358.5h0.7v0.7h-0.7zM477.1 358.4h0.7v0.7h-0.7zM474.3 358.4h0.7v0.7h-0.7zM478.9 359.2h0.7v0.7h-0.7zM474.5 357.4h0.7v0.7h-0.7zM476.8 359.4h0.7v0.7h-0.7zM475.4 360.8h0.7v0.7h-0.7zM479.3 362.2h0.7v0.7h-0.7zM476.7 362.7h0.7v0.7h-0.7zM477.6 357.9h0.7v0.7h-0.7zM473.7 357.2h0.7v0.7h-0.7zM481.8 356.5h0.7v0.7h-0.7zM481.0 355.1h0.7v0.7h-0.7zM476.1 364.7h0.7v0.7h-0.7zM479.0 354.7h0.7v0.7h-0.7zM478.4 358.3h0.7v0.7h-0.7zM480.2 357.6h0.7v0.7h-0.7zM473.5 355.3h0.7v0.7h-0.7z" fill="#000" fill-opacity="0.2"/>
<path d="M477.8 362.4h0.7v0.7h-0.7zM478.2 358.8h0.7v0.7h-0.7zM479.5 358.5h0.7v0.7h-0.7zM476.0 358.8h0.7v0.7h-0.7zM480.9 357.9h0.7v0.7h-0.7zM479.5 356.9h0.7v0.7h-0.7zM475.4 358.4h0.7v0.7h-0.7zM475.0 354.5h0.7v0.7h-0.7zM475.1 355.4h0.7v0.7h-0.7zM472.4 365.2h0.7v0.7h-0.7zM479.0 359.3h0.7v0.7h-0.7zM476.8 349.6h0.7v0.7h-0.7zM479.4 356.9h0.7v0.7h-0.7zM480.7 358.2h0.7v0.7h-0.7zM474.8 355.2h0.7v0.7h-0.7zM475.2 352.5h0.7v0.7h-0.7zM480.0 357.5h0.7v0.7h-0.7zM479.9 357.4h0.7v0.7h-0.7zM477.5 356.5h0.7v0.7h-0.7zM476.8 355.9h0.7v0.7h-0.7z" fill="#000" fill-opacity="0.2"/>
<path d="M481.4 359.7h0.7v0.7h-0.7zM470.4 362.1h0.7v0.7h-0.7zM479.4 363.3h0.7v0.7h-0.7zM477.4 357.9h0.7v0.7h-0.7zM476.1 358.4h0.7v0.7h-0.7zM478.7 358.9h0.7v0.7h-0.7zM476.5 354.6h0.7v0.7h-0.7zM479.9 365.5h0.7v0.7h-0.7zM475.0 355.3h0.7v0.7h-0.7zM476.7 360.3h0.7v0.7h-0.7zM476.9 359.2h0.7v0.7h-0.7zM477.1 362.5h0.7v0.7h-0.7zM472.8 360.8h0.7v0.7h-0.7zM478.0 360.6h0.7v0.7h-0.7zM473.8 356.3h0.7v0.7h-0.7zM476.0 360.3h0.7v0.7h-0.7zM478.5 361.4h0.7v0.7h-0.7zM472.6 361.3h0.7v0.7h-0.7zM476.6 361.5h0.7v0.7h-0.7zM478.3 356.2h0.7v0.7h-0.7z" fill="#000" fill-opacity="0.2"/>
<path d="M483.6 363.1h0.7v0.7h-0.7zM480.0 357.8h0.7v0.7h-0.7zM475.6 361.9h0.7v0.7h-0.7zM476.6 364.5h0.7v0.7h-0.7zM481.9 356.2h0.7v0.7h-0.7zM472.1 360.7h0.7v0.7h-0.7zM479.3 358.2h0.7v0.7h-0.7zM477.3 356.4h0.7v0.7h-0.7zM482.4 359.7h0.7v0.7h-0.7zM472.8 360.1h0.7v0.7h-0.7zM476.8 359.6h0.7v0.7h-0.7zM476.5 358.0h0.7v0.7h-0.7zM471.9 358.4h0.7v0.7h-0.7zM476.1 356.6h0.7v0.7h-0.7zM476.8 362.9h0.7v0.7h-0.7zM472.0 356.0h0.7v0.7h-0.7zM477.7 362.3h0.7v0.7h-0.7zM474.7 358.7h0.7v0.7h-0.7zM477.4 361.8h0.7v0.7h-0.7zM476.0 357.3h0.7v0.7h-0.7z" fill="#000" fill-opacity="0.2"/>
<path d="M474.8 361.6h0.7v0.7h-0.7zM480.8 358.1h0.7v0.7h-0.7zM476.8 359.1h0.7v0.7h-0.7zM475.2 357.3h0.7v0.7h-0.7zM478.8 361.8h0.7v0.7h-0.7zM476.4 355.8h0.7v0.7h-0.7zM478.8 353.7h0.7v0.7h-0.7zM478.1 359.2h0.7v0.7h-0.7zM474.2 356.5h0.7v0.7h-0.7zM476.0 357.0h0.7v0.7h-0.7zM473.6 362.0h0.7v0.7h-0.7zM474.0 360.0h0.7v0.7h-0.7zM476.3 363.3h0.7v0.7h-0.7zM477.3 358.5h0.7v0.7h-0.7zM479.8 352.6h0.7v0.7h-0.7zM484.0 360.1h0.7v0.7h-0.7zM477.9 354.7h0.7v0.7h-0.7zM475.2 363.5h0.7v0.7h-0.7zM475.0 359.2h0.7v0.7h-0.7zM479.1 362.5h0.7v0.7h-0.7z" fill="#000" fill-opacity="0.2"/>
<path d="M478.4 352.6h0.7v0.7h-0.7zM477.9 360.7h0.7v0.7h-0.7zM477.1 356.9h0.7v0.7h-0.7zM483.9 355.2h0.7v0.7h-0.7zM476.8 356.1h0.7v0.7h-0.7zM474.1 354.9h0.7v0.7h-0.7zM473.9 361.7h0.7v0.7h-0.7zM474.4 352.5h0.7v0.7h-0.7zM479.9 353.9h0.7v0.7h-0.7zM472.9 354.6h0.7v0.7h-0.7z" fill="#000" fill-opacity="0.2"/>
<path d="M470.8 368.3h0.7v0.7h-0.7zM472.7 373.8h0.7v0.7h-0.7zM471.8 371.0h0.7v0.7h-0.7zM474.2 371.5h0.7v0.7h-0.7zM474.3 369.8h0.7v0.7h-0.7zM473.8 376.9h0.7v0.7h-0.7zM470.5 383.4h0.7v0.7h-0.7zM472.4 370.8h0.7v0.7h-0.7zM472.7 373.8h0.7v0.7h-0.7zM470.8 372.2h0.7v0.7h-0.7zM471.9 377.5h0.7v0.7h-0.7zM469.9 374.5h0.7v0.7h-0.7zM472.4 369.2h0.7v0.7h-0.7zM473.2 371.1h0.7v0.7h-0.7zM473.0 373.0h0.7v0.7h-0.7zM475.1 370.5h0.7v0.7h-0.7zM476.0 361.8h0.7v0.7h-0.7zM476.2 376.7h0.7v0.7h-0.7zM475.8 372.8h0.7v0.7h-0.7zM473.5 368.2h0.7v0.7h-0.7z" fill="#000" fill-opacity="0.2"/>
<path d="M475.4 367.7h0.7v0.7h-0.7zM471.5 372.0h0.7v0.7h-0.7zM473.4 373.3h0.7v0.7h-0.7zM470.9 370.7h0.7v0.7h-0.7zM473.8 376.5h0.7v0.7h-0.7zM474.3 373.6h0.7v0.7h-0.7zM472.5 370.0h0.7v0.7h-0.7zM472.0 371.7h0.7v0.7h-0.7zM473.9 370.1h0.7v0.7h-0.7zM476.7 368.3h0.7v0.7h-0.7zM474.4 371.3h0.7v0.7h-0.7zM472.7 370.6h0.7v0.7h-0.7zM475.7 370.9h0.7v0.7h-0.7zM474.0 372.5h0.7v0.7h-0.7zM474.3 374.3h0.7v0.7h-0.7zM475.9 369.3h0.7v0.7h-0.7zM471.5 378.5h0.7v0.7h-0.7zM475.3 372.3h0.7v0.7h-0.7zM472.5 373.0h0.7v0.7h-0.7zM475.3 369.2h0.7v0.7h-0.7z" fill="#000" fill-opacity="0.2"/>
<path d="M475.6 371.8h0.7v0.7h-0.7zM472.3 370.6h0.7v0.7h-0.7zM469.2 373.3h0.7v0.7h-0.7zM470.6 369.9h0.7v0.7h-0.7zM471.4 372.9h0.7v0.7h-0.7zM474.3 372.2h0.7v0.7h-0.7zM473.3 373.6h0.7v0.7h-0.7zM475.8 374.2h0.7v0.7h-0.7zM475.8 371.8h0.7v0.7h-0.7zM473.6 369.6h0.7v0.7h-0.7zM474.0 368.8h0.7v0.7h-0.7zM473.8 369.7h0.7v0.7h-0.7zM472.3 376.7h0.7v0.7h-0.7zM473.2 375.1h0.7v0.7h-0.7zM472.5 365.0h0.7v0.7h-0.7zM475.6 371.4h0.7v0.7h-0.7zM471.8 375.6h0.7v0.7h-0.7zM470.9 369.2h0.7v0.7h-0.7zM475.0 369.4h0.7v0.7h-0.7zM475.0 370.9h0.7v0.7h-0.7z" fill="#000" fill-opacity="0.2"/>
<path d="M472.6 372.3h0.7v0.7h-0.7zM472.1 376.1h0.7v0.7h-0.7zM474.9 372.3h0.7v0.7h-0.7zM474.1 374.1h0.7v0.7h-0.7zM476.0 366.1h0.7v0.7h-0.7zM474.8 375.5h0.7v0.7h-0.7zM472.4 372.1h0.7v0.7h-0.7zM472.3 376.7h0.7v0.7h-0.7zM470.9 374.3h0.7v0.7h-0.7zM475.3 374.2h0.7v0.7h-0.7zM472.1 370.3h0.7v0.7h-0.7zM469.2 368.2h0.7v0.7h-0.7zM474.9 368.5h0.7v0.7h-0.7zM470.0 371.1h0.7v0.7h-0.7zM470.3 373.8h0.7v0.7h-0.7zM471.4 375.7h0.7v0.7h-0.7zM472.8 366.7h0.7v0.7h-0.7zM471.6 369.6h0.7v0.7h-0.7zM471.5 376.7h0.7v0.7h-0.7zM471.2 373.4h0.7v0.7h-0.7z" fill="#000" fill-opacity="0.2"/>
<path d="M471.9 374.3h0.7v0.7h-0.7zM470.4 366.2h0.7v0.7h-0.7zM473.9 377.4h0.7v0.7h-0.7zM470.5 370.9h0.7v0.7h-0.7zM472.1 368.5h0.7v0.7h-0.7zM474.7 372.3h0.7v0.7h-0.7zM470.5 371.3h0.7v0.7h-0.7zM475.4 369.4h0.7v0.7h-0.7zM472.0 369.0h0.7v0.7h-0.7zM473.3 370.0h0.7v0.7h-0.7zM474.6 368.9h0.7v0.7h-0.7zM470.4 373.8h0.7v0.7h-0.7zM467.3 368.5h0.7v0.7h-0.7zM473.5 373.0h0.7v0.7h-0.7zM471.9 370.4h0.7v0.7h-0.7zM473.9 386.1h0.7v0.7h-0.7zM471.5 371.4h0.7v0.7h-0.7zM472.2 374.1h0.7v0.7h-0.7zM473.0 374.2h0.7v0.7h-0.7zM475.9 371.0h0.7v0.7h-0.7z" fill="#000" fill-opacity="0.2"/>
<path d="M472.5 373.5h0.7v0.7h-0.7zM476.7 370.7h0.7v0.7h-0.7zM476.0 376.5h0.7v0.7h-0.7zM468.1 368.3h0.7v0.7h-0.7zM471.2 373.6h0.7v0.7h-0.7zM475.4 372.3h0.7v0.7h-0.7zM473.3 380.2h0.7v0.7h-0.7zM473.6 380.2h0.7v0.7h-0.7zM471.4 378.3h0.7v0.7h-0.7zM472.1 362.9h0.7v0.7h-0.7z" fill="#000" fill-opacity="0.2"/>
<path d="M469.8 359.1h0.7v0.7h-0.7zM473.7 369.6h0.7v0.7h-0.7zM477.4 367.6h0.7v0.7h-0.7zM470.2 378.3h0.7v0.7h-0.7zM479.9 363.5h0.7v0.7h-0.7zM471.1 362.7h0.7v0.7h-0.7zM472.8 357.2h0.7v0.7h-0.7zM473.9 357.5h0.7v0.7h-0.7zM477.1 357.6h0.7v0.7h-0.7zM476.4 365.9h0.7v0.7h-0.7zM474.8 367.6h0.7v0.7h-0.7zM468.8 385.0h0.7v0.7h-0.7zM470.5 369.4h0.7v0.7h-0.7zM474.0 359.5h0.7v0.7h-0.7zM482.6 372.5h0.7v0.7h-0.7zM472.6 367.9h0.7v0.7h-0.7zM477.3 376.6h0.7v0.7h-0.7zM479.0 361.7h0.7v0.7h-0.7zM472.7 353.3h0.7v0.7h-0.7zM475.2 370.5h0.7v0.7h-0.7z" fill="#000" fill-opacity="0.12"/>
<path d="M472.0 368.8h0.7v0.7h-0.7zM474.6 359.2h0.7v0.7h-0.7zM467.8 372.6h0.7v0.7h-0.7zM486.6 367.8h0.7v0.7h-0.7zM468.5 354.4h0.7v0.7h-0.7zM475.2 368.7h0.7v0.7h-0.7zM481.5 342.6h0.7v0.7h-0.7zM483.2 364.6h0.7v0.7h-0.7zM474.6 366.4h0.7v0.7h-0.7zM472.2 360.7h0.7v0.7h-0.7zM479.2 348.4h0.7v0.7h-0.7zM473.4 367.9h0.7v0.7h-0.7zM465.7 361.8h0.7v0.7h-0.7zM481.6 366.3h0.7v0.7h-0.7zM477.5 369.1h0.7v0.7h-0.7zM475.0 366.2h0.7v0.7h-0.7zM469.9 361.4h0.7v0.7h-0.7zM483.2 352.7h0.7v0.7h-0.7zM473.1 352.3h0.7v0.7h-0.7zM471.3 356.6h0.7v0.7h-0.7z" fill="#000" fill-opacity="0.12"/>
<path d="M467.8 365.2h0.7v0.7h-0.7zM469.2 367.6h0.7v0.7h-0.7zM483.0 341.3h0.7v0.7h-0.7zM473.1 345.3h0.7v0.7h-0.7zM473.3 366.3h0.7v0.7h-0.7zM475.0 373.4h0.7v0.7h-0.7zM474.7 348.4h0.7v0.7h-0.7zM481.5 355.0h0.7v0.7h-0.7zM473.5 365.9h0.7v0.7h-0.7zM469.6 363.9h0.7v0.7h-0.7zM481.4 348.7h0.7v0.7h-0.7zM465.6 359.3h0.7v0.7h-0.7zM473.1 352.2h0.7v0.7h-0.7zM462.4 370.9h0.7v0.7h-0.7zM475.9 351.8h0.7v0.7h-0.7zM476.8 362.6h0.7v0.7h-0.7zM474.8 351.7h0.7v0.7h-0.7zM472.9 367.2h0.7v0.7h-0.7zM465.2 354.1h0.7v0.7h-0.7zM478.8 380.2h0.7v0.7h-0.7z" fill="#000" fill-opacity="0.12"/>
<path d="M477.3 362.5h0.7v0.7h-0.7zM468.5 359.6h0.7v0.7h-0.7zM472.7 366.9h0.7v0.7h-0.7zM472.7 384.3h0.7v0.7h-0.7zM480.6 344.3h0.7v0.7h-0.7zM468.1 363.1h0.7v0.7h-0.7zM478.9 366.6h0.7v0.7h-0.7zM460.2 349.0h0.7v0.7h-0.7zM480.7 368.2h0.7v0.7h-0.7zM486.8 370.0h0.7v0.7h-0.7zM476.3 376.2h0.7v0.7h-0.7zM471.7 358.4h0.7v0.7h-0.7zM468.9 365.2h0.7v0.7h-0.7zM476.2 371.2h0.7v0.7h-0.7zM481.2 368.5h0.7v0.7h-0.7zM480.1 361.0h0.7v0.7h-0.7zM469.2 369.4h0.7v0.7h-0.7zM479.1 374.6h0.7v0.7h-0.7zM473.2 359.1h0.7v0.7h-0.7zM472.2 366.2h0.7v0.7h-0.7z" fill="#000" fill-opacity="0.12"/>
<path d="M473.7 361.5h0.7v0.7h-0.7zM475.3 360.6h0.7v0.7h-0.7zM475.7 358.0h0.7v0.7h-0.7zM466.2 360.4h0.7v0.7h-0.7zM483.5 356.1h0.7v0.7h-0.7zM478.6 374.7h0.7v0.7h-0.7zM471.3 365.3h0.7v0.7h-0.7zM462.5 368.0h0.7v0.7h-0.7zM481.7 364.7h0.7v0.7h-0.7zM464.0 358.1h0.7v0.7h-0.7zM470.3 364.1h0.7v0.7h-0.7zM475.4 359.5h0.7v0.7h-0.7zM472.4 356.0h0.7v0.7h-0.7zM476.9 364.8h0.7v0.7h-0.7zM475.7 358.7h0.7v0.7h-0.7zM476.5 360.5h0.7v0.7h-0.7zM475.5 361.7h0.7v0.7h-0.7zM470.7 353.6h0.7v0.7h-0.7zM464.6 351.3h0.7v0.7h-0.7zM465.8 356.0h0.7v0.7h-0.7z" fill="#000" fill-opacity="0.12"/>
<path d="M473.0 353.0h0.7v0.7h-0.7zM476.1 381.1h0.7v0.7h-0.7zM460.0 353.0h0.7v0.7h-0.7zM480.2 353.0h0.7v0.7h-0.7zM473.5 357.6h0.7v0.7h-0.7zM477.8 350.5h0.7v0.7h-0.7zM475.5 365.0h0.7v0.7h-0.7zM476.8 366.8h0.7v0.7h-0.7zM474.8 347.7h0.7v0.7h-0.7zM472.4 354.9h0.7v0.7h-0.7zM476.7 361.0h0.7v0.7h-0.7zM474.8 372.6h0.7v0.7h-0.7zM473.5 377.7h0.7v0.7h-0.7zM478.2 350.2h0.7v0.7h-0.7zM471.1 373.6h0.7v0.7h-0.7zM471.5 373.4h0.7v0.7h-0.7zM471.2 362.0h0.7v0.7h-0.7zM479.1 349.4h0.7v0.7h-0.7zM474.4 359.1h0.7v0.7h-0.7zM474.8 377.9h0.7v0.7h-0.7z" fill="#000" fill-opacity="0.12"/>
<path d="M476.5 351.3h0.7v0.7h-0.7zM478.8 359.1h0.7v0.7h-0.7zM474.8 373.1h0.7v0.7h-0.7zM472.4 371.4h0.7v0.7h-0.7zM474.9 355.2h0.7v0.7h-0.7zM472.4 351.3h0.7v0.7h-0.7zM479.9 364.5h0.7v0.7h-0.7zM478.8 353.4h0.7v0.7h-0.7zM478.2 352.7h0.7v0.7h-0.7zM475.4 362.9h0.7v0.7h-0.7zM471.0 365.7h0.7v0.7h-0.7zM474.2 355.5h0.7v0.7h-0.7zM470.3 351.7h0.7v0.7h-0.7zM480.9 364.3h0.7v0.7h-0.7zM472.2 369.0h0.7v0.7h-0.7zM469.7 352.9h0.7v0.7h-0.7zM475.8 376.8h0.7v0.7h-0.7zM475.5 364.4h0.7v0.7h-0.7zM482.7 349.6h0.7v0.7h-0.7zM489.3 353.4h0.7v0.7h-0.7z" fill="#000" fill-opacity="0.12"/>
<path d="M473.6 351.3h0.7v0.7h-0.7zM467.9 360.9h0.7v0.7h-0.7zM486.2 354.8h0.7v0.7h-0.7zM470.9 365.4h0.7v0.7h-0.7zM468.9 360.8h0.7v0.7h-0.7zM478.1 344.0h0.7v0.7h-0.7zM472.5 360.5h0.7v0.7h-0.7zM471.4 362.0h0.7v0.7h-0.7zM465.0 359.2h0.7v0.7h-0.7zM471.4 354.1h0.7v0.7h-0.7zM480.3 380.4h0.7v0.7h-0.7zM478.0 355.5h0.7v0.7h-0.7zM481.1 367.4h0.7v0.7h-0.7zM469.9 368.3h0.7v0.7h-0.7zM471.1 368.0h0.7v0.7h-0.7zM478.6 373.1h0.7v0.7h-0.7zM468.7 361.9h0.7v0.7h-0.7zM474.0 352.4h0.7v0.7h-0.7zM476.1 369.0h0.7v0.7h-0.7zM467.1 358.2h0.7v0.7h-0.7z" fill="#000" fill-opacity="0.12"/>
<path d="M468.5 351.9h0.7v0.7h-0.7zM468.7 375.0h0.7v0.7h-0.7zM470.7 359.6h0.7v0.7h-0.7zM478.9 371.9h0.7v0.7h-0.7zM481.0 344.9h0.7v0.7h-0.7zM477.8 347.7h0.7v0.7h-0.7zM470.8 359.4h0.7v0.7h-0.7zM471.1 380.1h0.7v0.7h-0.7z" fill="#000" fill-opacity="0.12"/>
<path d="M461.5 363.2h0.7v0.7h-0.7zM461.4 352.5h0.7v0.7h-0.7zM467.6 356.9h0.7v0.7h-0.7zM467.5 337.9h0.7v0.7h-0.7zM467.6 355.8h0.7v0.7h-0.7zM468.4 352.5h0.7v0.7h-0.7zM466.7 341.6h0.7v0.7h-0.7zM473.2 342.4h0.7v0.7h-0.7zM475.6 361.8h0.7v0.7h-0.7zM462.4 350.4h0.7v0.7h-0.7zM470.0 350.3h0.7v0.7h-0.7zM452.3 355.4h0.7v0.7h-0.7zM452.0 349.0h0.7v0.7h-0.7zM479.2 360.1h0.7v0.7h-0.7zM458.9 352.4h0.7v0.7h-0.7zM457.2 352.9h0.7v0.7h-0.7zM450.0 359.0h0.7v0.7h-0.7zM463.1 347.7h0.7v0.7h-0.7zM457.5 376.0h0.7v0.7h-0.7zM459.0 348.8h0.7v0.7h-0.7z" fill="#000" fill-opacity="0.08"/>
<path d="M457.8 348.7h0.7v0.7h-0.7zM474.8 358.9h0.7v0.7h-0.7zM466.8 356.2h0.7v0.7h-0.7zM452.8 331.9h0.7v0.7h-0.7zM476.6 359.3h0.7v0.7h-0.7zM465.0 355.4h0.7v0.7h-0.7zM464.8 353.2h0.7v0.7h-0.7zM460.6 333.5h0.7v0.7h-0.7zM468.1 353.4h0.7v0.7h-0.7zM471.8 355.7h0.7v0.7h-0.7zM460.4 358.3h0.7v0.7h-0.7zM464.7 349.1h0.7v0.7h-0.7zM459.6 349.3h0.7v0.7h-0.7zM460.3 349.1h0.7v0.7h-0.7zM471.8 378.5h0.7v0.7h-0.7zM462.0 362.8h0.7v0.7h-0.7zM445.2 324.7h0.7v0.7h-0.7zM458.7 351.6h0.7v0.7h-0.7zM456.3 341.1h0.7v0.7h-0.7zM455.3 348.5h0.7v0.7h-0.7z" fill="#000" fill-opacity="0.08"/>
<path d="M464.4 350.1h0.7v0.7h-0.7zM452.2 349.8h0.7v0.7h-0.7zM476.6 345.3h0.7v0.7h-0.7zM463.6 361.8h0.7v0.7h-0.7zM455.8 348.0h0.7v0.7h-0.7zM489.1 363.8h0.7v0.7h-0.7zM458.3 354.4h0.7v0.7h-0.7zM463.9 354.3h0.7v0.7h-0.7zM467.2 350.4h0.7v0.7h-0.7zM443.0 344.6h0.7v0.7h-0.7zM464.4 341.0h0.7v0.7h-0.7zM460.1 366.2h0.7v0.7h-0.7zM465.1 347.3h0.7v0.7h-0.7zM464.2 362.2h0.7v0.7h-0.7zM447.6 342.1h0.7v0.7h-0.7zM457.0 349.2h0.7v0.7h-0.7zM462.2 347.9h0.7v0.7h-0.7zM464.0 353.8h0.7v0.7h-0.7zM452.5 347.5h0.7v0.7h-0.7zM451.8 355.5h0.7v0.7h-0.7z" fill="#000" fill-opacity="0.08"/>
<path d="M465.4 358.7h0.7v0.7h-0.7zM455.1 348.3h0.7v0.7h-0.7zM443.0 353.1h0.7v0.7h-0.7zM448.5 356.0h0.7v0.7h-0.7zM472.7 356.9h0.7v0.7h-0.7zM468.6 355.0h0.7v0.7h-0.7zM466.3 361.2h0.7v0.7h-0.7zM474.4 370.7h0.7v0.7h-0.7zM460.6 360.3h0.7v0.7h-0.7zM470.8 356.7h0.7v0.7h-0.7zM465.4 341.9h0.7v0.7h-0.7zM472.8 345.3h0.7v0.7h-0.7zM457.1 345.5h0.7v0.7h-0.7zM468.0 344.5h0.7v0.7h-0.7zM467.1 357.9h0.7v0.7h-0.7zM463.9 350.0h0.7v0.7h-0.7zM468.4 364.5h0.7v0.7h-0.7zM458.8 343.8h0.7v0.7h-0.7zM457.6 345.3h0.7v0.7h-0.7zM460.9 351.6h0.7v0.7h-0.7z" fill="#000" fill-opacity="0.08"/>
</g>
<line x1="434.70" y1="318.50" x2="434.70" y2="390.80" stroke="#999" stroke-width="1.0"/>
<line x1="434.70" y1="390.80" x2="506.90" y2="390.80" stroke="#999" stroke-width="1.0"/>
<line x1="432.90" y1="390.80" x2="435.00" y2="390.80" stroke="#555" stroke-width="0.8"/>
<line x1="434.70" y1="390.50" x2="434.70" y2="392.60" stroke="#555" stroke-width="0.8"/>
<line x1="433.60" y1="385.36" x2="435.00" y2="385.36" stroke="#888" stroke-width="0.8"/>
<line x1="440.13" y1="390.50" x2="440.13" y2="391.90" stroke="#888" stroke-width="0.8"/>
<line x1="433.60" y1="382.18" x2="435.00" y2="382.18" stroke="#888" stroke-width="0.8"/>
<line x1="443.31" y1="390.50" x2="443.31" y2="391.90" stroke="#888" stroke-width="0.8"/>
<line x1="433.60" y1="379.92" x2="435.00" y2="379.92" stroke="#888" stroke-width="0.8"/>
<line x1="445.57" y1="390.50" x2="445.57" y2="391.90" stroke="#888" stroke-width="0.8"/>
<line x1="433.60" y1="378.17" x2="435.00" y2="378.17" stroke="#888" stroke-width="0.8"/>
<line x1="447.32" y1="390.50" x2="447.32" y2="391.90" stroke="#888" stroke-width="0.8"/>
<line x1="433.60" y1="376.73" x2="435.00" y2="376.73" stroke="#888" stroke-width="0.8"/>
<line x1="448.75" y1="390.50" x2="448.75" y2="391.90" stroke="#888" stroke-width="0.8"/>
<line x1="433.60" y1="375.52" x2="435.00" y2="375.52" stroke="#888" stroke-width="0.8"/>
<line x1="449.95" y1="390.50" x2="449.95" y2="391.90" stroke="#888" stroke-width="0.8"/>
<line x1="433.60" y1="374.48" x2="435.00" y2="374.48" stroke="#888" stroke-width="0.8"/>
<line x1="451.00" y1="390.50" x2="451.00" y2="391.90" stroke="#888" stroke-width="0.8"/>
<line x1="433.60" y1="373.55" x2="435.00" y2="373.55" stroke="#888" stroke-width="0.8"/>
<line x1="451.92" y1="390.50" x2="451.92" y2="391.90" stroke="#888" stroke-width="0.8"/>
<line x1="432.90" y1="372.73" x2="435.00" y2="372.73" stroke="#555" stroke-width="0.8"/>
<line x1="452.75" y1="390.50" x2="452.75" y2="392.60" stroke="#555" stroke-width="0.8"/>
<line x1="433.60" y1="367.28" x2="435.00" y2="367.28" stroke="#888" stroke-width="0.8"/>
<line x1="458.18" y1="390.50" x2="458.18" y2="391.90" stroke="#888" stroke-width="0.8"/>
<line x1="433.60" y1="364.10" x2="435.00" y2="364.10" stroke="#888" stroke-width="0.8"/>
<line x1="461.36" y1="390.50" x2="461.36" y2="391.90" stroke="#888" stroke-width="0.8"/>
<line x1="433.60" y1="361.84" x2="435.00" y2="361.84" stroke="#888" stroke-width="0.8"/>
<line x1="463.62" y1="390.50" x2="463.62" y2="391.90" stroke="#888" stroke-width="0.8"/>
<line x1="433.60" y1="360.09" x2="435.00" y2="360.09" stroke="#888" stroke-width="0.8"/>
<line x1="465.37" y1="390.50" x2="465.37" y2="391.90" stroke="#888" stroke-width="0.8"/>
<line x1="433.60" y1="358.66" x2="435.00" y2="358.66" stroke="#888" stroke-width="0.8"/>
<line x1="466.80" y1="390.50" x2="466.80" y2="391.90" stroke="#888" stroke-width="0.8"/>
<line x1="433.60" y1="357.45" x2="435.00" y2="357.45" stroke="#888" stroke-width="0.8"/>
<line x1="468.00" y1="390.50" x2="468.00" y2="391.90" stroke="#888" stroke-width="0.8"/>
<line x1="433.60" y1="356.40" x2="435.00" y2="356.40" stroke="#888" stroke-width="0.8"/>
<line x1="469.05" y1="390.50" x2="469.05" y2="391.90" stroke="#888" stroke-width="0.8"/>
<line x1="433.60" y1="355.48" x2="435.00" y2="355.48" stroke="#888" stroke-width="0.8"/>
<line x1="469.97" y1="390.50" x2="469.97" y2="391.90" stroke="#888" stroke-width="0.8"/>
<line x1="432.90" y1="354.65" x2="435.00" y2="354.65" stroke="#555" stroke-width="0.8"/>
<line x1="470.80" y1="390.50" x2="470.80" y2="392.60" stroke="#555" stroke-width="0.8"/>
<line x1="433.60" y1="349.21" x2="435.00" y2="349.21" stroke="#888" stroke-width="0.8"/>
<line x1="476.23" y1="390.50" x2="476.23" y2="391.90" stroke="#888" stroke-width="0.8"/>
<line x1="433.60" y1="346.03" x2="435.00" y2="346.03" stroke="#888" stroke-width="0.8"/>
<line x1="479.41" y1="390.50" x2="479.41" y2="391.90" stroke="#888" stroke-width="0.8"/>
<line x1="433.60" y1="343.77" x2="435.00" y2="343.77" stroke="#888" stroke-width="0.8"/>
<line x1="481.67" y1="390.50" x2="481.67" y2="391.90" stroke="#888" stroke-width="0.8"/>
<line x1="433.60" y1="342.02" x2="435.00" y2="342.02" stroke="#888" stroke-width="0.8"/>
<line x1="483.42" y1="390.50" x2="483.42" y2="391.90" stroke="#888" stroke-width="0.8"/>
<line x1="433.60" y1="340.58" x2="435.00" y2="340.58" stroke="#888" stroke-width="0.8"/>
<line x1="484.85" y1="390.50" x2="484.85" y2="391.90" stroke="#888" stroke-width="0.8"/>
<line x1="433.60" y1="339.37" x2="435.00" y2="339.37" stroke="#888" stroke-width="0.8"/>
<line x1="486.05" y1="390.50" x2="486.05" y2="391.90" stroke="#888" stroke-width="0.8"/>
<line x1="433.60" y1="338.33" x2="435.00" y2="338.33" stroke="#888" stroke-width="0.8"/>
<line x1="487.10" y1="390.50" x2="487.10" y2="391.90" stroke="#888" stroke-width="0.8"/>
<line x1="433.60" y1="337.40" x2="435.00" y2="337.40" stroke="#888" stroke-width="0.8"/>
<line x1="488.02" y1="390.50" x2="488.02" y2="391.90" stroke="#888" stroke-width="0.8"/>
<line x1="432.90" y1="336.57" x2="435.00" y2="336.57" stroke="#555" stroke-width="0.8"/>
<line x1="488.85" y1="390.50" x2="488.85" y2="392.60" stroke="#555" stroke-width="0.8"/>
<line x1="433.60" y1="331.13" x2="435.00" y2="331.13" stroke="#888" stroke-width="0.8"/>
<line x1="494.28" y1="390.50" x2="494.28" y2="391.90" stroke="#888" stroke-width="0.8"/>
<line x1="433.60" y1="327.95" x2="435.00" y2="327.95" stroke="#888" stroke-width="0.8"/>
<line x1="497.46" y1="390.50" x2="497.46" y2="391.90" stroke="#888" stroke-width="0.8"/>
<line x1="433.60" y1="325.69" x2="435.00" y2="325.69" stroke="#888" stroke-width="0.8"/>
<line x1="499.72" y1="390.50" x2="499.72" y2="391.90" stroke="#888" stroke-width="0.8"/>
<line x1="433.60" y1="323.94" x2="435.00" y2="323.94" stroke="#888" stroke-width="0.8"/>
<line x1="501.47" y1="390.50" x2="501.47" y2="391.90" stroke="#888" stroke-width="0.8"/>
<line x1="433.60" y1="322.51" x2="435.00" y2="322.51" stroke="#888" stroke-width="0.8"/>
<line x1="502.90" y1="390.50" x2="502.90" y2="391.90" stroke="#888" stroke-width="0.8"/>
<line x1="433.60" y1="321.30" x2="435.00" y2="321.30" stroke="#888" stroke-width="0.8"/>
<line x1="504.10" y1="390.50" x2="504.10" y2="391.90" stroke="#888" stroke-width="0.8"/>
<line x1="433.60" y1="320.25" x2="435.00" y2="320.25" stroke="#888" stroke-width="0.8"/>
<line x1="505.15" y1="390.50" x2="505.15" y2="391.90" stroke="#888" stroke-width="0.8"/>
<line x1="433.60" y1="319.33" x2="435.00" y2="319.33" stroke="#888" stroke-width="0.8"/>
<line x1="506.07" y1="390.50" x2="506.07" y2="391.90" stroke="#888" stroke-width="0.8"/>
<line x1="432.90" y1="318.50" x2="434.70" y2="318.50" stroke="#555" stroke-width="0.8"/>
<line x1="506.90" y1="390.80" x2="506.90" y2="392.60" stroke="#555" stroke-width="0.8"/>
<line x1="454.50" y1="318.50" x2="454.50" y2="390.80" stroke="#707070" stroke-width="1.0"/>
<line x1="434.70" y1="366.50" x2="506.90" y2="366.50" stroke="#707070" stroke-width="1.0"/>
<text x="419.09" y="320.80" font-size="6.57" textLength="7.49" lengthAdjust="spacingAndGlyphs" fill="#1c1c1c" stroke="#1c1c1c" stroke-width="0.18">10</text>
<text x="426.80" y="317.70" font-size="4.57" textLength="2.84" lengthAdjust="spacingAndGlyphs" fill="#1c1c1c" stroke="#1c1c1c" stroke-width="0.18">3</text>
<text x="419.09" y="337.70" font-size="6.57" textLength="7.49" lengthAdjust="spacingAndGlyphs" fill="#1c1c1c" stroke="#1c1c1c" stroke-width="0.18">10</text>
<text x="426.74" y="334.60" font-size="4.57" textLength="2.93" lengthAdjust="spacingAndGlyphs" fill="#1c1c1c" stroke="#1c1c1c" stroke-width="0.18">2</text>
<text x="419.09" y="353.40" font-size="6.57" textLength="7.49" lengthAdjust="spacingAndGlyphs" fill="#1c1c1c" stroke="#1c1c1c" stroke-width="0.18">10</text>
<text x="426.58" y="350.30" font-size="4.64" textLength="3.10" lengthAdjust="spacingAndGlyphs" fill="#1c1c1c" stroke="#1c1c1c" stroke-width="0.18">1</text>
<text x="419.09" y="368.80" font-size="6.57" textLength="7.49" lengthAdjust="spacingAndGlyphs" fill="#1c1c1c" stroke="#1c1c1c" stroke-width="0.18">10</text>
<text x="426.80" y="365.70" font-size="4.57" textLength="2.81" lengthAdjust="spacingAndGlyphs" fill="#1c1c1c" stroke="#1c1c1c" stroke-width="0.18">0</text>
<text x="418.49" y="384.30" font-size="6.57" textLength="7.49" lengthAdjust="spacingAndGlyphs" fill="#1c1c1c" stroke="#1c1c1c" stroke-width="0.18">10</text>
<text x="426.23" y="381.20" font-size="4.64" textLength="3.36" lengthAdjust="spacingAndGlyphs" fill="#1c1c1c" stroke="#1c1c1c" stroke-width="0.18">-1</text>
<text x="429.89" y="401.40" font-size="6.71" textLength="7.60" lengthAdjust="spacingAndGlyphs" fill="#1c1c1c" stroke="#1c1c1c" stroke-width="0.18">10</text>
<text x="437.62" y="398.50" font-size="4.49" textLength="3.50" lengthAdjust="spacingAndGlyphs" fill="#1c1c1c" stroke="#1c1c1c" stroke-width="0.18">-1</text>
<text x="447.79" y="401.40" font-size="6.71" textLength="7.60" lengthAdjust="spacingAndGlyphs" fill="#1c1c1c" stroke="#1c1c1c" stroke-width="0.18">10</text>
<text x="455.49" y="398.50" font-size="4.43" textLength="2.93" lengthAdjust="spacingAndGlyphs" fill="#1c1c1c" stroke="#1c1c1c" stroke-width="0.18">0</text>
<text x="465.69" y="401.40" font-size="6.71" textLength="7.60" lengthAdjust="spacingAndGlyphs" fill="#1c1c1c" stroke="#1c1c1c" stroke-width="0.18">10</text>
<text x="473.16" y="398.50" font-size="4.49" textLength="3.23" lengthAdjust="spacingAndGlyphs" fill="#1c1c1c" stroke="#1c1c1c" stroke-width="0.18">1</text>
<text x="483.59" y="401.40" font-size="6.71" textLength="7.60" lengthAdjust="spacingAndGlyphs" fill="#1c1c1c" stroke="#1c1c1c" stroke-width="0.18">10</text>
<text x="491.23" y="398.50" font-size="4.43" textLength="3.06" lengthAdjust="spacingAndGlyphs" fill="#1c1c1c" stroke="#1c1c1c" stroke-width="0.18">2</text>
<text x="501.49" y="401.40" font-size="6.71" textLength="7.60" lengthAdjust="spacingAndGlyphs" fill="#1c1c1c" stroke="#1c1c1c" stroke-width="0.18">10</text>
<text x="509.19" y="398.50" font-size="4.43" textLength="2.96" lengthAdjust="spacingAndGlyphs" fill="#1c1c1c" stroke="#1c1c1c" stroke-width="0.18">3</text>
<line x1="62.70" y1="215.20" x2="62.70" y2="407.70" stroke="#000" stroke-width="1.2"/>
<path d="M60.2 216.7L62.7 211.2L65.2 216.7z" fill="#000"/>
<line x1="62.10" y1="407.10" x2="124.80" y2="407.10" stroke="#000" stroke-width="1.2"/>
<path d="M123.0 404.6L128.8 407.1L123.0 409.6z" fill="#000"/>
<line x1="186.50" y1="216.20" x2="186.50" y2="407.70" stroke="#000" stroke-width="1.2"/>
<path d="M184.0 217.7L186.5 212.2L189.0 217.7z" fill="#000"/>
<line x1="185.90" y1="407.10" x2="349.40" y2="407.10" stroke="#000" stroke-width="1.2"/>
<path d="M347.6 404.6L353.4 407.1L347.6 409.6z" fill="#000"/>
<line x1="414.20" y1="214.70" x2="414.20" y2="406.40" stroke="#000" stroke-width="1.2"/>
<path d="M411.7 216.2L414.2 210.7L416.7 216.2z" fill="#000"/>
<line x1="413.60" y1="405.80" x2="483.30" y2="405.80" stroke="#000" stroke-width="1.2"/>
<path d="M481.5 403.3L487.3 405.8L481.5 408.3z" fill="#000"/>
<text transform="translate(57.30,403.90) rotate(-90)" font-size="9.00" textLength="15.17" lengthAdjust="spacingAndGlyphs" fill="#1c1c1c" stroke="#1c1c1c" stroke-width="0.35">CD36</text>
<text x="65.91" y="418.50" font-size="8.57" textLength="15.08" lengthAdjust="spacingAndGlyphs" fill="#1c1c1c" stroke="#1c1c1c" stroke-width="0.35">CD34</text>
<text transform="translate(180.80,403.88) rotate(-90)" font-size="9.43" textLength="14.37" lengthAdjust="spacingAndGlyphs" fill="#1c1c1c" stroke="#1c1c1c" stroke-width="0.35">CD71</text>
<text x="189.92" y="418.20" font-size="8.14" textLength="11.60" lengthAdjust="spacingAndGlyphs" fill="#1c1c1c" stroke="#1c1c1c" stroke-width="0.35">GPA</text>
<text transform="translate(409.10,403.01) rotate(-90)" font-size="9.52" textLength="19.23" lengthAdjust="spacingAndGlyphs" fill="#1c1c1c" stroke="#1c1c1c" stroke-width="0.35">CD49d</text>
<text x="417.35" y="417.80" font-size="8.83" textLength="19.87" lengthAdjust="spacingAndGlyphs" fill="#1c1c1c" stroke="#1c1c1c" stroke-width="0.35">Band3</text>
<line x1="50.70" y1="470.70" x2="50.70" y2="590.30" stroke="#1c1c1c" stroke-width="1.3"/>
<line x1="50.70" y1="587.10" x2="143.30" y2="587.10" stroke="#1c1c1c" stroke-width="1.3"/>
<line x1="143.30" y1="587.10" x2="143.30" y2="590.30" stroke="#1c1c1c" stroke-width="1"/>
<line x1="47.70" y1="473.70" x2="50.70" y2="473.70" stroke="#1c1c1c" stroke-width="1"/>
<text x="34.46" y="476.70" font-size="8.29" textLength="10.32" lengthAdjust="spacingAndGlyphs" fill="#1c1c1c" stroke="#1c1c1c" stroke-width="0.18">12</text>
<line x1="47.70" y1="492.60" x2="50.70" y2="492.60" stroke="#1c1c1c" stroke-width="1"/>
<text x="34.37" y="495.60" font-size="8.29" textLength="10.32" lengthAdjust="spacingAndGlyphs" fill="#1c1c1c" stroke="#1c1c1c" stroke-width="0.18">10</text>
<line x1="47.70" y1="511.50" x2="50.70" y2="511.50" stroke="#1c1c1c" stroke-width="1"/>
<text x="39.52" y="514.50" font-size="8.29" textLength="5.16" lengthAdjust="spacingAndGlyphs" fill="#1c1c1c" stroke="#1c1c1c" stroke-width="0.18">8</text>
<line x1="47.70" y1="530.40" x2="50.70" y2="530.40" stroke="#1c1c1c" stroke-width="1"/>
<text x="39.57" y="533.40" font-size="8.29" textLength="5.16" lengthAdjust="spacingAndGlyphs" fill="#1c1c1c" stroke="#1c1c1c" stroke-width="0.18">6</text>
<line x1="47.70" y1="549.30" x2="50.70" y2="549.30" stroke="#1c1c1c" stroke-width="1"/>
<text x="39.36" y="552.30" font-size="8.41" textLength="5.24" lengthAdjust="spacingAndGlyphs" fill="#1c1c1c" stroke="#1c1c1c" stroke-width="0.18">4</text>
<line x1="47.70" y1="568.20" x2="50.70" y2="568.20" stroke="#1c1c1c" stroke-width="1"/>
<text x="39.61" y="571.20" font-size="8.29" textLength="5.16" lengthAdjust="spacingAndGlyphs" fill="#1c1c1c" stroke="#1c1c1c" stroke-width="0.18">2</text>
<line x1="47.70" y1="587.10" x2="50.70" y2="587.10" stroke="#1c1c1c" stroke-width="1"/>
<text x="39.52" y="590.10" font-size="8.29" textLength="5.16" lengthAdjust="spacingAndGlyphs" fill="#1c1c1c" stroke="#1c1c1c" stroke-width="0.18">0</text>
<text x="31.38" y="463.70" font-size="7.71" textLength="16.16" lengthAdjust="spacingAndGlyphs" fill="#1c1c1c" stroke="#1c1c1c" stroke-width="0.18">n=3</text>
<text transform="translate(28.70,546.05) rotate(-90)" font-size="10.48" textLength="35.80" lengthAdjust="spacingAndGlyphs" fill="#1c1c1c" stroke="#1c1c1c" stroke-width="0.35">CD49d MFI</text>
<line x1="68.70" y1="485.80" x2="68.70" y2="482.00" stroke="#444" stroke-width="1"/>
<line x1="66.60" y1="482.00" x2="70.80" y2="482.00" stroke="#111" stroke-width="1.1"/>
<rect x="61.30" y="485.80" width="13.70" height="101.30" fill="#A2002A"/>
<path d="M61.70 587.10V486.20H74.60V587.10" fill="none" stroke="#8E0022" stroke-width="0.8"/>
<line x1="82.20" y1="488.70" x2="82.20" y2="484.40" stroke="#444" stroke-width="1"/>
<line x1="80.10" y1="484.40" x2="84.30" y2="484.40" stroke="#111" stroke-width="1.1"/>
<rect x="75.00" y="488.70" width="13.80" height="98.40" fill="#2E4C7E"/>
<path d="M75.40 587.10V489.10H88.40V587.10" fill="none" stroke="#1F3A6E" stroke-width="0.8"/>
<line x1="110.50" y1="558.30" x2="110.50" y2="554.50" stroke="#444" stroke-width="1"/>
<line x1="108.40" y1="554.50" x2="112.60" y2="554.50" stroke="#111" stroke-width="1.1"/>
<rect x="103.00" y="558.30" width="13.80" height="28.80" fill="#A2002A"/>
<path d="M103.40 587.10V558.70H116.40V587.10" fill="none" stroke="#8E0022" stroke-width="0.8"/>
<line x1="123.30" y1="560.00" x2="123.30" y2="557.50" stroke="#444" stroke-width="1"/>
<line x1="121.20" y1="557.50" x2="125.40" y2="557.50" stroke="#111" stroke-width="1.1"/>
<rect x="116.80" y="560.00" width="13.70" height="27.10" fill="#2E4C7E"/>
<path d="M117.20 587.10V560.40H130.10V587.10" fill="none" stroke="#1F3A6E" stroke-width="0.8"/>
<line x1="70.10" y1="475.40" x2="85.20" y2="475.40" stroke="#1a1a1a" stroke-width="1.1"/>
<text x="72.04" y="473.40" font-size="8.29" font-style="italic" textLength="12.08" lengthAdjust="spacingAndGlyphs" fill="#1c1c1c" stroke="#1c1c1c" stroke-width="0.18">NS</text>
<line x1="111.20" y1="549.30" x2="125.00" y2="549.30" stroke="#1a1a1a" stroke-width="1.1"/>
<text x="112.35" y="547.40" font-size="8.29" font-style="italic" textLength="11.57" lengthAdjust="spacingAndGlyphs" fill="#1c1c1c" stroke="#1c1c1c" stroke-width="0.18">NS</text>
<text x="61.31" y="600.30" font-size="8.26" textLength="27.37" lengthAdjust="spacingAndGlyphs" fill="#1c1c1c" stroke="#1c1c1c" stroke-width="0.18">Day 15</text>
<text x="103.11" y="600.30" font-size="8.14" textLength="27.26" lengthAdjust="spacingAndGlyphs" fill="#1c1c1c" stroke="#1c1c1c" stroke-width="0.18">Day 18</text>
<rect x="93.20" y="497.40" width="9.50" height="7.50" fill="#A2002A"/>
<text x="105.31" y="504.10" font-size="8.57" textLength="25.71" lengthAdjust="spacingAndGlyphs" fill="#1c1c1c" stroke="#1c1c1c" stroke-width="0.18">DMSO</text>
<rect x="93.20" y="510.00" width="9.50" height="7.60" fill="#2E4C7E"/>
<text x="105.63" y="516.80" font-size="8.57" textLength="21.07" lengthAdjust="spacingAndGlyphs" fill="#1c1c1c" stroke="#1c1c1c" stroke-width="0.18">RSL3</text>
<line x1="208.10" y1="469.20" x2="208.10" y2="589.60" stroke="#1c1c1c" stroke-width="1.3"/>
<line x1="208.10" y1="586.40" x2="295.10" y2="586.40" stroke="#1c1c1c" stroke-width="1.3"/>
<line x1="295.10" y1="586.40" x2="295.10" y2="589.60" stroke="#1c1c1c" stroke-width="1"/>
<line x1="205.10" y1="471.50" x2="208.10" y2="471.50" stroke="#1c1c1c" stroke-width="1"/>
<text x="186.82" y="474.50" font-size="8.29" textLength="15.48" lengthAdjust="spacingAndGlyphs" fill="#1c1c1c" stroke="#1c1c1c" stroke-width="0.18">130</text>
<line x1="205.10" y1="485.86" x2="208.10" y2="485.86" stroke="#1c1c1c" stroke-width="1"/>
<text x="186.82" y="488.86" font-size="8.29" textLength="15.48" lengthAdjust="spacingAndGlyphs" fill="#1c1c1c" stroke="#1c1c1c" stroke-width="0.18">120</text>
<line x1="205.10" y1="500.22" x2="208.10" y2="500.22" stroke="#1c1c1c" stroke-width="1"/>
<text x="187.47" y="503.22" font-size="8.29" textLength="14.80" lengthAdjust="spacingAndGlyphs" fill="#1c1c1c" stroke="#1c1c1c" stroke-width="0.18">110</text>
<line x1="205.10" y1="514.58" x2="208.10" y2="514.58" stroke="#1c1c1c" stroke-width="1"/>
<text x="186.82" y="517.58" font-size="8.29" textLength="15.48" lengthAdjust="spacingAndGlyphs" fill="#1c1c1c" stroke="#1c1c1c" stroke-width="0.18">100</text>
<line x1="205.10" y1="528.94" x2="208.10" y2="528.94" stroke="#1c1c1c" stroke-width="1"/>
<text x="191.97" y="531.94" font-size="8.29" textLength="10.32" lengthAdjust="spacingAndGlyphs" fill="#1c1c1c" stroke="#1c1c1c" stroke-width="0.18">90</text>
<line x1="205.10" y1="543.30" x2="208.10" y2="543.30" stroke="#1c1c1c" stroke-width="1"/>
<text x="191.97" y="546.30" font-size="8.29" textLength="10.32" lengthAdjust="spacingAndGlyphs" fill="#1c1c1c" stroke="#1c1c1c" stroke-width="0.18">80</text>
<line x1="205.10" y1="557.66" x2="208.10" y2="557.66" stroke="#1c1c1c" stroke-width="1"/>
<text x="191.97" y="560.66" font-size="8.29" textLength="10.32" lengthAdjust="spacingAndGlyphs" fill="#1c1c1c" stroke="#1c1c1c" stroke-width="0.18">70</text>
<line x1="205.10" y1="572.02" x2="208.10" y2="572.02" stroke="#1c1c1c" stroke-width="1"/>
<text x="191.97" y="575.02" font-size="8.29" textLength="10.32" lengthAdjust="spacingAndGlyphs" fill="#1c1c1c" stroke="#1c1c1c" stroke-width="0.18">60</text>
<line x1="205.10" y1="586.38" x2="208.10" y2="586.38" stroke="#1c1c1c" stroke-width="1"/>
<text x="191.97" y="589.38" font-size="8.29" textLength="10.32" lengthAdjust="spacingAndGlyphs" fill="#1c1c1c" stroke="#1c1c1c" stroke-width="0.18">50</text>
<text x="207.39" y="461.90" font-size="7.83" textLength="16.00" lengthAdjust="spacingAndGlyphs" fill="#1c1c1c" stroke="#1c1c1c" stroke-width="0.18">n=5</text>
<text transform="translate(181.20,540.34) rotate(-90)" font-size="11.17" textLength="25.64" lengthAdjust="spacingAndGlyphs" fill="#1c1c1c" stroke="#1c1c1c" stroke-width="0.35">Cell size</text>
<line x1="238.80" y1="515.70" x2="238.80" y2="506.70" stroke="#444" stroke-width="1"/>
<line x1="236.70" y1="506.70" x2="240.90" y2="506.70" stroke="#111" stroke-width="1.1"/>
<rect x="226.80" y="515.70" width="24.50" height="70.70" fill="#A2002A"/>
<path d="M227.20 586.40V516.10H250.90V586.40" fill="none" stroke="#8E0022" stroke-width="0.8"/>
<line x1="263.80" y1="497.70" x2="263.80" y2="481.30" stroke="#444" stroke-width="1"/>
<line x1="261.70" y1="481.30" x2="265.90" y2="481.30" stroke="#111" stroke-width="1.1"/>
<rect x="251.30" y="497.70" width="24.60" height="88.70" fill="#2E4C7E"/>
<path d="M251.70 586.40V498.10H275.50V586.40" fill="none" stroke="#1F3A6E" stroke-width="0.8"/>
<line x1="240.00" y1="476.20" x2="261.80" y2="476.20" stroke="#1a1a1a" stroke-width="1.1"/>
<text x="244.85" y="474.30" font-size="8.29" font-style="italic" textLength="11.46" lengthAdjust="spacingAndGlyphs" fill="#1c1c1c" stroke="#1c1c1c" stroke-width="0.18">NS</text>
<text transform="translate(241.40,597.40) rotate(-45)" font-size="9.10" text-anchor="end" textLength="25.39" lengthAdjust="spacingAndGlyphs" fill="#1c1c1c" stroke="#1c1c1c" stroke-width="0.2">DMSO</text>
<text transform="translate(266.40,597.70) rotate(-45)" font-size="9.10" text-anchor="end" textLength="21.17" lengthAdjust="spacingAndGlyphs" fill="#1c1c1c" stroke="#1c1c1c" stroke-width="0.2">RSL3</text>
<line x1="357.70" y1="469.00" x2="357.70" y2="589.40" stroke="#1c1c1c" stroke-width="1.3"/>
<line x1="357.70" y1="586.20" x2="443.30" y2="586.20" stroke="#1c1c1c" stroke-width="1.3"/>
<line x1="443.30" y1="586.20" x2="443.30" y2="589.40" stroke="#1c1c1c" stroke-width="1"/>
<line x1="354.70" y1="471.50" x2="357.70" y2="471.50" stroke="#1c1c1c" stroke-width="1"/>
<text x="338.72" y="474.50" font-size="8.29" textLength="12.90" lengthAdjust="spacingAndGlyphs" fill="#1c1c1c" stroke="#1c1c1c" stroke-width="0.18">0.6</text>
<line x1="354.70" y1="490.62" x2="357.70" y2="490.62" stroke="#1c1c1c" stroke-width="1"/>
<text x="338.67" y="493.62" font-size="8.29" textLength="12.90" lengthAdjust="spacingAndGlyphs" fill="#1c1c1c" stroke="#1c1c1c" stroke-width="0.18">0.5</text>
<line x1="354.70" y1="509.74" x2="357.70" y2="509.74" stroke="#1c1c1c" stroke-width="1"/>
<text x="338.58" y="512.74" font-size="8.29" textLength="12.90" lengthAdjust="spacingAndGlyphs" fill="#1c1c1c" stroke="#1c1c1c" stroke-width="0.18">0.4</text>
<line x1="354.70" y1="528.86" x2="357.70" y2="528.86" stroke="#1c1c1c" stroke-width="1"/>
<text x="338.72" y="531.86" font-size="8.29" textLength="12.90" lengthAdjust="spacingAndGlyphs" fill="#1c1c1c" stroke="#1c1c1c" stroke-width="0.18">0.3</text>
<line x1="354.70" y1="547.98" x2="357.70" y2="547.98" stroke="#1c1c1c" stroke-width="1"/>
<text x="338.76" y="550.98" font-size="8.29" textLength="12.90" lengthAdjust="spacingAndGlyphs" fill="#1c1c1c" stroke="#1c1c1c" stroke-width="0.18">0.2</text>
<line x1="354.70" y1="567.10" x2="357.70" y2="567.10" stroke="#1c1c1c" stroke-width="1"/>
<text x="338.76" y="570.10" font-size="8.29" textLength="12.90" lengthAdjust="spacingAndGlyphs" fill="#1c1c1c" stroke="#1c1c1c" stroke-width="0.18">0.1</text>
<line x1="354.70" y1="586.22" x2="357.70" y2="586.22" stroke="#1c1c1c" stroke-width="1"/>
<text x="346.42" y="589.22" font-size="8.29" textLength="5.16" lengthAdjust="spacingAndGlyphs" fill="#1c1c1c" stroke="#1c1c1c" stroke-width="0.18">0</text>
<text x="357.58" y="462.00" font-size="7.83" textLength="16.22" lengthAdjust="spacingAndGlyphs" fill="#1c1c1c" stroke="#1c1c1c" stroke-width="0.18">n=5</text>
<text transform="translate(333.90,542.61) rotate(-90)" font-size="10.76" textLength="30.02" lengthAdjust="spacingAndGlyphs" fill="#1c1c1c" stroke="#1c1c1c" stroke-width="0.35">N/C ratio</text>
<line x1="387.70" y1="486.50" x2="387.70" y2="480.30" stroke="#444" stroke-width="1"/>
<line x1="385.60" y1="480.30" x2="389.80" y2="480.30" stroke="#111" stroke-width="1.1"/>
<rect x="376.60" y="486.50" width="23.10" height="99.70" fill="#A2002A"/>
<path d="M377.00 586.20V486.90H399.30V586.20" fill="none" stroke="#8E0022" stroke-width="0.8"/>
<line x1="411.50" y1="489.30" x2="411.50" y2="485.40" stroke="#444" stroke-width="1"/>
<line x1="409.40" y1="485.40" x2="413.60" y2="485.40" stroke="#111" stroke-width="1.1"/>
<rect x="399.70" y="489.30" width="23.50" height="96.90" fill="#2E4C7E"/>
<path d="M400.10 586.20V489.70H422.80V586.20" fill="none" stroke="#1F3A6E" stroke-width="0.8"/>
<line x1="391.20" y1="468.80" x2="412.60" y2="468.80" stroke="#1a1a1a" stroke-width="1.1"/>
<text x="396.26" y="467.10" font-size="8.29" font-style="italic" textLength="11.16" lengthAdjust="spacingAndGlyphs" fill="#1c1c1c" stroke="#1c1c1c" stroke-width="0.18">NS</text>
<text transform="translate(391.20,596.80) rotate(-45)" font-size="9.10" text-anchor="end" textLength="25.39" lengthAdjust="spacingAndGlyphs" fill="#1c1c1c" stroke="#1c1c1c" stroke-width="0.2">DMSO</text>
<text transform="translate(414.60,597.90) rotate(-45)" font-size="9.10" text-anchor="end" textLength="21.17" lengthAdjust="spacingAndGlyphs" fill="#1c1c1c" stroke="#1c1c1c" stroke-width="0.2">RSL3</text>
<rect x="0.6" y="0.6" width="518.8" height="622.8" fill="none" stroke="#000" stroke-width="1.4"/>
</svg>
</body></html>
